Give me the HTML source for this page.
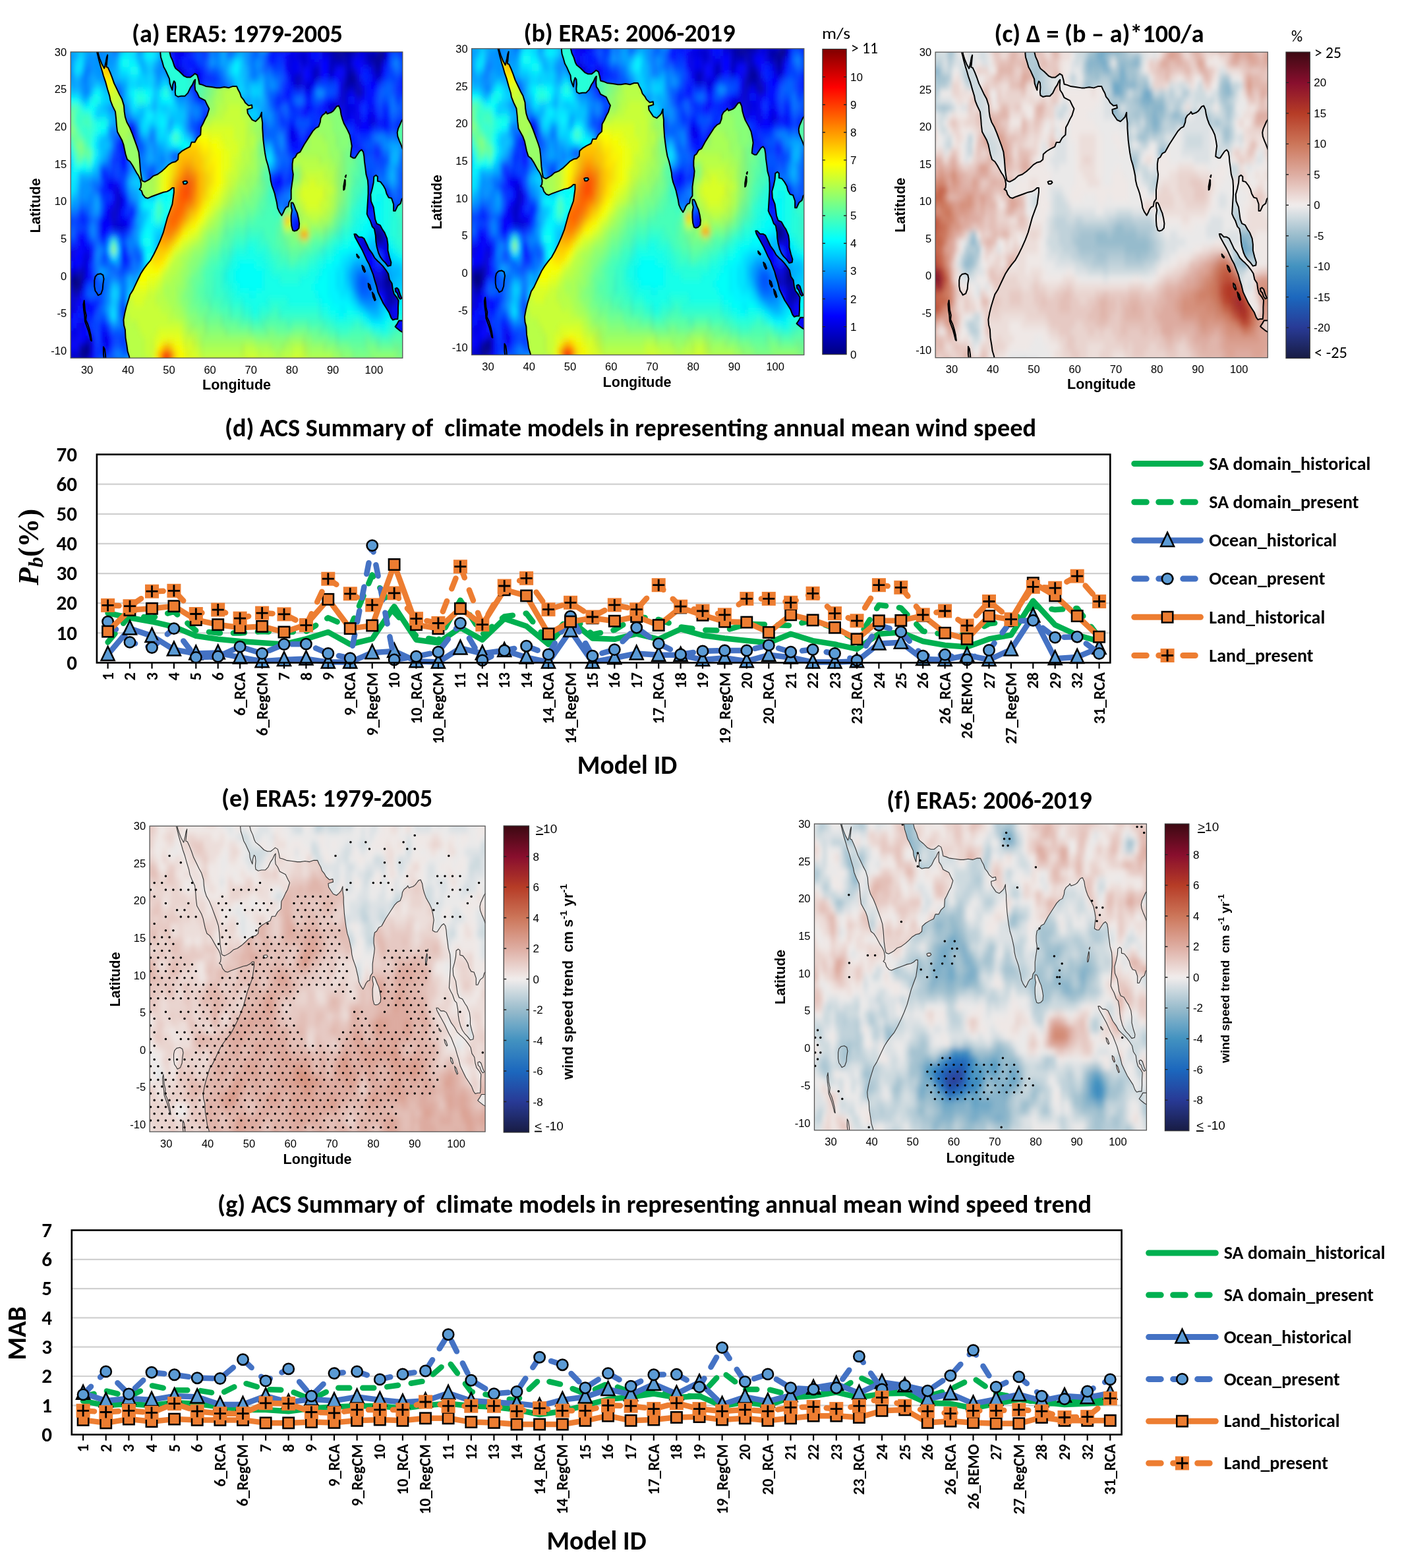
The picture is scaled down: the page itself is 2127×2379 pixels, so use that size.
<!DOCTYPE html><html><head><meta charset="utf-8"><title>Figure</title><style>html,body{margin:0;padding:0;background:#fff;}svg{display:block;}</style></head><body><svg width="2127" height="2379" viewBox="0 0 2127 2379">
<rect width="2127" height="2379" fill="#fff"/>
<defs>
<path id="oceanp" d="M406 -140 405 -115 403 -108 399 -101 397 -93 394 -83 393 -72 390 -66 389 -59 392 -50 396 -41 401 -32 405 -25 412 -19 418 -12 424 -5 431 3 438 9 446 15 455 21 463 29 471 38 479 48 486 58 491 68 496 78 502 87 508 96 510 104 512 112 512 118 508 118 502 115 495 113 486 112 476 110 466 108 456 106 448 104 442 105 436 109 433 114 428 116 431 118 432 123 430 129 426 134 421 138 416 143 411 148 405 153 398 156 394 163 389 176 385 182 379 188 374 193 372 202 371 210 369 220 362 228 357 235 355 241 350 250 345 260 340 268 337 274 333 281 329 289 326 296 324 300 324 310 328 310 327 298 331 291 336 284 342 278 344 282 346 287 348 293 350 296 350 295 349 290 348 284 347 280 351 279 356 273 361 266 366 258 373 250 379 243 385 237 390 228 391 220 393 213 397 206 404 199 410 191 416 182 422 173 426 166 428 157 429 150 430 142 432 134 434 128 436 127 441 126 448 128 454 130 462 134 472 136 482 140 490 144 499 149 508 152 516 153 522 156 523 163 531 167 540 170 551 173 555 179 563 179 569 185 577 189 578 199 583 204 588 210 593 215 598 224 594 228 588 235 581 237 574 239 569 245 564 249 563 255 564 263 561 261 557 256 552 252 546 245 539 241 530 241 522 240 516 242 515 246 516 253 515 259 512 261 509 256 508 249 505 253 502 258 501 264 496 270 492 275 487 280 484 286 480 293 479 298 480 310 500 310 501 301 504 294 509 288 513 281 516 278 525 274 536 268 544 266 552 266 559 269 563 271 569 269 572 263 574 257 581 256 590 254 604 253 616 252 624 252 635 253 646 252 656 254 665 254 669 249 673 245 676 240 682 236 686 232 694 228 702 229 703 225 697 224 691 223 692 218 698 213 703 209 711 207 717 210 722 213 726 219 726 213 728 205 728 198 729 190 730 182 732 173 734 165 737 156 741 149 744 142 747 134 748 128 751 121 755 115 758 110 760 105 763 98 765 91 769 86 775 81 779 85 782 89 786 92 791 93 793 99 798 103 798 108 798 115 800 123 802 130 803 136 801 143 801 150 803 157 808 159 813 164 820 166 824 170 830 176 837 182 844 188 851 194 858 198 865 200 869 206 870 211 874 215 881 218 883 220 886 217 891 218 896 219 901 221 905 224 909 227 914 228 918 223 920 216 923 210 927 204 931 200 936 195 941 189 944 181 946 174 944 166 943 160 949 158 954 158 960 163 965 167 970 169 974 166 976 160 977 153 979 145 981 136 985 128 986 120 986 110 985 101 984 92 983 83 986 79 991 74 996 66 1001 63 1004 54 1005 46 1007 39 1011 31 1015 26 1020 22 1027 18 1034 13 1041 14 1042 18 1038 25 1034 34 1034 42 1032 50 1026 58 1021 62 1015 68 1007 70 1003 76 1001 84 999 92 993 100 992 109 996 117 999 125 1000 133 1005 135 1009 133 1009 127 1016 126 1023 121 1028 116 1031 110 1036 105 1043 104 1048 96 1048 87 1052 87 1058 94 1065 97 1068 103 1072 105 1100 105 1100 165 1075 166 1070 170 1066 176 1062 181 1058 187 1057 192 1059 197 1063 202 1067 207 1072 211 1100 212 1100 -140zM798 98 802 98 805 95 809 89 813 84 816 77 818 70 817 64 812 61 806 60 802 61 799 67 798 74 798 81 800 88 798 93zM952 56 956 56 963 52 970 52 976 50 983 42 988 36 996 30 1002 24 1009 20 1015 17 1022 13 1029 8 1035 3 1038 -5 1044 -10 1046 -18 1049 -24 1056 -29 1060 -33 1059 -42 1059 -50 1058 -58 1052 -58 1046 -59 1042 -56 1037 -49 1030 -43 1023 -37 1016 -29 1010 -22 1006 -13 1002 -6 998 2 993 9 988 16 982 22 977 28 972 34 968 38 963 43 958 48 954 52zM1052 -68 1057 -64 1061 -60 1067 -60 1073 -60 1085 -65 1085 -80 1075 -77 1065 -74 1056 -70zM1052 -17 1056 -16 1060 -18 1064 -25 1068 -30 1064 -31 1060 -28 1057 -23 1053 -21zM534 126 538 127 543 127 545 125 541 123 536 123zM929 129 930 128 930 122 928 116 926 115 926 120 928 126zM930 133 932 135 931 132zM958 29 964 25 963 24 959 26zM971 14 975 12 979 6 977 5 973 9zM986 -10 990 -12 993 -18 991 -19 987 -15zM996 -22 1000 -25 1004 -32 1002 -33 998 -28z"/>
<path id="coast" vector-effect="non-scaling-stroke" stroke-linejoin="round" d="M406 -140 405 -115 403 -108 399 -101 397 -93 394 -83 393 -72 390 -66 389 -59 392 -50 396 -41 401 -32 405 -25 412 -19 418 -12 424 -5 431 3 438 9 446 15 455 21 463 29 471 38 479 48 486 58 491 68 496 78 502 87 508 96 510 104 512 112 512 118 508 118 502 115 495 113 486 112 476 110 466 108 456 106 448 104 442 105 436 109 433 114 428 116 431 118 432 123 430 129 426 134 421 138 416 143 411 148 405 153 398 156 394 163 389 176 385 182 379 188 374 193 372 202 371 210 369 220 362 228 357 235 355 241 350 250 345 260 340 268 337 274 333 281 329 289 326 296 324 300 324 310 328 310 327 298 331 291 336 284 342 278 344 282 346 287 348 293 350 296 350 295 349 290 348 284 347 280 351 279 356 273 361 266 366 258 373 250 379 243 385 237 390 228 391 220 393 213 397 206 404 199 410 191 416 182 422 173 426 166 428 157 429 150 430 142 432 134 434 128 436 127 441 126 448 128 454 130 462 134 472 136 482 140 490 144 499 149 508 152 516 153 522 156 523 163 531 167 540 170 551 173 555 179 563 179 569 185 577 189 578 199 583 204 588 210 593 215 598 224 594 228 588 235 581 237 574 239 569 245 564 249 563 255 564 263 561 261 557 256 552 252 546 245 539 241 530 241 522 240 516 242 515 246 516 253 515 259 512 261 509 256 508 249 505 253 502 258 501 264 496 270 492 275 487 280 484 286 480 293 479 298 480 310 500 310 501 301 504 294 509 288 513 281 516 278 525 274 536 268 544 266 552 266 559 269 563 271 569 269 572 263 574 257 581 256 590 254 604 253 616 252 624 252 635 253 646 252 656 254 665 254 669 249 673 245 676 240 682 236 686 232 694 228 702 229 703 225 697 224 691 223 692 218 698 213 703 209 711 207 717 210 722 213 726 219 726 213 728 205 728 198 729 190 730 182 732 173 734 165 737 156 741 149 744 142 747 134 748 128 751 121 755 115 758 110 760 105 763 98 765 91 769 86 775 81 779 85 782 89 786 92 791 93 793 99 798 103 798 108 798 115 800 123 802 130 803 136 801 143 801 150 803 157 808 159 813 164 820 166 824 170 830 176 837 182 844 188 851 194 858 198 865 200 869 206 870 211 874 215 881 218 883 220 886 217 891 218 896 219 901 221 905 224 909 227 914 228 918 223 920 216 923 210 927 204 931 200 936 195 941 189 944 181 946 174 944 166 943 160 949 158 954 158 960 163 965 167 970 169 974 166 976 160 977 153 979 145 981 136 985 128 986 120 986 110 985 101 984 92 983 83 986 79 991 74 996 66 1001 63 1004 54 1005 46 1007 39 1011 31 1015 26 1020 22 1027 18 1034 13 1041 14 1042 18 1038 25 1034 34 1034 42 1032 50 1026 58 1021 62 1015 68 1007 70 1003 76 1001 84 999 92 993 100 992 109 996 117 999 125 1000 133 1005 135 1009 133 1009 127 1016 126 1023 121 1028 116 1031 110 1036 105 1043 104 1048 96 1048 87 1052 87 1058 94 1065 97 1068 103 1072 105 1100 105 1100 165 1075 166 1070 170 1066 176 1062 181 1058 187 1057 192 1059 197 1063 202 1067 207 1072 211 1100 212 1100 -140zM798 98 802 98 805 95 809 89 813 84 816 77 818 70 817 64 812 61 806 60 802 61 799 67 798 74 798 81 800 88 798 93zM952 56 956 56 963 52 970 52 976 50 983 42 988 36 996 30 1002 24 1009 20 1015 17 1022 13 1029 8 1035 3 1038 -5 1044 -10 1046 -18 1049 -24 1056 -29 1060 -33 1059 -42 1059 -50 1058 -58 1052 -58 1046 -59 1042 -56 1037 -49 1030 -43 1023 -37 1016 -29 1010 -22 1006 -13 1002 -6 998 2 993 9 988 16 982 22 977 28 972 34 968 38 963 43 958 48 954 52zM1052 -68 1057 -64 1061 -60 1067 -60 1073 -60 1085 -65 1085 -80 1075 -77 1065 -74 1056 -70zM1052 -17 1056 -16 1060 -18 1064 -25 1068 -30 1064 -31 1060 -28 1057 -23 1053 -21zM534 126 538 127 543 127 545 125 541 123 536 123zM929 129 930 128 930 122 928 116 926 115 926 120 928 126zM930 133 932 135 931 132zM958 29 964 25 963 24 959 26zM971 14 975 12 979 6 977 5 973 9zM986 -10 990 -12 993 -18 991 -19 987 -15zM996 -22 1000 -25 1004 -32 1002 -33 998 -28zM320 -1 325 2 333 3 339 1 341 -4 339 -11 338 -18 334 -24 327 -26 324 -23 320 -20 318 -14 318 -6zM293 -33 294 -39 295 -46 298 -53 297 -59 302 -65 306 -72 309 -79 311 -87 309 -86 306 -79 303 -73 299 -67 295 -61 294 -53 292 -46 291 -38zM340 -95 343 -98 345 -106 346 -115 347 -125 344 -124 342 -114 340 -105z"/>
<filter id="blA" x="-2%" y="-2%" width="104%" height="104%"><feGaussianBlur stdDeviation="3.2 5.5"/></filter>
<filter id="blB" x="-2%" y="-2%" width="104%" height="104%"><feGaussianBlur stdDeviation="3 5"/></filter>
</defs>
<clipPath id="bxa"><rect x="107.2" y="78.8" width="503.6" height="464.4"/></clipPath>
<clipPath id="oca"><use href="#oceanp" transform="matrix(0.62173,0,0,-1.13268,-54.449,418.605)" clip-rule="evenodd"/></clipPath>
<g clip-path="url(#bxa)">
<g filter="url(#blA)"><g transform="matrix(6.2173,0,0,11.3268,94.77,56.15)" fill="none" stroke-width="1.04"><path stroke="#000080" d="M26 0.5h1m42 0h1m1 0h1M70 1.5h1M77 2.5h1M75 26.5h3M39 27.5h1m34 0h2M39 28.5h2M39 29.5h2m25 0h1M38 30.5h4m24 0h1M38 31.5h5m22 0h2m13 0h1M2 32.5h2m35 0h5m22 0h1m12 0h2M3 33.5h1m36 0h5M44 34.5h1m19 0h2m1 0h1M41 35.5h3m2 0h1m2 0h1M38 36.5h7m1 0h1m2 0h2m5 0h3M38 37.5h9m2 0h3m4 0h5m5 0h1M32 38.5h1m2 0h1m2 0h15m3 0h6m4 0h1M34 39.5h3m2 0h14m3 0h1m1 0h1m7 0h2M31 40.5h1m2 0h4m1 0h2m1 0h1m1 0h8m1 0h4m2 0h2M31 41.5h3m3 0h4m4 0h4m2 0h7m2 0h1M5 42.5h1m25 0h4m1 0h4m2 0h2m7 0h1m3 0h3m5 0h1M31 43.5h10m1 0h3m5 0h4m2 0h5m1 0h2m3 0h2M28 44.5h2m2 0h9m2 0h4m3 0h5m3 0h6m1 0h5M28 45.5h2m3 0h8m2 0h5m6 0h2m3 0h5m2 0h2m1 0h1"/><path stroke="#000090" d="M27 0.5h1m35 0h2m3 0h1m1 0h1M68 1.5h2m1 0h1M67 2.5h1m10 0h1M70 5.5h1M69 27.5h1M65 28.5h2M38 29.5h1m26 0h1M65 30.5h1M79 31.5h1M4 32.5h1m60 0h1m1 0h1m5 0h2M2 33.5h1m64 0h1m3 0h1M40 34.5h2m1 0h1m22 0h1m1 0h1m1 0h2M35 35.5h2m2 0h2m3 0h1m2 0h1m19 0h3M34 36.5h1m16 0h1m7 0h1M47 37.5h1m4 0h1m2 0h1M33 38.5h2m1 0h1m16 0h1m1 0h1m9 0h1M31 39.5h2m4 0h2m14 0h3m1 0h1m1 0h1m1 0h1M30 40.5h1m1 0h2m4 0h1m2 0h1m1 0h1m8 0h1m4 0h1m3 0h1m4 0h2m1 0h2M5 41.5h2m23 0h1m3 0h3m12 0h1m11 0h1m13 0h1M4 42.5h1m30 0h1m4 0h1m6 0h2m3 0h2m8 0h1m1 0h1m2 0h1M29 43.5h1m15 0h1m1 0h1m13 0h1m4 0h1M47 44.5h1M41 45.5h1m7 0h3m4 0h1m11 0h1"/><path stroke="#0000a0" d="M30 0.5h2m40 0h1M66 2.5h1m1 0h1m6 0h2M76 3.5h2M71 5.5h1M69 6.5h1M72 7.5h1M64 24.5h2M76 25.5h1M69 26.5h1m4 0h1M68 27.5h1m7 0h2M67 28.5h1M67 31.5h1M71 32.5h2m2 0h1m5 0h1M4 33.5h1m34 0h1m24 0h3m5 0h2m1 0h2m2 0h1M35 34.5h1m6 0h1m2 0h2m22 0h1M34 35.5h1m3 0h1m9 0h1m16 0h2m13 0h1M33 36.5h1m11 0h1m1 0h1m7 0h1m10 0h2M33 37.5h2m2 0h1m10 0h1m16 0h1m1 0h1m10 0h1M37 38.5h1m16 0h1m7 0h2m3 0h1M33 39.5h1m28 0h1m5 0h1m2 0h1m2 0h1M58 40.5h1m3 0h1m5 0h1m5 0h2m7 0h1M42 41.5h3m5 0h1m8 0h1m2 0h2M0 42.5h1m5 0h1m23 0h1m13 0h2m4 0h1m3 0h1m11 0h1m1 0h1m6 0h1m3 0h1M30 43.5h1m10 0h1m12 0h1m9 0h2m3 0h1m8 0h2M41 44.5h2M30 45.5h1m1 0h1m9 0h1m15 0h1m6 0h1"/><path stroke="#0000b0" d="M65 0.5h1M26 1.5h1m37 0h4m9 0h1M69 2.5h1m4 0h1M69 3.5h1m5 0h1M65 4.5h1m4 0h1m5 0h2M57 5.5h1m11 0h1M70 6.5h2M66 9.5h1M69 17.5h1M68 18.5h1M65 23.5h1M65 25.5h1m11 0h1M68 26.5h1m1 0h1m7 0h1M78 27.5h1M64 28.5h1m3 0h1M41 29.5h1m25 0h1m15 0h1M4 31.5h1m38 0h1m27 0h1M64 32.5h1m11 0h1m1 0h1M45 33.5h1m22 0h1m1 0h1m3 0h1m3 0h1m1 0h1M3 34.5h1m32 0h1m2 0h1m35 0h1m3 0h3M45 35.5h1m18 0h1m5 0h1m8 0h1M48 36.5h1m19 0h2M77 37.5h1m1 0h1M64 38.5h1m13 0h1M60 39.5h1m2 0h1m5 0h1m5 0h1M71 40.5h1M0 41.5h1m3 0h1m61 0h1m2 0h1m4 0h1m4 0h1m3 0h1M29 42.5h1m11 0h1m7 0h1m8 0h1m2 0h1m12 0h1M2 43.5h1m2 0h1m40 0h1m1 0h2m5 0h1M5 44.5h1m24 0h2m17 0h1m7 0h1m6 0h1M48 45.5h1m4 0h1m3 0h1"/><path stroke="#0000c0" d="M25 0.5h1m3 0h1m2 0h1M63 1.5h1m14 0h1M65 2.5h1m4 0h1M65 3.5h4M61 4.5h2m6 0h1M29 5.5h1m31 0h1M57 6.5h1m10 0h1m3 0h1M68 7.5h1m2 0h1M68 8.5h1M65 9.5h1M66 10.5h1M15 13.5h1M60 15.5h1M69 18.5h1M13 21.5h1M13 22.5h1M12 23.5h1M12 24.5h1M64 25.5h1m5 0h2M71 26.5h1M63 27.5h5m2 0h2M64 29.5h1M79 30.5h2M2 31.5h2m1 0h1m58 0h1m5 0h1m2 0h2m3 0h1m2 0h1M1 32.5h1m36 0h1M77 33.5h1m3 0h1M2 34.5h1m69 0h1m9 0h1M37 35.5h1m43 0h1M2 36.5h1m32 0h3m14 0h1M0 37.5h1m34 0h2m16 0h2m6 0h1M68 38.5h2m9 0h1M64 39.5h2m4 0h1m7 0h1m4 0h1M6 40.5h1m70 0h2M29 41.5h1m11 0h1m23 0h1m2 0h1m1 0h1m5 0h1m1 0h1M1 42.5h1m44 0h1m13 0h1m4 0h1m10 0h1m1 0h1m5 0h1M0 43.5h1m2 0h2m23 0h1M55 44.5h1m24 0h1M5 45.5h1m46 0h1m11 0h1"/><path stroke="#0000d0" d="M28 0.5h1m33 0h1m10 0h1M27 1.5h4m28 0h1m12 0h3M57 2.5h3m11 0h1M58 3.5h2m10 0h1m3 0h1M27 4.5h2m42 0h1M28 5.5h1m3 0h1m23 0h1m1 0h1m3 0h1m2 0h1m10 0h2M59 6.5h2M69 7.5h1m3 0h1M67 9.5h1m1 0h1M69 10.5h1M67 11.5h1m7 0h1M16 13.5h1M15 14.5h1M61 15.5h1M61 16.5h1m6 0h2M68 17.5h1M68 19.5h1M13 20.5h1M13 23.5h1m50 0h1m1 0h1m1 0h2M69 24.5h2M12 25.5h3m54 0h1m5 0h1m2 0h1M63 26.5h3m1 0h1M73 27.5h1M63 28.5h1m5 0h1m4 0h2M2 29.5h1m2 0h1m73 0h1M5 30.5h1m58 0h1m2 0h1m3 0h1M37 31.5h1m34 0h1M5 32.5h1m38 0h1m18 0h1m4 0h1m1 0h1m6 0h1M36 33.5h1m1 0h1m24 0h1M38 34.5h1m24 0h1m10 0h1M2 35.5h1m47 0h1m20 0h1M54 36.5h1m10 0h1m4 0h1m6 0h3m4 0h1M62 37.5h3m4 0h1m5 0h1M0 38.5h1m3 0h1m26 0h1m39 0h1m2 0h2m1 0h1m2 0h1M30 39.5h1m41 0h1m6 0h1M65 40.5h1m7 0h1m2 0h1m5 0h1M58 41.5h1m8 0h1m9 0h1m2 0h1m1 0h1m1 0h1M2 42.5h2m55 0h1m9 0h1m10 0h1m2 0h1m1 0h1M1 43.5h1m68 0h2m3 0h1m4 0h1m3 0h1M2 44.5h1m1 0h1m43 0h1m7 0h1m13 0h1m8 0h1m1 0h1M80 45.5h1"/><path stroke="#0000e1" d="M61 0.5h1m5 0h1m9 0h1M58 1.5h1m16 0h2M55 2.5h2m6 0h2m7 0h2M55 3.5h1m4 0h1m1 0h1m10 0h1m4 0h1M29 4.5h1m25 0h1m2 0h1m7 0h1m8 0h1M68 5.5h1m3 0h1M32 6.5h1m23 0h1m1 0h1M67 8.5h1m1 0h1m2 0h1M68 9.5h1m1 0h2M67 10.5h1m3 0h1m3 0h1M68 11.5h1m3 0h1m3 0h1M67 12.5h1M56 13.5h1M60 14.5h1M59 15.5h1M47 19.5h2m16 0h3m3 0h1M12 20.5h1M14 21.5h1m61 0h1M12 22.5h1m1 0h1m50 0h1m10 0h1M11 23.5h1m29 0h1M13 24.5h1m54 0h1M15 25.5h1m41 0h1m10 0h1M66 26.5h1m14 0h2M72 27.5h1M2 28.5h1m68 0h3m4 0h2m3 0h1M6 29.5h1m56 0h1m18 0h1M42 30.5h1m27 0h1m12 0h1M61 31.5h1m6 0h1m6 0h1m1 0h1M37 32.5h1m23 0h1m20 0h1M1 33.5h1m67 0h1m12 0h1M4 34.5h1m32 0h1m22 0h1m15 0h1m1 0h1m4 0h1M3 35.5h1m55 0h1m24 0h1M0 36.5h2m51 0h1m6 0h1m14 0h1m4 0h1M68 37.5h1m1 0h1m5 0h1m3 0h1m4 0h1M72 38.5h1m12 0h1M2 39.5h2m69 0h1m8 0h1M2 40.5h1m7 0h1m61 0h1m11 0h1M1 41.5h1m8 0h1m53 0h1m6 0h1m1 0h1m7 0h1m3 0h1M72 42.5h2M6 43.5h1m65 0h1m10 0h1M0 44.5h2m1 0h1m74 0h1M4 45.5h1m2 0h1m23 0h1m38 0h1m4 0h1m5 0h1"/><path stroke="#0000f1" d="M59 0.5h2m5 0h1m18 0h1M31 1.5h1m25 0h1M28 2.5h1m31 0h1m18 0h1M28 3.5h1m25 0h1m1 0h2m3 0h1M32 4.5h1m23 0h2m2 0h1m7 0h1M27 5.5h1m2 0h2m1 0h1m21 0h1m4 0h1m6 0h1m7 0h1M33 6.5h1m39 0h1M59 7.5h2m6 0h1m2 0h1M66 8.5h1m4 0h1M59 9.5h1m4 0h1m10 0h1M65 10.5h1m2 0h1m1 0h1m1 0h1M69 11.5h1m1 0h1m2 0h1m3 0h1M16 12.5h2m37 0h2M17 13.5h1m37 0h1m4 0h1M16 14.5h1m44 0h1M15 15.5h1M60 16.5h1m4 0h1M70 18.5h1M11 19.5h2m57 0h1M66 20.5h2m3 0h1M78 21.5h2M41 22.5h1m26 0h2m3 0h3M67 23.5h1M10 24.5h2m2 0h2m41 0h1m8 0h1m9 0h1M9 25.5h1m53 0h1m2 0h1m12 0h1m1 0h2M57 26.5h1m14 0h2m6 0h1m2 0h1M4 27.5h1m51 0h2m21 0h6M3 28.5h1m1 0h2m50 0h1m12 0h1m5 0h1m5 0h1M68 29.5h1m2 0h1m8 0h1M4 30.5h1m67 0h1m5 0h1m2 0h1M1 31.5h1m67 0h1m6 0h1M37 33.5h1m22 0h1m22 0h1M1 34.5h1m45 0h1m13 0h1m11 0h1M1 35.5h1m3 0h1m54 0h1m2 0h1m8 0h1m2 0h1m2 0h1m3 0h1M3 36.5h1m60 0h1m6 0h1m4 0h1m6 0h1m1 0h1M71 37.5h2m1 0h1m6 0h1m2 0h1M5 38.5h1m64 0h1m10 0h1M1 39.5h1m2 0h1m5 0h1m66 0h1m6 0h1M1 40.5h1m1 0h1m1 0h1m1 0h1m55 0h1m15 0h1M3 41.5h1m3 0h1m64 0h1M7 42.5h1m63 0h1m5 0h1M74 43.5h1m2 0h1m4 0h1m2 0h1M6 44.5h2m63 0h1m3 0h1m6 0h1m1 0h2M6 45.5h1m72 0h1m5 0h1"/><path stroke="#0002ff" d="M33 0.5h1m17 0h2m23 0h1M52 1.5h1m3 0h1m3 0h3m16 0h1M27 2.5h1m1 0h1m24 0h1M27 3.5h1m35 0h2m6 0h2M33 4.5h1m20 0h1m4 0h1m3 0h2m2 0h1m4 0h1m5 0h1M59 5.5h1m3 0h1m2 0h1M29 6.5h1m1 0h1m29 0h1m5 0h1m7 0h2M33 7.5h1m41 0h1M65 8.5h1m7 0h1m1 0h1M60 9.5h1m2 0h1m8 0h1M59 10.5h1m14 0h1m1 0h1M66 11.5h1m6 0h1m3 0h1M68 12.5h1m3 0h3M57 13.5h1m1 0h1m7 0h2M14 14.5h1m41 0h1m2 0h1M58 15.5h1m6 0h2m1 0h1m3 0h1M15 16.5h1m50 0h1M65 17.5h1M47 18.5h2m16 0h3m3 0h2M13 19.5h1m38 0h2m4 0h1m10 0h1m2 0h1M11 20.5h1m53 0h1m4 0h1m1 0h2m2 0h1M12 21.5h1m56 0h1m3 0h1m1 0h1m1 0h1M11 22.5h1m65 0h3M10 23.5h1m3 0h1m27 0h1M9 24.5h1m6 0h1m41 0h1m12 0h1m5 0h1m2 0h2M10 25.5h2m46 0h1m8 0h1m12 0h1m2 0h1M4 26.5h1m4 0h2m45 0h1m22 0h1m4 0h1M0 27.5h1m4 0h1m79 0h1M1 28.5h1m2 0h1m36 0h1m14 0h1m1 0h1m3 0h1m14 0h1m2 0h1m3 0h1M1 29.5h1m1 0h2m10 0h1m46 0h1m9 0h4m2 0h1m2 0h1m2 0h1M2 30.5h2m2 0h1m56 0h1m5 0h1m3 0h3m8 0h1M6 31.5h1m56 0h1m18 0h1M6 32.5h1m55 0h1m20 0h1m1 0h1M62 33.5h1M62 34.5h1m14 0h1m6 0h1M4 35.5h1m1 0h1m51 0h1m2 0h1m12 0h1m8 0h1M6 36.5h2m53 0h1m1 0h1m8 0h1m1 0h1m6 0h2M1 37.5h2m29 0h1m49 0h2M3 38.5h1m69 0h1m2 0h1m5 0h1m1 0h1M0 39.5h1m4 0h1m70 0h1m3 0h1m4 0h1M0 40.5h1m3 0h1m6 0h1m52 0h1m15 0h2m3 0h1M2 41.5h1m8 0h1M70 42.5h1m10 0h2M7 43.5h1m65 0h1m2 0h1m4 0h1M72 44.5h1M8 45.5h1m63 0h3m1 0h1"/><path stroke="#0012ff" d="M74 0.5h1m3 0h1m5 0h1M25 1.5h1m25 0h1m1 0h1m1 0h1m24 0h1M26 2.5h1m3 0h1m19 0h2m1 0h1m7 0h2M30 3.5h3m18 0h1M30 4.5h1m42 0h2M35 5.5h1m28 0h1m13 0h1M28 6.5h1m1 0h1m24 0h1m18 0h1m8 0h1M54 7.5h2m18 0h1M54 8.5h1m5 0h1m3 0h1m5 0h1m3 0h1m10 0h1M62 9.5h1m11 0h1M58 10.5h1M34 11.5h2m34 0h1m8 0h1M60 12.5h2m9 0h1m3 0h1M14 13.5h1m46 0h1M46 14.5h1m8 0h1m1 0h2m12 0h1M56 15.5h2m4 0h1m6 0h1m3 0h1m2 0h1M14 16.5h1m44 0h1m2 0h1m4 0h1m2 0h1M15 17.5h1m45 0h1m4 0h2m2 0h1M10 18.5h1m47 0h1M10 19.5h1m35 0h1m4 0h1m7 0h1m4 0h1M10 20.5h1m3 0h1m49 0h1m3 0h2M15 21.5h1m58 0h1M15 22.5h1m26 0h1m23 0h2M70 23.5h1m3 0h1m1 0h1m2 0h3M41 24.5h1m21 0h1m15 0h1M16 25.5h1m32 0h1m6 0h1m2 0h1m14 0h1M0 26.5h1m4 0h1m49 0h1m2 0h2M3 27.5h1m36 0h1m14 0h1m2 0h2M7 28.5h1m73 0h1m3 0h1M69 29.5h2M15 30.5h1m52 0h1m7 0h1m5 0h1M62 31.5h1m20 0h1M0 32.5h1m6 0h1m50 0h3m8 0h1M5 33.5h1m55 0h1m22 0h2M57 34.5h1M0 35.5h1m61 0h1m10 0h1M4 36.5h2m56 0h1M3 37.5h3M1 38.5h2m80 0h1M6 39.5h1m2 0h1m71 0h1M9 40.5h1M19 41.5h1M74 44.5h1m2 0h1m5 0h1M78 45.5h1m3 0h1"/><path stroke="#0022ff" d="M53 0.5h1m2 0h1m18 0h1m4 0h1M32 1.5h1m21 0h1m28 0h1M31 2.5h1m20 0h1m29 0h1M26 3.5h1m2 0h1m20 0h1m28 0h1M26 4.5h1m4 0h1m2 0h1M34 5.5h1m1 0h1m36 0h2m7 0h2M54 6.5h1m27 0h1M32 7.5h1m1 0h1m22 0h1m18 0h1m5 0h2M33 8.5h2m17 0h2m1 0h1m3 0h1M56 9.5h1m1 0h1m2 0h1m14 0h1m1 0h1m6 0h1M62 10.5h3m8 0h1m4 0h2M16 11.5h1m38 0h2m4 0h1M15 12.5h1m17 0h1m23 0h1m20 0h2M46 13.5h2m14 0h2m5 0h3M13 14.5h1m48 0h1m2 0h2m1 0h3m1 0h1M14 15.5h1m56 0h1m5 0h1M12 16.5h1m34 0h1M14 17.5h1M52 18.5h2m2 0h1m16 0h1M49 19.5h1M9 20.5h1m37 0h2m2 0h2m21 0h2M63 21.5h3m2 0h1M10 22.5h1m29 0h1M16 23.5h2m22 0h1m34 0h1m1 0h1M4 24.5h2m36 0h1m6 0h2m5 0h1m10 0h1m6 0h2m2 0h1m3 0h1M40 25.5h1m4 0h1m2 0h1m1 0h1m21 0h1M3 26.5h1m10 0h1m24 0h2m44 0h1M6 27.5h1M0 28.5h1m54 0h1m3 0h1M7 29.5h1m49 0h1m18 0h1M1 30.5h1m60 0h1m14 0h1M84 31.5h2M36 32.5h1m47 0h1M0 33.5h1m34 0h1m18 0h1m2 0h1m1 0h1M0 34.5h1m55 0h1M7 35.5h2m68 0h1M73 36.5h1M6 37.5h2m65 0h1M6 38.5h1m2 0h2M11 39.5h1M9 41.5h1m8 0h1M10 42.5h1M8 44.5h1m64 0h1m2 0h1M2 45.5h2m14 0h1m58 0h1m6 0h1"/><path stroke="#0033ff" d="M24 0.5h1m29 0h2m1 0h2m22 0h1m1 0h1M33 1.5h2m46 0h2m1 0h2M34 2.5h1m48 0h1M52 3.5h2M79 4.5h1m3 0h1M37 5.5h1m16 0h1M27 6.5h1m6 0h1m42 0h1m3 0h1m2 0h1M53 7.5h1m2 0h1m1 0h1m22 0h1M40 8.5h1m22 0h1m12 0h1M52 9.5h1m2 0h1m1 0h1m15 0h1m5 0h1M34 10.5h2m17 0h1m2 0h2m2 0h2m15 0h1m7 0h1M33 11.5h1m19 0h2m7 0h1m2 0h1m15 0h3M34 12.5h2m11 0h2m10 0h1m2 0h3m5 0h1m5 0h2m3 0h2M58 13.5h1m5 0h1m1 0h1m5 0h3m10 0h1M17 14.5h1m27 0h1m1 0h1m28 0h1m8 0h1M13 15.5h1m2 0h1m29 0h2m7 0h1m11 0h1m2 0h1M13 16.5h1m43 0h2m4 0h2m11 0h1M12 17.5h1m34 0h1m8 0h3m1 0h1m11 0h1M11 18.5h2m8 0h1m27 0h1m1 0h1m3 0h1m1 0h1m1 0h1m1 0h1m2 0h1M14 19.5h1m6 0h1m28 0h1m3 0h4m15 0h1M53 20.5h1m4 0h1m4 0h1m13 0h3M10 21.5h2m29 0h1m25 0h1m2 0h1m1 0h1M50 22.5h2m12 0h1m7 0h1M4 23.5h1m10 0h1m34 0h2m6 0h1m14 0h1m4 0h1M3 24.5h1m36 0h1m7 0h1m10 0h1m25 0h1M5 25.5h1m35 0h1m13 0h1m28 0h2M11 26.5h1m1 0h1m1 0h1m31 0h2m5 0h1m5 0h1M1 27.5h2m7 0h1M14 28.5h2m28 0h1M10 29.5h1m3 0h1m41 0h1m28 0h1M43 30.5h1m5 0h1m11 0h1m23 0h1M0 31.5h1m6 0h1M57 32.5h1M58 33.5h1M5 34.5h1m43 0h1m35 0h1M76 35.5h1m8 0h1M8 36.5h1m5 0h1M15 37.5h1M7 39.5h1M12 40.5h1m1 0h1m4 0h1M8 41.5h1M8 42.5h2m1 0h1M8 43.5h1M0 45.5h2m9 0h1m59 0h1"/><path stroke="#0043ff" d="M19 0.5h1m59 0h1m2 0h1M35 1.5h1m14 0h1M25 2.5h1m6 0h1m2 0h1M33 3.5h2M35 4.5h1m15 0h3m26 0h1M79 5.5h3m2 0h1M35 6.5h3m15 0h1m8 0h5M13 7.5h1m26 0h1m11 0h1m13 0h1M32 8.5h1m18 0h1m26 0h1m2 0h2M34 9.5h1m1 0h1m40 0h1M36 10.5h1m18 0h1m26 0h3M17 11.5h1m42 0h1m2 0h2m15 0h1m3 0h2M32 12.5h1m21 0h1m3 0h1m7 0h1m2 0h1m10 0h1M18 13.5h1m14 0h1m11 0h1m8 0h1m10 0h1M18 14.5h1m44 0h2m2 0h1m5 0h1M12 15.5h1m25 0h1m35 0h2M56 16.5h1m15 0h2m3 0h2M10 17.5h1m2 0h1m41 0h1m3 0h1m4 0h1m8 0h1m3 0h1M9 18.5h1m3 0h3m16 0h1m12 0h2m3 0h1m3 0h1m19 0h2m7 0h1M44 19.5h2m14 0h1m13 0h3m6 0h1M44 20.5h1m5 0h1m31 0h1M9 21.5h1m32 0h1m8 0h1m14 0h1m4 0h1m10 0h1M16 22.5h1m28 0h3m22 0h1m9 0h3M5 23.5h1m41 0h2m8 0h1m14 0h1m9 0h1m2 0h1M1 24.5h2m3 0h1m38 0h1m9 0h1m16 0h1M3 25.5h2m34 0h1m4 0h1m1 0h1m4 0h1m8 0h1M1 26.5h1m10 0h1m28 0h1m2 0h3M7 27.5h1m1 0h1m4 0h1m26 0h1m12 0h1m5 0h1m1 0h1M42 28.5h2m16 0h1M0 29.5h1m15 0h1m1 0h1m23 0h1m1 0h1m32 0h1M0 30.5h1m6 0h1m6 0h1m1 0h1m27 0h1M14 31.5h1M8 32.5h1m45 0h1M55 33.5h1M50 34.5h1m4 0h1m2 0h2M9 35.5h1m4 0h1m42 0h1M16 37.5h1M7 38.5h2m6 0h2M8 39.5h1M8 40.5h1m4 0h1m1 0h1m2 0h1M12 41.5h1m1 0h2m4 0h1M19 42.5h1M12 43.5h1m13 0h1M12 44.5h1m6 0h1M10 45.5h1m6 0h1m65 0h1"/><path stroke="#0053ff" d="M18 0.5h1m15 0h1M13 1.5h1m33 0h1M33 2.5h1m15 0h1m30 0h2M25 3.5h1m23 0h1m32 0h2M36 4.5h2m11 0h1m32 0h1m1 0h1M26 5.5h1m11 0h1m14 0h1M38 6.5h2m38 0h1m1 0h1M31 7.5h1m5 0h1m23 0h1m2 0h2m11 0h1m2 0h1m3 0h2M13 8.5h1m42 0h1m4 0h2m14 0h1m1 0h1m3 0h1M13 9.5h1m21 0h1m1 0h1m13 0h1m1 0h1m28 0h2M37 10.5h1m14 0h1m1 0h1m26 0h1M31 11.5h2m3 0h1m15 0h1m4 0h3M14 12.5h1m16 0h1m17 0h1m3 0h1m29 0h3M13 13.5h1m18 0h1m2 0h1m12 0h1m26 0h1m8 0h1M19 14.5h1m34 0h1m19 0h2m1 0h1m6 0h1M17 15.5h1m9 0h1m9 0h1m7 0h1m6 0h1m1 0h1m8 0h2m18 0h2M27 16.5h1m18 0h1m8 0h1m15 0h1m2 0h2m3 0h1m3 0h1M9 17.5h1m1 0h1m36 0h1m4 0h2m7 0h1m8 0h1m2 0h3m1 0h1m6 0h1M22 18.5h1m10 0h1m26 0h1m15 0h1m5 0h1m1 0h1M9 19.5h1m22 0h2m27 0h1m1 0h1m18 0h1m1 0h1M8 20.5h1m6 0h1m18 0h1m10 0h2m2 0h1m4 0h1m4 0h1M43 21.5h2m5 0h1m1 0h1m27 0h1M17 22.5h1m25 0h2m9 0h1m8 0h1M9 23.5h1m33 0h1m5 0h1m5 0h1m15 0h1M0 24.5h1m7 0h1m8 0h1m25 0h1m7 0h1m21 0h1m9 0h1M0 25.5h3m5 0h1m33 0h1m4 0h1m25 0h1M6 26.5h1m1 0h1m7 0h1m32 0h1m3 0h1M44 27.5h1m2 0h2m4 0h1M10 28.5h1m50 0h1M43 29.5h1m11 0h1m2 0h1M10 30.5h1m37 0h1m7 0h2M13 31.5h1m1 0h1m28 0h1m6 0h1m5 0h1M51 32.5h1M6 33.5h4m39 0h3m4 0h1M8 34.5h2m24 0h1m19 0h1M56 35.5h1M15 36.5h1M8 37.5h3m3 0h1M11 38.5h1m6 0h1M12 39.5h4M13 41.5h1M15 42.5h1m2 0h1m1 0h2M13 43.5h1m5 0h1m2 0h2m1 0h1m1 0h1M13 44.5h1m4 0h1m4 0h1m2 0h2M9 45.5h1m9 0h1m3 0h2m2 0h1"/><path stroke="#0063ff" d="M13 0.5h1m6 0h1m14 0h1m6 0h1m7 0h1M12 1.5h1m24 0h1M40 2.5h1m5 0h2m36 0h2M35 3.5h1m44 0h1m4 0h1M50 4.5h1m30 0h1m3 0h1M52 5.5h1M13 6.5h1m65 0h1M30 7.5h1m7 0h2m1 0h1m8 0h2m26 0h2M31 8.5h1m3 0h1m5 0h1m8 0h1m7 0h1m25 0h1M14 9.5h1m24 0h1m14 0h1m26 0h1m2 0h1M31 10.5h1m6 0h2m40 0h1M48 11.5h2M18 12.5h1m31 0h3M12 13.5h1m21 0h1m14 0h3m27 0h1m1 0h2M12 14.5h1m24 0h2m9 0h1m3 0h1M18 15.5h2m28 0h1m4 0h1m24 0h1m6 0h1M11 16.5h1m26 0h1m9 0h1m4 0h2m27 0h1m1 0h2M16 17.5h1m4 0h2m29 0h1m29 0h2M20 18.5h1m23 0h1m17 0h1m14 0h2m6 0h1M15 19.5h1m6 0h1M33 20.5h1m6 0h2m13 0h1m25 0h1m1 0h2M40 21.5h1m4 0h3m5 0h1m8 0h1m18 0h1m1 0h1M4 22.5h1m4 0h1m38 0h1m3 0h1m2 0h1m6 0h1m22 0h1M0 23.5h2m1 0h1m2 0h1m38 0h2m7 0h1m1 0h1m2 0h1m3 0h1M7 24.5h1m36 0h1m1 0h2m12 0h1M6 25.5h1m10 0h1m25 0h1m10 0h1m7 0h1M2 26.5h1m40 0h1m8 0h1M8 27.5h1m6 0h1m26 0h2M17 28.5h2m35 0h1M9 29.5h1m7 0h1m29 0h3m3 0h2m6 0h1M9 30.5h1m1 0h2m5 0h1m35 0h2M12 31.5h1m3 0h1m28 0h1m3 0h2m1 0h1m1 0h1m3 0h1m1 0h1M14 32.5h1m30 0h1m4 0h1m1 0h2M10 33.5h1m41 0h2M6 34.5h2m6 0h1M21 35.5h2M9 36.5h1m12 0h1M17 38.5h1m5 0h1M18 39.5h2M29 40.5h1M16 41.5h2m5 0h2M12 42.5h1m3 0h1m5 0h6M9 43.5h3m9 0h1M9 44.5h1m1 0h1m2 0h1m7 0h1m2 0h1"/><path stroke="#0073ff" d="M4 0.5h2m17 0h1m21 0h1M24 1.5h1m11 0h1m3 0h3m3 0h1M37 2.5h1m3 0h1m6 0h1M46 3.5h1M1 4.5h1m4 0h1m18 0h1m12 0h1m7 0h1m1 0h1M5 5.5h1m33 0h1m6 0h1m4 0h1M40 6.5h1m11 0h1m32 0h1M14 7.5h1m13 0h2m5 0h2M36 8.5h1m2 0h1m17 0h1m22 0h1M12 9.5h1m20 0h1m4 0h1m1 0h1m9 0h1m29 0h1M15 10.5h1m17 0h1m17 0h1M15 11.5h1m35 0h1M12 12.5h1m23 0h1m9 0h1m18 0h1M21 13.5h1m14 0h1m15 0h1m23 0h1m3 0h1m2 0h1M32 14.5h2m17 0h1M79 15.5h1M16 16.5h1m2 0h1m4 0h1m1 0h1m1 0h1m8 0h1m6 0h2m6 0h1M19 17.5h2m9 0h3m11 0h2m17 0h1m20 0h1M31 18.5h1m31 0h1M7 19.5h2m11 0h1m20 0h1m20 0h1m14 0h2M7 20.5h1m13 0h1m13 0h1m7 0h1m13 0h1m2 0h1m19 0h1m4 0h1M16 21.5h1m31 0h1m5 0h1m4 0h1M5 22.5h2m32 0h1m9 0h1m3 0h1m5 0h1m1 0h1m9 0h1M2 23.5h1m41 0h1m15 0h1M39 24.5h1m44 0h1M42 26.5h1M45 27.5h1m3 0h1m11 0h1M8 28.5h1m7 0h1m28 0h1m1 0h1m5 0h1M19 29.5h1m25 0h1M8 30.5h1m8 0h1m27 0h1m4 0h1M8 31.5h1m2 0h1m5 0h1m35 0h1m1 0h2m2 0h1M9 32.5h3m1 0h1m32 0h1m8 0h1M14 33.5h1m33 0h1M10 34.5h1m37 0h1m4 0h1M10 35.5h1m44 0h1M18 37.5h1M14 38.5h1m4 0h1m4 0h1M23 39.5h3M16 40.5h1m3 0h1m2 0h1M21 41.5h2M14 42.5h1M14 43.5h1m9 0h1M10 44.5h1m10 0h1m2 0h1M12 45.5h1m3 0h1m4 0h2m3 0h1"/><path stroke="#0084ff" d="M3 0.5h1m5 0h1m2 0h1m9 0h1m23 0h2M9 1.5h2m27 0h1m6 0h1M8 2.5h2m2 0h1m11 0h1m11 0h1m8 0h1M0 3.5h2m4 0h1m3 0h1m13 0h1m12 0h1m7 0h1m2 0h1m32 0h1m2 0h1M0 4.5h1m4 0h1m17 0h1m15 0h1m7 0h1M1 5.5h1m8 0h1m12 0h1m23 0h1m1 0h2m34 0h1M5 6.5h1m6 0h1m36 0h2M5 7.5h2m20 0h1m21 0h1m13 0h1M14 8.5h1m15 0h1m6 0h1M15 9.5h1m15 0h2M13 10.5h2m1 0h1m15 0h1M30 11.5h1m6 0h1m1 0h1m10 0h1M11 12.5h1m1 0h1m16 0h1m8 0h1m5 0h1M22 13.5h1m30 0h1m23 0h2M20 14.5h1m1 0h1m13 0h1m16 0h1m24 0h1m4 0h1M11 15.5h1m8 0h1m1 0h1m3 0h1m1 0h1m15 0h1m37 0h1M0 16.5h1m17 0h1m10 0h1m9 0h1M17 17.5h2m4 0h1m5 0h1m16 0h1m32 0h1m1 0h1M16 18.5h1m13 0h1m11 0h2m37 0h1M6 19.5h1m27 0h1m5 0h1m2 0h1m35 0h1m1 0h1m3 0h1M4 20.5h1m37 0h1m19 0h1M4 21.5h1m1 0h2m26 0h1m14 0h1m5 0h1m2 0h1m25 0h2M7 22.5h1m50 0h1m1 0h1m22 0h1M7 23.5h1m10 0h1m20 0h1m12 0h1m8 0h1m21 0h1M54 24.5h1m7 0h1M7 25.5h1m44 0h1M7 26.5h1m9 0h1m32 0h2m10 0h1M16 27.5h2m20 0h1m7 0h1m5 0h1M9 28.5h1M8 29.5h1m2 0h1m34 0h1m3 0h1m8 0h2M13 30.5h1m33 0h1m5 0h1M18 31.5h1M12 32.5h1m2 0h1m33 0h1M11 33.5h1m3 0h1m30 0h1M15 34.5h1m5 0h1m30 0h1M15 35.5h1M10 36.5h1m12 0h1M17 37.5h1m4 0h2M13 38.5h1m11 0h1M16 39.5h1m9 0h1M17 40.5h1m6 0h1M25 41.5h4M13 42.5h1m14 0h1M18 43.5h1m1 0h1M20 44.5h1M14 45.5h1m10 0h1"/><path stroke="#0094ff" d="M8 0.5h1m8 0h1m3 0h1m14 0h1m4 0h1m1 0h1m4 0h1M0 1.5h1m7 0h1m2 0h1m6 0h2m19 0h1m3 0h2m3 0h2M0 2.5h3m3 0h2m2 0h2m1 0h1m24 0h1m5 0h1M7 3.5h3m1 0h2m10 0h1m12 0h1m1 0h1m8 0h1M7 4.5h4m11 0h1m1 0h1m20 0h1M2 5.5h1m1 0h1m1 0h1m1 0h2m1 0h1m28 0h1m4 0h1M2 6.5h1m1 0h1m1 0h1m4 0h1m2 0h1m11 0h1m14 0h1m9 0h1M12 7.5h1m49 0h1M12 8.5h1m15 0h2m12 0h1m2 0h1m3 0h1M11 9.5h1m18 0h1m13 0h1m4 0h1M30 10.5h1m17 0h3M13 11.5h1m4 0h1m7 0h1m11 0h1m8 0h1M21 12.5h2M11 13.5h1m7 0h1m17 0h1m1 0h1M21 14.5h1m13 0h1m8 0h1m4 0h1m29 0h1m2 0h1M0 15.5h1m22 0h2m26 0h1M1 16.5h1m8 0h1m6 0h1m2 0h1m1 0h2m1 0h1m10 0h1M24 17.5h1m8 0h1m3 0h2m12 0h1M19 18.5h1m5 0h1m3 0h1m49 0h1M4 19.5h2m29 0h1m6 0h1M5 20.5h2m9 0h1m3 0h1m1 0h1m9 0h1m3 0h1m19 0h1m4 0h1M5 21.5h1m2 0h1m8 0h1m15 0h1m1 0h2m23 0h1M2 22.5h2m14 0h1m37 0h2m26 0h1M8 23.5h1m44 0h1m8 0h1m21 0h1M52 24.5h1M18 25.5h1M61 26.5h1M18 27.5h1M38 28.5h1m7 0h1m1 0h3m1 0h1M52 29.5h1M19 30.5h1m26 0h1m4 0h1M10 31.5h1m35 0h1m1 0h1M17 32.5h1m38 0h1M47 33.5h1M11 34.5h1m6 0h1m32 0h1M11 35.5h1m6 0h1m4 0h1M13 36.5h1m4 0h2m1 0h1M13 37.5h1m5 0h1M12 38.5h1m9 0h1M17 39.5h1m2 0h1M22 40.5h1m2 0h1M17 42.5h1M15 45.5h1m4 0h1"/><path stroke="#00a4ff" d="M0 0.5h1m1 0h1m3 0h1m3 0h1m3 0h1m1 0h1m21 0h3m3 0h1M1 1.5h1m3 0h2m7 0h1m8 0h1M3 2.5h1m14 0h1m20 0h1m2 0h1M2 3.5h1m2 0h1m13 0h1m19 0h2m3 0h1M2 4.5h1m8 0h2M7 5.5h1m4 0h1m12 0h1m22 0h1M3 6.5h1m3 0h1m2 0h1m4 0h1m7 0h1M4 7.5h1M5 8.5h1m32 0h1m4 0h2m2 0h1M22 9.5h1m20 0h1m1 0h1m2 0h1M12 11.5h1m1 0h1M20 13.5h1m10 0h1m6 0h1m5 0h1M23 14.5h1m10 0h1m15 0h1m29 0h2M21 15.5h1m3 0h1m7 0h1m2 0h1m2 0h1m40 0h1M21 16.5h1m8 0h1M0 17.5h2m26 0h1m7 0h1m6 0h1m5 0h1m30 0h1M4 18.5h1m2 0h2m14 0h2m9 0h1m6 0h1M23 19.5h1m7 0h1m4 0h2m42 0h1M17 20.5h1M3 21.5h1m14 0h1m38 0h1m3 0h1M8 22.5h1M18 24.5h1m42 0h1M53 25.5h1m7 0h1M18 26.5h1M11 27.5h1m1 0h1m36 0h1M19 28.5h1M51 29.5h1M52 30.5h1m5 0h1m1 0h1M9 31.5h1m9 0h1m27 0h1M47 32.5h2M17 33.5h2M17 34.5h1m2 0h1m1 0h1M13 35.5h1m5 0h2m30 0h1m2 0h1M16 36.5h1M11 37.5h1m12 0h1M26 38.5h1M22 39.5h1m4 0h1M21 40.5h1m4 0h2M15 43.5h1M15 44.5h1m1 0h1M13 45.5h1"/><path stroke="#00b4ff" d="M1 0.5h1m9 0h1m3 0h1m21 0h1m11 0h1M2 1.5h3m2 0h1M5 2.5h1m37 0h1M13 3.5h1m8 0h1M13 4.5h1m5 0h2m19 0h1m3 0h1M0 5.5h1m2 0h1m9 0h1m8 0h1m1 0h1m16 0h1m2 0h1M9 6.5h1m12 0h1m21 0h2M2 7.5h1m12 0h1m26 0h1m2 0h1M15 8.5h1m6 0h1m4 0h1m18 0h1m1 0h1M10 9.5h1m5 0h1m11 0h2m17 0h1M11 10.5h2m4 0h3M29 11.5h1m16 0h1M26 12.5h1m10 0h2m5 0h1M10 13.5h1M9 14.5h1m1 0h1m12 0h1m14 0h1M10 15.5h1m21 0h1m16 0h1m31 0h1M9 16.5h1m21 0h1m19 0h1m28 0h2M8 17.5h1m16 0h1m8 0h1m4 0h1m2 0h1m7 0h1M5 18.5h2m10 0h2m16 0h2m1 0h1m41 0h1M16 19.5h1m2 0h1m5 0h1m12 0h2M18 20.5h1m18 0h1M2 21.5h1m36 0h1m16 0h1M0 22.5h2M19 24.5h1m9 0h1m23 0h1M23 27.5h1M51 28.5h1M13 29.5h1M59 30.5h1M16 32.5h1m1 0h1M13 33.5h1m2 0h1M19 34.5h1M17 35.5h1m34 0h2M11 36.5h1m5 0h1m2 0h1M25 37.5h1M28 39.5h1M28 40.5h1M16 43.5h1M16 44.5h1"/><path stroke="#00c4ff" d="M7 0.5h1M15 1.5h1m4 0h1m1 0h1M19 2.5h1m3 0h1M18 3.5h1m1 0h1m20 0h1M21 4.5h1m21 0h1M14 5.5h2m4 0h1m22 0h1M1 6.5h1m6 0h1m9 0h1m23 0h1m3 0h3M3 7.5h1m6 0h2m10 0h1m21 0h1m3 0h1M16 8.5h1M9 9.5h1m9 0h1m1 0h1m2 0h2m20 0h1M8 10.5h1m17 0h4m10 0h1M11 11.5h1m15 0h2m16 0h1M25 12.5h1m3 0h1m10 0h1M9 13.5h1m20 0h1m9 0h1M0 14.5h1m9 0h1m14 0h1M1 15.5h1m7 0h1m19 0h1M43 16.5h1M27 17.5h1m7 0h1M1 18.5h1m24 0h1m1 0h1m8 0h1M17 19.5h1m6 0h1m5 0h1M0 20.5h1m2 0h1m19 0h1m15 0h1M0 21.5h1m20 0h1m10 0h1m4 0h1M36 22.5h1M19 23.5h2M19 25.5h1M23 26.5h2m11 0h1m1 0h1M24 27.5h1m12 0h1m13 0h1M23 28.5h1M20 31.5h1M12 33.5h1m14 0h1M13 34.5h1m9 0h1m7 0h3M12 35.5h1M26 37.5h1M20 38.5h1m6 0h1M21 39.5h1M17 43.5h1"/><path stroke="#00d4ff" d="M16 1.5h1m4 0h1M4 2.5h1m12 0h1M3 3.5h1m17 0h1m21 0h1M4 4.5h1M16 5.5h1m1 0h2m1 0h1m20 0h1M16 6.5h2m1 0h3m2 0h1m18 0h1M1 7.5h1m5 0h1m15 0h1m2 0h1m16 0h1m2 0h2M4 8.5h1m1 0h1m3 0h2m11 0h1M8 9.5h1m9 0h1m1 0h1m2 0h1m2 0h2m13 0h2M9 10.5h2m11 0h1m2 0h1m19 0h3M19 11.5h1m1 0h2m2 0h1m14 0h1M19 12.5h2m2 0h1m18 0h2M23 13.5h3M8 14.5h1m22 0h1M31 15.5h1m18 0h1M8 16.5h1m23 0h3m6 0h2m6 0h1M7 17.5h1m18 0h1m14 0h1M27 18.5h1m11 0h2M1 19.5h1m1 0h1m14 0h1m7 0h4M19 20.5h1M1 21.5h1m17 0h2m1 0h1M37 22.5h1M29 23.5h1M20 24.5h1M24 25.5h2m9 0h2M22 26.5h1m2 0h2m10 0h1M22 27.5h1M11 28.5h1m1 0h1m8 0h1M22 29.5h1M22 30.5h1M21 31.5h1M19 33.5h3m4 0h1m1 0h1m1 0h2M12 34.5h1m3 0h1m9 0h2m2 0h1M32 35.5h2M12 36.5h1m14 0h1M30 38.5h1M29 39.5h1"/><path stroke="#00e5ff" d="M17 1.5h1M14 2.5h1m1 0h1m5 0h1M4 3.5h1M3 4.5h1m10 0h2m25 0h1M17 5.5h1M25 6.5h1M9 7.5h1m6 0h1M0 8.5h1m8 0h1m11 0h1M17 9.5h1M20 10.5h1m2 0h2m18 0h2M20 11.5h1m2 0h1M24 12.5h1M8 13.5h1m20 0h1m11 0h1M26 14.5h1M8 15.5h1m25 0h2m7 0h1M35 16.5h1m4 0h1m9 0h1M0 18.5h1m2 0h1M2 19.5h1M1 20.5h2m24 0h1m10 0h1M19 22.5h1m15 0h1M21 23.5h1M28 24.5h1m1 0h1M22 25.5h2m2 0h1m10 0h1M19 26.5h1M12 29.5h1m10 0h1M20 30.5h1M19 32.5h1m11 0h1M32 33.5h2M25 34.5h1m2 0h1M16 35.5h1m10 0h1m2 0h2M24 36.5h3M12 37.5h1m7 0h2M21 38.5h1"/><path stroke="#00f5ff" d="M15 2.5h1m4 0h2M16 3.5h2m24 0h1M16 4.5h1m1 0h1m23 0h1M0 7.5h1m20 0h1M1 8.5h1m15 0h1m6 0h3M5 9.5h1M7 10.5h1m13 0h1M24 11.5h1m17 0h3M10 12.5h1m17 0h1m12 0h1M43 13.5h1M1 14.5h1m25 0h1M30 15.5h1M2 16.5h1M2 17.5h1m37 0h1M2 18.5h1M0 19.5h1M26 20.5h1m4 0h1M24 21.5h1M21 22.5h1m10 0h2m4 0h1M37 23.5h1M21 24.5h1m3 0h1M20 25.5h2m6 0h2M21 26.5h1m5 0h1m7 0h1M19 27.5h1M20 28.5h2m2 0h1m12 0h1M20 29.5h1M21 30.5h1m1 0h1m3 0h1m7 0h1M34 31.5h2M20 32.5h2m5 0h2M25 33.5h1M24 34.5h1m4 0h1M24 35.5h1m1 0h1m1 0h2M28 36.5h1M27 37.5h1M28 38.5h2"/><path stroke="#06fff9" d="M14 3.5h1M0 6.5h1M8 7.5h1m8 0h1m2 0h1M2 8.5h2M0 9.5h1m5 0h2M41 11.5h1M9 12.5h1m17 0h1M26 13.5h1m15 0h1M7 14.5h1m20 0h3m9 0h1m2 0h1M7 16.5h1M4 17.5h2M24 20.5h1M23 21.5h1m1 0h3m10 0h1M20 22.5h1m1 0h1m2 0h1M25 23.5h1m2 0h1m1 0h1m5 0h1m1 0h1M24 24.5h1M27 25.5h1M20 26.5h1M21 27.5h1m3 0h1m2 0h1m7 0h1M37 29.5h1M32 30.5h1m4 0h1M22 31.5h1m4 0h1m3 0h2M26 32.5h1m3 0h1m1 0h1M29 33.5h1M25 35.5h1M32 36.5h1"/><path stroke="#16ffe9" d="M15 3.5h1M17 4.5h1M18 7.5h2m4 0h1M7 8.5h2m11 0h1M8 11.5h3M8 12.5h1M7 13.5h1M41 14.5h1M41 15.5h2M3 17.5h1m2 0h1M25 20.5h1m2 0h1M31 21.5h1M24 22.5h1m9 0h1M22 23.5h1m9 0h2M22 24.5h1m3 0h1m10 0h1M30 25.5h1m3 0h1m3 0h1M20 27.5h1m6 0h1m1 0h1M36 28.5h1M21 29.5h1m11 0h1m2 0h1M26 30.5h1m4 0h1m1 0h1m2 0h1M26 31.5h1m1 0h1m4 0h1M24 32.5h2m8 0h2M24 33.5h1m9 0h1M31 36.5h1M30 37.5h1"/><path stroke="#26ffd9" d="M25 7.5h1M18 8.5h2M4 9.5h1M41 10.5h2M7 11.5h1M5 12.5h1m1 0h1M28 13.5h1M42 14.5h1M2 15.5h1m4 0h1m32 0h1M5 16.5h1M29 20.5h2M26 22.5h1m2 0h1m1 0h1M24 23.5h1m1 0h2m3 0h1m3 0h1M27 24.5h1m6 0h3m1 0h1M28 26.5h1M26 27.5h1m3 0h1M24 29.5h1m2 0h1m4 0h1m2 0h1M34 30.5h1M23 31.5h1M33 32.5h1M22 33.5h2M29 36.5h2M28 37.5h2m1 0h1"/><path stroke="#37ffc8" d="M1 9.5h1M0 10.5h1m2 0h4M0 11.5h1m2 0h2M4 12.5h1m1 0h1M0 13.5h1m4 0h2M6 14.5h1M28 21.5h2M27 22.5h2M34 23.5h1M23 24.5h1m7 0h1m1 0h1M30 26.5h1M12 27.5h1m18 0h1M28 28.5h1M24 30.5h1m3 0h1M24 31.5h2m10 0h1M23 32.5h1m5 0h1"/><path stroke="#47ffb8" d="M3 9.5h1M5 11.5h2M0 12.5h1M1 13.5h1m25 0h1M2 14.5h1M3 16.5h1M30 21.5h1M23 22.5h1m6 0h1M23 23.5h1M31 25.5h1M29 26.5h1m1 0h1m2 0h1M35 27.5h1M27 28.5h1m1 0h1m3 0h1m1 0h1M30 29.5h2m2 0h1M25 30.5h1m4 0h1M30 31.5h1M22 32.5h1"/><path stroke="#57ffa8" d="M2 9.5h1M3 12.5h1M4 13.5h1M5 14.5h1M3 15.5h1M4 16.5h1m1 0h1M32 24.5h1M33 25.5h1M32 26.5h2M32 27.5h1M25 28.5h1m4 0h1m1 0h1M26 29.5h1m1 0h2"/><path stroke="#67ff98" d="M2 10.5h1M2 11.5h1M2 13.5h2M5 15.5h2M31 28.5h1m2 0h1M25 29.5h1M29 30.5h1M29 31.5h1"/><path stroke="#77ff88" d="M1 10.5h1M1 11.5h1M1 12.5h1M3 14.5h1M4 15.5h1M32 25.5h1M33 27.5h1M26 28.5h1"/><path stroke="#88ff77" d="M2 12.5h1M4 14.5h1"/><path stroke="#98ff67" d="M34 27.5h1M12 28.5h1"/></g></g>
<g clip-path="url(#oca)"><g filter="url(#blA)"><g transform="matrix(6.2173,0,0,11.3268,94.77,56.15)" fill="none" stroke-width="1.04"><path stroke="#0033ff" d="M0 27.5h1"/><path stroke="#0053ff" d="M73 32.5h1M73 33.5h1"/><path stroke="#0063ff" d="M72 32.5h1m1 0h1M72 33.5h1m1 0h1M73 34.5h2"/><path stroke="#0073ff" d="M72 31.5h2M75 33.5h1M72 34.5h1m2 0h1"/><path stroke="#0084ff" d="M74 31.5h1M71 32.5h1m3 0h1M71 33.5h1M73 35.5h3"/><path stroke="#0094ff" d="M71 31.5h1m3 0h1M76 32.5h1M76 33.5h1M76 34.5h1M76 35.5h1"/><path stroke="#00a4ff" d="M75 29.5h3M71 30.5h8M70 31.5h1m5 0h4M70 32.5h1m6 0h3M77 33.5h1M71 34.5h1m5 0h1M72 35.5h1M74 36.5h3"/><path stroke="#00b4ff" d="M75 28.5h3M78 29.5h1M79 30.5h1M80 31.5h2M80 32.5h1M70 33.5h1m7 0h2M78 34.5h1M77 35.5h1"/><path stroke="#00c4ff" d="M75 27.5h2M0 28.5h1m73 0h1m3 0h1M72 29.5h3m4 0h1M70 30.5h1m9 0h2M69 31.5h1m12 0h1M69 32.5h1m11 0h2M80 33.5h2M79 34.5h1M78 35.5h1M73 36.5h1m3 0h1M75 37.5h2"/><path stroke="#00d4ff" d="M74 27.5h1m2 0h1M70 29.5h2M69 30.5h1m12 0h1M83 31.5h2M83 32.5h2M69 33.5h1m12 0h2M70 34.5h1m9 0h2M71 35.5h1m7 0h1M78 36.5h1M77 37.5h1"/><path stroke="#00e5ff" d="M75 26.5h1M73 28.5h1m5 0h1M69 29.5h1m10 0h1M68 30.5h1m14 0h1M67 31.5h2m16 0h1M67 32.5h2m16 0h1M67 33.5h2m15 0h2M68 34.5h2m12 0h3M70 35.5h1m9 0h2M72 36.5h1m6 0h1M74 37.5h1m3 0h1"/><path stroke="#00f5ff" d="M75 25.5h1M74 26.5h1m1 0h2M73 27.5h1m4 0h1M70 28.5h3M68 29.5h1m12 0h1M66 30.5h2m16 0h2M65 31.5h2M65 32.5h2M65 33.5h2M65 34.5h3m17 0h1M66 35.5h4m12 0h4M68 36.5h1m2 0h1m8 0h2M79 37.5h1M76 38.5h2"/><path stroke="#06fff9" d="M77 21.5h1M76 22.5h2M75 23.5h3M74 24.5h4M73 25.5h2m1 0h2M72 26.5h2m4 0h1M70 27.5h3m6 0h1M67 28.5h3m10 0h1M66 29.5h2m14 0h2M43 30.5h4m17 0h2M42 31.5h7m14 0h2M42 32.5h7m13 0h3M43 33.5h6m12 0h4M46 34.5h1m15 0h3M63 35.5h3M65 36.5h3m1 0h2m11 0h4M67 37.5h2m4 0h1m6 0h1M75 38.5h1m2 0h1"/><path stroke="#16ffe9" d="M77 18.5h1M76 19.5h3M75 20.5h4M75 21.5h2m1 0h2M74 22.5h2m2 0h2M73 23.5h2m3 0h2M72 24.5h2m4 0h2M71 25.5h2m5 0h2M70 26.5h2m7 0h1M68 27.5h2m10 0h1M45 28.5h2m19 0h1m14 0h1M42 29.5h7m15 0h2m18 0h1M41 30.5h2m4 0h3m12 0h2M40 31.5h2m7 0h2m9 0h3M40 32.5h2m7 0h4m5 0h4M41 33.5h2m6 0h12M42 34.5h4m1 0h15M44 35.5h6m5 0h8M46 36.5h2m15 0h2M65 37.5h2m2 0h4m8 0h5M74 38.5h1m4 0h1M78 39.5h1"/><path stroke="#26ffd9" d="M20 0.5h12M20 1.5h12M20 2.5h12M20 3.5h11M21 4.5h10M21 5.5h10M21 6.5h10M22 7.5h9M22 8.5h8M23 9.5h7M25 10.5h3M77 17.5h2M76 18.5h1m1 0h1M75 19.5h1m3 0h1M74 20.5h1m4 0h1M73 21.5h2m5 0h1M72 22.5h2m6 0h1M71 23.5h2m7 0h1M71 24.5h1m8 0h2M70 25.5h1m9 0h2M68 26.5h2m10 0h2M45 27.5h3m18 0h2m13 0h2M42 28.5h3m2 0h3m14 0h2m16 0h2M41 29.5h1m7 0h2m11 0h2m21 0h1M40 30.5h1m9 0h2m8 0h2M39 31.5h1m11 0h9M39 32.5h1m13 0h5M39 33.5h2M40 34.5h2M41 35.5h3m6 0h5M44 36.5h2m2 0h3m2 0h10M46 37.5h2m15 0h2M66 38.5h5m2 0h1m6 0h2M76 39.5h2m1 0h1"/><path stroke="#37ffc8" d="M19 0.5h1m12 0h1M19 1.5h1m12 0h1M19 2.5h1m12 0h1M31 3.5h2M20 4.5h1m10 0h2M20 5.5h1m10 0h1M20 6.5h1m10 0h1M21 7.5h1m9 0h1M30 8.5h2M22 9.5h1m7 0h1M23 10.5h2m3 0h2M76 16.5h3M75 17.5h2m2 0h1M74 18.5h2m3 0h1M74 19.5h1m5 0h1M51 20.5h1m21 0h1m6 0h1M51 21.5h1m20 0h1m8 0h1M71 22.5h1m9 0h1M52 23.5h1m17 0h1m10 0h2M70 24.5h1m11 0h1M68 25.5h2m12 0h2M45 26.5h4m18 0h1m14 0h2M42 27.5h3m3 0h2m15 0h1m17 0h2M41 28.5h1m8 0h1m12 0h1m20 0h2M39 29.5h2m10 0h2m7 0h2M38 30.5h2m12 0h3m2 0h3M37 31.5h2M37 32.5h2M37 33.5h2M37 34.5h3M39 35.5h2M41 36.5h3m7 0h2M44 37.5h2m2 0h2m3 0h10M64 38.5h2m5 0h2m9 0h4M67 39.5h3m5 0h1m4 0h1"/><path stroke="#47ffb8" d="M33 0.5h2M33 1.5h1M33 2.5h1M19 3.5h1m13 0h1M19 4.5h1m13 0h1M32 5.5h2M32 6.5h1M32 7.5h1M21 8.5h1m10 0h1M31 9.5h1M30 10.5h1M75 14.5h3M75 15.5h4M74 16.5h2m3 0h1M73 17.5h2m5 0h1M73 18.5h1m6 0h2M72 19.5h2m7 0h1M50 20.5h1m1 0h1m18 0h2m8 0h2M50 21.5h1m1 0h1m18 0h1m10 0h2M50 22.5h3m17 0h1m11 0h3M49 23.5h3m31 0h3M47 24.5h6m16 0h1m13 0h3M45 25.5h7m32 0h2M42 26.5h3m4 0h3m14 0h1m17 0h2M41 27.5h1m8 0h2m12 0h1m20 0h1M39 28.5h2m10 0h2m8 0h2M38 29.5h1m14 0h2m3 0h2M36 30.5h2m17 0h2M35 31.5h2M35 32.5h2M35 33.5h2M35 34.5h2M36 35.5h3M38 36.5h3M41 37.5h3m6 0h3M46 38.5h3m6 0h1m4 0h4M65 39.5h2m3 0h5m6 0h5M77 40.5h3"/><path stroke="#57ffa8" d="M35 0.5h1M34 1.5h2M34 2.5h1M34 3.5h1m41 0h2M34 4.5h1m41 0h4M19 5.5h1m56 0h6M33 6.5h1m42 0h8M20 7.5h1m12 0h1m41 0h10M33 8.5h1m41 0h11M21 9.5h1m10 0h1m42 0h11M22 10.5h1m8 0h1m43 0h11M26 11.5h3m46 0h11M74 12.5h12M74 13.5h12M73 14.5h2m3 0h8M72 15.5h3m4 0h7M72 16.5h2m6 0h6M50 17.5h1m21 0h1m8 0h5M49 18.5h2m20 0h2m9 0h4M50 19.5h4m17 0h1m10 0h4M53 20.5h1m16 0h1m12 0h3M49 21.5h1m3 0h1m16 0h1m13 0h2M48 22.5h2m3 0h1m31 0h1M47 23.5h2m4 0h1m15 0h1M45 24.5h2m21 0h1M42 25.5h3m7 0h1m14 0h1M40 26.5h2m10 0h1m12 0h1M39 27.5h2m11 0h2m7 0h3M38 28.5h1m14 0h2m4 0h2M36 29.5h2m17 0h3M35 30.5h1M34 31.5h1M34 32.5h1M33 33.5h2M33 34.5h2M34 35.5h2M36 36.5h2M39 37.5h2M43 38.5h3m3 0h6m1 0h4M63 39.5h2M67 40.5h7m1 0h2m3 0h6"/><path stroke="#67ff98" d="M36 0.5h1m38 0h11M36 1.5h1m38 0h11M35 2.5h1m39 0h11M35 3.5h1m39 0h1m2 0h8M35 4.5h1m39 0h1m4 0h6M34 5.5h1m40 0h1m6 0h4M34 6.5h1m40 0h1m8 0h2M34 7.5h1m39 0h1m10 0h1M20 8.5h1m53 0h1M33 9.5h1m40 0h1M32 10.5h1m41 0h1M24 11.5h2m3 0h2m42 0h2M72 12.5h2M72 13.5h2M71 14.5h2M71 15.5h1M71 16.5h1M49 17.5h1m1 0h1m18 0h2M51 18.5h3m16 0h1M49 19.5h1m4 0h1m15 0h1M49 20.5h1m4 0h1M48 21.5h1m5 0h1m14 0h1M47 22.5h1m6 0h1m14 0h1M45 23.5h2m21 0h1M42 24.5h3m8 0h1m13 0h1M40 25.5h2m11 0h1m12 0h1M39 26.5h1m13 0h1m10 0h1M38 27.5h1m15 0h1m5 0h1M36 28.5h2m17 0h4M35 29.5h1M34 30.5h1M33 31.5h1M32 32.5h2M32 33.5h1M32 34.5h1M32 35.5h2M33 36.5h3M35 37.5h4M39 38.5h4M46 39.5h4m2 0h4m4 0h3M65 40.5h2m7 0h1M70 41.5h4m3 0h4m1 0h4"/><path stroke="#77ff88" d="M18 0.5h1m18 0h1m34 0h3M37 1.5h1m35 0h2M36 2.5h2m35 0h2M36 3.5h1m36 0h2M36 4.5h1m36 0h2M35 5.5h1m37 0h2M19 6.5h1m15 0h1m37 0h2M35 7.5h1m36 0h2M34 8.5h1m37 0h2M34 9.5h1m37 0h2M33 10.5h1m37 0h3M23 11.5h1m7 0h1m39 0h2M70 12.5h2M70 13.5h2M48 14.5h1m21 0h1M48 15.5h1m20 0h2M69 16.5h2M52 17.5h2m15 0h1M48 18.5h1m5 0h1m1 0h1m12 0h1M48 19.5h1m20 0h1M47 20.5h2m20 0h1M46 21.5h2m7 0h1M44 22.5h3m8 0h1m12 0h1M42 23.5h3m22 0h1M40 24.5h2m24 0h1M39 25.5h1m25 0h1M38 26.5h1m15 0h2m5 0h3M36 27.5h2m17 0h3M35 28.5h1M34 29.5h1M33 30.5h1M32 31.5h1M31 32.5h1M31 33.5h1M30 34.5h2M31 35.5h1M31 36.5h2M33 37.5h2M35 38.5h4M40 39.5h6m4 0h2m4 0h4M61 40.5h4M67 41.5h3m4 0h3m4 0h1M71 42.5h4m7 0h4"/><path stroke="#88ff77" d="M38 0.5h1m22 0h11M18 1.5h1m19 0h1m22 0h12M18 2.5h1m19 0h1m22 0h12M37 3.5h1m23 0h12M37 4.5h1m24 0h11M36 5.5h2m24 0h11M36 6.5h1m26 0h10M19 7.5h1m16 0h1m26 0h9M35 8.5h1m27 0h9M20 9.5h1m43 0h8M21 10.5h1m43 0h6M22 11.5h1m43 0h5M66 12.5h4M67 13.5h3M49 14.5h1m17 0h3M49 15.5h1m18 0h1M48 16.5h6m14 0h1M48 17.5h1m5 0h1m13 0h1M57 18.5h1m10 0h1M47 19.5h1m7 0h1m12 0h1M46 20.5h1m8 0h1m12 0h1M44 21.5h2m22 0h1M42 22.5h2m23 0h1M40 23.5h2m12 0h1M39 24.5h1M38 25.5h1m17 0h1m7 0h1M36 26.5h2m18 0h1M35 27.5h1m22 0h2M34 28.5h1M32 29.5h2M31 30.5h2M31 31.5h1M30 32.5h1M30 33.5h1M29 34.5h1M29 35.5h2M30 36.5h1M31 37.5h2M32 38.5h3M35 39.5h5M47 40.5h8m4 0h2M64 41.5h3M68 42.5h3m4 0h7M70 43.5h6m5 0h5M84 44.5h2"/><path stroke="#98ff67" d="M39 0.5h2m14 0h6M39 1.5h1m15 0h6M39 2.5h1m15 0h6M18 3.5h1m19 0h2m15 0h6M18 4.5h1m19 0h1m16 0h7M38 5.5h1m16 0h7M37 6.5h1m17 0h8M37 7.5h1m17 0h8M19 8.5h1m16 0h1m18 0h8M19 9.5h1m15 0h2m18 0h9M19 10.5h2m13 0h1m21 0h9M19 11.5h3m10 0h1m14 0h2m11 0h6M17 12.5h4m26 0h1m14 0h4M16 13.5h4m28 0h1m10 0h1m4 0h3M14 14.5h6m27 0h1m2 0h1m1 0h1m5 0h2m5 0h2M13 15.5h7m27 0h1m2 0h4m11 0h3M11 16.5h8m28 0h1m6 0h1m11 0h2M9 17.5h10m28 0h1m8 0h2m9 0h1M8 18.5h7m3 0h1m27 0h2m7 0h1m11 0h1M6 19.5h7m5 0h1m26 0h2m9 0h2m9 0h1M5 20.5h6m7 0h2m23 0h3m21 0h1M3 21.5h7m7 0h3m22 0h2m23 0h1M2 22.5h6m9 0h3m21 0h1m14 0h1M0 23.5h7m10 0h3m19 0h1m15 0h2m9 0h1M0 24.5h5m11 0h4m18 0h1m17 0h2m7 0h1M0 25.5h4m12 0h3m18 0h1m19 0h1m2 0h4M0 26.5h2m33 0h1m24 0h1M34 27.5h1M32 28.5h2M31 29.5h1M30 30.5h1M29 31.5h2M29 32.5h1M28 33.5h2M28 34.5h1M28 35.5h1M29 36.5h1M30 37.5h1M31 38.5h1M33 39.5h2M34 40.5h13m8 0h4M51 41.5h3m6 0h4M66 42.5h2M68 43.5h2m6 0h5M69 44.5h8m3 0h4M71 45.5h4m7 0h4"/><path stroke="#a8ff57" d="M41 0.5h2m11 0h1M40 1.5h2m11 0h2M40 2.5h2m11 0h2M40 3.5h2m11 0h2M39 4.5h2m11 0h3M18 5.5h1m20 0h2m11 0h3M18 6.5h1m19 0h2m11 0h4M18 7.5h1m19 0h1m12 0h4M17 8.5h2m18 0h2m12 0h4M15 9.5h4m18 0h1m12 0h5M14 10.5h5m16 0h2m10 0h9M12 11.5h7m14 0h1m12 0h1m2 0h11M10 12.5h7m4 0h2m23 0h1m1 0h14M8 13.5h8m4 0h2m25 0h1m1 0h10m1 0h4M7 14.5h7m6 0h2m29 0h1m1 0h2m2 0h1m2 0h5M5 15.5h8m7 0h2m24 0h1m7 0h1m3 0h7M3 16.5h8m8 0h3m24 0h1m16 0h3M1 17.5h8m10 0h3m23 0h2m8 0h1m9 0h2M0 18.5h8m7 0h3m1 0h3m22 0h2m20 0h1M0 19.5h6m7 0h5m1 0h3m21 0h2m21 0h1M0 20.5h5m6 0h7m2 0h2m20 0h1m13 0h1M0 21.5h3m7 0h7m3 0h2m19 0h1m14 0h1m9 0h1M0 22.5h2m6 0h9m3 0h2m18 0h1m25 0h1M7 23.5h10m3 0h2m16 0h1m18 0h1m7 0h1M5 24.5h11m4 0h1m16 0h1m20 0h2m3 0h2M4 25.5h12m3 0h1m16 0h1M2 26.5h16m16 0h1m22 0h1M1 27.5h15m17 0h1M31 28.5h1M29 29.5h2M29 30.5h1M28 31.5h1M27 32.5h2M25 33.5h3M25 34.5h3M26 35.5h2M27 36.5h2M28 37.5h2M30 38.5h1M31 39.5h2M33 40.5h1M34 41.5h10m3 0h4m3 0h2m3 0h1M52 42.5h1m7 0h6M66 43.5h2M9 44.5h7m51 0h2m8 0h3M3 45.5h14m51 0h3m4 0h7"/><path stroke="#b8ff47" d="M43 0.5h11M42 1.5h11M42 2.5h11M42 3.5h11M41 4.5h11M41 5.5h11M17 6.5h1m22 0h11M16 7.5h2m21 0h12M14 8.5h3m22 0h12M12 9.5h3m23 0h2m4 0h6M10 10.5h4m23 0h2m5 0h3M8 11.5h4m22 0h2m9 0h1M6 12.5h4m13 0h1m21 0h1M5 13.5h3m14 0h1m22 0h2M3 14.5h4m15 0h1m22 0h2m8 0h2M1 15.5h4m17 0h1m21 0h2m9 0h3M0 16.5h3m19 0h1m21 0h2m9 0h8M0 17.5h1m21 0h1m20 0h2m13 0h7M22 18.5h1m20 0h1m14 0h1m5 0h2M22 19.5h1m19 0h1m22 0h1M22 20.5h1m18 0h1m24 0h1M22 21.5h1m17 0h1m24 0h1M22 22.5h1m16 0h1m17 0h1m7 0h1M37 23.5h1m20 0h1m5 0h1M36 24.5h1m23 0h3M35 25.5h1M18 26.5h1M16 27.5h1m15 0h1M1 28.5h13m16 0h1M0 29.5h13m15 0h1M0 30.5h12m15 0h2M0 31.5h13m13 0h2M0 32.5h13m12 0h2M0 33.5h13m11 0h1M0 34.5h13m10 0h2M0 35.5h14m9 0h3M0 36.5h15m9 0h3M0 37.5h16m10 0h2M0 38.5h18m11 0h1M0 39.5h19m11 0h1M0 40.5h20m12 0h1M0 41.5h20m13 0h1m10 0h3m9 0h3M0 42.5h20m14 0h10m4 0h4m1 0h3m3 0h1M0 43.5h21m30 0h3m6 0h6M0 44.5h9m7 0h5m40 0h6M0 45.5h3m14 0h4m45 0h2"/><path stroke="#c8ff37" d="M17 4.5h1M16 5.5h2M15 6.5h2M13 7.5h3M11 8.5h3M9 9.5h3m28 0h4M7 10.5h3m29 0h5M6 11.5h2m28 0h9M4 12.5h2m18 0h9m9 0h3M2 13.5h3m18 0h1m18 0h3M0 14.5h3m40 0h2M0 15.5h1m42 0h1M42 16.5h2M42 17.5h1M23 18.5h1m17 0h2m16 0h5M23 19.5h1m17 0h1m16 0h2m2 0h3M23 20.5h1m16 0h1m16 0h1m6 0h2M39 21.5h1m17 0h1m6 0h1M38 22.5h1m19 0h1m4 0h2M22 23.5h1m36 0h5M21 24.5h1m13 0h1M20 25.5h1m13 0h1m19 0h2m2 0h2M33 26.5h1M31 27.5h1M14 28.5h1m14 0h1M13 29.5h1m13 0h1M12 30.5h1m13 0h1M13 31.5h1m11 0h1M13 32.5h1m10 0h1M13 33.5h1m9 0h1M13 34.5h2m6 0h2M14 35.5h3m3 0h3M15 36.5h9M16 37.5h10M18 38.5h11M19 39.5h4m6 0h1M20 40.5h2m8 0h2M20 41.5h2m10 0h1M20 42.5h2m11 0h1m10 0h4m8 0h3M21 43.5h1m12 0h11m2 0h4m3 0h2m2 0h2M21 44.5h1m13 0h8m6 0h6m4 0h2M21 45.5h1m38 0h6"/><path stroke="#d9ff26" d="M17 0.5h1M17 1.5h1M17 2.5h1M17 3.5h1M16 4.5h1M14 5.5h2M13 6.5h2M11 7.5h2M9 8.5h2M7 9.5h2M5 10.5h2M4 11.5h2M2 12.5h2m29 0h9M0 13.5h2m37 0h3M23 14.5h1m16 0h3M23 15.5h1m17 0h2M23 16.5h1m17 0h1M23 17.5h1m17 0h1M40 18.5h1M40 19.5h1m19 0h2M39 20.5h1m18 0h6M23 21.5h1m14 0h1m19 0h6M37 22.5h1m21 0h4M36 23.5h1M33 25.5h1M19 26.5h1m12 0h1M17 27.5h1m11 0h2M15 28.5h1m12 0h1M13 30.5h1M14 31.5h1m9 0h1M14 32.5h1m8 0h1M14 33.5h2m5 0h2M15 34.5h6M17 35.5h3M23 39.5h6M22 40.5h2m5 0h1M22 41.5h1m7 0h2M31 42.5h2M32 43.5h2m11 0h2m9 0h2M22 44.5h1m10 0h2m8 0h6m6 0h4M22 45.5h1m11 0h26"/><path stroke="#e9ff16" d="M16 2.5h1M14 3.5h3M13 4.5h3M13 5.5h1M12 6.5h1M8 7.5h3M6 8.5h3M5 9.5h2M3 10.5h2M1 11.5h3M0 12.5h2M24 13.5h1m11 0h3M24 14.5h1m13 0h2M24 15.5h1m14 0h2M24 16.5h1m14 0h2M24 17.5h1m14 0h2M24 18.5h1m14 0h1M24 19.5h1m14 0h1M24 20.5h1m13 0h1M37 21.5h1M23 22.5h1m12 0h1M35 23.5h1M34 24.5h1M31 26.5h1M16 28.5h1m10 0h1M14 29.5h2m10 0h1M14 30.5h2m9 0h1M15 31.5h2M15 32.5h3m3 0h2M16 33.5h5M24 40.5h2m1 0h2M29 41.5h1M22 42.5h1m7 0h1M22 43.5h1m7 0h2M31 44.5h2M23 45.5h1m8 0h2"/><path stroke="#f9ff06" d="M16 0.5h1M15 1.5h2M13 2.5h3M13 3.5h1M12 4.5h1M12 5.5h1M7 6.5h5M5 7.5h3M4 8.5h2M2 9.5h3M1 10.5h2M0 11.5h1M25 13.5h1m7 0h3M36 14.5h2M37 15.5h2M38 16.5h1M25 17.5h1m12 0h1M25 18.5h1m12 0h1M38 19.5h1M37 20.5h1M24 21.5h1m11 0h1M35 22.5h1M34 23.5h1M22 24.5h1m10 0h1M21 25.5h1m10 0h1M30 26.5h1M18 27.5h1m9 0h1M17 28.5h1M16 29.5h3M16 30.5h4M17 31.5h7M18 32.5h3M26 40.5h1M23 41.5h1m4 0h1M29 42.5h1M29 43.5h1M23 44.5h1m5 0h2M24 45.5h1m3 0h4"/><path stroke="#fff500" d="M12 0.5h4M12 1.5h3M12 2.5h1M8 3.5h1m3 0h1M6 4.5h4M5 5.5h5M3 6.5h4M2 7.5h3M0 8.5h4M0 9.5h2M0 10.5h1M26 13.5h1m4 0h2M25 14.5h1m8 0h2M25 15.5h1m10 0h1M25 16.5h1m10 0h2M37 17.5h1M37 18.5h1M25 19.5h1m11 0h1M25 20.5h1m10 0h1M23 23.5h1M31 25.5h1M20 26.5h1m8 0h1M19 27.5h1M18 28.5h2M19 29.5h2m4 0h1M20 30.5h2m2 0h1M27 41.5h1M28 42.5h1M28 43.5h1M27 44.5h2M25 45.5h3"/><path stroke="#ffe500" d="M0 0.5h12M0 1.5h12M0 2.5h12M0 3.5h8m1 0h1M0 4.5h6M0 5.5h5m5 0h2M0 6.5h3M0 7.5h2M27 13.5h4M26 14.5h1m6 0h1M26 15.5h1m7 0h2M26 16.5h1m8 0h1M26 17.5h1m8 0h2M26 18.5h1m9 0h1M36 19.5h1M35 20.5h1M35 21.5h1M24 22.5h1m9 0h1M33 23.5h1M32 24.5h1m22 0h1M30 25.5h1M20 27.5h1M20 28.5h1m5 0h1M21 29.5h1M22 30.5h2"/><path stroke="#ffd500" d="M11 3.5h1M27 14.5h2m2 0h2M27 15.5h1m5 0h1M27 16.5h1m6 0h1M27 17.5h1m6 0h1M35 18.5h1M26 19.5h1m8 0h1M25 21.5h1m8 0h1M31 24.5h1M21 26.5h1M21 27.5h1m5 0h1M21 28.5h1M22 29.5h3M24 41.5h1m1 0h1M27 42.5h1M23 43.5h1m3 0h1M24 44.5h1m1 0h1"/><path stroke="#ffc400" d="M10 3.5h1M10 4.5h2M29 14.5h2M28 15.5h5M28 16.5h1m3 0h2M33 17.5h1M27 18.5h1m6 0h1M34 19.5h1M26 20.5h1m7 0h1M33 22.5h1M32 23.5h1M23 24.5h1m30 0h1M22 25.5h1m6 0h1M28 26.5h1M22 27.5h1M22 28.5h4M23 42.5h1M25 44.5h1"/><path stroke="#ffb400" d="M29 16.5h3M28 17.5h1m3 0h1M33 18.5h1M33 19.5h1M33 20.5h1M33 21.5h1M25 22.5h1M24 23.5h1m6 0h1M30 24.5h1M22 26.5h1M23 27.5h1m2 0h1M25 41.5h1"/><path stroke="#ffa400" d="M29 17.5h1m1 0h1M28 18.5h1M27 19.5h1M26 21.5h1M32 22.5h1M23 25.5h1M23 26.5h1m3 0h1m30 0h2M24 27.5h2"/><path stroke="#ff9400" d="M30 17.5h1M32 18.5h1M27 20.5h1M32 21.5h1M30 23.5h1M24 24.5h1m4 0h1M28 25.5h1M24 26.5h1"/><path stroke="#ff8400" d="M29 18.5h1m1 0h1M28 19.5h1m3 0h1M32 20.5h1M26 22.5h1m4 0h1M25 23.5h1M24 25.5h1M25 26.5h2M26 43.5h1"/><path stroke="#ff7300" d="M30 18.5h1M27 21.5h1M27 22.5h1m2 0h1M26 23.5h1m2 0h1M25 24.5h1m2 0h1M25 25.5h3M26 42.5h1"/><path stroke="#ff6300" d="M29 19.5h1m1 0h1M28 20.5h1m2 0h1M28 21.5h1m2 0h1M28 22.5h2M27 23.5h2M26 24.5h2M24 42.5h1M24 43.5h1"/><path stroke="#ff5300" d="M30 19.5h1M29 20.5h1M29 21.5h2"/><path stroke="#ff4300" d="M30 20.5h1M25 43.5h1"/><path stroke="#ff3300" d="M25 42.5h1"/></g></g></g>
<use href="#coast" transform="matrix(0.62173,0,0,-1.13268,-54.449,418.605)" fill="none" stroke="#000" stroke-width="2.0"/>
</g>
<rect x="107.2" y="78.8" width="503.6" height="464.4" fill="none" stroke="#555" stroke-width="1.3"/>
<text x="132.1" y="566.7" font-family="'Liberation Sans', Arial, sans-serif" font-size="16.5" font-weight="normal" text-anchor="middle" >30</text>
<text x="194.2" y="566.7" font-family="'Liberation Sans', Arial, sans-serif" font-size="16.5" font-weight="normal" text-anchor="middle" >40</text>
<text x="256.4" y="566.7" font-family="'Liberation Sans', Arial, sans-serif" font-size="16.5" font-weight="normal" text-anchor="middle" >50</text>
<text x="318.6" y="566.7" font-family="'Liberation Sans', Arial, sans-serif" font-size="16.5" font-weight="normal" text-anchor="middle" >60</text>
<text x="380.8" y="566.7" font-family="'Liberation Sans', Arial, sans-serif" font-size="16.5" font-weight="normal" text-anchor="middle" >70</text>
<text x="442.9" y="566.7" font-family="'Liberation Sans', Arial, sans-serif" font-size="16.5" font-weight="normal" text-anchor="middle" >80</text>
<text x="505.1" y="566.7" font-family="'Liberation Sans', Arial, sans-serif" font-size="16.5" font-weight="normal" text-anchor="middle" >90</text>
<text x="567.3" y="566.7" font-family="'Liberation Sans', Arial, sans-serif" font-size="16.5" font-weight="normal" text-anchor="middle" >100</text>
<text x="101.2" y="537.9" font-family="'Liberation Sans', Arial, sans-serif" font-size="16.5" font-weight="normal" text-anchor="end" >-10</text>
<text x="101.2" y="481.2" font-family="'Liberation Sans', Arial, sans-serif" font-size="16.5" font-weight="normal" text-anchor="end" >-5</text>
<text x="101.2" y="424.6" font-family="'Liberation Sans', Arial, sans-serif" font-size="16.5" font-weight="normal" text-anchor="end" >0</text>
<text x="101.2" y="368.0" font-family="'Liberation Sans', Arial, sans-serif" font-size="16.5" font-weight="normal" text-anchor="end" >5</text>
<text x="101.2" y="311.3" font-family="'Liberation Sans', Arial, sans-serif" font-size="16.5" font-weight="normal" text-anchor="end" >10</text>
<text x="101.2" y="254.7" font-family="'Liberation Sans', Arial, sans-serif" font-size="16.5" font-weight="normal" text-anchor="end" >15</text>
<text x="101.2" y="198.1" font-family="'Liberation Sans', Arial, sans-serif" font-size="16.5" font-weight="normal" text-anchor="end" >20</text>
<text x="101.2" y="141.4" font-family="'Liberation Sans', Arial, sans-serif" font-size="16.5" font-weight="normal" text-anchor="end" >25</text>
<text x="101.2" y="84.8" font-family="'Liberation Sans', Arial, sans-serif" font-size="16.5" font-weight="normal" text-anchor="end" >30</text>
<clipPath id="bxb"><rect x="715.6" y="73.8" width="504.2" height="464.7"/></clipPath>
<clipPath id="ocb"><use href="#oceanp" transform="matrix(0.62247,0,0,-1.13341,553.758,413.824)" clip-rule="evenodd"/></clipPath>
<g clip-path="url(#bxb)">
<g filter="url(#blA)"><g transform="matrix(6.2247,0,0,11.3341,703.15,51.13)" fill="none" stroke-width="1.04"><path stroke="#000080" d="M26 0.5h1m42 0h1m1 0h1M70 1.5h1M77 2.5h1M75 26.5h3M39 27.5h1m34 0h2M39 28.5h2M39 29.5h2m25 0h1M38 30.5h4m24 0h1M38 31.5h5m22 0h2m13 0h1M2 32.5h2m35 0h5m22 0h1m12 0h2M3 33.5h1m36 0h5M44 34.5h1m19 0h2m1 0h1M41 35.5h3m2 0h1m2 0h1M38 36.5h7m1 0h1m2 0h2m5 0h3M38 37.5h9m2 0h3m4 0h5m5 0h1M32 38.5h1m2 0h1m2 0h15m3 0h6m4 0h1M34 39.5h3m2 0h14m3 0h1m1 0h1m7 0h2M31 40.5h1m2 0h4m1 0h2m1 0h1m1 0h8m1 0h4m2 0h2M31 41.5h3m3 0h4m4 0h4m2 0h7m2 0h1M5 42.5h1m25 0h4m1 0h4m2 0h2m7 0h1m3 0h3m5 0h1M31 43.5h10m1 0h3m5 0h4m2 0h5m1 0h2m3 0h2M28 44.5h2m2 0h9m2 0h4m3 0h5m3 0h6m1 0h5M28 45.5h2m3 0h8m2 0h5m6 0h2m3 0h5m2 0h2m1 0h1"/><path stroke="#000090" d="M27 0.5h1m35 0h2m3 0h1m1 0h1M68 1.5h2m1 0h1M67 2.5h1m10 0h1M70 5.5h1M69 27.5h1M65 28.5h2M38 29.5h1m26 0h1M65 30.5h1M79 31.5h1M4 32.5h1m60 0h1m1 0h1m5 0h2M2 33.5h1m64 0h1m3 0h1M40 34.5h2m1 0h1m22 0h1m1 0h1m1 0h2M35 35.5h2m2 0h2m3 0h1m2 0h1m19 0h3M34 36.5h1m16 0h1m7 0h1M47 37.5h1m4 0h1m2 0h1M33 38.5h2m1 0h1m16 0h1m1 0h1m9 0h1M31 39.5h2m4 0h2m14 0h3m1 0h1m1 0h1m1 0h1M30 40.5h1m1 0h2m4 0h1m2 0h1m1 0h1m8 0h1m4 0h1m3 0h1m4 0h2m1 0h2M5 41.5h2m23 0h1m3 0h3m12 0h1m11 0h1m13 0h1M4 42.5h1m30 0h1m4 0h1m6 0h2m3 0h2m8 0h1m1 0h1m2 0h1M29 43.5h1m15 0h1m1 0h1m13 0h1m4 0h1M47 44.5h1M41 45.5h1m7 0h3m4 0h1m11 0h1"/><path stroke="#0000a0" d="M30 0.5h2m40 0h1M66 2.5h1m1 0h1m6 0h2M76 3.5h2M71 5.5h1M69 6.5h1M72 7.5h1M64 24.5h2M76 25.5h1M69 26.5h1m4 0h1M68 27.5h1m7 0h2M67 28.5h1M67 31.5h1M71 32.5h2m2 0h1m5 0h1M4 33.5h1m34 0h1m24 0h3m5 0h2m1 0h2m2 0h1M35 34.5h1m6 0h1m2 0h2m22 0h1M34 35.5h1m3 0h1m9 0h1m16 0h2m13 0h1M33 36.5h1m11 0h1m1 0h1m7 0h1m10 0h2M33 37.5h2m2 0h1m10 0h1m16 0h1m1 0h1m10 0h1M37 38.5h1m16 0h1m7 0h2m3 0h1M33 39.5h1m28 0h1m5 0h1m2 0h1m2 0h1M58 40.5h1m3 0h1m5 0h1m5 0h2m7 0h1M42 41.5h3m5 0h1m8 0h1m2 0h2M0 42.5h1m5 0h1m23 0h1m13 0h2m4 0h1m3 0h1m11 0h1m1 0h1m6 0h1m3 0h1M30 43.5h1m10 0h1m12 0h1m9 0h2m3 0h1m8 0h2M41 44.5h2M30 45.5h1m1 0h1m9 0h1m15 0h1m6 0h1"/><path stroke="#0000b0" d="M65 0.5h1M26 1.5h1m37 0h4m9 0h1M69 2.5h1m4 0h1M69 3.5h1m5 0h1M65 4.5h1m4 0h1m5 0h2M57 5.5h1m11 0h1M70 6.5h2M66 9.5h1M69 17.5h1M68 18.5h1M65 23.5h1M65 25.5h1m11 0h1M68 26.5h1m1 0h1m7 0h1M78 27.5h1M64 28.5h1m3 0h1M41 29.5h1m25 0h1m15 0h1M4 31.5h1m38 0h1m27 0h1M64 32.5h1m11 0h1m1 0h1M45 33.5h1m22 0h1m1 0h1m3 0h1m3 0h1m1 0h1M3 34.5h1m32 0h1m2 0h1m35 0h1m3 0h3M45 35.5h1m18 0h1m5 0h1m8 0h1M48 36.5h1m19 0h2M77 37.5h1m1 0h1M64 38.5h1m13 0h1M60 39.5h1m2 0h1m5 0h1m5 0h1M71 40.5h1M0 41.5h1m3 0h1m61 0h1m2 0h1m4 0h1m4 0h1m3 0h1M29 42.5h1m11 0h1m7 0h1m8 0h1m2 0h1m12 0h1M2 43.5h1m2 0h1m40 0h1m1 0h2m5 0h1M5 44.5h1m24 0h2m17 0h1m7 0h1m6 0h1M48 45.5h1m4 0h1m3 0h1"/><path stroke="#0000c0" d="M25 0.5h1m3 0h1m2 0h1M63 1.5h1m14 0h1M65 2.5h1m4 0h1M65 3.5h4M61 4.5h2m6 0h1M29 5.5h1m31 0h1M57 6.5h1m10 0h1m3 0h1M68 7.5h1m2 0h1M68 8.5h1M65 9.5h1M66 10.5h1M15 13.5h1M60 15.5h1M69 18.5h1M13 21.5h1M13 22.5h1M12 23.5h1M12 24.5h1M64 25.5h1m5 0h2M71 26.5h1M63 27.5h5m2 0h2M64 29.5h1M79 30.5h2M2 31.5h2m1 0h1m58 0h1m5 0h1m2 0h2m3 0h1m2 0h1M1 32.5h1m36 0h1M77 33.5h1m3 0h1M2 34.5h1m69 0h1m9 0h1M37 35.5h1m43 0h1M2 36.5h1m32 0h3m14 0h1M0 37.5h1m34 0h2m16 0h2m6 0h1M68 38.5h2m9 0h1M64 39.5h2m4 0h1m7 0h1m4 0h1M6 40.5h1m70 0h2M29 41.5h1m11 0h1m23 0h1m2 0h1m1 0h1m5 0h1m1 0h1M1 42.5h1m44 0h1m13 0h1m4 0h1m10 0h1m1 0h1m5 0h1M0 43.5h1m2 0h2m23 0h1M55 44.5h1m24 0h1M5 45.5h1m46 0h1m11 0h1"/><path stroke="#0000d0" d="M28 0.5h1m33 0h1m10 0h1M27 1.5h4m28 0h1m12 0h3M57 2.5h3m11 0h1M58 3.5h2m10 0h1m3 0h1M27 4.5h2m42 0h1M28 5.5h1m3 0h1m23 0h1m1 0h1m3 0h1m2 0h1m10 0h2M59 6.5h2M69 7.5h1m3 0h1M67 9.5h1m1 0h1M69 10.5h1M67 11.5h1m7 0h1M16 13.5h1M15 14.5h1M61 15.5h1M61 16.5h1m6 0h2M68 17.5h1M68 19.5h1M13 20.5h1M13 23.5h1m50 0h1m1 0h1m1 0h2M69 24.5h2M12 25.5h3m54 0h1m5 0h1m2 0h1M63 26.5h3m1 0h1M73 27.5h1M63 28.5h1m5 0h1m4 0h2M2 29.5h1m2 0h1m73 0h1M5 30.5h1m58 0h1m2 0h1m3 0h1M37 31.5h1m34 0h1M5 32.5h1m38 0h1m18 0h1m4 0h1m1 0h1m6 0h1M36 33.5h1m1 0h1m24 0h1M38 34.5h1m24 0h1m10 0h1M2 35.5h1m47 0h1m20 0h1M54 36.5h1m10 0h1m4 0h1m6 0h3m4 0h1M62 37.5h3m4 0h1m5 0h1M0 38.5h1m3 0h1m26 0h1m39 0h1m2 0h2m1 0h1m2 0h1M30 39.5h1m41 0h1m6 0h1M65 40.5h1m7 0h1m2 0h1m5 0h1M58 41.5h1m8 0h1m9 0h1m2 0h1m1 0h1m1 0h1M2 42.5h2m55 0h1m9 0h1m10 0h1m2 0h1m1 0h1M1 43.5h1m68 0h2m3 0h1m4 0h1m3 0h1M2 44.5h1m1 0h1m43 0h1m7 0h1m13 0h1m8 0h1m1 0h1M80 45.5h1"/><path stroke="#0000e1" d="M61 0.5h1m5 0h1m9 0h1M58 1.5h1m16 0h2M55 2.5h2m6 0h2m7 0h2M55 3.5h1m4 0h1m1 0h1m10 0h1m4 0h1M29 4.5h1m25 0h1m2 0h1m7 0h1m8 0h1M68 5.5h1m3 0h1M32 6.5h1m23 0h1m1 0h1M67 8.5h1m1 0h1m2 0h1M68 9.5h1m1 0h2M67 10.5h1m3 0h1m3 0h1M68 11.5h1m3 0h1m3 0h1M67 12.5h1M56 13.5h1M60 14.5h1M59 15.5h1M47 19.5h2m16 0h3m3 0h1M12 20.5h1M14 21.5h1m61 0h1M12 22.5h1m1 0h1m50 0h1m10 0h1M11 23.5h1m29 0h1M13 24.5h1m54 0h1M15 25.5h1m41 0h1m10 0h1M66 26.5h1m14 0h2M72 27.5h1M2 28.5h1m68 0h3m4 0h2m3 0h1M6 29.5h1m56 0h1m18 0h1M42 30.5h1m27 0h1m12 0h1M61 31.5h1m6 0h1m6 0h1m1 0h1M37 32.5h1m23 0h1m20 0h1M1 33.5h1m67 0h1m12 0h1M4 34.5h1m32 0h1m22 0h1m15 0h1m1 0h1m4 0h1M3 35.5h1m55 0h1m24 0h1M0 36.5h2m51 0h1m6 0h1m14 0h1m4 0h1M68 37.5h1m1 0h1m5 0h1m3 0h1m4 0h1M72 38.5h1m12 0h1M2 39.5h2m69 0h1m8 0h1M2 40.5h1m7 0h1m61 0h1m11 0h1M1 41.5h1m8 0h1m53 0h1m6 0h1m1 0h1m7 0h1m3 0h1M72 42.5h2M6 43.5h1m65 0h1m10 0h1M0 44.5h2m1 0h1m74 0h1M4 45.5h1m2 0h1m23 0h1m38 0h1m4 0h1m5 0h1"/><path stroke="#0000f1" d="M59 0.5h2m5 0h1m18 0h1M31 1.5h1m25 0h1M28 2.5h1m31 0h1m18 0h1M28 3.5h1m25 0h1m1 0h2m3 0h1M32 4.5h1m23 0h2m2 0h1m7 0h1M27 5.5h1m2 0h2m1 0h1m21 0h1m4 0h1m6 0h1m7 0h1M33 6.5h1m39 0h1M59 7.5h2m6 0h1m2 0h1M66 8.5h1m4 0h1M59 9.5h1m4 0h1m10 0h1M65 10.5h1m2 0h1m1 0h1m1 0h1M69 11.5h1m1 0h1m2 0h1m3 0h1M16 12.5h2m37 0h2M17 13.5h1m37 0h1m4 0h1M16 14.5h1m44 0h1M15 15.5h1M60 16.5h1m4 0h1M70 18.5h1M11 19.5h2m57 0h1M66 20.5h2m3 0h1M78 21.5h2M41 22.5h1m26 0h2m3 0h3M67 23.5h1M10 24.5h2m2 0h2m41 0h1m8 0h1m9 0h1M9 25.5h1m53 0h1m2 0h1m12 0h1m1 0h2M57 26.5h1m14 0h2m6 0h1m2 0h1M4 27.5h1m51 0h2m21 0h6M3 28.5h1m1 0h2m50 0h1m12 0h1m5 0h1m5 0h1M68 29.5h1m2 0h1m8 0h1M4 30.5h1m67 0h1m5 0h1m2 0h1M1 31.5h1m67 0h1m6 0h1M37 33.5h1m22 0h1m22 0h1M1 34.5h1m45 0h1m13 0h1m11 0h1M1 35.5h1m3 0h1m54 0h1m2 0h1m8 0h1m2 0h1m2 0h1m3 0h1M3 36.5h1m60 0h1m6 0h1m4 0h1m6 0h1m1 0h1M71 37.5h2m1 0h1m6 0h1m2 0h1M5 38.5h1m64 0h1m10 0h1M1 39.5h1m2 0h1m5 0h1m66 0h1m6 0h1M1 40.5h1m1 0h1m1 0h1m1 0h1m55 0h1m15 0h1M3 41.5h1m3 0h1m64 0h1M7 42.5h1m63 0h1m5 0h1M74 43.5h1m2 0h1m4 0h1m2 0h1M6 44.5h2m63 0h1m3 0h1m6 0h1m1 0h2M6 45.5h1m72 0h1m5 0h1"/><path stroke="#0002ff" d="M33 0.5h1m17 0h2m23 0h1M52 1.5h1m3 0h1m3 0h3m16 0h1M27 2.5h1m1 0h1m24 0h1M27 3.5h1m35 0h2m6 0h2M33 4.5h1m20 0h1m4 0h1m3 0h2m2 0h1m4 0h1m5 0h1M59 5.5h1m3 0h1m2 0h1M29 6.5h1m1 0h1m29 0h1m5 0h1m7 0h2M33 7.5h1m41 0h1M65 8.5h1m7 0h1m1 0h1M60 9.5h1m2 0h1m8 0h1M59 10.5h1m14 0h1m1 0h1M66 11.5h1m6 0h1m3 0h1M68 12.5h1m3 0h3M57 13.5h1m1 0h1m7 0h2M14 14.5h1m41 0h1m2 0h1M58 15.5h1m6 0h2m1 0h1m3 0h1M15 16.5h1m50 0h1M65 17.5h1M47 18.5h2m16 0h3m3 0h2M13 19.5h1m38 0h2m4 0h1m10 0h1m2 0h1M11 20.5h1m53 0h1m4 0h1m1 0h2m2 0h1M12 21.5h1m56 0h1m3 0h1m1 0h1m1 0h1M11 22.5h1m65 0h3M10 23.5h1m3 0h1m27 0h1M9 24.5h1m6 0h1m41 0h1m12 0h1m5 0h1m2 0h2M10 25.5h2m46 0h1m8 0h1m12 0h1m2 0h1M4 26.5h1m4 0h2m45 0h1m22 0h1m4 0h1M0 27.5h1m4 0h1m79 0h1M1 28.5h1m2 0h1m36 0h1m14 0h1m1 0h1m3 0h1m14 0h1m2 0h1m3 0h1M1 29.5h1m1 0h2m10 0h1m46 0h1m9 0h4m2 0h1m2 0h1m2 0h1M2 30.5h2m2 0h1m56 0h1m5 0h1m3 0h3m8 0h1M6 31.5h1m56 0h1m18 0h1M6 32.5h1m55 0h1m20 0h1m1 0h1M62 33.5h1M62 34.5h1m14 0h1m6 0h1M4 35.5h1m1 0h1m51 0h1m2 0h1m12 0h1m8 0h1M6 36.5h2m53 0h1m1 0h1m8 0h1m1 0h1m6 0h2M1 37.5h2m29 0h1m49 0h2M3 38.5h1m69 0h1m2 0h1m5 0h1m1 0h1M0 39.5h1m4 0h1m70 0h1m3 0h1m4 0h1M0 40.5h1m3 0h1m6 0h1m52 0h1m15 0h2m3 0h1M2 41.5h1m8 0h1M70 42.5h1m10 0h2M7 43.5h1m65 0h1m2 0h1m4 0h1M72 44.5h1M8 45.5h1m63 0h3m1 0h1"/><path stroke="#0012ff" d="M74 0.5h1m3 0h1m5 0h1M25 1.5h1m25 0h1m1 0h1m1 0h1m24 0h1M26 2.5h1m3 0h1m19 0h2m1 0h1m7 0h2M30 3.5h3m18 0h1M30 4.5h1m42 0h2M35 5.5h1m28 0h1m13 0h1M28 6.5h1m1 0h1m24 0h1m18 0h1m8 0h1M54 7.5h2m18 0h1M54 8.5h1m5 0h1m3 0h1m5 0h1m3 0h1m10 0h1M62 9.5h1m11 0h1M58 10.5h1M34 11.5h2m34 0h1m8 0h1M60 12.5h2m9 0h1m3 0h1M14 13.5h1m46 0h1M46 14.5h1m8 0h1m1 0h2m12 0h1M56 15.5h2m4 0h1m6 0h1m3 0h1m2 0h1M14 16.5h1m44 0h1m2 0h1m4 0h1m2 0h1M15 17.5h1m45 0h1m4 0h2m2 0h1M10 18.5h1m47 0h1M10 19.5h1m35 0h1m4 0h1m7 0h1m4 0h1M10 20.5h1m3 0h1m49 0h1m3 0h2M15 21.5h1m58 0h1M15 22.5h1m26 0h1m23 0h2M70 23.5h1m3 0h1m1 0h1m2 0h3M41 24.5h1m21 0h1m15 0h1M16 25.5h1m32 0h1m6 0h1m2 0h1m14 0h1M0 26.5h1m4 0h1m49 0h1m2 0h2M3 27.5h1m36 0h1m14 0h1m2 0h2M7 28.5h1m73 0h1m3 0h1M69 29.5h2M15 30.5h1m52 0h1m7 0h1m5 0h1M62 31.5h1m20 0h1M0 32.5h1m6 0h1m50 0h3m8 0h1M5 33.5h1m55 0h1m22 0h2M57 34.5h1M0 35.5h1m61 0h1m10 0h1M4 36.5h2m56 0h1M3 37.5h3M1 38.5h2m80 0h1M6 39.5h1m2 0h1m71 0h1M9 40.5h1M19 41.5h1M74 44.5h1m2 0h1m5 0h1M78 45.5h1m3 0h1"/><path stroke="#0022ff" d="M53 0.5h1m2 0h1m18 0h1m4 0h1M32 1.5h1m21 0h1m28 0h1M31 2.5h1m20 0h1m29 0h1M26 3.5h1m2 0h1m20 0h1m28 0h1M26 4.5h1m4 0h1m2 0h1M34 5.5h1m1 0h1m36 0h2m7 0h2M54 6.5h1m27 0h1M32 7.5h1m1 0h1m22 0h1m18 0h1m5 0h2M33 8.5h2m17 0h2m1 0h1m3 0h1M56 9.5h1m1 0h1m2 0h1m14 0h1m1 0h1m6 0h1M62 10.5h3m8 0h1m4 0h2M16 11.5h1m38 0h2m4 0h1M15 12.5h1m17 0h1m23 0h1m20 0h2M46 13.5h2m14 0h2m5 0h3M13 14.5h1m48 0h1m2 0h2m1 0h3m1 0h1M14 15.5h1m56 0h1m5 0h1M12 16.5h1m34 0h1M14 17.5h1M52 18.5h2m2 0h1m16 0h1M49 19.5h1M9 20.5h1m37 0h2m2 0h2m21 0h2M63 21.5h3m2 0h1M10 22.5h1m29 0h1M16 23.5h2m22 0h1m34 0h1m1 0h1M4 24.5h2m36 0h1m6 0h2m5 0h1m10 0h1m6 0h2m2 0h1m3 0h1M40 25.5h1m4 0h1m2 0h1m1 0h1m21 0h1M3 26.5h1m10 0h1m24 0h2m44 0h1M6 27.5h1M0 28.5h1m54 0h1m3 0h1M7 29.5h1m49 0h1m18 0h1M1 30.5h1m60 0h1m14 0h1M84 31.5h2M36 32.5h1m47 0h1M0 33.5h1m34 0h1m18 0h1m2 0h1m1 0h1M0 34.5h1m55 0h1M7 35.5h2m68 0h1M73 36.5h1M6 37.5h2m65 0h1M6 38.5h1m2 0h2M11 39.5h1M9 41.5h1m8 0h1M10 42.5h1M8 44.5h1m64 0h1m2 0h1M2 45.5h2m14 0h1m58 0h1m6 0h1"/><path stroke="#0033ff" d="M24 0.5h1m29 0h2m1 0h2m22 0h1m1 0h1M33 1.5h2m46 0h2m1 0h2M34 2.5h1m48 0h1M52 3.5h2M79 4.5h1m3 0h1M37 5.5h1m16 0h1M27 6.5h1m6 0h1m42 0h1m3 0h1m2 0h1M53 7.5h1m2 0h1m1 0h1m22 0h1M40 8.5h1m22 0h1m12 0h1M52 9.5h1m2 0h1m1 0h1m15 0h1m5 0h1M34 10.5h2m17 0h1m2 0h2m2 0h2m15 0h1m7 0h1M33 11.5h1m19 0h2m7 0h1m2 0h1m15 0h3M34 12.5h2m11 0h2m10 0h1m2 0h3m5 0h1m5 0h2m3 0h2M58 13.5h1m5 0h1m1 0h1m5 0h3m10 0h1M17 14.5h1m27 0h1m1 0h1m28 0h1m8 0h1M13 15.5h1m2 0h1m29 0h2m7 0h1m11 0h1m2 0h1M13 16.5h1m43 0h2m4 0h2m11 0h1M12 17.5h1m34 0h1m8 0h3m1 0h1m11 0h1M11 18.5h2m8 0h1m27 0h1m1 0h1m3 0h1m1 0h1m1 0h1m1 0h1m2 0h1M14 19.5h1m6 0h1m28 0h1m3 0h4m15 0h1M53 20.5h1m4 0h1m4 0h1m13 0h3M10 21.5h2m29 0h1m25 0h1m2 0h1m1 0h1M50 22.5h2m12 0h1m7 0h1M4 23.5h1m10 0h1m34 0h2m6 0h1m14 0h1m4 0h1M3 24.5h1m36 0h1m7 0h1m10 0h1m25 0h1M5 25.5h1m35 0h1m13 0h1m28 0h2M11 26.5h1m1 0h1m1 0h1m31 0h2m5 0h1m5 0h1M1 27.5h2m7 0h1M14 28.5h2m28 0h1M10 29.5h1m3 0h1m41 0h1m28 0h1M43 30.5h1m5 0h1m11 0h1m23 0h1M0 31.5h1m6 0h1M57 32.5h1M58 33.5h1M5 34.5h1m43 0h1m35 0h1M76 35.5h1m8 0h1M8 36.5h1m5 0h1M15 37.5h1M7 39.5h1M12 40.5h1m1 0h1m4 0h1M8 41.5h1M8 42.5h2m1 0h1M8 43.5h1M0 45.5h2m9 0h1m59 0h1"/><path stroke="#0043ff" d="M19 0.5h1m59 0h1m2 0h1M35 1.5h1m14 0h1M25 2.5h1m6 0h1m2 0h1M33 3.5h2M35 4.5h1m15 0h3m26 0h1M79 5.5h3m2 0h1M35 6.5h3m15 0h1m8 0h5M13 7.5h1m26 0h1m11 0h1m13 0h1M32 8.5h1m18 0h1m26 0h1m2 0h2M34 9.5h1m1 0h1m40 0h1M36 10.5h1m18 0h1m26 0h3M17 11.5h1m42 0h1m2 0h2m15 0h1m3 0h2M32 12.5h1m21 0h1m3 0h1m7 0h1m2 0h1m10 0h1M18 13.5h1m14 0h1m11 0h1m8 0h1m10 0h1M18 14.5h1m44 0h2m2 0h1m5 0h1M12 15.5h1m25 0h1m35 0h2M56 16.5h1m15 0h2m3 0h2M10 17.5h1m2 0h1m41 0h1m3 0h1m4 0h1m8 0h1m3 0h1M9 18.5h1m3 0h3m16 0h1m12 0h2m3 0h1m3 0h1m19 0h2m7 0h1M44 19.5h2m14 0h1m13 0h3m6 0h1M44 20.5h1m5 0h1m31 0h1M9 21.5h1m32 0h1m8 0h1m14 0h1m4 0h1m10 0h1M16 22.5h1m28 0h3m22 0h1m9 0h3M5 23.5h1m41 0h2m8 0h1m14 0h1m9 0h1m2 0h1M1 24.5h2m3 0h1m38 0h1m9 0h1m16 0h1M3 25.5h2m34 0h1m4 0h1m1 0h1m4 0h1m8 0h1M1 26.5h1m10 0h1m28 0h1m2 0h3M7 27.5h1m1 0h1m4 0h1m26 0h1m12 0h1m5 0h1m1 0h1M42 28.5h2m16 0h1M0 29.5h1m15 0h1m1 0h1m23 0h1m1 0h1m32 0h1M0 30.5h1m6 0h1m6 0h1m1 0h1m27 0h1M14 31.5h1M8 32.5h1m45 0h1M55 33.5h1M50 34.5h1m4 0h1m2 0h2M9 35.5h1m4 0h1m42 0h1M16 37.5h1M7 38.5h2m6 0h2M8 39.5h1M8 40.5h1m4 0h1m1 0h1m2 0h1M12 41.5h1m1 0h2m4 0h1M19 42.5h1M12 43.5h1m13 0h1M12 44.5h1m6 0h1M10 45.5h1m6 0h1m65 0h1"/><path stroke="#0053ff" d="M18 0.5h1m15 0h1M13 1.5h1m33 0h1M33 2.5h1m15 0h1m30 0h2M25 3.5h1m23 0h1m32 0h2M36 4.5h2m11 0h1m32 0h1m1 0h1M26 5.5h1m11 0h1m14 0h1M38 6.5h2m38 0h1m1 0h1M31 7.5h1m5 0h1m23 0h1m2 0h2m11 0h1m2 0h1m3 0h2M13 8.5h1m42 0h1m4 0h2m14 0h1m1 0h1m3 0h1M13 9.5h1m21 0h1m1 0h1m13 0h1m1 0h1m28 0h2M37 10.5h1m14 0h1m1 0h1m26 0h1M31 11.5h2m3 0h1m15 0h1m4 0h3M14 12.5h1m16 0h1m17 0h1m3 0h1m29 0h3M13 13.5h1m18 0h1m2 0h1m12 0h1m26 0h1m8 0h1M19 14.5h1m34 0h1m19 0h2m1 0h1m6 0h1M17 15.5h1m9 0h1m9 0h1m7 0h1m6 0h1m1 0h1m8 0h2m18 0h2M27 16.5h1m18 0h1m8 0h1m15 0h1m2 0h2m3 0h1m3 0h1M9 17.5h1m1 0h1m36 0h1m4 0h2m7 0h1m8 0h1m2 0h3m1 0h1m6 0h1M22 18.5h1m10 0h1m26 0h1m15 0h1m5 0h1m1 0h1M9 19.5h1m22 0h2m27 0h1m1 0h1m18 0h1m1 0h1M8 20.5h1m6 0h1m18 0h1m10 0h2m2 0h1m4 0h1m4 0h1M43 21.5h2m5 0h1m1 0h1m27 0h1M17 22.5h1m25 0h2m9 0h1m8 0h1M9 23.5h1m33 0h1m5 0h1m5 0h1m15 0h1M0 24.5h1m7 0h1m8 0h1m25 0h1m7 0h1m21 0h1m9 0h1M0 25.5h3m5 0h1m33 0h1m4 0h1m25 0h1M6 26.5h1m1 0h1m7 0h1m32 0h1m3 0h1M44 27.5h1m2 0h2m4 0h1M10 28.5h1m50 0h1M43 29.5h1m11 0h1m2 0h1M10 30.5h1m37 0h1m7 0h2M13 31.5h1m1 0h1m28 0h1m6 0h1m5 0h1M51 32.5h1M6 33.5h4m39 0h3m4 0h1M8 34.5h2m24 0h1m19 0h1M56 35.5h1M15 36.5h1M8 37.5h3m3 0h1M11 38.5h1m6 0h1M12 39.5h4M13 41.5h1M15 42.5h1m2 0h1m1 0h2M13 43.5h1m5 0h1m2 0h2m1 0h1m1 0h1M13 44.5h1m4 0h1m4 0h1m2 0h2M9 45.5h1m9 0h1m3 0h2m2 0h1"/><path stroke="#0063ff" d="M13 0.5h1m6 0h1m14 0h1m6 0h1m7 0h1M12 1.5h1m24 0h1M40 2.5h1m5 0h2m36 0h2M35 3.5h1m44 0h1m4 0h1M50 4.5h1m30 0h1m3 0h1M52 5.5h1M13 6.5h1m65 0h1M30 7.5h1m7 0h2m1 0h1m8 0h2m26 0h2M31 8.5h1m3 0h1m5 0h1m8 0h1m7 0h1m25 0h1M14 9.5h1m24 0h1m14 0h1m26 0h1m2 0h1M31 10.5h1m6 0h2m40 0h1M48 11.5h2M18 12.5h1m31 0h3M12 13.5h1m21 0h1m14 0h3m27 0h1m1 0h2M12 14.5h1m24 0h2m9 0h1m3 0h1M18 15.5h2m28 0h1m4 0h1m24 0h1m6 0h1M11 16.5h1m26 0h1m9 0h1m4 0h2m27 0h1m1 0h2M16 17.5h1m4 0h2m29 0h1m29 0h2M20 18.5h1m23 0h1m17 0h1m14 0h2m6 0h1M15 19.5h1m6 0h1M33 20.5h1m6 0h2m13 0h1m25 0h1m1 0h2M40 21.5h1m4 0h3m5 0h1m8 0h1m18 0h1m1 0h1M4 22.5h1m4 0h1m38 0h1m3 0h1m2 0h1m6 0h1m22 0h1M0 23.5h2m1 0h1m2 0h1m38 0h2m7 0h1m1 0h1m2 0h1m3 0h1M7 24.5h1m36 0h1m1 0h2m12 0h1M6 25.5h1m10 0h1m25 0h1m10 0h1m7 0h1M2 26.5h1m40 0h1m8 0h1M8 27.5h1m6 0h1m26 0h2M17 28.5h2m35 0h1M9 29.5h1m7 0h1m29 0h3m3 0h2m6 0h1M9 30.5h1m1 0h2m5 0h1m35 0h2M12 31.5h1m3 0h1m28 0h1m3 0h2m1 0h1m1 0h1m3 0h1m1 0h1M14 32.5h1m30 0h1m4 0h1m1 0h2M10 33.5h1m41 0h2M6 34.5h2m6 0h1M21 35.5h2M9 36.5h1m12 0h1M17 38.5h1m5 0h1M18 39.5h2M29 40.5h1M16 41.5h2m5 0h2M12 42.5h1m3 0h1m5 0h6M9 43.5h3m9 0h1M9 44.5h1m1 0h1m2 0h1m7 0h1m2 0h1"/><path stroke="#0073ff" d="M4 0.5h2m17 0h1m21 0h1M24 1.5h1m11 0h1m3 0h3m3 0h1M37 2.5h1m3 0h1m6 0h1M46 3.5h1M1 4.5h1m4 0h1m18 0h1m12 0h1m7 0h1m1 0h1M5 5.5h1m33 0h1m6 0h1m4 0h1M40 6.5h1m11 0h1m32 0h1M14 7.5h1m13 0h2m5 0h2M36 8.5h1m2 0h1m17 0h1m22 0h1M12 9.5h1m20 0h1m4 0h1m1 0h1m9 0h1m29 0h1M15 10.5h1m17 0h1m17 0h1M15 11.5h1m35 0h1M12 12.5h1m23 0h1m9 0h1m18 0h1M21 13.5h1m14 0h1m15 0h1m23 0h1m3 0h1m2 0h1M32 14.5h2m17 0h1M79 15.5h1M16 16.5h1m2 0h1m4 0h1m1 0h1m1 0h1m8 0h1m6 0h2m6 0h1M19 17.5h2m9 0h3m11 0h2m17 0h1m20 0h1M31 18.5h1m31 0h1M7 19.5h2m11 0h1m20 0h1m20 0h1m14 0h2M7 20.5h1m13 0h1m13 0h1m7 0h1m13 0h1m2 0h1m19 0h1m4 0h1M16 21.5h1m31 0h1m5 0h1m4 0h1M5 22.5h2m32 0h1m9 0h1m3 0h1m5 0h1m1 0h1m9 0h1M2 23.5h1m41 0h1m15 0h1M39 24.5h1m44 0h1M42 26.5h1M45 27.5h1m3 0h1m11 0h1M8 28.5h1m7 0h1m28 0h1m1 0h1m5 0h1M19 29.5h1m25 0h1M8 30.5h1m8 0h1m27 0h1m4 0h1M8 31.5h1m2 0h1m5 0h1m35 0h1m1 0h2m2 0h1M9 32.5h3m1 0h1m32 0h1m8 0h1M14 33.5h1m33 0h1M10 34.5h1m37 0h1m4 0h1M10 35.5h1m44 0h1M18 37.5h1M14 38.5h1m4 0h1m4 0h1M23 39.5h3M16 40.5h1m3 0h1m2 0h1M21 41.5h2M14 42.5h1M14 43.5h1m9 0h1M10 44.5h1m10 0h1m2 0h1M12 45.5h1m3 0h1m4 0h2m3 0h1"/><path stroke="#0084ff" d="M3 0.5h1m5 0h1m2 0h1m9 0h1m23 0h2M9 1.5h2m27 0h1m6 0h1M8 2.5h2m2 0h1m11 0h1m11 0h1m8 0h1M0 3.5h2m4 0h1m3 0h1m13 0h1m12 0h1m7 0h1m2 0h1m32 0h1m2 0h1M0 4.5h1m4 0h1m17 0h1m15 0h1m7 0h1M1 5.5h1m8 0h1m12 0h1m23 0h1m1 0h2m34 0h1M5 6.5h1m6 0h1m36 0h2M5 7.5h2m20 0h1m21 0h1m13 0h1M14 8.5h1m15 0h1m6 0h1M15 9.5h1m15 0h2M13 10.5h2m1 0h1m15 0h1M30 11.5h1m6 0h1m1 0h1m10 0h1M11 12.5h1m1 0h1m16 0h1m8 0h1m5 0h1M22 13.5h1m30 0h1m23 0h2M20 14.5h1m1 0h1m13 0h1m16 0h1m24 0h1m4 0h1M11 15.5h1m8 0h1m1 0h1m3 0h1m1 0h1m15 0h1m37 0h1M0 16.5h1m17 0h1m10 0h1m9 0h1M17 17.5h2m4 0h1m5 0h1m16 0h1m32 0h1m1 0h1M16 18.5h1m13 0h1m11 0h2m37 0h1M6 19.5h1m27 0h1m5 0h1m2 0h1m35 0h1m1 0h1m3 0h1M4 20.5h1m37 0h1m19 0h1M4 21.5h1m1 0h2m26 0h1m14 0h1m5 0h1m2 0h1m25 0h2M7 22.5h1m50 0h1m1 0h1m22 0h1M7 23.5h1m10 0h1m20 0h1m12 0h1m8 0h1m21 0h1M54 24.5h1m7 0h1M7 25.5h1m44 0h1M7 26.5h1m9 0h1m32 0h2m10 0h1M16 27.5h2m20 0h1m7 0h1m5 0h1M9 28.5h1M8 29.5h1m2 0h1m34 0h1m3 0h1m8 0h2M13 30.5h1m33 0h1m5 0h1M18 31.5h1M12 32.5h1m2 0h1m33 0h1M11 33.5h1m3 0h1m30 0h1M15 34.5h1m5 0h1m30 0h1M15 35.5h1M10 36.5h1m12 0h1M17 37.5h1m4 0h2M13 38.5h1m11 0h1M16 39.5h1m9 0h1M17 40.5h1m6 0h1M25 41.5h4M13 42.5h1m14 0h1M18 43.5h1m1 0h1M20 44.5h1M14 45.5h1m10 0h1"/><path stroke="#0094ff" d="M8 0.5h1m8 0h1m3 0h1m14 0h1m4 0h1m1 0h1m4 0h1M0 1.5h1m7 0h1m2 0h1m6 0h2m19 0h1m3 0h2m3 0h2M0 2.5h3m3 0h2m2 0h2m1 0h1m24 0h1m5 0h1M7 3.5h3m1 0h2m10 0h1m12 0h1m1 0h1m8 0h1M7 4.5h4m11 0h1m1 0h1m20 0h1M2 5.5h1m1 0h1m1 0h1m1 0h2m1 0h1m28 0h1m4 0h1M2 6.5h1m1 0h1m1 0h1m4 0h1m2 0h1m11 0h1m14 0h1m9 0h1M12 7.5h1m49 0h1M12 8.5h1m15 0h2m12 0h1m2 0h1m3 0h1M11 9.5h1m18 0h1m13 0h1m4 0h1M30 10.5h1m17 0h3M13 11.5h1m4 0h1m7 0h1m11 0h1m8 0h1M21 12.5h2M11 13.5h1m7 0h1m17 0h1m1 0h1M21 14.5h1m13 0h1m8 0h1m4 0h1m29 0h1m2 0h1M0 15.5h1m22 0h2m26 0h1M1 16.5h1m8 0h1m6 0h1m2 0h1m1 0h2m1 0h1m10 0h1M24 17.5h1m8 0h1m3 0h2m12 0h1M19 18.5h1m5 0h1m3 0h1m49 0h1M4 19.5h2m29 0h1m6 0h1M5 20.5h2m9 0h1m3 0h1m1 0h1m9 0h1m3 0h1m19 0h1m4 0h1M5 21.5h1m2 0h1m8 0h1m15 0h1m1 0h2m23 0h1M2 22.5h2m14 0h1m37 0h2m26 0h1M8 23.5h1m44 0h1m8 0h1m21 0h1M52 24.5h1M18 25.5h1M61 26.5h1M18 27.5h1M38 28.5h1m7 0h1m1 0h3m1 0h1M52 29.5h1M19 30.5h1m26 0h1m4 0h1M10 31.5h1m35 0h1m1 0h1M17 32.5h1m38 0h1M47 33.5h1M11 34.5h1m6 0h1m32 0h1M11 35.5h1m6 0h1m4 0h1M13 36.5h1m4 0h2m1 0h1M13 37.5h1m5 0h1M12 38.5h1m9 0h1M17 39.5h1m2 0h1M22 40.5h1m2 0h1M17 42.5h1M15 45.5h1m4 0h1"/><path stroke="#00a4ff" d="M0 0.5h1m1 0h1m3 0h1m3 0h1m3 0h1m1 0h1m21 0h3m3 0h1M1 1.5h1m3 0h2m7 0h1m8 0h1M3 2.5h1m14 0h1m20 0h1m2 0h1M2 3.5h1m2 0h1m13 0h1m19 0h2m3 0h1M2 4.5h1m8 0h2M7 5.5h1m4 0h1m12 0h1m22 0h1M3 6.5h1m3 0h1m2 0h1m4 0h1m7 0h1M4 7.5h1M5 8.5h1m32 0h1m4 0h2m2 0h1M22 9.5h1m20 0h1m1 0h1m2 0h1M12 11.5h1m1 0h1M20 13.5h1m10 0h1m6 0h1m5 0h1M23 14.5h1m10 0h1m15 0h1m29 0h2M21 15.5h1m3 0h1m7 0h1m2 0h1m2 0h1m40 0h1M21 16.5h1m8 0h1M0 17.5h2m26 0h1m7 0h1m6 0h1m5 0h1m30 0h1M4 18.5h1m2 0h2m14 0h2m9 0h1m6 0h1M23 19.5h1m7 0h1m4 0h2m42 0h1M17 20.5h1M3 21.5h1m14 0h1m38 0h1m3 0h1M8 22.5h1M18 24.5h1m42 0h1M53 25.5h1m7 0h1M18 26.5h1M11 27.5h1m1 0h1m36 0h1M19 28.5h1M51 29.5h1M52 30.5h1m5 0h1m1 0h1M9 31.5h1m9 0h1m27 0h1M47 32.5h2M17 33.5h2M17 34.5h1m2 0h1m1 0h1M13 35.5h1m5 0h2m30 0h1m2 0h1M16 36.5h1M11 37.5h1m12 0h1M26 38.5h1M22 39.5h1m4 0h1M21 40.5h1m4 0h2M15 43.5h1M15 44.5h1m1 0h1M13 45.5h1"/><path stroke="#00b4ff" d="M1 0.5h1m9 0h1m3 0h1m21 0h1m11 0h1M2 1.5h3m2 0h1M5 2.5h1m37 0h1M13 3.5h1m8 0h1M13 4.5h1m5 0h2m19 0h1m3 0h1M0 5.5h1m2 0h1m9 0h1m8 0h1m1 0h1m16 0h1m2 0h1M9 6.5h1m12 0h1m21 0h2M2 7.5h1m12 0h1m26 0h1m2 0h1M15 8.5h1m6 0h1m4 0h1m18 0h1m1 0h1M10 9.5h1m5 0h1m11 0h2m17 0h1M11 10.5h2m4 0h3M29 11.5h1m16 0h1M26 12.5h1m10 0h2m5 0h1M10 13.5h1M9 14.5h1m1 0h1m12 0h1m14 0h1M10 15.5h1m21 0h1m16 0h1m31 0h1M9 16.5h1m21 0h1m19 0h1m28 0h2M8 17.5h1m16 0h1m8 0h1m4 0h1m2 0h1m7 0h1M5 18.5h2m10 0h2m16 0h2m1 0h1m41 0h1M16 19.5h1m2 0h1m5 0h1m12 0h2M18 20.5h1m18 0h1M2 21.5h1m36 0h1m16 0h1M0 22.5h2M19 24.5h1m9 0h1m23 0h1M23 27.5h1M51 28.5h1M13 29.5h1M59 30.5h1M16 32.5h1m1 0h1M13 33.5h1m2 0h1M19 34.5h1M17 35.5h1m34 0h2M11 36.5h1m5 0h1m2 0h1M25 37.5h1M28 39.5h1M28 40.5h1M16 43.5h1M16 44.5h1"/><path stroke="#00c4ff" d="M7 0.5h1M15 1.5h1m4 0h1m1 0h1M19 2.5h1m3 0h1M18 3.5h1m1 0h1m20 0h1M21 4.5h1m21 0h1M14 5.5h2m4 0h1m22 0h1M1 6.5h1m6 0h1m9 0h1m23 0h1m3 0h3M3 7.5h1m6 0h2m10 0h1m21 0h1m3 0h1M16 8.5h1M9 9.5h1m9 0h1m1 0h1m2 0h2m20 0h1M8 10.5h1m17 0h4m10 0h1M11 11.5h1m15 0h2m16 0h1M25 12.5h1m3 0h1m10 0h1M9 13.5h1m20 0h1m9 0h1M0 14.5h1m9 0h1m14 0h1M1 15.5h1m7 0h1m19 0h1M43 16.5h1M27 17.5h1m7 0h1M1 18.5h1m24 0h1m1 0h1m8 0h1M17 19.5h1m6 0h1m5 0h1M0 20.5h1m2 0h1m19 0h1m15 0h1M0 21.5h1m20 0h1m10 0h1m4 0h1M36 22.5h1M19 23.5h2M19 25.5h1M23 26.5h2m11 0h1m1 0h1M24 27.5h1m12 0h1m13 0h1M23 28.5h1M20 31.5h1M12 33.5h1m14 0h1M13 34.5h1m9 0h1m7 0h3M12 35.5h1M26 37.5h1M20 38.5h1m6 0h1M21 39.5h1M17 43.5h1"/><path stroke="#00d4ff" d="M16 1.5h1m4 0h1M4 2.5h1m12 0h1M3 3.5h1m17 0h1m21 0h1M4 4.5h1M16 5.5h1m1 0h2m1 0h1m20 0h1M16 6.5h2m1 0h3m2 0h1m18 0h1M1 7.5h1m5 0h1m15 0h1m2 0h1m16 0h1m2 0h2M4 8.5h1m1 0h1m3 0h2m11 0h1M8 9.5h1m9 0h1m1 0h1m2 0h1m2 0h2m13 0h2M9 10.5h2m11 0h1m2 0h1m19 0h3M19 11.5h1m1 0h2m2 0h1m14 0h1M19 12.5h2m2 0h1m18 0h2M23 13.5h3M8 14.5h1m22 0h1M31 15.5h1m18 0h1M8 16.5h1m23 0h3m6 0h2m6 0h1M7 17.5h1m18 0h1m14 0h1M27 18.5h1m11 0h2M1 19.5h1m1 0h1m14 0h1m7 0h4M19 20.5h1M1 21.5h1m17 0h2m1 0h1M37 22.5h1M29 23.5h1M20 24.5h1M24 25.5h2m9 0h2M22 26.5h1m2 0h2m10 0h1M22 27.5h1M11 28.5h1m1 0h1m8 0h1M22 29.5h1M22 30.5h1M21 31.5h1M19 33.5h3m4 0h1m1 0h1m1 0h2M12 34.5h1m3 0h1m9 0h2m2 0h1M32 35.5h2M12 36.5h1m14 0h1M30 38.5h1M29 39.5h1"/><path stroke="#00e5ff" d="M17 1.5h1M14 2.5h1m1 0h1m5 0h1M4 3.5h1M3 4.5h1m10 0h2m25 0h1M17 5.5h1M25 6.5h1M9 7.5h1m6 0h1M0 8.5h1m8 0h1m11 0h1M17 9.5h1M20 10.5h1m2 0h2m18 0h2M20 11.5h1m2 0h1M24 12.5h1M8 13.5h1m20 0h1m11 0h1M26 14.5h1M8 15.5h1m25 0h2m7 0h1M35 16.5h1m4 0h1m9 0h1M0 18.5h1m2 0h1M2 19.5h1M1 20.5h2m24 0h1m10 0h1M19 22.5h1m15 0h1M21 23.5h1M28 24.5h1m1 0h1M22 25.5h2m2 0h1m10 0h1M19 26.5h1M12 29.5h1m10 0h1M20 30.5h1M19 32.5h1m11 0h1M32 33.5h2M25 34.5h1m2 0h1M16 35.5h1m10 0h1m2 0h2M24 36.5h3M12 37.5h1m7 0h2M21 38.5h1"/><path stroke="#00f5ff" d="M15 2.5h1m4 0h2M16 3.5h2m24 0h1M16 4.5h1m1 0h1m23 0h1M0 7.5h1m20 0h1M1 8.5h1m15 0h1m6 0h3M5 9.5h1M7 10.5h1m13 0h1M24 11.5h1m17 0h3M10 12.5h1m17 0h1m12 0h1M43 13.5h1M1 14.5h1m25 0h1M30 15.5h1M2 16.5h1M2 17.5h1m37 0h1M2 18.5h1M0 19.5h1M26 20.5h1m4 0h1M24 21.5h1M21 22.5h1m10 0h2m4 0h1M37 23.5h1M21 24.5h1m3 0h1M20 25.5h2m6 0h2M21 26.5h1m5 0h1m7 0h1M19 27.5h1M20 28.5h2m2 0h1m12 0h1M20 29.5h1M21 30.5h1m1 0h1m3 0h1m7 0h1M34 31.5h2M20 32.5h2m5 0h2M25 33.5h1M24 34.5h1m4 0h1M24 35.5h1m1 0h1m1 0h2M28 36.5h1M27 37.5h1M28 38.5h2"/><path stroke="#06fff9" d="M14 3.5h1M0 6.5h1M8 7.5h1m8 0h1m2 0h1M2 8.5h2M0 9.5h1m5 0h2M41 11.5h1M9 12.5h1m17 0h1M26 13.5h1m15 0h1M7 14.5h1m20 0h3m9 0h1m2 0h1M7 16.5h1M4 17.5h2M24 20.5h1M23 21.5h1m1 0h3m10 0h1M20 22.5h1m1 0h1m2 0h1M25 23.5h1m2 0h1m1 0h1m5 0h1m1 0h1M24 24.5h1M27 25.5h1M20 26.5h1M21 27.5h1m3 0h1m2 0h1m7 0h1M37 29.5h1M32 30.5h1m4 0h1M22 31.5h1m4 0h1m3 0h2M26 32.5h1m3 0h1m1 0h1M29 33.5h1M25 35.5h1M32 36.5h1"/><path stroke="#16ffe9" d="M15 3.5h1M17 4.5h1M18 7.5h2m4 0h1M7 8.5h2m11 0h1M8 11.5h3M8 12.5h1M7 13.5h1M41 14.5h1M41 15.5h2M3 17.5h1m2 0h1M25 20.5h1m2 0h1M31 21.5h1M24 22.5h1m9 0h1M22 23.5h1m9 0h2M22 24.5h1m3 0h1m10 0h1M30 25.5h1m3 0h1m3 0h1M20 27.5h1m6 0h1m1 0h1M36 28.5h1M21 29.5h1m11 0h1m2 0h1M26 30.5h1m4 0h1m1 0h1m2 0h1M26 31.5h1m1 0h1m4 0h1M24 32.5h2m8 0h2M24 33.5h1m9 0h1M31 36.5h1M30 37.5h1"/><path stroke="#26ffd9" d="M25 7.5h1M18 8.5h2M4 9.5h1M41 10.5h2M7 11.5h1M5 12.5h1m1 0h1M28 13.5h1M42 14.5h1M2 15.5h1m4 0h1m32 0h1M5 16.5h1M29 20.5h2M26 22.5h1m2 0h1m1 0h1M24 23.5h1m1 0h2m3 0h1m3 0h1M27 24.5h1m6 0h3m1 0h1M28 26.5h1M26 27.5h1m3 0h1M24 29.5h1m2 0h1m4 0h1m2 0h1M34 30.5h1M23 31.5h1M33 32.5h1M22 33.5h2M29 36.5h2M28 37.5h2m1 0h1"/><path stroke="#37ffc8" d="M1 9.5h1M0 10.5h1m2 0h4M0 11.5h1m2 0h2M4 12.5h1m1 0h1M0 13.5h1m4 0h2M6 14.5h1M28 21.5h2M27 22.5h2M34 23.5h1M23 24.5h1m7 0h1m1 0h1M30 26.5h1M12 27.5h1m18 0h1M28 28.5h1M24 30.5h1m3 0h1M24 31.5h2m10 0h1M23 32.5h1m5 0h1"/><path stroke="#47ffb8" d="M3 9.5h1M5 11.5h2M0 12.5h1M1 13.5h1m25 0h1M2 14.5h1M3 16.5h1M30 21.5h1M23 22.5h1m6 0h1M23 23.5h1M31 25.5h1M29 26.5h1m1 0h1m2 0h1M35 27.5h1M27 28.5h1m1 0h1m3 0h1m1 0h1M30 29.5h2m2 0h1M25 30.5h1m4 0h1M30 31.5h1M22 32.5h1"/><path stroke="#57ffa8" d="M2 9.5h1M3 12.5h1M4 13.5h1M5 14.5h1M3 15.5h1M4 16.5h1m1 0h1M32 24.5h1M33 25.5h1M32 26.5h2M32 27.5h1M25 28.5h1m4 0h1m1 0h1M26 29.5h1m1 0h2"/><path stroke="#67ff98" d="M2 10.5h1M2 11.5h1M2 13.5h2M5 15.5h2M31 28.5h1m2 0h1M25 29.5h1M29 30.5h1M29 31.5h1"/><path stroke="#77ff88" d="M1 10.5h1M1 11.5h1M1 12.5h1M3 14.5h1M4 15.5h1M32 25.5h1M33 27.5h1M26 28.5h1"/><path stroke="#88ff77" d="M2 12.5h1M4 14.5h1"/><path stroke="#98ff67" d="M34 27.5h1M12 28.5h1"/></g></g>
<g clip-path="url(#ocb)"><g filter="url(#blA)"><g transform="matrix(6.2247,0,0,11.3341,703.15,51.13)" fill="none" stroke-width="1.04"><path stroke="#0033ff" d="M0 27.5h1"/><path stroke="#0053ff" d="M73 32.5h1M73 33.5h1"/><path stroke="#0063ff" d="M72 32.5h1m1 0h1M72 33.5h1m1 0h1M73 34.5h2"/><path stroke="#0073ff" d="M72 31.5h2M75 33.5h1M72 34.5h1m2 0h1"/><path stroke="#0084ff" d="M74 31.5h1M71 32.5h1m3 0h1M71 33.5h1M73 35.5h3"/><path stroke="#0094ff" d="M71 31.5h1m3 0h1M76 32.5h1M76 33.5h1M76 34.5h1M76 35.5h1"/><path stroke="#00a4ff" d="M75 29.5h3M71 30.5h8M70 31.5h1m5 0h4M70 32.5h1m6 0h3M77 33.5h1M71 34.5h1m5 0h1M72 35.5h1M74 36.5h3"/><path stroke="#00b4ff" d="M75 28.5h3M78 29.5h1M79 30.5h1M80 31.5h2M80 32.5h1M70 33.5h1m7 0h2M78 34.5h1M77 35.5h1"/><path stroke="#00c4ff" d="M75 27.5h2M0 28.5h1m73 0h1m3 0h1M72 29.5h3m4 0h1M70 30.5h1m9 0h2M69 31.5h1m12 0h1M69 32.5h1m11 0h2M80 33.5h2M79 34.5h1M78 35.5h1M73 36.5h1m3 0h1M75 37.5h2"/><path stroke="#00d4ff" d="M74 27.5h1m2 0h1M70 29.5h2M69 30.5h1m12 0h1M83 31.5h2M83 32.5h2M69 33.5h1m12 0h2M70 34.5h1m9 0h2M71 35.5h1m7 0h1M78 36.5h1M77 37.5h1"/><path stroke="#00e5ff" d="M75 26.5h1M73 28.5h1m5 0h1M69 29.5h1m10 0h1M68 30.5h1m14 0h1M67 31.5h2m16 0h1M67 32.5h2m16 0h1M67 33.5h2m15 0h2M68 34.5h2m12 0h3M70 35.5h1m9 0h2M72 36.5h1m6 0h1M74 37.5h1m3 0h1"/><path stroke="#00f5ff" d="M75 25.5h1M74 26.5h1m1 0h2M73 27.5h1m4 0h1M70 28.5h3M68 29.5h1m12 0h1M66 30.5h2m16 0h2M65 31.5h2M65 32.5h2M65 33.5h2M65 34.5h3m17 0h1M66 35.5h4m12 0h4M68 36.5h1m2 0h1m8 0h2M79 37.5h1M76 38.5h2"/><path stroke="#06fff9" d="M77 21.5h1M76 22.5h2M75 23.5h3M74 24.5h4M73 25.5h2m1 0h2M72 26.5h2m4 0h1M70 27.5h3m6 0h1M67 28.5h3m10 0h1M66 29.5h2m14 0h2M43 30.5h4m17 0h2M42 31.5h7m14 0h2M42 32.5h7m13 0h3M43 33.5h6m12 0h4M46 34.5h1m15 0h3M63 35.5h3M65 36.5h3m1 0h2m11 0h4M67 37.5h2m4 0h1m6 0h1M75 38.5h1m2 0h1"/><path stroke="#16ffe9" d="M77 18.5h1M76 19.5h3M75 20.5h4M75 21.5h2m1 0h2M74 22.5h2m2 0h2M73 23.5h2m3 0h2M72 24.5h2m4 0h2M71 25.5h2m5 0h2M70 26.5h2m7 0h1M68 27.5h2m10 0h1M45 28.5h2m19 0h1m14 0h1M42 29.5h7m15 0h2m18 0h1M41 30.5h2m4 0h3m12 0h2M40 31.5h2m7 0h2m9 0h3M40 32.5h2m7 0h4m5 0h4M41 33.5h2m6 0h12M42 34.5h4m1 0h15M44 35.5h6m5 0h8M46 36.5h2m15 0h2M65 37.5h2m2 0h4m8 0h5M74 38.5h1m4 0h1M78 39.5h1"/><path stroke="#26ffd9" d="M20 0.5h12M20 1.5h12M20 2.5h12M20 3.5h11M21 4.5h10M21 5.5h10M21 6.5h10M22 7.5h9M22 8.5h8M23 9.5h7M25 10.5h3M77 17.5h2M76 18.5h1m1 0h1M75 19.5h1m3 0h1M74 20.5h1m4 0h1M73 21.5h2m5 0h1M72 22.5h2m6 0h1M71 23.5h2m7 0h1M71 24.5h1m8 0h2M70 25.5h1m9 0h2M68 26.5h2m10 0h2M45 27.5h3m18 0h2m13 0h2M42 28.5h3m2 0h3m14 0h2m16 0h2M41 29.5h1m7 0h2m11 0h2m21 0h1M40 30.5h1m9 0h2m8 0h2M39 31.5h1m11 0h9M39 32.5h1m13 0h5M39 33.5h2M40 34.5h2M41 35.5h3m6 0h5M44 36.5h2m2 0h3m2 0h10M46 37.5h2m15 0h2M66 38.5h5m2 0h1m6 0h2M76 39.5h2m1 0h1"/><path stroke="#37ffc8" d="M19 0.5h1m12 0h1M19 1.5h1m12 0h1M19 2.5h1m12 0h1M31 3.5h2M20 4.5h1m10 0h2M20 5.5h1m10 0h1M20 6.5h1m10 0h1M21 7.5h1m9 0h1M30 8.5h2M22 9.5h1m7 0h1M23 10.5h2m3 0h2M76 16.5h3M75 17.5h2m2 0h1M74 18.5h2m3 0h1M74 19.5h1m5 0h1M51 20.5h1m21 0h1m6 0h1M51 21.5h1m20 0h1m8 0h1M71 22.5h1m9 0h1M52 23.5h1m17 0h1m10 0h2M70 24.5h1m11 0h1M68 25.5h2m12 0h2M45 26.5h4m18 0h1m14 0h2M42 27.5h3m3 0h2m15 0h1m17 0h2M41 28.5h1m8 0h1m12 0h1m20 0h2M39 29.5h2m10 0h2m7 0h2M38 30.5h2m12 0h3m2 0h3M37 31.5h2M37 32.5h2M37 33.5h2M37 34.5h3M39 35.5h2M41 36.5h3m7 0h2M44 37.5h2m2 0h2m3 0h10M64 38.5h2m5 0h2m9 0h4M67 39.5h3m5 0h1m4 0h1"/><path stroke="#47ffb8" d="M33 0.5h2M33 1.5h1M33 2.5h1M19 3.5h1m13 0h1M19 4.5h1m13 0h1M32 5.5h2M32 6.5h1M32 7.5h1M21 8.5h1m10 0h1M31 9.5h1M30 10.5h1M75 14.5h3M75 15.5h4M74 16.5h2m3 0h1M73 17.5h2m5 0h1M73 18.5h1m6 0h2M72 19.5h2m7 0h1M50 20.5h1m1 0h1m18 0h2m8 0h2M50 21.5h1m1 0h1m18 0h1m10 0h2M50 22.5h3m17 0h1m11 0h3M49 23.5h3m31 0h3M47 24.5h6m16 0h1m13 0h3M45 25.5h7m32 0h2M42 26.5h3m4 0h3m14 0h1m17 0h2M41 27.5h1m8 0h2m12 0h1m20 0h1M39 28.5h2m10 0h2m8 0h2M38 29.5h1m14 0h2m3 0h2M36 30.5h2m17 0h2M35 31.5h2M35 32.5h2M35 33.5h2M35 34.5h2M36 35.5h3M38 36.5h3M41 37.5h3m6 0h3M46 38.5h3m6 0h1m4 0h4M65 39.5h2m3 0h5m6 0h5M77 40.5h3"/><path stroke="#57ffa8" d="M35 0.5h1M34 1.5h2M34 2.5h1M34 3.5h1m41 0h2M34 4.5h1m41 0h4M19 5.5h1m56 0h6M33 6.5h1m42 0h8M20 7.5h1m12 0h1m41 0h10M33 8.5h1m41 0h11M21 9.5h1m10 0h1m42 0h11M22 10.5h1m8 0h1m43 0h11M26 11.5h3m46 0h11M74 12.5h12M74 13.5h12M73 14.5h2m3 0h8M72 15.5h3m4 0h7M72 16.5h2m6 0h6M50 17.5h1m21 0h1m8 0h5M49 18.5h2m20 0h2m9 0h4M50 19.5h4m17 0h1m10 0h4M53 20.5h1m16 0h1m12 0h3M49 21.5h1m3 0h1m16 0h1m13 0h2M48 22.5h2m3 0h1m31 0h1M47 23.5h2m4 0h1m15 0h1M45 24.5h2m21 0h1M42 25.5h3m7 0h1m14 0h1M40 26.5h2m10 0h1m12 0h1M39 27.5h2m11 0h2m7 0h3M38 28.5h1m14 0h2m4 0h2M36 29.5h2m17 0h3M35 30.5h1M34 31.5h1M34 32.5h1M33 33.5h2M33 34.5h2M34 35.5h2M36 36.5h2M39 37.5h2M43 38.5h3m3 0h6m1 0h4M63 39.5h2M67 40.5h7m1 0h2m3 0h6"/><path stroke="#67ff98" d="M36 0.5h1m38 0h11M36 1.5h1m38 0h11M35 2.5h1m39 0h11M35 3.5h1m39 0h1m2 0h8M35 4.5h1m39 0h1m4 0h6M34 5.5h1m40 0h1m6 0h4M34 6.5h1m40 0h1m8 0h2M34 7.5h1m39 0h1m10 0h1M20 8.5h1m53 0h1M33 9.5h1m40 0h1M32 10.5h1m41 0h1M24 11.5h2m3 0h2m42 0h2M72 12.5h2M72 13.5h2M71 14.5h2M71 15.5h1M71 16.5h1M49 17.5h1m1 0h1m18 0h2M51 18.5h3m16 0h1M49 19.5h1m4 0h1m15 0h1M49 20.5h1m4 0h1M48 21.5h1m5 0h1m14 0h1M47 22.5h1m6 0h1m14 0h1M45 23.5h2m21 0h1M42 24.5h3m8 0h1m13 0h1M40 25.5h2m11 0h1m12 0h1M39 26.5h1m13 0h1m10 0h1M38 27.5h1m15 0h1m5 0h1M36 28.5h2m17 0h4M35 29.5h1M34 30.5h1M33 31.5h1M32 32.5h2M32 33.5h1M32 34.5h1M32 35.5h2M33 36.5h3M35 37.5h4M39 38.5h4M46 39.5h4m2 0h4m4 0h3M65 40.5h2m7 0h1M70 41.5h4m3 0h4m1 0h4"/><path stroke="#77ff88" d="M18 0.5h1m18 0h1m34 0h3M37 1.5h1m35 0h2M36 2.5h2m35 0h2M36 3.5h1m36 0h2M36 4.5h1m36 0h2M35 5.5h1m37 0h2M19 6.5h1m15 0h1m37 0h2M35 7.5h1m36 0h2M34 8.5h1m37 0h2M34 9.5h1m37 0h2M33 10.5h1m37 0h3M23 11.5h1m7 0h1m39 0h2M70 12.5h2M70 13.5h2M48 14.5h1m21 0h1M48 15.5h1m20 0h2M69 16.5h2M52 17.5h2m15 0h1M48 18.5h1m5 0h1m1 0h1m12 0h1M48 19.5h1m20 0h1M47 20.5h2m20 0h1M46 21.5h2m7 0h1M44 22.5h3m8 0h1m12 0h1M42 23.5h3m22 0h1M40 24.5h2m24 0h1M39 25.5h1m25 0h1M38 26.5h1m15 0h2m5 0h3M36 27.5h2m17 0h3M35 28.5h1M34 29.5h1M33 30.5h1M32 31.5h1M31 32.5h1M31 33.5h1M30 34.5h2M31 35.5h1M31 36.5h2M33 37.5h2M35 38.5h4M40 39.5h6m4 0h2m4 0h4M61 40.5h4M67 41.5h3m4 0h3m4 0h1M71 42.5h4m7 0h4"/><path stroke="#88ff77" d="M38 0.5h1m22 0h11M18 1.5h1m19 0h1m22 0h12M18 2.5h1m19 0h1m22 0h12M37 3.5h1m23 0h12M37 4.5h1m24 0h11M36 5.5h2m24 0h11M36 6.5h1m26 0h10M19 7.5h1m16 0h1m26 0h9M35 8.5h1m27 0h9M20 9.5h1m43 0h8M21 10.5h1m43 0h6M22 11.5h1m43 0h5M66 12.5h4M67 13.5h3M49 14.5h1m17 0h3M49 15.5h1m18 0h1M48 16.5h6m14 0h1M48 17.5h1m5 0h1m13 0h1M57 18.5h1m10 0h1M47 19.5h1m7 0h1m12 0h1M46 20.5h1m8 0h1m12 0h1M44 21.5h2m22 0h1M42 22.5h2m23 0h1M40 23.5h2m12 0h1M39 24.5h1M38 25.5h1m17 0h1m7 0h1M36 26.5h2m18 0h1M35 27.5h1m22 0h2M34 28.5h1M32 29.5h2M31 30.5h2M31 31.5h1M30 32.5h1M30 33.5h1M29 34.5h1M29 35.5h2M30 36.5h1M31 37.5h2M32 38.5h3M35 39.5h5M47 40.5h8m4 0h2M64 41.5h3M68 42.5h3m4 0h7M70 43.5h6m5 0h5M84 44.5h2"/><path stroke="#98ff67" d="M39 0.5h2m14 0h6M39 1.5h1m15 0h6M39 2.5h1m15 0h6M18 3.5h1m19 0h2m15 0h6M18 4.5h1m19 0h1m16 0h7M38 5.5h1m16 0h7M37 6.5h1m17 0h8M37 7.5h1m17 0h8M19 8.5h1m16 0h1m18 0h8M19 9.5h1m15 0h2m18 0h9M19 10.5h2m13 0h1m21 0h9M19 11.5h3m10 0h1m14 0h2m11 0h6M17 12.5h4m26 0h1m14 0h4M16 13.5h4m28 0h1m10 0h1m4 0h3M14 14.5h6m27 0h1m2 0h1m1 0h1m5 0h2m5 0h2M13 15.5h7m27 0h1m2 0h4m11 0h3M11 16.5h8m28 0h1m6 0h1m11 0h2M9 17.5h10m28 0h1m8 0h2m9 0h1M8 18.5h7m3 0h1m27 0h2m7 0h1m11 0h1M6 19.5h7m5 0h1m26 0h2m9 0h2m9 0h1M5 20.5h6m7 0h2m23 0h3m21 0h1M3 21.5h7m7 0h3m22 0h2m23 0h1M2 22.5h6m9 0h3m21 0h1m14 0h1M0 23.5h7m10 0h3m19 0h1m15 0h2m9 0h1M0 24.5h5m11 0h4m18 0h1m17 0h2m7 0h1M0 25.5h4m12 0h3m18 0h1m19 0h1m2 0h4M0 26.5h2m33 0h1m24 0h1M34 27.5h1M32 28.5h2M31 29.5h1M30 30.5h1M29 31.5h2M29 32.5h1M28 33.5h2M28 34.5h1M28 35.5h1M29 36.5h1M30 37.5h1M31 38.5h1M33 39.5h2M34 40.5h13m8 0h4M51 41.5h3m6 0h4M66 42.5h2M68 43.5h2m6 0h5M69 44.5h8m3 0h4M71 45.5h4m7 0h4"/><path stroke="#a8ff57" d="M41 0.5h2m11 0h1M40 1.5h2m11 0h2M40 2.5h2m11 0h2M40 3.5h2m11 0h2M39 4.5h2m11 0h3M18 5.5h1m20 0h2m11 0h3M18 6.5h1m19 0h2m11 0h4M18 7.5h1m19 0h1m12 0h4M17 8.5h2m18 0h2m12 0h4M15 9.5h4m18 0h1m12 0h5M14 10.5h5m16 0h2m10 0h9M12 11.5h7m14 0h1m12 0h1m2 0h11M10 12.5h7m4 0h2m23 0h1m1 0h14M8 13.5h8m4 0h2m25 0h1m1 0h10m1 0h4M7 14.5h7m6 0h2m29 0h1m1 0h2m2 0h1m2 0h5M5 15.5h8m7 0h2m24 0h1m7 0h1m3 0h7M3 16.5h8m8 0h3m24 0h1m16 0h3M1 17.5h8m10 0h3m23 0h2m8 0h1m9 0h2M0 18.5h8m7 0h3m1 0h3m22 0h2m20 0h1M0 19.5h6m7 0h5m1 0h3m21 0h2m21 0h1M0 20.5h5m6 0h7m2 0h2m20 0h1m13 0h1M0 21.5h3m7 0h7m3 0h2m19 0h1m14 0h1m9 0h1M0 22.5h2m6 0h9m3 0h2m18 0h1m25 0h1M7 23.5h10m3 0h2m16 0h1m18 0h1m7 0h1M5 24.5h11m4 0h1m16 0h1m20 0h2m3 0h2M4 25.5h12m3 0h1m16 0h1M2 26.5h16m16 0h1m22 0h1M1 27.5h15m17 0h1M31 28.5h1M29 29.5h2M29 30.5h1M28 31.5h1M27 32.5h2M25 33.5h3M25 34.5h3M26 35.5h2M27 36.5h2M28 37.5h2M30 38.5h1M31 39.5h2M33 40.5h1M34 41.5h10m3 0h4m3 0h2m3 0h1M52 42.5h1m7 0h6M66 43.5h2M9 44.5h7m51 0h2m8 0h3M3 45.5h14m51 0h3m4 0h7"/><path stroke="#b8ff47" d="M43 0.5h11M42 1.5h11M42 2.5h11M42 3.5h11M41 4.5h11M41 5.5h11M17 6.5h1m22 0h11M16 7.5h2m21 0h12M14 8.5h3m22 0h12M12 9.5h3m23 0h2m4 0h6M10 10.5h4m23 0h2m5 0h3M8 11.5h4m22 0h2m9 0h1M6 12.5h4m13 0h1m21 0h1M5 13.5h3m14 0h1m22 0h2M3 14.5h4m15 0h1m22 0h2m8 0h2M1 15.5h4m17 0h1m21 0h2m9 0h3M0 16.5h3m19 0h1m21 0h2m9 0h8M0 17.5h1m21 0h1m20 0h2m13 0h7M22 18.5h1m20 0h1m14 0h1m5 0h2M22 19.5h1m19 0h1m22 0h1M22 20.5h1m18 0h1m24 0h1M22 21.5h1m17 0h1m24 0h1M22 22.5h1m16 0h1m17 0h1m7 0h1M37 23.5h1m20 0h1m5 0h1M36 24.5h1m23 0h3M35 25.5h1M18 26.5h1M16 27.5h1m15 0h1M1 28.5h13m16 0h1M0 29.5h13m15 0h1M0 30.5h12m15 0h2M0 31.5h13m13 0h2M0 32.5h13m12 0h2M0 33.5h13m11 0h1M0 34.5h13m10 0h2M0 35.5h14m9 0h3M0 36.5h15m9 0h3M0 37.5h16m10 0h2M0 38.5h18m11 0h1M0 39.5h19m11 0h1M0 40.5h20m12 0h1M0 41.5h20m13 0h1m10 0h3m9 0h3M0 42.5h20m14 0h10m4 0h4m1 0h3m3 0h1M0 43.5h21m30 0h3m6 0h6M0 44.5h9m7 0h5m40 0h6M0 45.5h3m14 0h4m45 0h2"/><path stroke="#c8ff37" d="M17 4.5h1M16 5.5h2M15 6.5h2M13 7.5h3M11 8.5h3M9 9.5h3m28 0h4M7 10.5h3m29 0h5M6 11.5h2m28 0h9M4 12.5h2m18 0h9m9 0h3M2 13.5h3m18 0h1m18 0h3M0 14.5h3m40 0h2M0 15.5h1m42 0h1M42 16.5h2M42 17.5h1M23 18.5h1m17 0h2m16 0h5M23 19.5h1m17 0h1m16 0h2m2 0h3M23 20.5h1m16 0h1m16 0h1m6 0h2M39 21.5h1m17 0h1m6 0h1M38 22.5h1m19 0h1m4 0h2M22 23.5h1m36 0h5M21 24.5h1m13 0h1M20 25.5h1m13 0h1m19 0h2m2 0h2M33 26.5h1M31 27.5h1M14 28.5h1m14 0h1M13 29.5h1m13 0h1M12 30.5h1m13 0h1M13 31.5h1m11 0h1M13 32.5h1m10 0h1M13 33.5h1m9 0h1M13 34.5h2m6 0h2M14 35.5h3m3 0h3M15 36.5h9M16 37.5h10M18 38.5h11M19 39.5h4m6 0h1M20 40.5h2m8 0h2M20 41.5h2m10 0h1M20 42.5h2m11 0h1m10 0h4m8 0h3M21 43.5h1m12 0h11m2 0h4m3 0h2m2 0h2M21 44.5h1m13 0h8m6 0h6m4 0h2M21 45.5h1m38 0h6"/><path stroke="#d9ff26" d="M17 0.5h1M17 1.5h1M17 2.5h1M17 3.5h1M16 4.5h1M14 5.5h2M13 6.5h2M11 7.5h2M9 8.5h2M7 9.5h2M5 10.5h2M4 11.5h2M2 12.5h2m29 0h9M0 13.5h2m37 0h3M23 14.5h1m16 0h3M23 15.5h1m17 0h2M23 16.5h1m17 0h1M23 17.5h1m17 0h1M40 18.5h1M40 19.5h1m19 0h2M39 20.5h1m18 0h6M23 21.5h1m14 0h1m19 0h6M37 22.5h1m21 0h4M36 23.5h1M33 25.5h1M19 26.5h1m12 0h1M17 27.5h1m11 0h2M15 28.5h1m12 0h1M13 30.5h1M14 31.5h1m9 0h1M14 32.5h1m8 0h1M14 33.5h2m5 0h2M15 34.5h6M17 35.5h3M23 39.5h6M22 40.5h2m5 0h1M22 41.5h1m7 0h2M31 42.5h2M32 43.5h2m11 0h2m9 0h2M22 44.5h1m10 0h2m8 0h6m6 0h4M22 45.5h1m11 0h26"/><path stroke="#e9ff16" d="M16 2.5h1M14 3.5h3M13 4.5h3M13 5.5h1M12 6.5h1M8 7.5h3M6 8.5h3M5 9.5h2M3 10.5h2M1 11.5h3M0 12.5h2M24 13.5h1m11 0h3M24 14.5h1m13 0h2M24 15.5h1m14 0h2M24 16.5h1m14 0h2M24 17.5h1m14 0h2M24 18.5h1m14 0h1M24 19.5h1m14 0h1M24 20.5h1m13 0h1M37 21.5h1M23 22.5h1m12 0h1M35 23.5h1M34 24.5h1M31 26.5h1M16 28.5h1m10 0h1M14 29.5h2m10 0h1M14 30.5h2m9 0h1M15 31.5h2M15 32.5h3m3 0h2M16 33.5h5M24 40.5h2m1 0h2M29 41.5h1M22 42.5h1m7 0h1M22 43.5h1m7 0h2M31 44.5h2M23 45.5h1m8 0h2"/><path stroke="#f9ff06" d="M16 0.5h1M15 1.5h2M13 2.5h3M13 3.5h1M12 4.5h1M12 5.5h1M7 6.5h5M5 7.5h3M4 8.5h2M2 9.5h3M1 10.5h2M0 11.5h1M25 13.5h1m7 0h3M36 14.5h2M37 15.5h2M38 16.5h1M25 17.5h1m12 0h1M25 18.5h1m12 0h1M38 19.5h1M37 20.5h1M24 21.5h1m11 0h1M35 22.5h1M34 23.5h1M22 24.5h1m10 0h1M21 25.5h1m10 0h1M30 26.5h1M18 27.5h1m9 0h1M17 28.5h1M16 29.5h3M16 30.5h4M17 31.5h7M18 32.5h3M26 40.5h1M23 41.5h1m4 0h1M29 42.5h1M29 43.5h1M23 44.5h1m5 0h2M24 45.5h1m3 0h4"/><path stroke="#fff500" d="M12 0.5h4M12 1.5h3M12 2.5h1M8 3.5h1m3 0h1M6 4.5h4M5 5.5h5M3 6.5h4M2 7.5h3M0 8.5h4M0 9.5h2M0 10.5h1M26 13.5h1m4 0h2M25 14.5h1m8 0h2M25 15.5h1m10 0h1M25 16.5h1m10 0h2M37 17.5h1M37 18.5h1M25 19.5h1m11 0h1M25 20.5h1m10 0h1M23 23.5h1M31 25.5h1M20 26.5h1m8 0h1M19 27.5h1M18 28.5h2M19 29.5h2m4 0h1M20 30.5h2m2 0h1M27 41.5h1M28 42.5h1M28 43.5h1M27 44.5h2M25 45.5h3"/><path stroke="#ffe500" d="M0 0.5h12M0 1.5h12M0 2.5h12M0 3.5h8m1 0h1M0 4.5h6M0 5.5h5m5 0h2M0 6.5h3M0 7.5h2M27 13.5h4M26 14.5h1m6 0h1M26 15.5h1m7 0h2M26 16.5h1m8 0h1M26 17.5h1m8 0h2M26 18.5h1m9 0h1M36 19.5h1M35 20.5h1M35 21.5h1M24 22.5h1m9 0h1M33 23.5h1M32 24.5h1m22 0h1M30 25.5h1M20 27.5h1M20 28.5h1m5 0h1M21 29.5h1M22 30.5h2"/><path stroke="#ffd500" d="M11 3.5h1M27 14.5h2m2 0h2M27 15.5h1m5 0h1M27 16.5h1m6 0h1M27 17.5h1m6 0h1M35 18.5h1M26 19.5h1m8 0h1M25 21.5h1m8 0h1M31 24.5h1M21 26.5h1M21 27.5h1m5 0h1M21 28.5h1M22 29.5h3M24 41.5h1m1 0h1M27 42.5h1M23 43.5h1m3 0h1M24 44.5h1m1 0h1"/><path stroke="#ffc400" d="M10 3.5h1M10 4.5h2M29 14.5h2M28 15.5h5M28 16.5h1m3 0h2M33 17.5h1M27 18.5h1m6 0h1M34 19.5h1M26 20.5h1m7 0h1M33 22.5h1M32 23.5h1M23 24.5h1m30 0h1M22 25.5h1m6 0h1M28 26.5h1M22 27.5h1M22 28.5h4M23 42.5h1M25 44.5h1"/><path stroke="#ffb400" d="M29 16.5h3M28 17.5h1m3 0h1M33 18.5h1M33 19.5h1M33 20.5h1M33 21.5h1M25 22.5h1M24 23.5h1m6 0h1M30 24.5h1M22 26.5h1M23 27.5h1m2 0h1M25 41.5h1"/><path stroke="#ffa400" d="M29 17.5h1m1 0h1M28 18.5h1M27 19.5h1M26 21.5h1M32 22.5h1M23 25.5h1M23 26.5h1m3 0h1m30 0h2M24 27.5h2"/><path stroke="#ff9400" d="M30 17.5h1M32 18.5h1M27 20.5h1M32 21.5h1M30 23.5h1M24 24.5h1m4 0h1M28 25.5h1M24 26.5h1"/><path stroke="#ff8400" d="M29 18.5h1m1 0h1M28 19.5h1m3 0h1M32 20.5h1M26 22.5h1m4 0h1M25 23.5h1M24 25.5h1M25 26.5h2M26 43.5h1"/><path stroke="#ff7300" d="M30 18.5h1M27 21.5h1M27 22.5h1m2 0h1M26 23.5h1m2 0h1M25 24.5h1m2 0h1M25 25.5h3M26 42.5h1"/><path stroke="#ff6300" d="M29 19.5h1m1 0h1M28 20.5h1m2 0h1M28 21.5h1m2 0h1M28 22.5h2M27 23.5h2M26 24.5h2M24 42.5h1M24 43.5h1"/><path stroke="#ff5300" d="M30 19.5h1M29 20.5h1M29 21.5h2"/><path stroke="#ff4300" d="M30 20.5h1M25 43.5h1"/><path stroke="#ff3300" d="M25 42.5h1"/></g></g></g>
<use href="#coast" transform="matrix(0.62247,0,0,-1.13341,553.758,413.824)" fill="none" stroke="#000" stroke-width="2.0"/>
</g>
<rect x="715.6" y="73.8" width="504.2" height="464.7" fill="none" stroke="#555" stroke-width="1.3"/>
<text x="740.5" y="562.0" font-family="'Liberation Sans', Arial, sans-serif" font-size="16.5" font-weight="normal" text-anchor="middle" >30</text>
<text x="802.7" y="562.0" font-family="'Liberation Sans', Arial, sans-serif" font-size="16.5" font-weight="normal" text-anchor="middle" >40</text>
<text x="865.0" y="562.0" font-family="'Liberation Sans', Arial, sans-serif" font-size="16.5" font-weight="normal" text-anchor="middle" >50</text>
<text x="927.2" y="562.0" font-family="'Liberation Sans', Arial, sans-serif" font-size="16.5" font-weight="normal" text-anchor="middle" >60</text>
<text x="989.5" y="562.0" font-family="'Liberation Sans', Arial, sans-serif" font-size="16.5" font-weight="normal" text-anchor="middle" >70</text>
<text x="1051.7" y="562.0" font-family="'Liberation Sans', Arial, sans-serif" font-size="16.5" font-weight="normal" text-anchor="middle" >80</text>
<text x="1114.0" y="562.0" font-family="'Liberation Sans', Arial, sans-serif" font-size="16.5" font-weight="normal" text-anchor="middle" >90</text>
<text x="1176.2" y="562.0" font-family="'Liberation Sans', Arial, sans-serif" font-size="16.5" font-weight="normal" text-anchor="middle" >100</text>
<text x="709.6" y="533.2" font-family="'Liberation Sans', Arial, sans-serif" font-size="16.5" font-weight="normal" text-anchor="end" >-10</text>
<text x="709.6" y="476.5" font-family="'Liberation Sans', Arial, sans-serif" font-size="16.5" font-weight="normal" text-anchor="end" >-5</text>
<text x="709.6" y="419.8" font-family="'Liberation Sans', Arial, sans-serif" font-size="16.5" font-weight="normal" text-anchor="end" >0</text>
<text x="709.6" y="363.2" font-family="'Liberation Sans', Arial, sans-serif" font-size="16.5" font-weight="normal" text-anchor="end" >5</text>
<text x="709.6" y="306.5" font-family="'Liberation Sans', Arial, sans-serif" font-size="16.5" font-weight="normal" text-anchor="end" >10</text>
<text x="709.6" y="249.8" font-family="'Liberation Sans', Arial, sans-serif" font-size="16.5" font-weight="normal" text-anchor="end" >15</text>
<text x="709.6" y="193.1" font-family="'Liberation Sans', Arial, sans-serif" font-size="16.5" font-weight="normal" text-anchor="end" >20</text>
<text x="709.6" y="136.5" font-family="'Liberation Sans', Arial, sans-serif" font-size="16.5" font-weight="normal" text-anchor="end" >25</text>
<text x="709.6" y="79.8" font-family="'Liberation Sans', Arial, sans-serif" font-size="16.5" font-weight="normal" text-anchor="end" >30</text>
<clipPath id="bxc"><rect x="1419.1" y="79.1" width="504.2" height="463.6"/></clipPath>
<clipPath id="occ"><use href="#oceanp" transform="matrix(0.62247,0,0,-1.13073,1257.258,418.320)" clip-rule="evenodd"/></clipPath>
<g clip-path="url(#bxc)">
<g filter="url(#blB)"><g transform="matrix(6.2247,0,0,11.3073,1406.65,56.49)" fill="none" stroke-width="1.04"><path stroke="#4393c0" d="M44 0.5h2"/><path stroke="#5199c2" d="M43 0.5h1m2 0h1M44 1.5h1"/><path stroke="#5fa0c4" d="M45 1.5h1M53 7.5h1M77 28.5h1"/><path stroke="#6da7c6" d="M43 1.5h1M42 2.5h1M43 3.5h1M47 4.5h1M47 5.5h1M45 6.5h2M46 7.5h1M57 15.5h1M77 27.5h1M70 30.5h1"/><path stroke="#7badc8" d="M42 1.5h1M41 2.5h1M39 3.5h1m2 0h1M2 4.5h1m40 0h1M47 6.5h1M45 7.5h1m1 0h1m6 0h1M52 8.5h3M45 9.5h1M55 10.5h1M41 11.5h1m13 0h1M67 13.5h1M64 15.5h1M76 27.5h1M78 28.5h3M77 29.5h1M77 30.5h1M62 37.5h1"/><path stroke="#88b4ca" d="M46 1.5h1M43 2.5h1M40 3.5h2m5 0h1m2 0h2M39 4.5h1m4 0h1M0 5.5h1m47 0h1M48 6.5h3m2 0h1m19 0h1M52 7.5h1m20 0h1M53 9.5h1m1 0h3M60 10.5h1M40 11.5h1m15 0h1m5 0h2m3 0h1M55 12.5h1M66 13.5h1M64 14.5h1M39 20.5h2M72 25.5h1M76 26.5h1m1 0h1M11 27.5h1M76 28.5h1M70 29.5h1M9 30.5h1"/><path stroke="#96bbcc" d="M42 0.5h1m4 0h1M41 1.5h1m5 0h1M39 2.5h2m5 0h1m4 0h1M48 3.5h2M0 4.5h1m39 0h3m5 0h1M2 5.5h1m38 0h1m3 0h2m3 0h1M0 6.5h1m71 0h1M72 7.5h1M47 8.5h1m3 0h1m3 0h3M44 9.5h1m7 0h1m1 0h1M45 10.5h2m6 0h2m1 0h2m3 0h1m3 0h1M47 11.5h2m5 0h1m13 0h1m1 0h1M41 12.5h2m10 0h1m2 0h1m10 0h1M42 13.5h1m9 0h1M65 14.5h1M65 15.5h1M50 16.5h1m6 0h1m4 0h1M40 19.5h1M71 25.5h1m1 0h1M11 26.5h1m63 0h1m1 0h1m1 0h1M75 27.5h1m2 0h3M12 28.5h1m68 0h1M10 29.5h1M10 30.5h1m64 0h1m4 0h1M70 36.5h1M35 40.5h1"/><path stroke="#a4c2d0" d="M39 0.5h3M5 1.5h1m34 0h1M5 2.5h1m38 0h1m2 0h2m1 0h1M38 3.5h1m7 0h1M1 4.5h1m36 0h1m7 0h1m2 0h2M3 5.5h2m34 0h2m3 0h1m4 0h1m22 0h1M2 6.5h1m35 0h2m11 0h2m18 0h1M48 7.5h1m22 0h1m2 0h1M50 8.5h1m21 0h1M3 9.5h2m41 0h1m4 0h1m21 0h1M44 10.5h1m5 0h2m7 0h1m4 0h1m2 0h1m5 0h1M42 11.5h1m3 0h1m6 0h1m12 0h1M40 12.5h1m2 0h1m3 0h1m6 0h1m10 0h2m5 0h2M43 13.5h1m7 0h1m1 0h1m11 0h1m2 0h1m3 0h2M40 14.5h2m6 0h1M41 15.5h1m14 0h1m5 0h2M40 16.5h3M49 17.5h2M42 18.5h1m3 0h4m9 0h1M46 19.5h1m9 0h1m9 0h1M66 20.5h1M39 21.5h2M72 24.5h1m3 0h1M78 25.5h1M74 26.5h1M10 27.5h1M75 28.5h1M9 29.5h1m1 0h1m63 0h2m1 0h3M11 30.5h1m57 0h1m1 0h1m2 0h1m1 0h1M70 31.5h1M64 32.5h1M24 33.5h1M42 34.5h1M63 37.5h1M67 39.5h1M29 40.5h1"/><path stroke="#b2cad5" d="M5 0.5h1m42 0h1M0 1.5h2m4 0h1m41 0h1M45 2.5h1m3 0h1M2 3.5h1m2 0h1m38 0h1M3 4.5h1m5 0h1m35 0h1m5 0h1M5 5.5h1m3 0h2m24 0h1m2 0h1m3 0h2m7 0h3m19 0h1M3 6.5h2m35 0h1m3 0h1M2 7.5h1m35 0h2m10 0h2m5 0h1m1 0h1m2 0h2M0 8.5h1m39 0h1m2 0h4m1 0h2m11 0h1m9 0h1m1 0h1M2 9.5h1m2 0h1m34 0h1m8 0h2m7 0h1m1 0h2m10 0h1m1 0h1M47 10.5h3m2 0h1m5 0h1m3 0h1m3 0h1m1 0h1M43 11.5h2m4 0h1m1 0h1m5 0h1m1 0h3m9 0h1m1 0h1M46 12.5h1m1 0h1m3 0h1m4 0h1m10 0h1M10 13.5h1m29 0h2m6 0h1m6 0h1M42 14.5h1m14 0h1m5 0h1m2 0h2M40 15.5h1m1 0h1m2 0h1m1 0h2m9 0h1m2 0h1m4 0h1M49 16.5h1m8 0h1m5 0h1m1 0h1m3 0h1M59 17.5h1m6 0h2M57 18.5h1M39 19.5h1m2 0h1m2 0h1m1 0h1m7 0h1m1 0h1m4 0h1m2 0h1M45 20.5h3m19 0h1M41 21.5h1m2 0h1M40 22.5h2M66 23.5h1m8 0h1M47 24.5h1m20 0h1m2 0h1m3 0h1M73 26.5h1m6 0h1M42 27.5h2m1 0h1m28 0h1M9 28.5h3m28 0h1m4 0h1m22 0h1m13 0h1M12 29.5h1m56 0h1m12 0h2M8 30.5h1M9 31.5h2M63 32.5h1m1 0h2M45 33.5h1m21 0h1m7 0h1M45 34.5h1m29 0h2M67 35.5h2m5 0h1M62 36.5h1m4 0h1m1 0h1m1 0h4M67 37.5h1m2 0h1M10 38.5h1m23 0h1m19 0h1m7 0h2m2 0h2M11 39.5h1m22 0h2m26 0h2m2 0h1M66 40.5h1M35 41.5h1"/><path stroke="#c0d2da" d="M0 0.5h1m3 0h1m33 0h1m10 0h1M39 1.5h1M6 2.5h1m31 0h1M3 3.5h1M5 4.5h1M1 5.5h1m69 0h1M10 6.5h1m30 0h3m22 0h1m7 0h2M0 7.5h2m38 0h1m1 0h3m11 0h1M1 8.5h1m40 0h1m15 0h3m1 0h1m6 0h1m4 0h1M1 9.5h1m31 0h1m14 0h1M32 10.5h1m7 0h2m21 0h1m5 0h1m2 0h1m1 0h1M45 11.5h1m4 0h1m7 0h1m6 0h1m3 0h1m2 0h1M44 12.5h1m6 0h1m6 0h3m10 0h1m2 0h1M44 13.5h2m1 0h1m1 0h1m4 0h1m1 0h2m16 0h1M5 14.5h1m4 0h1m32 0h1m3 0h1m4 0h2m2 0h1m1 0h1m1 0h3m5 0h1m3 0h2M10 15.5h1m32 0h2m4 0h3m18 0h2M43 16.5h1m7 0h1m11 0h1m1 0h1M42 17.5h1m5 0h1m8 0h1m12 0h1m3 0h1M43 18.5h1m6 0h1m2 0h1m6 0h1m5 0h1M35 19.5h1m5 0h1m1 0h1m19 0h1M41 20.5h1m1 0h2m9 0h1m2 0h1m7 0h1M43 21.5h1m29 0h1M26 22.5h1m2 0h2m6 0h1m4 0h1m1 0h1m21 0h1M32 23.5h1m11 0h1m11 0h2m16 0h1m1 0h1M44 24.5h1m24 0h1m3 0h2M49 25.5h1m18 0h3m3 0h4m1 0h1M10 26.5h1m31 0h1m7 0h1m6 0h1m13 0h1M12 27.5h1m31 0h1m36 0h1m2 0h1M41 28.5h1m2 0h1m29 0h1m8 0h2M8 29.5h1m59 0h1m2 0h1m9 0h1m2 0h1M85 30.5h1M64 31.5h1m1 0h1m2 0h1m1 0h1m3 0h2M24 32.5h1m20 0h1m11 0h1m9 0h1m1 0h3M25 33.5h1m16 0h1m23 0h1m9 0h1M41 34.5h1m1 0h1m22 0h2M46 35.5h1m22 0h2m4 0h1M50 36.5h1m12 0h1M12 37.5h1m37 0h1m10 0h1m4 0h1M11 38.5h1m23 0h1M10 39.5h1m1 0h1m51 0h1M67 40.5h1M28 41.5h2m6 0h1m7 0h1m12 0h1M38 42.5h1m18 0h1M30 43.5h1m38 0h1M52 44.5h1M52 45.5h2m23 0h1"/><path stroke="#cedadf" d="M3 0.5h1m2 0h1m2 0h1M2 1.5h1m34 0h2m10 0h1M0 2.5h5m5 0h1m2 0h1m22 0h2m14 0h1M0 3.5h2m4 0h1m1 0h1m27 0h1m15 0h1M4 4.5h1m3 0h1m1 0h1M1 6.5h1m3 0h1m3 0h1m25 0h1m18 0h1m4 0h1m1 0h2m13 0h1M37 7.5h1m11 0h1m5 0h1m2 0h1m1 0h1m4 0h3m2 0h1m4 0h1M2 8.5h1m36 0h1m25 0h4M6 9.5h1m34 0h1m1 0h1m15 0h1m5 0h1m1 0h2m2 0h1M3 10.5h2m38 0h1m26 0h2M3 11.5h1m48 0h1m11 0h1m9 0h1M3 12.5h2m40 0h1m3 0h1m13 0h2m4 0h2M5 13.5h1m40 0h1m3 0h1m9 0h1m3 0h1m6 0h1m4 0h1M4 14.5h1m39 0h2m3 0h1m9 0h1m11 0h1M46 15.5h1m21 0h1m4 0h1M56 16.5h1m2 0h1m7 0h1m1 0h1m1 0h1M40 17.5h1m6 0h1m3 0h3m4 0h1m5 0h1m6 0h1m3 0h1M35 18.5h1m5 0h1m10 0h1m1 0h3m1 0h1m4 0h1m10 0h2M44 19.5h1m3 0h1m4 0h2m4 0h1m1 0h1m5 0h1M28 20.5h1m9 0h1m3 0h1m12 0h2m14 0h1M26 21.5h2m4 0h1m3 0h1m1 0h1m3 0h1m2 0h1m20 0h2m6 0h1M31 22.5h1m4 0h1m6 0h1m6 0h1m22 0h3M28 23.5h2m11 0h3m3 0h1m7 0h1m13 0h1m1 0h2M28 24.5h1m3 0h1m8 0h2m3 0h1m19 0h2m9 0h2m6 0h1M38 25.5h1m3 0h1m3 0h2m3 0h1M43 26.5h1m1 0h2m4 0h3m2 0h1m13 0h1m1 0h1m10 0h1M35 27.5h1m10 0h1m3 0h1m5 0h1m11 0h1m4 0h1m8 0h2M46 28.5h1m22 0h1m2 0h1M44 29.5h1m4 0h2m21 0h1m1 0h1m10 0h1M12 30.5h1m29 0h1m29 0h1m5 0h2m1 0h1m2 0h1M8 31.5h1m2 0h1m53 0h1m6 0h1m1 0h1m2 0h1m2 0h1M41 32.5h2m3 0h2m3 0h1m2 0h1m7 0h1m5 0h1m4 0h2m1 0h1M41 33.5h1m4 0h2m16 0h2m8 0h1m3 0h1M46 34.5h1M20 35.5h1m21 0h1m23 0h1m4 0h1m1 0h1m2 0h1M35 36.5h1m25 0h1m4 0h1m1 0h1m6 0h1M11 37.5h1m23 0h1m33 0h1m1 0h2M9 38.5h1m2 0h1m36 0h1m3 0h1m7 0h1m7 0h1M29 39.5h1m44 0h2M11 40.5h2m15 0h1m1 0h1m5 0h1m3 0h1m10 0h2m3 0h1m4 0h1m3 0h1M37 41.5h2m4 0h1m6 0h1m9 0h2m5 0h1M26 42.5h2m7 0h1m1 0h1m20 0h1m8 0h3M26 43.5h1m2 0h1m5 0h1m27 0h1m6 0h1M26 44.5h1m8 0h1m15 0h1m25 0h1M22 45.5h1m23 0h2m28 0h1"/><path stroke="#dce1e4" d="M28 0.5h1M4 1.5h1m5 0h1m2 0h1m21 0h2M7 2.5h1m4 0h1m1 0h1m38 0h1m1 0h1M4 3.5h1m2 0h1m2 0h2m1 0h2m20 0h1m1 0h1M35 4.5h1m1 0h1m14 0h1m18 0h2M8 5.5h1m2 0h1m22 0h1m1 0h1M11 6.5h1m16 0h1m7 0h2m22 0h1m2 0h1M61 7.5h1m2 0h1m4 0h1M3 8.5h3m27 0h1m3 0h2m2 0h1m21 0h2m5 0h1m4 0h1M0 9.5h1m7 0h2m21 0h2m1 0h1m4 0h1m2 0h1m4 0h1m14 0h1m1 0h1m4 0h1M2 10.5h1m28 0h1m1 0h1m41 0h1M2 11.5h1m31 0h2M31 12.5h1m18 0h1m11 0h1M4 13.5h1m27 0h2m24 0h2m1 0h1m7 0h2m4 0h1M9 14.5h1m18 0h1m17 0h1m4 0h1m17 0h2m3 0h1m1 0h1M4 15.5h1m4 0h1m18 0h1m7 0h2m14 0h1m14 0h1m1 0h1m11 0h1M9 16.5h1m26 0h1m9 0h1m1 0h1m12 0h1m6 0h1m4 0h1m6 0h2M27 17.5h2m12 0h1m1 0h1m2 0h1m8 0h2m3 0h1m2 0h1m1 0h1m2 0h2m2 0h2m4 0h1M39 18.5h2m4 0h1m18 0h2m1 0h1m2 0h2M29 19.5h1m4 0h1m1 0h1m12 0h1m2 0h1m5 0h1m11 0h2M24 20.5h1m4 0h1m5 0h1m14 0h1m19 0h1m1 0h1m2 0h1m7 0h2M25 21.5h1m2 0h2m5 0h1m1 0h1m8 0h2m2 0h1m6 0h1m7 0h1m4 0h3m2 0h1m8 0h1M25 22.5h1m1 0h1m4 0h1m6 0h1m11 0h1m19 0h2m3 0h1M31 23.5h1m8 0h1m4 0h2m1 0h1m1 0h1m16 0h2m1 0h1m2 0h1m3 0h2M31 24.5h1m8 0h1m4 0h1m2 0h4m18 0h1m8 0h1m1 0h1M28 25.5h1m10 0h1m1 0h1m8 0h1m1 0h2m3 0h1m22 0h2M41 26.5h1m16 0h2m8 0h2m12 0h1M9 27.5h1m14 0h2m10 0h1m4 0h1m15 0h1m1 0h2m8 0h1m2 0h1m12 0h1M17 28.5h1m21 0h1m3 0h1m10 0h1m2 0h1m9 0h1m2 0h2M39 29.5h2m4 0h1m1 0h2m15 0h1m2 0h1M7 30.5h1m35 0h2m13 0h2m4 0h1m3 0h1m4 0h1m8 0h1M12 31.5h2m30 0h1m9 0h1m2 0h3m8 0h1m4 0h1m5 0h1M8 32.5h4m13 0h1m9 0h1m4 0h1m3 0h1m7 0h1m6 0h1m12 0h1m2 0h1m2 0h1M12 33.5h1m1 0h1m18 0h2m9 0h1m6 0h1m11 0h1m4 0h4M12 34.5h1m11 0h1m19 0h1m3 0h1m3 0h1m15 0h2m4 0h1M19 35.5h1m16 0h1m6 0h1m1 0h1m1 0h1m2 0h3m1 0h1m4 0h3m10 0h1M19 36.5h1m14 0h1m16 0h1m2 0h1m9 0h1M34 37.5h1m1 0h1m12 0h1m1 0h1m2 0h1m3 0h1m9 0h1M36 38.5h1m27 0h1m5 0h1M33 39.5h1m6 0h2m7 0h1m2 0h1m3 0h1m4 0h1m3 0h1m10 0h1m8 0h1M34 40.5h1m2 0h3m1 0h1m2 0h1m4 0h2m4 0h1m6 0h1m12 0h1M11 41.5h1m18 0h1m2 0h2m4 0h2m4 0h1m10 0h1m1 0h1m6 0h2M20 42.5h1m7 0h3m2 0h2m1 0h1m8 0h1m14 0h2m4 0h1m3 0h1M27 43.5h1m17 0h1m14 0h1m6 0h2M22 44.5h1m4 0h3m6 0h1m5 0h2m2 0h3m4 0h1m6 0h1m8 0h1m8 0h1M1 45.5h1m19 0h1m14 0h1m13 0h1m3 0h1"/><path stroke="#eae9e9" d="M1 0.5h2m4 0h1m5 0h1m18 0h1m2 0h1M3 1.5h1m3 0h1m1 0h1m1 0h2m1 0h1m35 0h2m3 0h1M8 2.5h1m2 0h1m23 0h1m18 0h1M9 3.5h1m5 0h1m29 0h1M6 4.5h2m7 0h1m20 0h1M13 5.5h1m14 0h1m8 0h1m16 0h1m11 0h1m7 0h2M12 6.5h1m14 0h1m37 0h1m4 0h1M3 7.5h1m1 0h1m10 0h1m11 0h1m4 0h1m1 0h2m4 0h1m26 0h1m7 0h1M6 8.5h1m9 0h1m59 0h2M7 9.5h1m30 0h1m27 0h1m8 0h3M0 10.5h1m4 0h1m28 0h1m7 0h1m33 0h1M4 11.5h1m24 0h1m1 0h1m7 0h1M2 12.5h1m26 0h1m2 0h1m28 0h1m13 0h2M3 13.5h1m5 0h1m1 0h1m19 0h1m30 0h2m21 0h1M2 14.5h2m4 0h1m28 0h1m12 0h1m3 0h2m19 0h1M29 15.5h1m23 0h1m1 0h1m3 0h2m11 0h1m7 0h1M10 16.5h1m16 0h2m6 0h1m3 0h1m4 0h2m1 0h1m4 0h1m2 0h1m16 0h1M35 17.5h2m17 0h1m7 0h1m14 0h1m1 0h2m3 0h2M28 18.5h1m5 0h1m1 0h1m14 0h1m9 0h2m5 0h2m2 0h1m5 0h1m5 0h2M28 19.5h1m9 0h1m11 0h2m8 0h1m3 0h1m7 0h1m2 0h1m3 0h1m4 0h1M25 20.5h2m3 0h1m1 0h1m1 0h1m1 0h1m14 0h1m1 0h1m4 0h1m3 0h2M24 21.5h1m5 0h2m19 0h1m1 0h2m13 0h2m6 0h1M24 22.5h1m3 0h1m9 0h1m6 0h1m1 0h1m8 0h2m7 0h1m1 0h1m2 0h1m11 0h1M24 23.5h2m7 0h1m15 0h1m1 0h1m6 0h1m6 0h1m13 0h1m1 0h2m2 0h1M25 24.5h1m17 0h1m21 0h1m14 0h1M33 25.5h1m3 0h1m5 0h3m2 0h1m5 0h1m1 0h1m2 0h1m5 0h3M25 26.5h2m11 0h1m5 0h1m4 0h1m10 0h1m2 0h1m17 0h1m2 0h1M8 27.5h1m8 0h1m5 0h1m2 0h1m10 0h2m1 0h1m10 0h1m6 0h1M8 28.5h1m4 0h1m11 0h1m3 0h2m6 0h2m3 0h1m4 0h4m4 0h2m1 0h2m25 0h1M7 29.5h1m17 0h2m5 0h1m5 0h1m2 0h1m9 0h1m2 0h1m4 0h1m3 0h1m9 0h1M13 30.5h1m16 0h1m3 0h2m5 0h1m8 0h2m15 0h1m15 0h1M31 31.5h1m3 0h1m5 0h2m6 0h1m1 0h1m11 0h1m3 0h1m10 0h1m2 0h1m3 0h1M13 32.5h1m9 0h1m15 0h1m8 0h1m4 0h1m23 0h1m1 0h1M11 33.5h1m10 0h2m11 0h1m3 0h2m2 0h1m8 0h1m4 0h1m14 0h2m5 0h1M11 34.5h1m13 0h1m2 0h1m4 0h3m11 0h1m1 0h1m1 0h1m12 0h2m4 0h2m5 0h2M21 35.5h1m2 0h1m2 0h2m3 0h4m5 0h1m11 0h1m1 0h1m21 0h1M20 36.5h2m14 0h1m10 0h1m1 0h1m7 0h2m17 0h1m1 0h2M9 37.5h2m28 0h1m1 0h4m12 0h1m2 0h1m3 0h1m8 0h1M13 38.5h1m3 0h1m3 0h1m11 0h1m7 0h2m1 0h1m1 0h1m3 0h1m1 0h1m2 0h1m9 0h1m2 0h1M3 39.5h1m5 0h1m7 0h1m18 0h1m16 0h3m12 0h4M10 40.5h1m2 0h1m31 0h1m8 0h1m13 0h1m5 0h1m1 0h1M12 41.5h1m14 0h1m23 0h1m2 0h2M25 42.5h1m13 0h1m7 0h1m2 0h1m5 0h1m27 0h1M19 43.5h2m23 0h1m1 0h2m9 0h1m3 0h2m3 0h1m11 0h1M19 44.5h1m1 0h1m8 0h1m10 0h1m2 0h2m3 0h2m8 0h1m10 0h1m8 0h1M9 45.5h1m23 0h1m15 0h1m1 0h1m10 0h1m8 0h1"/><path stroke="#efe8e6" d="M8 0.5h1m1 0h3m1 0h1m9 0h1m2 0h1m5 0h1m2 0h2m12 0h1M29 1.5h1m3 0h1m18 0h3m1 0h1M9 2.5h1m5 0h1m40 0h1m13 0h1M12 3.5h1m20 0h2m18 0h1m14 0h4M11 4.5h1m4 0h1m16 0h2m18 0h1M6 5.5h1m5 0h1m20 0h1m27 0h1m3 0h1m4 0h1m5 0h1M8 6.5h1m24 0h2m34 0h1M4 7.5h1m5 0h1m4 0h1m10 0h2m1 0h1m4 0h1M9 8.5h1m22 0h1m1 0h1M16 9.5h1m6 0h3m9 0h1m1 0h1m32 0h1m8 0h1M1 10.5h1m5 0h3m14 0h2m13 0h1M0 11.5h1m19 0h3m9 0h2m41 0h1m1 0h2M5 12.5h1m2 0h3m17 0h1m5 0h1M2 13.5h1m3 0h1m21 0h1m5 0h1m47 0h1M6 14.5h1m4 0h1m15 0h1m4 0h2m2 0h1m40 0h1m3 0h1m3 0h1M8 15.5h1m18 0h1m4 0h1m21 0h1M8 16.5h1m17 0h1m33 0h1m13 0h1m7 0h1M29 17.5h1m3 0h2m2 0h1m1 0h1m5 0h1m35 0h3M27 18.5h1m1 0h1m3 0h1m3 0h1m6 0h1m28 0h1m5 0h1m1 0h1M30 19.5h1m37 0h2m8 0h1m1 0h1m1 0h2m1 0h1M27 20.5h1m9 0h1m10 0h1m3 0h1m6 0h1m1 0h1m2 0h1m3 0h2m3 0h2m1 0h1m2 0h1m2 0h1m2 0h1M48 21.5h1m3 0h1m3 0h1m1 0h1m24 0h1m1 0h1M18 22.5h1m27 0h1m1 0h1m3 0h1m2 0h1m2 0h1m10 0h1m7 0h3m4 0h1M26 23.5h2m2 0h1m5 0h1m2 0h1m12 0h1m31 0h1M26 24.5h2m1 0h1m3 0h1m2 0h2m1 0h1m12 0h1m3 0h2m1 0h2m23 0h1M25 25.5h3m12 0h1m17 0h1m3 0h1m20 0h1M12 26.5h1m9 0h1m4 0h2m8 0h1m9 0h1m6 0h1m12 0h1M18 27.5h1m1 0h1m1 0h1m4 0h1m19 0h1m1 0h1m2 0h1m1 0h2m7 0h1m3 0h1m3 0h1M18 28.5h1m16 0h2m14 0h2m7 0h2m3 0h2m6 0h1M13 29.5h1m1 0h1m11 0h1m2 0h2m1 0h1m12 0h1m5 0h2m4 0h1m1 0h1m4 0h2M14 30.5h1m3 0h1m5 0h1m6 0h3m4 0h3m6 0h1m1 0h1m2 0h1m1 0h1m10 0h2M23 31.5h2m5 0h1m1 0h1m1 0h1m1 0h1m3 0h1m2 0h1m6 0h1m1 0h2m6 0h1m1 0h1m21 0h1M7 32.5h1m4 0h1m1 0h1m15 0h5m8 0h1m6 0h1m5 0h1m1 0h1m1 0h1M8 33.5h3m2 0h1m1 0h1m16 0h1m15 0h1m5 0h1m22 0h1M15 34.5h1m4 0h1m1 0h1m4 0h1m1 0h2m5 0h1m13 0h1m2 0h1m5 0h2m2 0h1m8 0h1m6 0h1M12 35.5h1m3 0h1m8 0h2m2 0h1m14 0h1m3 0h2m6 0h3m3 0h3m13 0h2m4 0h2M12 36.5h1m2 0h2m9 0h2m11 0h1m6 0h1m1 0h1m3 0h2m1 0h2m2 0h2m16 0h1m2 0h1M13 37.5h1m12 0h1m2 0h1m15 0h1m1 0h2m3 0h2m1 0h2m2 0h1M8 38.5h1m11 0h1m11 0h1m4 0h4m2 0h1m1 0h1m1 0h1m8 0h1m2 0h2m10 0h3m11 0h1M8 39.5h1m4 0h1m10 0h1m3 0h1m1 0h1m1 0h1m4 0h2m3 0h1m1 0h2m11 0h1m15 0h1M8 40.5h1m18 0h1m14 0h2m9 0h1m3 0h1m2 0h1m2 0h2m5 0h2M20 41.5h1m20 0h2m6 0h1m2 0h2m8 0h1m5 0h1m1 0h1m2 0h1M11 42.5h2m2 0h1m1 0h1m6 0h1m6 0h2m11 0h1m1 0h1m2 0h1m33 0h1M15 43.5h1m7 0h3m2 0h1m5 0h1m1 0h2m1 0h2m7 0h1m2 0h2m5 0h1m18 0h1m1 0h1m4 0h1M23 44.5h1m10 0h1m5 0h1m22 0h1m3 0h1m8 0h1M2 45.5h1m3 0h1m3 0h1m3 0h1m4 0h1m3 0h1m3 0h2m3 0h1m1 0h1m10 0h1m2 0h1m6 0h1m3 0h3m5 0h1m1 0h1m2 0h1m11 0h1"/><path stroke="#ecdeda" d="M20 0.5h2m1 0h1m5 0h1m4 0h1m16 0h1m3 0h1m2 0h1m26 0h1M19 1.5h1m3 0h1m4 0h1m3 0h1m1 0h1m22 0h1m4 0h1M18 2.5h1m10 0h1m3 0h2m28 0h1m4 0h2M32 3.5h1m39 0h1M32 4.5h1m37 0h1m2 0h3M7 5.5h1m6 0h1m14 0h1m30 0h1m1 0h1M13 6.5h1m4 0h2m5 0h2m31 0h1m5 0h1m2 0h1M8 7.5h2m8 0h1m5 0h2m6 0h1M7 8.5h2m6 0h1m7 0h2m1 0h1m2 0h1m5 0h2M11 9.5h2m23 0h1m26 0h1m14 0h1M6 10.5h1m13 0h3m14 0h1m39 0h2M1 11.5h1m6 0h1m19 0h1m1 0h1m5 0h1M11 12.5h1m8 0h1m12 0h1m1 0h1m41 0h1M0 13.5h1m7 0h1m16 0h1m1 0h1m1 0h1m7 0h1m39 0h2m1 0h2m1 0h2M1 14.5h1m5 0h1m16 0h2m3 0h1m9 0h1m42 0h1m1 0h1M1 15.5h1m3 0h1m5 0h1m9 0h1m11 0h1m1 0h1m3 0h1m34 0h1m1 0h2m4 0h1M4 16.5h1m26 0h1m1 0h2m2 0h1m15 0h2m20 0h1m3 0h1M26 17.5h1m3 0h1m13 0h1m16 0h1m14 0h1M21 18.5h1m55 0h1m2 0h1m1 0h2M22 19.5h1m1 0h4m5 0h1m3 0h1m39 0h1m3 0h1M23 20.5h1m9 0h1m15 0h1m10 0h1m16 0h2M17 21.5h1m15 0h1m15 0h1m5 0h1m7 0h2m12 0h1M17 22.5h1m31 0h1m4 0h1m9 0h1m20 0h1M37 23.5h1m21 0h4m17 0h1m2 0h1M20 24.5h2m8 0h1m7 0h1m14 0h3m2 0h1m2 0h2M31 25.5h2m22 0h1m4 0h2m1 0h1m18 0h1m1 0h2M21 26.5h1m1 0h2m8 0h2m1 0h1m2 0h2m7 0h1m6 0h1m6 0h1m1 0h1m20 0h1M30 27.5h2m2 0h1m13 0h1m4 0h1m7 0h2m1 0h2m4 0h1M16 28.5h1m2 0h2m3 0h1m1 0h1m1 0h1m2 0h1m21 0h1m8 0h1M16 29.5h1m1 0h1m5 0h1m4 0h1m4 0h2m1 0h1m4 0h2m11 0h1m5 0h2M15 30.5h1m7 0h1m2 0h1m10 0h1m15 0h1m1 0h1m4 0h1m2 0h1M7 31.5h1m6 0h1m23 0h2m5 0h1m1 0h2m6 0h2m25 0h1M22 32.5h1m3 0h1m11 0h1m10 0h1m5 0h1M28 33.5h3m5 0h1m1 0h1m11 0h1m8 0h1m2 0h1M10 34.5h1m3 0h1m1 0h2m3 0h1m1 0h1m7 0h2m7 0h1m13 0h2m2 0h1m2 0h2m10 0h1m9 0h2M8 35.5h1m2 0h1m3 0h1m6 0h2m7 0h1m5 0h3m25 0h1m14 0h1m2 0h1M8 36.5h1m13 0h1m1 0h1m12 0h2m3 0h4m37 0h3M8 37.5h1m15 0h2m1 0h2m2 0h1m6 0h1m1 0h1m33 0h1M18 38.5h2m4 0h1m3 0h2m1 0h1m16 0h1m2 0h1m5 0h2m15 0h3m7 0h1M16 39.5h1m3 0h1m4 0h1m1 0h1m3 0h1m7 0h1m3 0h1m2 0h2m2 0h2m6 0h2m12 0h1m10 0h2M7 40.5h1m1 0h1m4 0h1m2 0h1m8 0h1m4 0h1m1 0h1m35 0h1m2 0h2m10 0h2M5 41.5h1m4 0h1m4 0h1m1 0h1m1 0h1m5 0h2m4 0h2m13 0h1m12 0h1m9 0h1m1 0h2m10 0h2M16 42.5h1m1 0h2m1 0h1m26 0h1m10 0h1m2 0h2m9 0h1M2 43.5h1m13 0h1m14 0h1m6 0h1m2 0h1m1 0h1m5 0h2m2 0h1m2 0h1m2 0h1m4 0h1m6 0h1m13 0h1M14 44.5h1m5 0h1m10 0h3m3 0h1m1 0h1m18 0h1m2 0h2m3 0h1m1 0h1m2 0h1m12 0h1M5 45.5h1m2 0h1m2 0h1m8 0h1m14 0h1m1 0h1m4 0h1m20 0h1m4 0h1m4 0h1m1 0h1m2 0h1m4 0h1"/><path stroke="#e9d4cf" d="M25 0.5h2m25 0h1m27 0h1M8 1.5h1m6 0h1m2 0h1m44 0h1m3 0h2m11 0h1M19 2.5h1m12 0h1m38 0h2M16 3.5h1m9 0h1m28 0h1m8 0h1M13 4.5h2m7 0h1m31 0h1m10 0h1m10 0h1m6 0h1M15 5.5h1m11 0h1m27 0h1m3 0h1m4 0h1m4 0h1M6 6.5h2m7 0h1m1 0h1m6 0h1m4 0h1m2 0h1m22 0h3m27 0h1M6 7.5h2m3 0h1m7 0h4m7 0h1m46 0h1m7 0h1M10 8.5h1m7 0h5m2 0h1m1 0h1m52 0h1m2 0h1M15 9.5h1m1 0h1m2 0h1m8 0h2m49 0h1m3 0h2M10 10.5h2m1 0h1m9 0h1m5 0h2m4 0h1m2 0h1m40 0h1m5 0h1M5 11.5h1m1 0h1m1 0h3m1 0h1m11 0h1m12 0h1m37 0h1M6 12.5h2m4 0h1m8 0h2m2 0h1m1 0h1m2 0h1m5 0h1m2 0h1m38 0h4M7 13.5h1m16 0h1m1 0h1m8 0h2m2 0h1m39 0h1M21 14.5h1m1 0h1m2 0h1m7 0h1m3 0h1m39 0h1m1 0h1M0 15.5h1m1 0h2m3 0h1m5 0h2m11 0h1m3 0h2m2 0h1m3 0h1m45 0h2M11 16.5h1m9 0h1m3 0h1m3 0h2m1 0h1m5 0h1m38 0h2m4 0h1m1 0h1M0 17.5h1m8 0h1m6 0h1m14 0h1m6 0h1M19 18.5h1m2 0h1m2 0h2m11 0h1m37 0h1M21 19.5h1m1 0h1m8 0h1m40 0h2m1 0h1M21 20.5h2m8 0h1m48 0h2M34 21.5h1m25 0h1m21 0h1M53 22.5h1m5 0h2m7 0h1m12 0h1m1 0h1M17 23.5h2m19 0h1m14 0h2m9 0h1M17 24.5h3m4 0h1m58 0h1M20 25.5h2m2 0h1m9 0h1m29 0h1M9 26.5h1m4 0h1m5 0h1m44 0h1M7 27.5h1m11 0h1m1 0h1m6 0h2m9 0h1M7 28.5h1m14 0h2m3 0h1m4 0h1m1 0h1m28 0h2M14 29.5h1m2 0h1m4 0h2m33 0h1M6 30.5h1m9 0h2m7 0h1m1 0h1m8 0h1m8 0h1m2 0h1m8 0h1M17 31.5h1m7 0h2m6 0h1m27 0h1m21 0h1M29 32.5h1m6 0h1m24 0h1m18 0h1M7 33.5h1m13 0h1m9 0h1m5 0h1m11 0h1m3 0h1m2 0h1m1 0h1m1 0h1M8 34.5h2m8 0h2m6 0h1m10 0h3m16 0h2m27 0h1M7 35.5h1m2 0h1m6 0h2m11 0h1m9 0h1M7 36.5h1m2 0h2m1 0h1m4 0h1m9 0h1m4 0h1m6 0h2m23 0h1M18 37.5h4m8 0h1m6 0h1m8 0h1m18 0h1m11 0h2m1 0h1m3 0h1M16 38.5h1m60 0h1m4 0h2M2 39.5h1m1 0h1m2 0h1m10 0h1m2 0h1m1 0h1m2 0h1m21 0h1m11 0h1m16 0h1m1 0h1M15 40.5h2m7 0h2m6 0h1m13 0h3m9 0h2M4 41.5h1m8 0h2m1 0h1m1 0h1m5 0h1M5 42.5h2m16 0h1m16 0h1m2 0h1m7 0h1m1 0h2m10 0h1m5 0h1m8 0h2m3 0h1M3 43.5h1m2 0h2m13 0h2m10 0h1m8 0h1m22 0h1m8 0h3m3 0h1M7 44.5h2m6 0h1m8 0h2m28 0h1m9 0h1m9 0h1m5 0h2m3 0h1M0 45.5h1m2 0h1m3 0h1m18 0h1m14 0h1m1 0h2m11 0h1m1 0h1m7 0h1m7 0h1"/><path stroke="#e6c9c3" d="M15 0.5h1m2 0h2m2 0h1m8 0h1m21 0h2m1 0h1m5 0h1m4 0h2m13 0h1M17 1.5h1m2 0h1m1 0h1m4 0h1m30 0h1m14 0h1m7 0h1M16 2.5h2m4 0h2m2 0h1m1 0h1m1 0h1m26 0h1m4 0h1m1 0h1m2 0h1m5 0h1m11 0h1M27 3.5h1m1 0h3m22 0h1m30 0h1M12 4.5h1m8 0h1m5 0h4m24 0h1m4 0h2m2 0h1m4 0h1m7 0h1m1 0h2M18 5.5h2m1 0h2m3 0h1m3 0h1m1 0h1m23 0h2m5 0h1m18 0h1M14 6.5h1m1 0h1m51 0h1M12 7.5h1m4 0h1m13 0h1m48 0h1m3 0h1M12 8.5h2m3 0h1m10 0h1m1 0h2m46 0h1m3 0h1m1 0h2M10 9.5h1m2 0h1m7 0h2m59 0h1M28 10.5h1m7 0h1m47 0h1M18 11.5h2m4 0h1m2 0h1m9 0h1m41 0h1m4 0h1M0 12.5h2m11 0h1m5 0h1m4 0h1m1 0h1m55 0h4M1 13.5h1m10 0h1m9 0h2m6 0h1m7 0h1M22 14.5h1m12 0h1m47 0h1M25 15.5h1m49 0h1m3 0h1M7 16.5h1m4 0h2m62 0h1m7 0h1M8 17.5h1m1 0h2m5 0h1m3 0h1m3 0h1m6 0h1M17 18.5h1m2 0h1m3 0h1m5 0h1m1 0h1M13 19.5h2m16 0h1M16 21.5h1m1 0h1m4 0h1m35 0h1m1 0h2m16 0h3M33 22.5h1m1 0h1m25 0h1m1 0h1m16 0h1M22 23.5h2m10 0h1M14 24.5h1m19 0h2m28 0h1m17 0h1M11 25.5h1m2 0h1m2 0h3m2 0h2m5 0h1m6 0h1M13 26.5h1m1 0h1m19 0h1m25 0h1m4 0h1M13 27.5h1m52 0h1M14 28.5h2m5 0h1m11 0h1M19 29.5h1m8 0h1m7 0h1M19 30.5h1m2 0h1m6 0h1m16 0h1M6 31.5h1m9 0h1m1 0h1m3 0h1m4 0h1m9 0h1M6 32.5h1m8 0h1m1 0h1m10 0h1m54 0h1M16 33.5h3m7 0h2m27 0h1m27 0h1M7 34.5h1m5 0h1m66 0h1M9 35.5h1M9 36.5h1m4 0h1m2 0h1m5 0h1m1 0h1m3 0h1m2 0h1m49 0h1M14 37.5h1m1 0h2m4 0h2m8 0h2m41 0h2m2 0h1m3 0h1m1 0h1M3 38.5h1m10 0h1m8 0h1m1 0h1m1 0h1m2 0h1M14 39.5h1m4 0h1m2 0h1m57 0h1m1 0h1M4 40.5h1m1 0h1m11 0h1m63 0h2M6 41.5h1m1 0h2m11 0h1m25 0h1m15 0h2m9 0h3m3 0h3M2 42.5h3m2 0h2m1 0h1m3 0h1m27 0h1m9 0h1m2 0h1m8 0h1m7 0h1m1 0h3m1 0h1M8 43.5h1m1 0h3m1 0h1m2 0h2m13 0h1m21 0h2m17 0h1m7 0h1M1 44.5h3m5 0h2m2 0h1m2 0h1m21 0h1m16 0h1m1 0h1m7 0h1m6 0h2m1 0h1M4 45.5h1m10 0h2m1 0h1m10 0h1m1 0h1m25 0h1m6 0h1m5 0h1m10 0h2"/><path stroke="#e3bfb7" d="M17 0.5h1m39 0h1m5 0h1m1 0h2m2 0h1m6 0h1m2 0h1M16 1.5h1m4 0h1m2 0h1m41 0h1m15 0h1m2 0h1M24 2.5h1m2 0h1m53 0h1M17 3.5h3m1 0h2m1 0h1m31 0h1m2 0h1m3 0h1m1 0h1m7 0h1m2 0h2M26 4.5h1m4 0h1m24 0h2m1 0h1m2 0h1m5 0h1m9 0h1m2 0h2M16 5.5h1m3 0h1m46 0h1m9 0h1m3 0h1m1 0h1M20 6.5h2m8 0h1m46 0h1M13 7.5h1m9 0h1m55 0h1m3 0h1M11 8.5h1m67 0h1M19 9.5h1m6 0h1m1 0h1m52 0h1m1 0h1M12 10.5h1m1 0h1m1 0h1m9 0h1M6 11.5h1m5 0h1m1 0h1m11 0h1m56 0h1M37 12.5h2M19 13.5h3M0 14.5h1m11 0h2m6 0h1m10 0h1M6 15.5h1m5 0h1m7 0h1m1 0h3m53 0h1m4 0h1M0 16.5h1m4 0h1m8 0h1m1 0h1m5 0h1M1 17.5h1m13 0h1m4 0h1m1 0h1M10 18.5h1m4 0h2m1 0h1m12 0h1M19 19.5h1M13 20.5h1m2 0h2m1 0h1M19 21.5h1m58 0h1M19 22.5h1m3 0h1m38 0h1M14 23.5h3m4 0h1m13 0h1m27 0h1M15 24.5h2m5 0h2m39 0h1M12 25.5h2m1 0h2M17 26.5h1m13 0h2M16 27.5h1m15 0h2M6 29.5h1m13 0h2m34 0h1M21 30.5h1m34 0h1m4 0h2M15 31.5h1m3 0h1m9 0h1M16 32.5h1m1 0h1m2 0h1m5 0h1m53 0h2m2 0h1M19 33.5h2m40 0h1m22 0h1M13 35.5h1M30 36.5h2m49 0h1M7 37.5h1m7 0h1m66 0h1M7 38.5h1m7 0h1m6 0h1m3 0h1m51 0h2m1 0h1M6 39.5h1m8 0h1m62 0h1M2 40.5h2m1 0h1m13 0h2m2 0h1m53 0h1m1 0h2M0 41.5h1m1 0h1m4 0h1m14 0h2m24 0h1M13 42.5h1m8 0h1m18 0h1m35 0h1m1 0h1m2 0h1M1 43.5h1m2 0h2m7 0h1m58 0h1m10 0h1M4 44.5h2m5 0h2m5 0h1m37 0h1M12 45.5h2m3 0h1m12 0h1m8 0h2m44 0h1"/><path stroke="#e0b5ab" d="M16 0.5h1m13 0h1m28 0h1m4 0h1m7 0h1m8 0h1m1 0h1M30 1.5h1m30 0h1m2 0h1m4 0h1m9 0h1m4 0h1M20 2.5h2m9 0h1m33 0h2M20 3.5h1m2 0h1m1 0h1m2 0h1m31 0h1m1 0h1m4 0h1m13 0h1m2 0h1M17 4.5h4m2 0h3m32 0h1m4 0h1m2 0h1m17 0h1M17 5.5h1m7 0h1m32 0h1m9 0h1m10 0h2m3 0h1M22 6.5h1m8 0h1m47 0h6M14 7.5h1M81 8.5h1M18 9.5h1M15 10.5h1m1 0h3m7 0h1M17 11.5h1m5 0h1m57 0h2m2 0h1M17 12.5h2m4 0h1M13 13.5h1M79 14.5h1M15 15.5h1M1 16.5h1m1 0h1m11 0h1m4 0h1m2 0h2M4 17.5h2m1 0h1m11 0h1M9 18.5h1m1 0h1m11 0h1M9 19.5h2m4 0h1m1 0h2M14 20.5h2m2 0h1M5 21.5h2m8 0h1m5 0h2M12 22.5h1m1 0h3m5 0h1M12 23.5h1m6 0h1M13 24.5h1M10 25.5h1m24 0h1M8 26.5h1m7 0h1m1 0h2m9 0h1M14 27.5h2M28 30.5h1M21 31.5h1m24 0h1M19 32.5h1m17 0h1M80 33.5h1m4 0h1M14 35.5h1m67 0h1M6 36.5h1M81 37.5h1M2 38.5h1m77 0h1M21 40.5h2m55 0h1m2 0h1M1 41.5h1m1 0h1m75 0h1m5 0h1M9 42.5h1M0 43.5h1m8 0h1M0 44.5h1m5 0h1m10 0h1m64 0h2M25 45.5h1m12 0h1m26 0h1m13 0h2"/><path stroke="#ddaba0" d="M60 0.5h2m8 0h2m1 0h1m3 0h2m5 0h1M25 1.5h2m4 0h1m27 0h2m4 0h1m4 0h1m1 0h1m1 0h1m1 0h1m1 0h1m4 0h1M25 2.5h1m32 0h1m2 0h1m12 0h1m1 0h2m2 0h1m3 0h1M58 3.5h1m2 0h1m12 0h2m2 0h1m1 0h1m1 0h2M67 4.5h1M24 5.5h1m6 0h1m53 0h1M23 6.5h1M81 7.5h2M14 9.5h1m12 0h1M80 10.5h4M15 11.5h2m63 0h1M14 12.5h1M14 14.5h2m3 0h1m10 0h1M16 15.5h1m2 0h1M2 16.5h1m3 0h1m10 0h1m1 0h1M2 17.5h1m9 0h1m5 0h1m4 0h2M0 18.5h2m6 0h1m3 0h3M5 19.5h1m2 0h1m3 0h1m3 0h1m3 0h1M8 20.5h3m1 0h1m7 0h1M7 21.5h1m4 0h1m1 0h1M34 22.5h1M11 23.5h1m1 0h1m6 0h1M8 24.5h1m1 0h3M9 25.5h1M7 26.5h1M6 27.5h1M6 28.5h1M28 31.5h1M20 32.5h1m63 0h1M82 33.5h1M82 34.5h1M81 35.5h1M6 37.5h1M6 38.5h1M81 39.5h1M77 41.5h2M0 42.5h1M24 45.5h1"/><path stroke="#dba394" d="M71 1.5h1m5 0h1M60 2.5h1m18 0h1m2 0h1M57 3.5h1m21 0h1M23 5.5h1m54 0h1M78 7.5h1M14 8.5h1M15 12.5h2M18 13.5h1M17 14.5h2M3 17.5h1m2 0h1m7 0h1M2 18.5h1m1 0h2m1 0h1M5 20.5h3m3 0h1M8 21.5h1m2 0h1m8 0h1M11 22.5h1m1 0h1m6 0h2M10 23.5h1M9 24.5h1M8 25.5h1m21 0h1M6 26.5h1M5 27.5h1M5 28.5h1M5 30.5h1m14 0h1M6 33.5h1m74 0h1M6 34.5h1m74 0h1M6 35.5h1M5 37.5h1M4 38.5h1M1 39.5h1m3 0h1M0 40.5h2M1 42.5h1M82 43.5h1"/><path stroke="#d89a89" d="M75 0.5h1M75 1.5h1M59 2.5h1m15 0h1m2 0h1m4 0h1M66 3.5h1M85 4.5h1M14 13.5h1m2 0h1M16 14.5h1M17 15.5h2M18 16.5h1M13 17.5h1M7 19.5h1m3 0h1M9 21.5h1m3 0h1M6 22.5h2M7 23.5h3M7 24.5h1M6 25.5h1M30 26.5h1M4 28.5h1M5 29.5h1M20 31.5h1M5 36.5h1M3 37.5h2M1 38.5h1m3 0h1"/><path stroke="#d5917d" d="M74 0.5h1M78 6.5h1M3 18.5h1M1 19.5h1m2 0h1m1 0h1M10 21.5h1M9 22.5h2M2 23.5h1m3 0h1M7 25.5h1M5 26.5h1M5 31.5h1"/><path stroke="#d28872" d="M15 13.5h2M6 18.5h1M2 19.5h1M4 21.5h1M5 22.5h1m2 0h1M6 24.5h1M5 25.5h1M4 29.5h1M4 36.5h1M0 39.5h1"/><path stroke="#cf8067" d="M3 19.5h1M1 20.5h1M2 22.5h1M3 23.5h1M4 24.5h2M4 27.5h1M4 30.5h1M5 32.5h1M5 33.5h1M5 34.5h1M1 37.5h2"/><path stroke="#cc775b" d="M0 19.5h1M4 22.5h1M4 23.5h2M3 24.5h1M4 26.5h1M4 34.5h1M5 35.5h1M0 38.5h1"/><path stroke="#c96e53" d="M0 20.5h1m1 0h1m1 0h1M3 22.5h1M1 23.5h1M4 25.5h1M3 26.5h1M3 28.5h1M0 35.5h1M3 36.5h1"/><path stroke="#c5654a" d="M1 21.5h3M3 25.5h1M0 26.5h1m1 0h1M0 27.5h4M2 28.5h1M3 29.5h1M4 31.5h1M4 33.5h1M3 34.5h1M3 35.5h2M0 37.5h1"/><path stroke="#c25b42" d="M3 20.5h1M0 21.5h1M1 22.5h1M2 24.5h1M2 25.5h1M0 28.5h2M2 29.5h1M3 30.5h1M0 34.5h3M1 35.5h2M0 36.5h1"/><path stroke="#be523a" d="M0 22.5h1M0 23.5h1M1 24.5h1M0 25.5h1M1 26.5h1M2 30.5h1M1 36.5h1"/><path stroke="#bb4932" d="M0 24.5h1M1 25.5h1M4 32.5h1M0 33.5h1M2 36.5h1"/><path stroke="#b74029" d="M1 29.5h1M1 33.5h1"/><path stroke="#aa3028" d="M3 31.5h1"/><path stroke="#a32929" d="M1 30.5h1M0 32.5h1M3 33.5h1"/><path stroke="#9c222b" d="M0 29.5h1M3 32.5h1"/><path stroke="#941a2c" d="M2 31.5h1M2 33.5h1"/><path stroke="#8d132d" d="M1 31.5h1M1 32.5h1"/><path stroke="#840e2d" d="M0 31.5h1"/><path stroke="#780d28" d="M2 32.5h1"/><path stroke="#6c0c24" d="M0 30.5h1"/></g></g>
<g clip-path="url(#occ)"><g filter="url(#blB)"><g transform="matrix(6.2247,0,0,11.3073,1406.65,56.49)" fill="none" stroke-width="1.04"><path stroke="#96bbcc" d="M19 4.5h2M19 5.5h3M20 6.5h2m3 0h2M25 7.5h1M46 25.5h2M41 26.5h3m1 0h6M41 27.5h13M48 28.5h6M51 29.5h1"/><path stroke="#a4c2d0" d="M22 0.5h7M26 1.5h3M27 2.5h2M19 3.5h3m5 0h1M21 4.5h1m4 0h1M22 5.5h1m2 0h2M22 6.5h3M20 7.5h5m1 0h1M21 8.5h6M45 25.5h1m2 0h3M37 26.5h4m3 0h1m6 0h3M36 27.5h5m13 0h1M37 28.5h11m6 0h1M41 29.5h3m4 0h3m1 0h2"/><path stroke="#b2cad5" d="M18 0.5h4m7 0h2m38 0h1M18 1.5h8m3 0h1M19 2.5h8m2 0h1M18 3.5h1m3 0h5m1 0h1M18 4.5h1m3 0h4m1 0h1M18 5.5h1m4 0h2m2 0h1M19 6.5h1m7 0h1M27 7.5h1M27 8.5h1M21 9.5h6M22 10.5h5M24 11.5h2M46 24.5h4M36 25.5h9m6 0h4M35 26.5h2m17 0h1M35 27.5h1m19 0h1M36 28.5h1m18 0h1M37 29.5h4m3 0h4m6 0h2M40 30.5h4m4 0h5"/><path stroke="#c0d2da" d="M5 0.5h3m4 0h3m16 0h3m29 0h3m2 0h1m1 0h2M5 1.5h3m4 0h3m15 0h3m35 0h4M5 2.5h2m6 0h2m3 0h1m11 0h1m36 0h4M14 3.5h2m13 0h1m37 0h3M15 4.5h3m10 0h1m34 0h1m4 0h2M15 5.5h3m10 0h1m27 0h1m5 0h3m3 0h2M18 6.5h1m9 0h1m27 0h1m5 0h7m3 0h2M28 7.5h2m26 0h1m4 0h3m2 0h3m3 0h2M20 8.5h1m7 0h2m30 0h2m4 0h3M0 9.5h2m25 0h2m31 0h1M0 10.5h3m18 0h1m5 0h1M0 11.5h4m19 0h1m2 0h1M0 12.5h4M0 13.5h4M2 18.5h1M31 24.5h3m2 0h2m6 0h2m4 0h5M31 25.5h5m19 0h1M32 26.5h3m20 0h1M32 27.5h3m21 0h1M33 28.5h3m20 0h1M35 29.5h2m19 0h1M38 30.5h2m4 0h4m5 0h2M43 31.5h1M23 45.5h2"/><path stroke="#cedadf" d="M4 0.5h1m3 0h4m3 0h1m1 0h1m16 0h1m12 0h2m12 0h2m3 0h2m4 0h2M3 1.5h2m3 0h4m3 0h1m1 0h1m15 0h1m24 0h10m4 0h2M0 2.5h5m2 0h6m2 0h3m13 0h3m22 0h4m2 0h5m4 0h3M0 3.5h14m2 0h2m12 0h3m23 0h3m3 0h5m3 0h4M1 4.5h14m14 0h2m24 0h3m4 0h1m1 0h4m2 0h2m1 0h1M1 5.5h3m2 0h9m14 0h1m25 0h1m1 0h1m3 0h1m3 0h3m2 0h4M0 6.5h4m3 0h11m11 0h1m25 0h1m1 0h2m1 0h2m7 0h3M0 7.5h4m4 0h6m5 0h1m10 0h1m24 0h1m1 0h4m3 0h2m3 0h3M0 8.5h4m3 0h7m16 0h1m25 0h4m2 0h4m3 0h5M2 9.5h2m2 0h8m6 0h1m8 0h2m26 0h3m1 0h2m3 0h4m1 0h3M3 10.5h6m3 0h2m6 0h1m7 0h1m30 0h3m10 0h1M4 11.5h5m11 0h3m4 0h1M4 12.5h4m12 0h2m3 0h1M4 13.5h4m5 0h3m4 0h2m41 0h4M0 14.5h4m10 0h3m3 0h2m41 0h4M0 15.5h3m11 0h3m3 0h1M0 16.5h3m7 0h1M0 17.5h4m4 0h2M0 18.5h2m1 0h1m3 0h3M1 19.5h3m3 0h3M2 20.5h2m3 0h2m2 0h4M11 21.5h3m17 0h2M31 22.5h3M1 23.5h2m28 0h4m11 0h4M2 24.5h1m27 0h1m3 0h2m2 0h6M2 25.5h1m27 0h1M30 26.5h2m24 0h1M29 27.5h3m25 0h1M30 28.5h3m24 0h1M32 29.5h3M36 30.5h2m17 0h1M39 31.5h4m1 0h10M23 43.5h1M20 44.5h6M19 45.5h4m2 0h3"/><path stroke="#dce1e4" d="M0 0.5h4m12 0h1m18 0h2m7 0h3m2 0h1m7 0h4m13 0h1M0 1.5h3m13 0h1m17 0h3m7 0h6m6 0h2m16 0h1M34 2.5h3m6 0h3m9 0h1m4 0h2m12 0h1M33 3.5h4m6 0h3m8 0h2m3 0h3M0 4.5h1m30 0h6m6 0h5m10 0h4m10 0h1M0 5.5h1m3 0h2m24 0h4m13 0h5m6 0h3M4 6.5h3m23 0h1m16 0h5m7 0h1M4 7.5h4m6 0h5m12 0h1m15 0h4M4 8.5h3m7 0h6m11 0h1m11 0h8m4 0h1M4 9.5h2m8 0h1m3 0h2m11 0h1m11 0h8m4 0h2m6 0h3m4 0h1M9 10.5h3m2 0h1m4 0h1m9 0h2m12 0h7m6 0h3m3 0h1m2 0h7m1 0h1M9 11.5h1m1 0h5m3 0h1m8 0h1m18 0h3m4 0h19M8 12.5h2m1 0h6m2 0h1m2 0h3m1 0h2m4 0h2m19 0h5m4 0h7M8 13.5h1m1 0h3m3 0h2m1 0h1m2 0h1m9 0h2m19 0h4m5 0h1m4 0h2M4 14.5h4m2 0h4m3 0h3m2 0h1m8 0h3m28 0h1m4 0h2M3 15.5h1m1 0h9m3 0h3m1 0h2m8 0h3m28 0h7M3 16.5h1m3 0h3m1 0h12m7 0h4m31 0h4M4 17.5h1m2 0h1m2 0h7m14 0h1M4 18.5h3m3 0h6M0 19.5h1m3 0h3m3 0h6M0 20.5h2m2 0h3m2 0h2m4 0h4m11 0h3M0 21.5h11m3 0h5m11 0h1m2 0h1m37 0h2M1 22.5h17m12 0h1m3 0h1m36 0h2M3 23.5h9m18 0h1m4 0h6m2 0h3m4 0h5M1 24.5h1m1 0h4m1 0h3m18 0h1m25 0h1m13 0h3M1 25.5h1m1 0h4m22 0h1m26 0h1m11 0h4M3 26.5h4m22 0h1m27 0h1m1 0h2m7 0h4m1 0h3M58 27.5h5m10 0h3M29 28.5h1m28 0h3M29 29.5h3m25 0h2M31 30.5h5m20 0h1M36 31.5h3m15 0h2M43 32.5h1M0 35.5h1M0 36.5h1M0 43.5h1m19 0h3m1 0h3M0 44.5h1m18 0h1m6 0h4M0 45.5h1m16 0h2m9 0h3"/><path stroke="#eae9e9" d="M37 0.5h1m4 0h2m6 0h4m2 0h1M37 1.5h1m4 0h2m6 0h6M37 2.5h1m4 0h1m3 0h9M37 3.5h1m4 0h1m3 0h8m20 0h1M37 4.5h1m4 0h1m5 0h7m19 0h1M34 5.5h4m4 0h5m5 0h3m19 0h1M31 6.5h7m4 0h5m5 0h3m19 0h1M32 7.5h1m10 0h4m4 0h4m19 0h1M32 8.5h1m9 0h1m8 0h4m19 0h1m10 0h1M15 9.5h3m14 0h1m8 0h2m8 0h4m30 0h1M15 10.5h4m12 0h3m5 0h4m7 0h6m7 0h2M10 11.5h1m5 0h3m10 0h6m6 0h6m3 0h4m19 0h1M10 12.5h1m6 0h2m9 0h1m1 0h2m2 0h1m7 0h11m5 0h4m7 0h6M9 13.5h1m8 0h1m4 0h3m3 0h3m2 0h1m8 0h2m2 0h6m4 0h5m7 0h6M8 14.5h2m13 0h1m5 0h2m3 0h2m7 0h3m2 0h10m1 0h3m7 0h2m2 0h3M4 15.5h1m18 0h1m5 0h2m3 0h2m7 0h4m1 0h3m8 0h3m7 0h2m2 0h4M4 16.5h3m16 0h1m5 0h1m4 0h2m7 0h8m8 0h6m4 0h8M5 17.5h2m10 0h7m5 0h2m1 0h4m7 0h3m1 0h4m2 0h1m14 0h3m2 0h4M16 18.5h8m6 0h6m7 0h2m3 0h7m18 0h2M16 19.5h6m8 0h6m7 0h2m4 0h4m19 0h4M19 20.5h2m8 0h1m3 0h2m14 0h4m18 0h6M19 21.5h2m8 0h1m4 0h1m3 0h3m3 0h1m4 0h3m18 0h1m2 0h5M0 22.5h1m17 0h3m4 0h2m8 0h7m1 0h10m17 0h1m2 0h4M0 23.5h1m11 0h10m3 0h2m2 0h1m11 0h2m12 0h1m13 0h8M0 24.5h1m6 0h1m3 0h3m2 0h3m1 0h2m34 0h1m11 0h1m3 0h4M0 25.5h1m6 0h7m3 0h1m10 0h1m28 0h5m3 0h3m4 0h4M0 26.5h3m4 0h2m19 0h1m29 0h1m2 0h7m4 0h1m3 0h1M2 27.5h3m23 0h1m34 0h7m2 0h1m3 0h1M2 28.5h1m25 0h1m32 0h4m9 0h4M0 29.5h3m25 0h1m30 0h2m15 0h5M0 30.5h3m25 0h3m26 0h2m18 0h2M29 31.5h5m1 0h1M37 32.5h6m1 0h6m2 0h3M0 33.5h2M0 34.5h2M1 35.5h1M1 36.5h1M0 37.5h2M26 40.5h2M25 41.5h4M0 42.5h3m17 0h10M1 43.5h2m16 0h1m7 0h3M1 44.5h2m14 0h2m11 0h2m14 0h2M1 45.5h2m11 0h3m14 0h2m13 0h2"/><path stroke="#efe8e6" d="M38 0.5h1m2 0h1m12 0h2m19 0h5M38 1.5h1m2 0h1m33 0h5M38 2.5h4m34 0h5M38 3.5h4m35 0h5M38 4.5h4m36 0h5M38 5.5h4m39 0h3M38 6.5h2m1 0h1m33 0h1m6 0h2M33 7.5h7m1 0h2m32 0h1m1 0h2m3 0h1m2 0h1M33 8.5h9m36 0h2m1 0h2m1 0h1M33 9.5h8m33 0h1m4 0h4m1 0h1M34 10.5h5m35 0h1m4 0h3m3 0h1M35 11.5h6m33 0h1M29 12.5h1m5 0h7m33 0h2M26 13.5h3m6 0h2m4 0h2m2 0h2m28 0h3m6 0h2M24 14.5h2m1 0h2m7 0h1m4 0h2m3 0h2m10 0h1m12 0h2m3 0h2m2 0h6M24 15.5h1m3 0h1m7 0h1m4 0h2m4 0h1m3 0h8m12 0h2m4 0h1m1 0h6M24 16.5h1m3 0h1m7 0h1m4 0h2m8 0h8m18 0h8M24 17.5h5m7 0h1m4 0h2m3 0h1m4 0h2m1 0h7m4 0h3m3 0h2m4 0h8M24 18.5h6m6 0h2m3 0h2m2 0h3m7 0h4m10 0h4m2 0h10M22 19.5h3m2 0h3m6 0h3m3 0h1m2 0h4m4 0h4m13 0h2m4 0h10M21 20.5h4m1 0h3m6 0h14m4 0h1m16 0h1m6 0h2m2 0h5M21 21.5h2m1 0h5m6 0h3m3 0h3m1 0h4m3 0h2m15 0h1m8 0h1m2 0h5M21 22.5h2m1 0h1m2 0h3m12 0h1m10 0h2m14 0h1m7 0h2m2 0h5M22 23.5h3m2 0h2m27 0h1m11 0h1m8 0h1m4 0h3M14 24.5h2m3 0h1m2 0h7m28 0h5m2 0h4m8 0h2m5 0h2M14 25.5h3m1 0h5m39 0h3m11 0h2M9 26.5h4m5 0h4m55 0h1m2 0h4M0 27.5h2m3 0h2m11 0h3m6 0h1m42 0h2m5 0h9M0 28.5h2m16 0h3m6 0h1m37 0h2m6 0h1m4 0h6M18 29.5h4m2 0h4m33 0h3m11 0h1m5 0h3M18 30.5h4m2 0h4m31 0h2m15 0h1m2 0h4M0 31.5h3m21 0h1m3 0h1m5 0h1m21 0h2M0 32.5h3m25 0h5m3 0h1m13 0h2m3 0h1M2 33.5h1M2 34.5h1M2 35.5h1M2 36.5h1m6 0h1M2 37.5h1M0 38.5h2m18 0h3M20 39.5h9M21 40.5h5m2 0h2M0 41.5h3m17 0h5m4 0h3M19 42.5h1m10 0h1M17 43.5h2m11 0h2m14 0h2M3 44.5h1m9 0h4m15 0h2m11 0h1m2 0h1M3 45.5h1m9 0h1m19 0h1m11 0h1m2 0h1"/><path stroke="#ecdeda" d="M39 0.5h2m39 0h1m4 0h1M39 1.5h2m39 0h2M75 2.5h1m5 0h1M75 3.5h2m5 0h2M75 4.5h3m5 0h2M75 5.5h6m3 0h1M40 6.5h1m35 0h6m2 0h2M40 7.5h1m35 0h1m2 0h3m1 0h2M75 8.5h3m2 0h1m2 0h1M75 9.5h4m4 0h1M75 10.5h4m3 0h3M75 11.5h8m1 0h2M77 12.5h9M37 13.5h4m37 0h6M26 14.5h1m10 0h4m37 0h2M25 15.5h3m9 0h4m37 0h1m6 0h1M25 16.5h3m9 0h1m2 0h1m44 0h1M37 17.5h4m20 0h4m20 0h1M38 18.5h3m18 0h2m5 0h3m16 0h1M25 19.5h2m12 0h3m15 0h4m8 0h1M25 20.5h1m28 0h3m2 0h2m8 0h1m9 0h2M23 21.5h1m30 0h2m4 0h2m17 0h2M23 22.5h1m31 0h1m4 0h3m5 0h1m10 0h2M57 23.5h11m10 0h4m3 0h1M62 24.5h2m14 0h5m2 0h1M23 25.5h5m50 0h8M13 26.5h2m1 0h2m4 0h3m2 0h1m50 0h2m4 0h2M7 27.5h1m9 0h1m3 0h6M3 28.5h3m11 0h1m3 0h6m40 0h2m15 0h2M17 29.5h1m4 0h2m40 0h1m19 0h2M17 30.5h1m4 0h2m37 0h2m20 0h2M18 31.5h6m1 0h3m30 0h2m17 0h3M8 32.5h1m13 0h4m1 0h1m5 0h3m20 0h1M8 33.5h2m13 0h2m4 0h3m4 0h13m4 0h2M7 34.5h4M5 35.5h8M3 36.5h6m1 0h4M4 37.5h11m3 0h6M2 38.5h1m4 0h13m3 0h6M0 39.5h3m9 0h8m9 0h1M0 40.5h3m9 0h5m1 0h3m9 0h2M3 41.5h3m4 0h5m4 0h1m12 0h1m6 0h4M3 42.5h4m2 0h6m2 0h2m12 0h2m6 0h3m3 0h3M3 43.5h4m2 0h8m15 0h2m5 0h3m3 0h1m2 0h1M4 44.5h9m21 0h1m3 0h4m2 0h1m4 0h1m5 0h2M4 45.5h9m21 0h1m3 0h4m2 0h1m4 0h8m6 0h2"/><path stroke="#e9d4cf" d="M81 0.5h4M82 1.5h4M82 2.5h4M84 3.5h2M85 4.5h1M85 5.5h1M83 11.5h1M38 16.5h2M61 18.5h5M61 19.5h3m3 0h2M57 20.5h2m2 0h4m3 0h1M56 21.5h4m2 0h3m3 0h1M56 22.5h4m3 0h5M15 26.5h1m9 0h2M8 27.5h6m2 0h1M6 28.5h1m2 0h4m2 0h2m52 0h4M3 29.5h3m3 0h8m48 0h1m8 0h1M3 30.5h3m2 0h7m1 0h1m46 0h1m21 0h1M3 31.5h2m2 0h8m2 0h1m42 0h2m18 0h1M7 32.5h1m1 0h6m2 0h5m4 0h1m30 0h1M6 33.5h2m2 0h13m2 0h1m1 0h2m3 0h2m1 0h1m13 0h4m2 0h1M3 34.5h4m4 0h4m2 0h3m3 0h3m3 0h2m5 0h5M3 35.5h2m8 0h2m3 0h2m3 0h3m11 0h2M14 36.5h2m1 0h10M3 37.5h1m11 0h3m6 0h5M3 38.5h4m22 0h1m6 0h2M3 39.5h9m18 0h2m3 0h4m2 0h1m1 0h2M3 40.5h9m5 0h1m14 0h2m2 0h10M6 41.5h4m5 0h4m14 0h1m2 0h3m4 0h5m1 0h1m4 0h2m5 0h2M7 42.5h2m6 0h2m16 0h2m2 0h2m3 0h3m3 0h2m3 0h5m3 0h3M7 43.5h2m25 0h2m1 0h2m3 0h3m4 0h10m1 0h4M35 44.5h3m4 0h2m6 0h5m2 0h3m1 0h5M35 45.5h3m4 0h2m13 0h3m1 0h2m2 0h1"/><path stroke="#e6c9c3" d="M64 19.5h3M65 20.5h3M65 21.5h3M14 27.5h2M7 28.5h2m4 0h2M6 29.5h3m57 0h2M6 30.5h2m7 0h1m59 0h1M5 31.5h2m8 0h2m45 0h1m18 0h2M3 32.5h4m8 0h2m41 0h3M3 33.5h3m20 0h1m7 0h1m21 0h1M15 34.5h2m3 0h3m3 0h3m2 0h2m2 0h1m5 0h2m1 0h5m3 0h4M15 35.5h3m2 0h3m3 0h2m1 0h3m3 0h2m2 0h2m5 0h1M16 36.5h1m10 0h5m3 0h5m6 0h1M29 37.5h10m6 0h2M30 38.5h6m2 0h3m3 0h3M32 39.5h3m4 0h2m1 0h1m2 0h2m2 0h3m2 0h1M34 40.5h2m10 0h11m5 0h1M34 41.5h2m12 0h1m1 0h4m2 0h2m2 0h1m2 0h1M35 42.5h2m13 0h3m5 0h3m3 0h1M36 43.5h1m22 0h1m4 0h2M60 44.5h1m5 0h1M60 45.5h1m5 0h1m14 0h2"/><path stroke="#e3bfb7" d="M68 29.5h1M64 30.5h2M63 31.5h1m12 0h1m6 0h1M61 32.5h1M57 33.5h1M33 34.5h2m8 0h1m5 0h3m4 0h1M28 35.5h1m3 0h3m6 0h1m2 0h2m1 0h2m3 0h4M32 36.5h3m5 0h2m2 0h2m1 0h1m5 0h2M39 37.5h3m2 0h1m2 0h1m5 0h2M41 38.5h3m3 0h9M47 39.5h2m3 0h2m1 0h2M57 40.5h1m2 0h2m1 0h1M58 41.5h2m4 0h1M65 42.5h1M66 43.5h2m1 0h2M67 44.5h4m11 0h1M67 45.5h4m9 0h1m2 0h2"/><path stroke="#e0b5ab" d="M69 29.5h1M66 30.5h1M64 31.5h1m19 0h2M62 32.5h1M58 33.5h3M57 34.5h1M42 35.5h2m5 0h3m4 0h2M42 36.5h2m4 0h2m1 0h2m2 0h2M42 37.5h2m4 0h5m2 0h1M56 38.5h1M60 39.5h5M58 40.5h2m4 0h1m4 0h2M65 41.5h2m1 0h3M66 42.5h6M68 43.5h1m2 0h1M71 44.5h2m2 0h2m2 0h3m1 0h2M71 45.5h1m2 0h4m1 0h1m5 0h1"/><path stroke="#ddaba0" d="M70 29.5h1m2 0h1M67 30.5h1M65 31.5h1M63 32.5h2m13 0h2M61 33.5h2M58 34.5h3M58 35.5h2M50 36.5h1m6 0h3M56 37.5h5M57 38.5h8M57 39.5h3m5 0h1m4 0h1m12 0h1M65 40.5h4m2 0h1m11 0h3M67 41.5h1m3 0h1m11 0h3M72 42.5h1m2 0h4m3 0h4M72 43.5h14M73 44.5h2m2 0h2m6 0h1M72 45.5h2m4 0h1"/><path stroke="#dba394" d="M68 30.5h1M66 31.5h2M65 32.5h1m11 0h1m2 0h1M63 33.5h2M61 34.5h1M60 35.5h1M60 36.5h1M61 37.5h1m20 0h1M65 38.5h1m15 0h3M66 39.5h1m1 0h2m1 0h1m9 0h2m1 0h2M72 40.5h1m8 0h2M72 41.5h11M73 42.5h2m4 0h3"/><path stroke="#d89a89" d="M71 29.5h2M69 30.5h1m4 0h1M68 31.5h1M66 32.5h1m14 0h3m1 0h1M65 33.5h1m13 0h2M62 34.5h2m16 0h1M61 35.5h1M61 36.5h1m19 0h2M62 37.5h4m15 0h1m1 0h2M66 38.5h1m1 0h4m12 0h2M67 39.5h1m4 0h1m7 0h1M73 40.5h8"/><path stroke="#d5917d" d="M75 31.5h1M67 32.5h1m16 0h1M66 33.5h1m11 0h1m2 0h2m2 0h1M64 34.5h1m14 0h1m1 0h1M62 35.5h3m15 0h3m2 0h1M62 36.5h6m15 0h3M66 37.5h4m15 0h1M67 38.5h1m4 0h1m7 0h1M73 39.5h3"/><path stroke="#d28872" d="M70 30.5h1M69 31.5h1M68 32.5h1M67 33.5h1m15 0h2M65 34.5h1m16 0h4M65 35.5h4m14 0h2M68 36.5h2m10 0h1M70 37.5h2m8 0h1M73 38.5h1M76 39.5h1m2 0h1"/><path stroke="#cf8067" d="M69 32.5h1m6 0h1M68 33.5h1m8 0h1M66 34.5h3m9 0h1M69 35.5h1m9 0h1M70 36.5h1M72 37.5h1M74 38.5h1M78 39.5h1"/><path stroke="#cc775b" d="M71 30.5h1m1 0h1M70 31.5h1M69 33.5h1M69 34.5h1M70 35.5h1M71 36.5h1M73 37.5h1M75 38.5h1m3 0h1M77 39.5h1"/><path stroke="#c96e53" d="M72 30.5h1M74 31.5h1M70 32.5h1M70 33.5h1M70 34.5h1M79 36.5h1M79 37.5h1"/><path stroke="#c5654a" d="M71 31.5h1M77 34.5h1M71 35.5h1m6 0h1M72 36.5h1"/><path stroke="#c25b42" d="M72 31.5h2M71 32.5h1m3 0h1M76 33.5h1M73 36.5h1M74 37.5h1M76 38.5h1m1 0h1"/><path stroke="#be523a" d="M72 32.5h1m1 0h1M71 33.5h1M71 34.5h1"/><path stroke="#bb4932" d="M73 32.5h1M72 35.5h1M78 36.5h1M75 37.5h1m2 0h1M77 38.5h1"/><path stroke="#b74029" d="M72 33.5h1m2 0h1M72 34.5h1m3 0h1M73 35.5h1m3 0h1M74 36.5h1"/><path stroke="#b23827" d="M73 33.5h2M73 34.5h2M76 37.5h1"/><path stroke="#aa3028" d="M75 34.5h1M74 35.5h1M75 36.5h1m1 0h1M77 37.5h1"/><path stroke="#a32929" d="M75 35.5h2M76 36.5h1"/></g></g></g>
<use href="#coast" transform="matrix(0.62247,0,0,-1.13073,1257.258,418.320)" fill="none" stroke="#000" stroke-width="2.0"/>
</g>
<rect x="1419.1" y="79.1" width="504.2" height="463.6" fill="none" stroke="#555" stroke-width="1.3"/>
<text x="1444.0" y="566.2" font-family="'Liberation Sans', Arial, sans-serif" font-size="16.5" font-weight="normal" text-anchor="middle" >30</text>
<text x="1506.2" y="566.2" font-family="'Liberation Sans', Arial, sans-serif" font-size="16.5" font-weight="normal" text-anchor="middle" >40</text>
<text x="1568.5" y="566.2" font-family="'Liberation Sans', Arial, sans-serif" font-size="16.5" font-weight="normal" text-anchor="middle" >50</text>
<text x="1630.7" y="566.2" font-family="'Liberation Sans', Arial, sans-serif" font-size="16.5" font-weight="normal" text-anchor="middle" >60</text>
<text x="1693.0" y="566.2" font-family="'Liberation Sans', Arial, sans-serif" font-size="16.5" font-weight="normal" text-anchor="middle" >70</text>
<text x="1755.2" y="566.2" font-family="'Liberation Sans', Arial, sans-serif" font-size="16.5" font-weight="normal" text-anchor="middle" >80</text>
<text x="1817.5" y="566.2" font-family="'Liberation Sans', Arial, sans-serif" font-size="16.5" font-weight="normal" text-anchor="middle" >90</text>
<text x="1879.7" y="566.2" font-family="'Liberation Sans', Arial, sans-serif" font-size="16.5" font-weight="normal" text-anchor="middle" >100</text>
<text x="1413.1" y="537.4" font-family="'Liberation Sans', Arial, sans-serif" font-size="16.5" font-weight="normal" text-anchor="end" >-10</text>
<text x="1413.1" y="480.9" font-family="'Liberation Sans', Arial, sans-serif" font-size="16.5" font-weight="normal" text-anchor="end" >-5</text>
<text x="1413.1" y="424.3" font-family="'Liberation Sans', Arial, sans-serif" font-size="16.5" font-weight="normal" text-anchor="end" >0</text>
<text x="1413.1" y="367.8" font-family="'Liberation Sans', Arial, sans-serif" font-size="16.5" font-weight="normal" text-anchor="end" >5</text>
<text x="1413.1" y="311.2" font-family="'Liberation Sans', Arial, sans-serif" font-size="16.5" font-weight="normal" text-anchor="end" >10</text>
<text x="1413.1" y="254.7" font-family="'Liberation Sans', Arial, sans-serif" font-size="16.5" font-weight="normal" text-anchor="end" >15</text>
<text x="1413.1" y="198.2" font-family="'Liberation Sans', Arial, sans-serif" font-size="16.5" font-weight="normal" text-anchor="end" >20</text>
<text x="1413.1" y="141.6" font-family="'Liberation Sans', Arial, sans-serif" font-size="16.5" font-weight="normal" text-anchor="end" >25</text>
<text x="1413.1" y="85.1" font-family="'Liberation Sans', Arial, sans-serif" font-size="16.5" font-weight="normal" text-anchor="end" >30</text>
<clipPath id="bxe"><rect x="227.1" y="1253.3" width="509.0" height="463.8"/></clipPath>
<clipPath id="oce"><use href="#oceanp" transform="matrix(0.62840,0,0,-1.13122,63.717,1592.666)" clip-rule="evenodd"/></clipPath>
<g clip-path="url(#bxe)">
<g filter="url(#blB)"><g transform="matrix(6.2840,0,0,11.3122,214.53,1230.68)" fill="none" stroke-width="1.04"><path stroke="#b2cad5" d="M61 12.5h1M43 14.5h1"/><path stroke="#c0d2da" d="M46 0.5h1M42 1.5h2m1 0h1m4 0h1M42 2.5h1M85 5.5h1M63 11.5h1M53 13.5h1m13 0h1M42 14.5h1m1 0h1m8 0h2m3 0h1M50 17.5h1m4 0h2M45 21.5h1M54 43.5h1"/><path stroke="#cedadf" d="M44 0.5h2m25 0h1M44 1.5h1m1 0h4M37 2.5h2m4 0h1m1 0h3m37 0h1M26 4.5h1m14 0h1m11 0h1m10 0h1m17 0h1m1 0h2M41 5.5h2m6 0h1m14 0h1m17 0h1M42 6.5h1m6 0h1m6 0h2m4 0h1m17 0h2m3 0h1M50 7.5h1m7 0h1m3 0h1m16 0h3M54 8.5h2m23 0h1M40 9.5h3m11 0h1M40 10.5h1m1 0h1m26 0h1m8 0h1m4 0h1M33 11.5h1m27 0h2m1 0h1m3 0h2m14 0h1M53 12.5h2m5 0h1m1 0h2m2 0h4M42 13.5h4m6 0h1m1 0h1m2 0h2m1 0h2m4 0h1m1 0h1m14 0h1M49 14.5h1m7 0h1m1 0h1m8 0h1M43 15.5h1m3 0h2m5 0h2m12 0h2m12 0h2m1 0h1M50 16.5h1m3 0h2m11 0h1m6 0h2m5 0h3m1 0h1M49 17.5h1m4 0h1m2 0h1m5 0h2M64 18.5h1m18 0h1M68 19.5h1M46 21.5h1m5 0h1m17 0h1M45 22.5h1m5 0h2M51 23.5h1M72 24.5h1M47 25.5h1M47 26.5h1M39 27.5h1M54 28.5h1M79 29.5h1M80 40.5h1M62 41.5h1M39 42.5h1m2 0h1M42 43.5h1m12 0h1m4 0h2m19 0h1M53 44.5h3M28 45.5h1m5 0h1m3 0h2"/><path stroke="#dce1e4" d="M12 0.5h1m18 0h2m9 0h2m3 0h4m4 0h2m2 0h5m5 0h2m8 0h3M19 1.5h2m14 0h2m14 0h1m4 0h1m4 0h2m3 0h1m2 0h1m1 0h2m2 0h3m2 0h1m4 0h1M21 2.5h1m6 0h3m5 0h1m4 0h1m2 0h1m3 0h3m2 0h1m1 0h2m9 0h4m4 0h5m5 0h1M23 3.5h2m2 0h2m2 0h1m21 0h1m1 0h1m8 0h1m18 0h3M25 4.5h1m1 0h1m14 0h1m6 0h2m1 0h1m1 0h1m28 0h1M26 5.5h1m10 0h1m10 0h1m1 0h1m2 0h1m24 0h4m1 0h2M25 6.5h2m4 0h1m11 0h1m3 0h2m9 0h1m4 0h2m14 0h1m2 0h3M26 7.5h1m15 0h6m1 0h1m1 0h1m2 0h4m5 0h1m5 0h2m11 0h2M40 8.5h1m3 0h1m1 0h2m1 0h2m1 0h2m4 0h1m3 0h1m6 0h2m9 0h3M19 9.5h1m23 0h1m2 0h2m1 0h2m2 0h1m4 0h1m2 0h1m7 0h1m1 0h3m4 0h3M41 10.5h1m1 0h1m1 0h2m2 0h2m2 0h2m3 0h1m2 0h1m1 0h2m3 0h1m1 0h1m1 0h2m3 0h1m1 0h2m3 0h2M32 11.5h1m13 0h1m5 0h3m2 0h2m6 0h1m4 0h1m1 0h1m4 0h1m5 0h1m1 0h1M45 12.5h1m2 0h1m1 0h3m2 0h5m4 0h2m4 0h3m10 0h2M23 13.5h1m17 0h1m4 0h1m3 0h2m3 0h2m2 0h1m5 0h1m3 0h1m1 0h1m3 0h2m4 0h1M24 14.5h1m16 0h1m3 0h4m1 0h3m2 0h2m8 0h3m3 0h1m3 0h3m3 0h3M24 15.5h1m17 0h1m2 0h2m2 0h1m3 0h1m2 0h1m1 0h3m5 0h2m3 0h1m2 0h2m5 0h1m2 0h1M24 16.5h1m6 0h1m8 0h1m5 0h4m3 0h1m2 0h1m1 0h2m4 0h3m1 0h1m3 0h2m10 0h1M31 17.5h1m14 0h3m2 0h1m6 0h1m3 0h1m2 0h1m1 0h1m5 0h2m7 0h2m1 0h1M45 18.5h2m3 0h1m3 0h2m9 0h1m2 0h3m2 0h1m8 0h1m2 0h1M45 19.5h1m13 0h1m7 0h1m1 0h1m4 0h1m7 0h2M44 20.5h2m6 0h1m8 0h1m6 0h3m3 0h1M40 21.5h1m3 0h1m2 0h1m3 0h1m17 0h1M39 22.5h3m4 0h1m23 0h2M42 23.5h1m9 0h1m31 0h2M50 24.5h3M40 25.5h1m5 0h1m6 0h1m18 0h1M39 26.5h2m4 0h1m2 0h1m3 0h2M40 27.5h5m2 0h2m25 0h1M39 28.5h2m1 0h3m20 0h1m13 0h2M40 29.5h4m36 0h1M39 30.5h2m17 0h1m20 0h1m5 0h1M39 31.5h2m26 0h1m8 0h1m8 0h1M67 32.5h1M72 33.5h1M38 34.5h1m7 0h2m25 0h1M4 35.5h1m62 0h1m15 0h1M37 36.5h1m31 0h2m13 0h1M37 37.5h1m4 0h1M44 38.5h2m20 0h2M35 39.5h1m9 0h1m21 0h1m13 0h1M41 40.5h1m3 0h1m33 0h1m1 0h1M39 41.5h2m5 0h1m1 0h1m12 0h1m1 0h1m15 0h2M29 42.5h1m10 0h1m2 0h1m4 0h1m5 0h2m4 0h4m9 0h2M30 43.5h1m7 0h4m1 0h1m9 0h1m14 0h1m5 0h1m7 0h2M31 44.5h1m6 0h2m3 0h1m12 0h1m3 0h2m11 0h1m7 0h1M43 45.5h1m6 0h1m1 0h3m1 0h1m3 0h2m16 0h3"/><path stroke="#eae9e9" d="M6 0.5h2m5 0h1m7 0h2m5 0h1m6 0h5m13 0h1m3 0h2m7 0h3m3 0h4m2 0h1m6 0h1M18 1.5h1m2 0h1m6 0h2m1 0h2m1 0h1m2 0h1m3 0h1m11 0h3m1 0h1m2 0h1m2 0h1m1 0h1m1 0h2m1 0h1m3 0h1m3 0h2m1 0h1m2 0h1M20 2.5h1m1 0h1m1 0h4m3 0h1m2 0h2m3 0h2m10 0h2m1 0h1m2 0h1m4 0h1m2 0h1m4 0h4m5 0h2M21 3.5h2m2 0h2m2 0h2m4 0h8m1 0h9m1 0h1m1 0h1m5 0h2m1 0h1m7 0h1m2 0h1m2 0h2m1 0h1M8 4.5h1m15 0h1m5 0h2m3 0h1m3 0h2m3 0h2m1 0h2m2 0h1m3 0h1m9 0h1m10 0h1m1 0h4M7 5.5h2m1 0h1m9 0h1m3 0h2m5 0h1m11 0h1m1 0h3m4 0h1m1 0h1m1 0h2m5 0h1m1 0h1m1 0h2m3 0h1m3 0h2M11 6.5h1m7 0h2m3 0h1m2 0h1m2 0h1m6 0h2m2 0h1m4 0h1m3 0h2m2 0h2m5 0h1m7 0h5m1 0h2m1 0h1M19 7.5h2m4 0h1m1 0h1m20 0h1m3 0h2m7 0h1m6 0h1m2 0h1m3 0h1m2 0h1m5 0h1M12 8.5h1m6 0h1m2 0h1m4 0h1m7 0h1m5 0h3m1 0h1m2 0h1m2 0h1m4 0h1m6 0h1m4 0h1m2 0h3m2 0h3m4 0h1M12 9.5h1m26 0h1m4 0h2m9 0h1m3 0h1m2 0h1m5 0h1m1 0h1m5 0h2m3 0h3M14 10.5h2m3 0h1m12 0h2m5 0h1m4 0h1m6 0h2m2 0h3m1 0h1m2 0h1m8 0h1m2 0h1m1 0h1m5 0h1M31 11.5h1m2 0h1m2 0h4m1 0h1m2 0h1m1 0h5m3 0h2m2 0h2m10 0h1m1 0h4m1 0h1m1 0h1m1 0h1M23 12.5h1m2 0h2m5 0h1m5 0h2m1 0h1m3 0h2m1 0h1m23 0h4m8 0h1M21 13.5h2m1 0h1m8 0h1m13 0h3m12 0h3m5 0h1m1 0h1m4 0h1m2 0h1m1 0h1m1 0h1M23 14.5h1m1 0h1m7 0h1m4 0h1m21 0h2m2 0h1m4 0h2m1 0h1m1 0h1m3 0h1m1 0h1m3 0h2M23 15.5h1m1 0h3m9 0h5m2 0h1m5 0h1m1 0h1m4 0h1m3 0h1m2 0h2m6 0h2m2 0h1M25 16.5h3m2 0h1m7 0h2m1 0h5m5 0h2m4 0h1m2 0h1m1 0h2m5 0h1m1 0h1m4 0h1m3 0h1M26 17.5h2m2 0h1m1 0h2m6 0h1m2 0h3m7 0h1m5 0h1m1 0h1m4 0h1m1 0h3m1 0h1m2 0h2m4 0h1m2 0h1M30 18.5h2m1 0h1m8 0h3m2 0h3m1 0h1m1 0h1m2 0h4m2 0h2m3 0h1m4 0h1m1 0h1m6 0h1m2 0h1M35 19.5h1m6 0h3m1 0h1m6 0h6m1 0h2m3 0h1m4 0h1m2 0h1m1 0h1m5 0h1m2 0h2M40 20.5h1m1 0h2m2 0h2m3 0h1m1 0h1m1 0h2m1 0h3m1 0h1m3 0h2m5 0h1m1 0h3M39 21.5h1m1 0h2m6 0h2m2 0h1m1 0h1m3 0h2m1 0h1m3 0h1m1 0h1m2 0h1m1 0h5m7 0h1M42 22.5h1m1 0h1m5 0h1m8 0h1m9 0h1m10 0h6M39 23.5h3m1 0h1m6 0h1m7 0h1m12 0h3m8 0h2M39 24.5h2m1 0h1m2 0h3m11 0h1m13 0h1m11 0h1M39 25.5h1m5 0h1m4 0h3m20 0h1m11 0h1M41 26.5h4m1 0h1m15 0h2m5 0h1m2 0h1m1 0h2m7 0h1M45 27.5h1m3 0h1m4 0h1m9 0h3m8 0h1m3 0h1m3 0h1M1 28.5h1m39 0h1m3 0h1m3 0h1m5 0h1m8 0h1m9 0h1m7 0h2M39 29.5h1m4 0h2m3 0h1m5 0h2m1 0h1m2 0h1m7 0h2m11 0h1M1 30.5h1m30 0h1m8 0h1m5 0h2m6 0h3m1 0h1m2 0h3m2 0h1m1 0h2m5 0h2m2 0h1M45 31.5h1m1 0h2m5 0h2m2 0h2m6 0h1m1 0h1m8 0h1m6 0h1M2 32.5h1m36 0h2m3 0h2m22 0h1M2 33.5h2m34 0h2m4 0h3m20 0h2m4 0h1m8 0h1M3 34.5h2m32 0h1m29 0h3m4 0h2m6 0h2M0 35.5h1m2 0h1m33 0h2m4 0h1m2 0h2m1 0h1m18 0h3m2 0h2m7 0h1m1 0h1M38 36.5h1m3 0h2m27 0h1m5 0h1m4 0h2M34 37.5h1m3 0h1m4 0h5m14 0h2m2 0h2m6 0h2M0 38.5h1m32 0h4m1 0h2m2 0h2m2 0h2m15 0h1m9 0h1m4 0h1m4 0h1M32 39.5h1m1 0h1m4 0h2m1 0h1m1 0h1m4 0h4m13 0h1m2 0h2m7 0h3m1 0h2M9 40.5h2m24 0h1m3 0h2m3 0h1m1 0h4m2 0h2m11 0h2m16 0h2M29 41.5h1m2 0h1m8 0h5m1 0h1m1 0h1m2 0h4m8 0h1m3 0h1m4 0h1m4 0h1M30 42.5h1m1 0h1m5 0h1m5 0h1m1 0h2m1 0h1m3 0h1m2 0h4m7 0h3m5 0h1m2 0h1m3 0h1M29 43.5h1m1 0h1m3 0h1m1 0h1m9 0h3m6 0h4m2 0h1m6 0h1m3 0h1m1 0h1m4 0h1M29 44.5h2m1 0h3m1 0h2m4 0h1m5 0h5m4 0h1m4 0h1m5 0h2m2 0h1m1 0h1m4 0h2m1 0h2M29 45.5h3m1 0h1m3 0h1m2 0h1m3 0h1m3 0h2m5 0h1m1 0h1m4 0h1m3 0h2m2 0h1m2 0h1m1 0h3m3 0h1"/><path stroke="#efe8e6" d="M5 0.5h1m2 0h1m2 0h1m6 0h3m2 0h3m3 0h2m9 0h2m9 0h1m2 0h1m9 0h2m10 0h2m4 0h1m1 0h1M4 1.5h1m1 0h2m2 0h5m7 0h1m1 0h4m2 0h1m2 0h1m4 0h3m11 0h1m5 0h2m4 0h1m8 0h1m8 0h2M4 2.5h2m4 0h10m3 0h1m8 0h2m24 0h2m3 0h1m17 0h3M4 3.5h1m3 0h3m6 0h2m1 0h1m12 0h2m8 0h1m13 0h5m4 0h4m2 0h1m1 0h2m1 0h2m2 0h1M3 4.5h3m3 0h1m10 0h1m2 0h1m4 0h2m6 0h3m4 0h1m2 0h1m9 0h3m1 0h2m1 0h1m2 0h3m4 0h1m1 0h1m1 0h1M0 5.5h1m2 0h2m1 0h1m2 0h1m1 0h1m7 0h1m7 0h1m1 0h2m1 0h5m1 0h3m3 0h1m6 0h1m3 0h1m2 0h1m2 0h2m3 0h1m2 0h1m1 0h1m1 0h1M4 6.5h1m2 0h1m2 0h1m7 0h1m4 0h1m5 0h1m2 0h1m2 0h2m2 0h1m4 0h2m6 0h2m11 0h4m5 0h1m2 0h1M4 7.5h2m4 0h4m2 0h3m2 0h4m6 0h1m1 0h9m17 0h1m4 0h1m2 0h1m4 0h3m1 0h2m7 0h1M9 8.5h1m3 0h1m2 0h3m1 0h2m1 0h1m1 0h2m6 0h2m1 0h1m2 0h1m17 0h1m1 0h1m1 0h1m4 0h2m7 0h1M10 9.5h2m5 0h2m1 0h1m1 0h3m2 0h2m6 0h2m11 0h1m2 0h2m3 0h2m2 0h1m2 0h2m2 0h1m6 0h1M10 10.5h3m5 0h1m1 0h1m10 0h1m6 0h1m8 0h2m11 0h1m14 0h1m5 0h1M14 11.5h5m1 0h1m5 0h2m7 0h2m4 0h1m1 0h1m22 0h2m11 0h1M5 12.5h1m16 0h1m1 0h2m2 0h2m4 0h1m1 0h3m2 0h1m1 0h2m32 0h6M19 13.5h2m5 0h1m1 0h3m1 0h1m6 0h2m32 0h2m3 0h2m5 0h1M19 14.5h2m5 0h1m3 0h3m1 0h1m2 0h1m1 0h2m21 0h2m9 0h1m5 0h1M30 15.5h3m2 0h2m14 0h1m10 0h2m6 0h1m6 0h1m1 0h2M23 16.5h1m5 0h1m2 0h1m4 0h1m23 0h1m8 0h1m6 0h1M11 17.5h1m1 0h1m10 0h2m3 0h1m8 0h2m1 0h2m9 0h1m7 0h1m10 0h1m5 0h4M26 18.5h2m1 0h1m2 0h1m1 0h1m3 0h1m1 0h1m11 0h1m7 0h1m5 0h1m4 0h1m3 0h1m1 0h4M30 19.5h1m3 0h1m1 0h2m2 0h2m5 0h6m9 0h1m1 0h1m1 0h1m5 0h1m7 0h1M14 20.5h1m7 0h1m12 0h3m1 0h1m9 0h2m3 0h1m10 0h1m6 0h1m7 0h3m2 0h1M14 21.5h1m28 0h1m4 0h1m7 0h1m1 0h1m2 0h1m1 0h1m3 0h1m4 0h1m7 0h5M14 22.5h1m23 0h1m4 0h1m3 0h3m3 0h1m2 0h1m1 0h1m4 0h1m8 0h1M45 23.5h1m10 0h2m1 0h1m2 0h1m11 0h1m5 0h2M41 24.5h1m1 0h2m3 0h2m3 0h1m4 0h1m12 0h1m2 0h1m3 0h1m5 0h1M41 25.5h4m3 0h2m13 0h1m2 0h1m4 0h1m2 0h5m5 0h1M49 26.5h3m2 0h1m1 0h2m6 0h3m1 0h1m1 0h2m1 0h1m3 0h1m1 0h1m2 0h1m1 0h1M1 27.5h1m44 0h1m3 0h2m1 0h1m5 0h3m1 0h1m14 0h1m1 0h1m1 0h1m1 0h1M2 28.5h1m28 0h1m4 0h1m10 0h2m1 0h2m1 0h1m2 0h1m2 0h3m4 0h1m3 0h1m2 0h1m1 0h1m2 0h1m2 0h1M7 29.5h1m40 0h1m1 0h1m3 0h1m2 0h1m1 0h2m1 0h1m1 0h2m5 0h1m1 0h2m1 0h1m4 0h1m1 0h1M0 30.5h1m7 0h1m35 0h3m2 0h1m10 0h2m3 0h2m1 0h1m2 0h1m3 0h1m2 0h1m3 0h3M1 31.5h2m38 0h1m4 0h1m2 0h2m5 0h1m7 0h2m3 0h2m2 0h3m3 0h2M0 32.5h2m1 0h2m3 0h1m29 0h1m4 0h1m2 0h2m5 0h5m2 0h2m3 0h2m2 0h1m2 0h3m2 0h1m3 0h1m2 0h2M0 33.5h2m2 0h1m2 0h2m31 0h1m2 0h1m3 0h1m12 0h1m4 0h2m2 0h1m4 0h1m6 0h1m1 0h2M2 34.5h1m4 0h1m31 0h1m3 0h3m2 0h1m8 0h2m3 0h2m1 0h2m3 0h1m1 0h1m3 0h3m2 0h1m2 0h1M1 35.5h2m2 0h1m1 0h1m31 0h1m2 0h1m2 0h1m2 0h1m1 0h1m8 0h1m2 0h1m8 0h2m2 0h4m2 0h1m3 0h1M2 36.5h1m32 0h2m2 0h1m1 0h1m2 0h1m3 0h2m9 0h1m1 0h2m2 0h1m1 0h2m3 0h5m1 0h1m6 0h1M4 37.5h1m28 0h1m1 0h2m2 0h1m1 0h1m6 0h3m2 0h2m1 0h1m4 0h1m2 0h2m2 0h4m1 0h1m3 0h2m3 0h4M1 38.5h1m3 0h1m26 0h1m4 0h1m2 0h2m7 0h4m6 0h1m2 0h1m1 0h1m3 0h3m1 0h1m1 0h2m1 0h1m1 0h1m1 0h2m1 0h1M0 39.5h1m7 0h3m20 0h1m1 0h1m2 0h3m2 0h1m1 0h1m2 0h3m4 0h1m3 0h1m1 0h1m3 0h1m1 0h1m2 0h1m3 0h6m6 0h1M8 40.5h1m9 0h1m6 0h2m5 0h1m1 0h1m1 0h3m3 0h2m6 0h2m2 0h1m2 0h3m2 0h3m2 0h2m1 0h1m5 0h3m3 0h1M18 41.5h1m12 0h1m6 0h1m11 0h1m5 0h3m6 0h3m1 0h1m2 0h1m1 0h3m4 0h1m1 0h1M28 42.5h1m2 0h1m3 0h1m5 0h1m3 0h1m18 0h1m1 0h1m9 0h2m1 0h3m1 0h1M9 43.5h1m14 0h1m7 0h1m1 0h1m1 0h1m7 0h1m1 0h1m3 0h1m12 0h1m3 0h1m2 0h3m11 0h1M28 44.5h1m6 0h1m4 0h1m6 0h1m10 0h1m4 0h1m6 0h2m3 0h3m6 0h1M27 45.5h1m4 0h1m2 0h2m4 0h1m9 0h1m6 0h1m4 0h3m2 0h2m1 0h2m1 0h1"/><path stroke="#ecdeda" d="M2 0.5h1m1 0h1m4 0h2m15 0h2m5 0h2m17 0h1m30 0h1M3 1.5h1m1 0h1m2 0h2m5 0h1m7 0h1M6 2.5h4m50 0h2m2 0h1M3 3.5h1m1 0h1m7 0h4m2 0h1m12 0h1m37 0h2M6 4.5h2m2 0h1m4 0h5m1 0h2m9 0h3m24 0h1m2 0h1m6 0h1m2 0h1m1 0h1M1 5.5h2m2 0h1m10 0h3m2 0h1m1 0h1m4 0h1m30 0h2m9 0h1m3 0h2M3 6.5h1m2 0h1m1 0h2m2 0h2m2 0h2m3 0h2m5 0h1m4 0h2m24 0h2M0 7.5h1m7 0h2m4 0h1m13 0h1m1 0h1m29 0h1m4 0h1M5 8.5h1m2 0h1m1 0h2m12 0h1m3 0h1m8 0h2m21 0h1m3 0h2m8 0h1m9 0h1M9 9.5h1m3 0h1m1 0h2m12 0h6m2 0h2m27 0h1m8 0h1m8 0h2M2 10.5h1m3 0h1m2 0h1m3 0h1m2 0h2m9 0h1m1 0h2m3 0h1m1 0h2m27 0h1m1 0h1M5 11.5h2m4 0h2m6 0h1m4 0h2m2 0h3m13 0h1m36 0h1M6 12.5h1m6 0h2m2 0h5m8 0h3m2 0h1M0 13.5h1m7 0h3m2 0h2m3 0h1m6 0h1m1 0h1m3 0h1m2 0h1m1 0h1m1 0h1M12 14.5h1m8 0h2m4 0h1m7 0h2M7 15.5h2m1 0h4m1 0h3m1 0h2m7 0h2m3 0h2m43 0h1M7 16.5h2m1 0h5m1 0h1m3 0h1m1 0h1m5 0h1m4 0h4m41 0h2M10 17.5h1m1 0h1m1 0h1m1 0h1m2 0h2m1 0h1m5 0h1m5 0h4M19 18.5h1m4 0h2m9 0h3m1 0h1m1 0h1m19 0h1m14 0h1M18 19.5h2m2 0h3m2 0h1m1 0h1m1 0h1m1 0h1m4 0h1m24 0h1m13 0h2M4 20.5h2m7 0h1m20 0h1m3 0h1m2 0h1m6 0h1m8 0h1m5 0h2m6 0h1m6 0h1m4 0h2M12 21.5h2m21 0h3m16 0h1m2 0h1m6 0h2m12 0h1M10 22.5h1m4 0h1m39 0h1m1 0h1m2 0h1m1 0h1m1 0h1m3 0h1m4 0h7M29 23.5h1m14 0h1m1 0h1m2 0h1m11 0h1m1 0h1m4 0h1m1 0h1m6 0h3M9 24.5h1m18 0h2m26 0h2m2 0h2m4 0h1m8 0h3m1 0h3M5 25.5h1m48 0h3m2 0h4m1 0h2m1 0h4m8 0h1m3 0h1M5 26.5h1m49 0h1m2 0h4m5 0h1m8 0h1m1 0h1m2 0h1m3 0h1M0 27.5h1m1 0h1m2 0h1m7 0h1m6 0h1m9 0h2m20 0h1m2 0h4m3 0h1m6 0h5m2 0h1m4 0h1M0 28.5h1m5 0h1m2 0h2m19 0h1m4 0h1m10 0h1m5 0h1m9 0h2m7 0h2m3 0h1m7 0h2M0 29.5h2m3 0h2m1 0h3m5 0h1m9 0h1m19 0h2m3 0h1m1 0h1m9 0h1m2 0h1m1 0h1m3 0h1m2 0h1m1 0h2m6 0h1M2 30.5h1m4 0h1m1 0h3m14 0h1m4 0h1m6 0h1m3 0h2m6 0h1m3 0h1m18 0h2m6 0h1M0 31.5h1m2 0h1m4 0h4m20 0h1m5 0h1m4 0h2m8 0h1m3 0h1m2 0h2m1 0h1m7 0h2m5 0h1m2 0h3M5 32.5h1m9 0h1m25 0h1m6 0h1m1 0h1m7 0h2m15 0h2m1 0h1m1 0h1m1 0h2M15 33.5h1m4 0h2m5 0h1m13 0h1m6 0h1m4 0h1m1 0h4m2 0h1m8 0h1m4 0h3m7 0h1M0 34.5h2m3 0h1m2 0h1m21 0h1m9 0h3m6 0h2m4 0h2m2 0h3m2 0h1m6 0h1m7 0h2m4 0h1M19 35.5h2m19 0h2m2 0h1m11 0h3m1 0h2m1 0h4m12 0h1M0 36.5h2m1 0h3m1 0h1m16 0h1m9 0h1m5 0h1m4 0h3m2 0h1m3 0h3m3 0h1m2 0h2m1 0h1m12 0h1m1 0h1M3 37.5h1m1 0h1m18 0h1m4 0h1m10 0h1m10 0h2m2 0h1m2 0h3m11 0h1m3 0h1m2 0h1m1 0h1M4 38.5h1m10 0h2m31 0h1m4 0h2m2 0h2m1 0h1m4 0h1m5 0h1m4 0h1m3 0h1m4 0h1M1 39.5h1m13 0h2m1 0h1m5 0h3m3 0h1m23 0h1m1 0h1m1 0h1m1 0h1m1 0h1m1 0h1m6 0h1M6 40.5h2m8 0h2m4 0h3m4 0h1m1 0h1m1 0h1m21 0h2m3 0h2m7 0h1m1 0h4M0 41.5h2m6 0h2m9 0h1m2 0h1m3 0h1m3 0h1m2 0h1m1 0h3m13 0h1m7 0h2m9 0h1m6 0h1m4 0h1m1 0h1M1 42.5h2m15 0h1m5 0h3m6 0h2m1 0h2m12 0h1m1 0h1m12 0h1m4 0h1m1 0h1m11 0h1M2 43.5h2m1 0h2m3 0h1m2 0h1m2 0h1m5 0h2m1 0h1m2 0h1m4 0h1m11 0h1m5 0h2m13 0h1m9 0h4m5 0h1M3 44.5h1m5 0h2m2 0h2m3 0h1m3 0h1m4 0h1m13 0h1m2 0h1m14 0h1m4 0h1m1 0h2m10 0h1m6 0h1M18 45.5h1m2 0h2m19 0h1m16 0h1m22 0h2"/><path stroke="#e9d4cf" d="M3 0.5h1m10 0h1M2 1.5h1m13 0h2M0 2.5h1m2 0h1M0 3.5h1m1 0h1m3 0h2m3 0h2M2 4.5h1m8 0h1m58 0h2M12 5.5h1m2 0h1m6 0h1M1 6.5h2m2 0h1m8 0h1m25 0h1M6 7.5h1m8 0h1m13 0h1m2 0h1m33 0h1M0 8.5h1m3 0h1m9 0h1m14 0h3M1 9.5h2m1 0h2m2 0h1m5 0h1m6 0h1m3 0h2m38 0h1M1 10.5h1m1 0h3m1 0h2m12 0h6m1 0h1m6 0h1M3 11.5h2m2 0h4m2 0h1m7 0h3M1 12.5h2m4 0h6m2 0h2M1 13.5h1m3 0h2m4 0h2m2 0h1m1 0h1m17 0h1m1 0h1M0 14.5h2m1 0h1m1 0h1m3 0h3m1 0h6m9 0h2M9 15.5h1m4 0h1m3 0h1m2 0h2M4 16.5h1m4 0h1m5 0h1m1 0h3m1 0h1M1 17.5h1m2 0h2m9 0h1m1 0h2m2 0h1m1 0h1M0 18.5h4m2 0h1m3 0h2m1 0h2m3 0h1m1 0h1m1 0h1m5 0h1M6 19.5h1m8 0h2m9 0h1m5 0h1m6 0h1m31 0h1m4 0h1m2 0h1M12 20.5h1m2 0h1m2 0h2m1 0h1m1 0h1m8 0h2m45 0h1M4 21.5h2m4 0h2m3 0h1m6 0h1m4 0h1m4 0h1m5 0h1m40 0h1M9 22.5h1m1 0h3m8 0h1m7 0h1m1 0h2m20 0h1m6 0h1m4 0h2M8 23.5h2m2 0h3m4 0h1m7 0h2m1 0h1m7 0h1m8 0h2m4 0h1m1 0h1m4 0h1m3 0h4m1 0h1m5 0h2M5 24.5h1m2 0h1m3 0h1m11 0h2m28 0h2m6 0h2m1 0h1m2 0h1m13 0h2M4 25.5h1m1 0h4m2 0h2m9 0h3m2 0h2m27 0h2m21 0h3M4 26.5h1m1 0h5m1 0h2m8 0h3m5 0h2m48 0h1M3 27.5h2m1 0h1m1 0h1m3 0h1m6 0h1m16 0h3m28 0h2m8 0h1M3 28.5h1m1 0h1m1 0h2m4 0h4m2 0h2m11 0h1m4 0h2m18 0h2m8 0h3m7 0h1M2 29.5h2m7 0h1m3 0h1m1 0h1m7 0h1m1 0h1m2 0h3m2 0h2m15 0h1m14 0h1m16 0h1M5 30.5h2m17 0h2m4 0h1m2 0h1m3 0h1m13 0h3m18 0h1M4 31.5h4m16 0h1m26 0h2m9 0h1M6 32.5h2m1 0h1m2 0h2m13 0h2m2 0h2m9 0h1m6 0h1m2 0h1m11 0h1m5 0h2m7 0h1M5 33.5h2m2 0h6m7 0h1m3 0h1m1 0h6m3 0h1m4 0h1m6 0h4m1 0h1m4 0h1m2 0h1m1 0h1m6 0h1m6 0h1m1 0h1M6 34.5h1m3 0h1m2 0h3m4 0h2m7 0h1m3 0h3m15 0h4M6 35.5h1m1 0h1m4 0h4m1 0h1m2 0h4m4 0h2m2 0h2m1 0h1m17 0h2m24 0h1M6 36.5h1m1 0h1m13 0h2m1 0h1m3 0h2m2 0h1m17 0h3m3 0h2M0 37.5h1m5 0h2m1 0h1m6 0h1m2 0h1m1 0h3m1 0h1m2 0h1m1 0h1m1 0h1m24 0h1m22 0h1M2 38.5h2m2 0h1m1 0h1m5 0h1m2 0h3m4 0h3m1 0h2m25 0h2m4 0h1M2 39.5h6m3 0h1m2 0h1m2 0h1m1 0h1m2 0h2m3 0h1m27 0h1m5 0h1m23 0h1M1 40.5h5m5 0h1m3 0h1m3 0h1m1 0h1m5 0h1m2 0h1m44 0h1m9 0h1M2 41.5h5m3 0h2m5 0h1m2 0h2m1 0h3m1 0h2m5 0h1m36 0h1m13 0h1M3 42.5h4m1 0h2m2 0h2m2 0h1m2 0h1m1 0h3m27 0h1m19 0h1m13 0h1M1 43.5h1m2 0h1m3 0h1m2 0h2m1 0h2m2 0h1m2 0h1m4 0h1m37 0h2M0 44.5h1m1 0h1m1 0h2m2 0h1m2 0h2m2 0h3m1 0h3m2 0h3m19 0h1m18 0h1M0 45.5h1m8 0h3m2 0h2m3 0h1m6 0h1m18 0h1m1 0h1m36 0h2"/><path stroke="#e6c9c3" d="M0 0.5h2m13 0h1m1 0h1M0 1.5h2M1 2.5h2M1 3.5h1M0 4.5h2m10 0h3M13 5.5h2M0 6.5h1m14 0h1M1 7.5h1m1 0h1m3 0h1M1 8.5h1m4 0h2m7 0h1m16 0h1m52 0h1M0 9.5h1m2 0h1m2 0h2M0 10.5h1m65 0h1M1 11.5h2M3 12.5h2M2 13.5h1m1 0h1m2 0h1m8 0h1M2 14.5h1m1 0h1m1 0h3M1 15.5h6M0 16.5h2m3 0h1M0 17.5h1m1 0h1m3 0h4M4 18.5h2m3 0h1m2 0h1m2 0h3m3 0h1m1 0h1M1 19.5h5m1 0h8m2 0h1m2 0h2m3 0h1m2 0h1M0 20.5h1m2 0h1m2 0h1m2 0h3m4 0h2m2 0h1m3 0h1m2 0h2m1 0h2M6 21.5h1m2 0h1m7 0h1m3 0h1m4 0h1m1 0h1m4 0h2M0 22.5h1m4 0h4m7 0h2m2 0h2m5 0h3m4 0h2m1 0h1m27 0h1M1 23.5h5m1 0h1m3 0h1m3 0h1m4 0h2m2 0h3m5 0h1M1 24.5h1m1 0h2m5 0h2m1 0h2m5 0h2m1 0h1m2 0h2m5 0h2m29 0h1m2 0h1m1 0h2M1 25.5h3m6 0h2m9 0h2m3 0h2m2 0h4M0 26.5h4m7 0h1m2 0h3m3 0h2m3 0h5m2 0h1m3 0h3M7 27.5h1m1 0h3m2 0h3m4 0h1m2 0h2m6 0h1m2 0h1m49 0h1M4 28.5h1m6 0h1m9 0h1m2 0h2M4 29.5h1m7 0h3m3 0h2m4 0h1m4 0h1m3 0h2m2 0h2M3 30.5h2m7 0h1m9 0h1m4 0h1m1 0h1m5 0h2M12 31.5h1m10 0h1m1 0h3m1 0h3m1 0h1m2 0h2m4 0h1M10 32.5h2m2 0h1m1 0h1m1 0h7m1 0h1m2 0h2m2 0h1m17 0h1m10 0h1M16 33.5h1m2 0h1m3 0h1m1 0h1m8 0h1m28 0h1m15 0h1M11 34.5h2m3 0h1m1 0h2m2 0h3m1 0h3m2 0h2M10 35.5h1m1 0h1m4 0h1m7 0h2m1 0h1m2 0h2m18 0h3M9 36.5h2m4 0h2m1 0h4m6 0h1m51 0h1M1 37.5h2m5 0h1m1 0h1m4 0h1m2 0h1m1 0h1m5 0h1M7 38.5h1m1 0h2m11 0h2m3 0h1m2 0h2M12 39.5h2m6 0h2m6 0h2M0 40.5h1m12 0h1m6 0h1m7 0h1M7 41.5h1m4 0h2m1 0h2M0 42.5h1m6 0h1m2 0h2m2 0h2m1 0h1m2 0h1m6 0h1M0 43.5h1m16 0h1m1 0h2m6 0h1M1 44.5h1m4 0h2m15 0h1m21 0h1M1 45.5h8m4 0h1m2 0h2m2 0h1m4 0h1"/><path stroke="#e3bfb7" d="M16 0.5h1M2 7.5h1M2 8.5h2M0 11.5h1M0 12.5h1M3 13.5h1M0 15.5h1M2 16.5h2m2 0h1M3 17.5h1M7 18.5h2M0 19.5h1M1 20.5h1m5 0h2m16 0h2m2 0h1M0 21.5h1m2 0h1m4 0h1m7 0h1m1 0h3m2 0h1m1 0h1m3 0h2M1 22.5h1m1 0h2m13 0h2m3 0h2m1 0h1m4 0h1m4 0h1M0 23.5h1m5 0h1m3 0h1m5 0h3m3 0h2m7 0h1m1 0h3m18 0h1M2 24.5h1m3 0h2m7 0h1m3 0h1m2 0h1m7 0h3m2 0h1m2 0h1M0 25.5h1m13 0h1m1 0h1m2 0h2m13 0h5M19 26.5h1m13 0h3M18 27.5h1m3 0h2m2 0h1m2 0h1m4 0h1M12 28.5h1m5 0h1m3 0h2m2 0h2m1 0h1m3 0h2M20 29.5h1M17 30.5h2m1 0h2m1 0h1m4 0h1m5 0h1M13 31.5h1m1 0h2m1 0h2m1 0h2m5 0h1m5 0h2M17 32.5h1m7 0h1m11 0h1m25 0h1M17 33.5h2m5 0h1M9 34.5h1m7 0h1m7 0h1m10 0h1M9 35.5h1m1 0h1m15 0h1m7 0h1M11 36.5h1m1 0h2m2 0h1m8 0h2m3 0h2M11 37.5h1m5 0h1m9 0h1m3 0h1M11 38.5h3m6 0h2M12 40.5h1m1 0h1M14 41.5h1M7 43.5h1M12 45.5h1m10 0h1m22 0h1"/><path stroke="#e0b5ab" d="M2 20.5h1M1 21.5h2m4 0h1m16 0h1m6 0h1M2 22.5h1m22 0h1M36 23.5h2M0 24.5h1m15 0h3m17 0h2M15 25.5h1m1 0h2M18 26.5h1M27 27.5h2m4 0h1M17 28.5h1m10 0h1M21 29.5h3m4 0h1M13 30.5h1m1 0h2m2 0h1M14 31.5h1m2 0h1m2 0h1M34 32.5h1M35 33.5h2M12 36.5h1M12 37.5h3M24 45.5h1"/><path stroke="#ddaba0" d="M17 26.5h1M17 27.5h1M14 30.5h1M36 32.5h1"/><path stroke="#dba394" d="M35 32.5h1"/></g></g>
<g clip-path="url(#oce)"><g filter="url(#blB)"><g transform="matrix(6.2840,0,0,11.3122,214.53,1230.68)" fill="none" stroke-width="1.04"><path stroke="#c0d2da" d="M21 5.5h2M21 6.5h2"/><path stroke="#cedadf" d="M0 0.5h1m17 0h1M21 2.5h1M21 3.5h1m2 0h2M20 4.5h2m3 0h1M20 5.5h1m2 0h1m1 0h5M20 6.5h1m2 0h1m2 0h3M22 7.5h1m4 0h1M22 8.5h1M22 9.5h1M22 10.5h2"/><path stroke="#dce1e4" d="M1 0.5h1m15 0h1m1 0h1m1 0h1m2 0h1m3 0h2M0 1.5h1M20 2.5h1m1 0h1m1 0h1M20 3.5h1m1 0h2M22 4.5h3m1 0h1m2 0h1M19 5.5h1m4 0h1m5 0h1M19 6.5h1m4 0h2m3 0h1M20 7.5h2m1 0h1m2 0h1m1 0h1M21 8.5h1m1 0h1m3 0h1m42 0h1M15 9.5h2m4 0h1m1 0h1M15 10.5h2m4 0h1M22 11.5h2M0 12.5h1m83 0h1M0 13.5h1"/><path stroke="#eae9e9" d="M2 0.5h1m13 0h1m3 0h1m1 0h2m3 0h1m6 0h1m43 0h1m3 0h2M1 1.5h1m16 0h7m2 0h8m40 0h1m1 0h2M18 2.5h2m3 0h1m1 0h4m1 0h4m43 0h4M7 3.5h1m11 0h1m6 0h4m2 0h2m43 0h2M8 4.5h1m10 0h1m7 0h2m1 0h2M31 5.5h1m48 0h1m1 0h2M79 6.5h4m1 0h1M19 7.5h1m4 0h2m3 0h1m27 0h1m11 0h2M10 8.5h1m4 0h2m3 0h1m5 0h1m1 0h3m38 0h1m1 0h1M11 9.5h1m5 0h2m1 0h1m3 0h1m1 0h3m46 0h2M10 10.5h1m6 0h4m3 0h1m2 0h2m56 0h1M21 11.5h1m61 0h3M1 12.5h1m81 0h1m1 0h1M1 13.5h1m17 0h3m62 0h2M10 14.5h1m9 0h1M0 15.5h1m9 0h2m73 0h1M0 16.5h1m9 0h2m63 0h2m8 0h1M19 17.5h1m56 0h1M1 18.5h1m9 0h1m73 0h1M0 19.5h1m10 0h1M73 20.5h2M73 21.5h2M85 23.5h1M10 24.5h1m65 0h1M76 25.5h2M0 27.5h1M0 28.5h1m77 0h1M0 29.5h1m77 0h1M74 31.5h1M85 32.5h1M84 33.5h2"/><path stroke="#efe8e6" d="M3 0.5h1m5 0h1m5 0h1m9 0h1m4 0h4m3 0h2m18 0h2m5 0h1m10 0h3M2 1.5h1m7 0h1m5 0h2m8 0h1m8 0h1m38 0h1m1 0h1m2 0h3m3 0h1M0 2.5h3m3 0h5m18 0h1m4 0h1m40 0h2m4 0h1m3 0h1M0 3.5h1m5 0h1m1 0h1m3 0h2m16 0h2m2 0h1m44 0h3m3 0h1M7 4.5h1m8 0h1m15 0h3m42 0h1m5 0h3M8 5.5h1m7 0h3m15 0h2m29 0h2m7 0h1m2 0h3m1 0h1m2 0h2M9 6.5h2m6 0h2m11 0h1m4 0h1m21 0h2m9 0h3m2 0h2m1 0h3m4 0h1m1 0h1M8 7.5h3m2 0h3m2 0h1m11 0h1m25 0h1m1 0h1m12 0h1m4 0h2m2 0h1m4 0h1M0 8.5h2m4 0h4m1 0h1m2 0h1m2 0h3m4 0h2m7 0h2m37 0h1m2 0h3m7 0h1M0 9.5h1m4 0h1m2 0h3m1 0h1m1 0h1m4 0h1m5 0h1m3 0h2m38 0h3m2 0h1m2 0h1m6 0h2M0 10.5h1m3 0h2m3 0h1m1 0h2m1 0h1m11 0h1m47 0h2m6 0h3M0 11.5h2m1 0h5m1 0h3m3 0h6m3 0h1m57 0h1M3 12.5h1m3 0h2m2 0h2m3 0h8m39 0h1m18 0h1M3 13.5h2m1 0h1m1 0h5m3 0h1m41 0h3m2 0h1m8 0h1m2 0h4m4 0h1M0 14.5h3m3 0h4m1 0h2m6 0h1m1 0h1m50 0h2m1 0h2m8 0h1M1 15.5h2m3 0h1m1 0h2m2 0h2m5 0h2m45 0h1m5 0h1m2 0h3M1 16.5h6m1 0h2m2 0h2m4 0h3m51 0h3m2 0h4m3 0h1M0 17.5h7m1 0h7m3 0h1m1 0h1m52 0h3m3 0h2m3 0h2M0 18.5h1m3 0h1m2 0h4m1 0h1m5 0h2m54 0h3m1 0h5m1 0h1M1 19.5h1m2 0h4m2 0h1m1 0h2m64 0h5M0 20.5h1m5 0h2m2 0h3m58 0h2m9 0h1M4 21.5h1m2 0h1m3 0h2m58 0h2m2 0h1M8 22.5h2m1 0h2m2 0h3m55 0h3m5 0h1M9 23.5h2m1 0h4m59 0h2m4 0h1M9 24.5h1m1 0h2m62 0h1m4 0h2m3 0h1M9 25.5h1m65 0h1m2 0h3M75 26.5h4M78 27.5h1m4 0h1M77 28.5h1m1 0h1m3 0h2M77 29.5h1m1 0h1m4 0h1M0 30.5h1m73 0h5m5 0h1M75 31.5h3m6 0h2M84 32.5h1M85 34.5h1"/><path stroke="#ecdeda" d="M4 0.5h2m2 0h1m1 0h1m15 0h1m8 0h2m2 0h1m15 0h2m3 0h2m1 0h1m1 0h3m6 0h1m4 0h3m2 0h2M3 1.5h1m1 0h5m4 0h2m9 0h1m10 0h5m16 0h4m3 0h1m1 0h1m6 0h1m8 0h3M3 2.5h3m5 0h7m17 0h1m2 0h4m15 0h4m3 0h1m8 0h2m7 0h3M1 3.5h3m5 0h3m2 0h3m1 0h1m16 0h1m1 0h1m2 0h2m15 0h3m3 0h2m9 0h1m1 0h1m5 0h3M0 4.5h1m5 0h1m2 0h1m2 0h1m1 0h2m1 0h2m16 0h1m20 0h4m2 0h2m1 0h2m2 0h2m3 0h1m3 0h5M0 5.5h2m3 0h1m1 0h1m1 0h3m3 0h1m16 0h2m5 0h1m16 0h4m2 0h1m4 0h5m1 0h1m2 0h1M0 6.5h5m3 0h1m2 0h1m3 0h2m14 0h2m1 0h1m1 0h1m2 0h1m16 0h1m2 0h4m2 0h3m3 0h2m2 0h1M0 7.5h8m3 0h2m3 0h2m13 0h6m2 0h1m15 0h1m3 0h2m7 0h1m3 0h4m2 0h2m1 0h1m2 0h1M2 8.5h4m6 0h2m17 0h1m3 0h1m3 0h1m16 0h2m1 0h3m6 0h1m4 0h2m6 0h1m2 0h1M1 9.5h2m1 0h1m1 0h2m5 0h1m17 0h1m1 0h2m26 0h1m6 0h1m3 0h2m7 0h3M1 10.5h3m2 0h3m4 0h1m11 0h1m3 0h1m1 0h3m23 0h2m10 0h3m1 0h1m2 0h2m3 0h1M2 11.5h1m5 0h1m3 0h3m11 0h3m28 0h2m4 0h2m3 0h1m2 0h1m1 0h3m5 0h1M2 12.5h1m1 0h3m2 0h2m2 0h1m1 0h1m40 0h5m1 0h1m1 0h1m3 0h1m2 0h2m1 0h6M2 13.5h1m2 0h1m1 0h1m5 0h1m1 0h1m1 0h2m3 0h1m34 0h1m3 0h2m1 0h5m2 0h1m1 0h2m4 0h1m2 0h1M3 14.5h3m7 0h4m1 0h1m38 0h1m3 0h3m2 0h4m1 0h1m2 0h1m2 0h3m2 0h3M3 15.5h3m1 0h1m10 0h1m2 0h1m45 0h2m2 0h1m1 0h2m3 0h7M7 16.5h1m9 0h1m3 0h1m44 0h1m4 0h1M7 17.5h1m9 0h1m3 0h1m33 0h1m10 0h1m5 0h1m4 0h2m2 0h3M2 18.5h2m1 0h2m6 0h2m2 0h1m2 0h1m34 0h1m17 0h1m3 0h1m5 0h1M2 19.5h2m4 0h2m4 0h1m3 0h1m54 0h5m5 0h3M1 20.5h1m1 0h3m7 0h1m34 0h4m23 0h1m3 0h3m1 0h3M0 21.5h1m2 0h1m1 0h2m1 0h3m2 0h1m1 0h4m28 0h2m1 0h3m17 0h1m5 0h1m2 0h7M2 22.5h3m2 0h1m2 0h1m2 0h2m3 0h1m27 0h2m2 0h3m19 0h1m3 0h1m3 0h1m1 0h1m1 0h2M2 23.5h4m5 0h1m4 0h1m29 0h1m3 0h1m21 0h3m5 0h1m1 0h1m1 0h1M2 24.5h2m9 0h1m1 0h1m26 0h2m6 0h2m20 0h1m1 0h1m2 0h3m4 0h1M2 25.5h2m4 0h1m1 0h1m32 0h1m27 0h2m8 0h2M0 26.5h2m2 0h1m69 0h1m4 0h4M1 27.5h1m47 0h1m21 0h7m1 0h1m2 0h1m1 0h1M72 28.5h1m7 0h1m1 0h1m2 0h1M76 29.5h1m3 0h1m2 0h1m1 0h1M40 30.5h1m32 0h1m5 0h1m3 0h1m1 0h1M73 31.5h1m4 0h1m2 0h1m1 0h1M73 32.5h6m2 0h1m1 0h1M76 33.5h3m1 0h2m1 0h1M81 34.5h1m2 0h1M79 35.5h1"/><path stroke="#e9d4cf" d="M6 0.5h2m6 0h1m25 0h3m11 0h1m4 0h1m2 0h1m5 0h1m4 0h1M4 1.5h1m6 0h3m27 0h2m18 0h1m1 0h1m1 0h1m1 0h3m2 0h1M36 2.5h2m4 0h1m18 0h1m1 0h1m1 0h2m1 0h5M4 3.5h2m11 0h1m18 0h1m1 0h2m16 0h1m3 0h3m2 0h2m1 0h3m2 0h1m1 0h1M1 4.5h2m2 0h1m4 0h2m1 0h1m22 0h5m19 0h2m2 0h1m2 0h2m2 0h1m1 0h1m1 0h2M2 5.5h1m1 0h1m1 0h1m5 0h1m1 0h1m21 0h3m16 0h1m4 0h2m1 0h2m7 0h1m2 0h1M5 6.5h3m4 0h3m18 0h1m3 0h2m16 0h1m7 0h2M37 7.5h2m1 0h3m18 0h2m1 0h2m1 0h1m14 0h1M32 8.5h1m3 0h3m1 0h1m14 0h1m2 0h1m3 0h1m1 0h2m12 0h1m1 0h1M3 9.5h1m28 0h1m2 0h1m20 0h5m1 0h1m1 0h4m10 0h1m1 0h1M30 10.5h1m28 0h7m1 0h2m3 0h1m5 0h3M25 11.5h1m3 0h1m1 0h2m20 0h4m2 0h4m2 0h3m1 0h2m1 0h1m3 0h5M14 12.5h1m9 0h1m3 0h1m26 0h1m5 0h1m3 0h3m1 0h2m2 0h1m6 0h2M14 13.5h1m8 0h1m23 0h2m6 0h2m12 0h2m9 0h2M17 14.5h1m4 0h1m9 0h1m13 0h2m10 0h3m3 0h2m4 0h1m9 0h2M14 15.5h1m1 0h2m4 0h1m9 0h1m25 0h2m1 0h3m1 0h1m3 0h2M14 16.5h1m7 0h1m9 0h1m26 0h1m5 0h1m1 0h4m10 0h3M15 17.5h2m48 0h1m1 0h1M15 18.5h2m4 0h1m34 0h1m8 0h2m5 0h1M16 19.5h2m1 0h2m26 0h2m1 0h2m4 0h1m15 0h1M2 20.5h1m5 0h2m4 0h6m24 0h1m2 0h1m4 0h1m3 0h2m1 0h1m10 0h1m5 0h3M1 21.5h2m11 0h1m4 0h1m23 0h2m4 0h1m27 0h2M0 22.5h2m3 0h2m12 0h1m23 0h2m3 0h2m20 0h2m5 0h3m3 0h1M1 23.5h1m6 0h1m8 0h4m20 0h5m1 0h1m1 0h1m1 0h1m19 0h1m5 0h1m1 0h1m3 0h1M0 24.5h2m2 0h2m2 0h1m5 0h1m23 0h2m4 0h1m4 0h1m21 0h1m1 0h1m8 0h2M0 25.5h2m2 0h2m5 0h1m25 0h3m2 0h1m1 0h1m4 0h3m18 0h1m2 0h2m8 0h1m1 0h1M2 26.5h2m1 0h1m2 0h2m24 0h2m12 0h2m20 0h4m9 0h2M45 27.5h1m2 0h1m21 0h1m9 0h2m3 0h1M1 28.5h1m69 0h1m1 0h1m1 0h2m4 0h1M40 29.5h2m30 0h4m5 0h2M41 30.5h1m30 0h1m7 0h2M0 31.5h1m39 0h2m4 0h1m25 0h1m6 0h2m1 0h1M72 32.5h1m6 0h2m1 0h1M72 33.5h1m2 0h1m3 0h1m2 0h1M77 34.5h4m2 0h1M80 35.5h2m2 0h2M79 36.5h1M7 37.5h2m44 0h1M7 38.5h1M50 41.5h1M1 45.5h2m4 0h1"/><path stroke="#e6c9c3" d="M11 0.5h1m1 0h1m55 0h2m1 0h1M43 1.5h1m11 0h2m5 0h1m7 0h2M43 2.5h3m9 0h2m5 0h1m4 0h1M42 3.5h1m1 0h3m7 0h2m11 0h1m3 0h2M3 4.5h2m36 0h1m13 0h1m16 0h1M3 5.5h1m9 0h1m26 0h1M40 6.5h3m11 0h1M54 7.5h1m8 0h1m2 0h1m16 0h1M42 8.5h2m4 0h1m5 0h1m8 0h1m2 0h2m11 0h1m2 0h2M36 9.5h4m12 0h4m7 0h1m15 0h1M34 10.5h1m14 0h1m2 0h5m9 0h1M30 11.5h1m2 0h1m18 0h1M25 12.5h3m1 0h4m4 0h1m2 0h3m4 0h6m1 0h1M24 13.5h1m2 0h2m1 0h3m4 0h1m4 0h1m3 0h1m2 0h3m2 0h1M23 14.5h2m2 0h1m2 0h2m1 0h1m3 0h2m4 0h3m2 0h1m2 0h2m1 0h3M15 15.5h1m7 0h1m7 0h1m1 0h1m9 0h2m2 0h1m3 0h1m2 0h2m1 0h1m2 0h1m3 0h1M15 16.5h2m6 0h1m6 0h2m1 0h1m16 0h1m7 0h1m1 0h5M22 17.5h1m4 0h2m3 0h1m12 0h3m6 0h1m1 0h1m2 0h4m1 0h1m3 0h4M22 18.5h2m12 0h2m7 0h4m2 0h1m2 0h1m4 0h6m2 0h3M15 19.5h1m5 0h1m9 0h1m3 0h2m7 0h3m2 0h1m5 0h1m1 0h1m1 0h1m3 0h2m3 0h4M20 20.5h3m12 0h2m6 0h1m1 0h2m6 0h1m1 0h1m2 0h1m1 0h1m8 0h1M25 21.5h1m15 0h2m2 0h2m6 0h1m1 0h6M20 22.5h1m8 0h1m8 0h5m2 0h1m7 0h1M0 23.5h1m5 0h2m13 0h2m6 0h1m8 0h3m7 0h1m3 0h3m14 0h2m7 0h1M6 24.5h1m9 0h1m3 0h1m16 0h1m2 0h2m3 0h4m3 0h1m1 0h2m13 0h2M6 25.5h2m7 0h1m18 0h3m3 0h2m6 0h1m3 0h1m1 0h1m14 0h1m14 0h1M6 26.5h2m2 0h1m25 0h9m24 0h1m15 0h1M6 27.5h2m26 0h4m2 0h2m2 0h1m1 0h2M15 28.5h2m18 0h2m3 0h2m1 0h3m2 0h2m20 0h1m3 0h1M42 29.5h3m25 0h2M43 30.5h4m23 0h2m10 0h1M15 31.5h2m27 0h2m1 0h1M71 33.5h1m1 0h1M12 34.5h2m57 0h2m3 0h1m5 0h1M12 35.5h1m65 0h1m3 0h2M7 36.5h2m44 0h1m24 0h1m1 0h1m2 0h3M1 37.5h1m2 0h3m76 0h3M4 38.5h3m1 0h1m75 0h2M7 39.5h1m6 0h1m11 0h1m45 0h1m8 0h1M50 40.5h1M19 41.5h1m29 0h1m1 0h1M30 42.5h1m19 0h2m4 0h1M0 43.5h3m2 0h1m28 0h1M0 44.5h3m4 0h1M8 45.5h1m32 0h1m4 0h1m4 0h1"/><path stroke="#e3bfb7" d="M12 0.5h1m58 0h1M44 1.5h2m8 0h1M46 2.5h1m2 0h1m4 0h1M43 3.5h1m3 0h3m3 0h1M42 4.5h1m4 0h6m1 0h1M41 5.5h1m7 0h3m2 0h1M43 6.5h1m7 0h1M43 7.5h1m4 0h2M41 8.5h1m2 0h1m1 0h2m1 0h1m2 0h2M40 9.5h1m2 0h2m1 0h4m1 0h1M35 10.5h3m1 0h1m4 0h5m1 0h2M36 11.5h16M33 12.5h1m2 0h1m1 0h2m3 0h1m2 0h1m6 0h1M25 13.5h2m2 0h1m3 0h1m2 0h1m1 0h4m1 0h3m6 0h2M25 14.5h2m1 0h1m7 0h1m2 0h2m1 0h1m6 0h2m2 0h1M24 15.5h1m2 0h1m2 0h1m6 0h2m6 0h2m1 0h1m1 0h1m1 0h2m2 0h1M24 16.5h1m2 0h1m16 0h4m1 0h1m1 0h1m3 0h3M23 17.5h2m6 0h1m1 0h1m10 0h1m3 0h4m6 0h1m4 0h1M24 18.5h1m2 0h2m2 0h5m8 0h1m4 0h2m6 0h1m12 0h2M22 19.5h2m5 0h2m1 0h3m2 0h1m5 0h1m8 0h3m3 0h1m1 0h3m2 0h3M23 20.5h1m1 0h1m2 0h4m1 0h2m6 0h2m11 0h1m6 0h1m6 0h1M20 21.5h5m1 0h5m5 0h2m2 0h1m13 0h1m14 0h1M21 22.5h2m1 0h3m1 0h1m1 0h1m5 0h2m16 0h2m3 0h2m8 0h1M23 23.5h1m4 0h1m1 0h1m6 0h1m17 0h1m3 0h2m6 0h2M7 24.5h1m9 0h3m1 0h2m13 0h1m16 0h1m13 0h2M12 25.5h1m1 0h1m11 0h1m6 0h1m11 0h1m1 0h1m5 0h1m1 0h1M33 26.5h1m11 0h3m2 0h1m2 0h4M4 27.5h2m2 0h3m4 0h2m2 0h1m13 0h1m4 0h2m2 0h2m6 0h1m2 0h3m13 0h1M4 28.5h1m1 0h7m4 0h1m1 0h1m13 0h2m2 0h3m2 0h1m3 0h2m5 0h2M5 29.5h1m3 0h1m1 0h2m2 0h3m18 0h2m1 0h1m5 0h1m1 0h3m4 0h1m11 0h1m2 0h1M11 30.5h1m3 0h3m18 0h4m2 0h1m4 0h2m5 0h1m14 0h1M6 31.5h3m2 0h1m5 0h3m16 0h2m1 0h1m2 0h2m20 0h2m5 0h1M5 32.5h3m3 0h2m2 0h2m2 0h1m4 0h2m15 0h2m1 0h4m15 0h2m6 0h1M5 33.5h2m3 0h3m2 0h2m25 0h1m2 0h1m24 0h1m3 0h1M7 34.5h1m3 0h1m2 0h3m25 0h1m2 0h1m24 0h1m2 0h1m1 0h1M7 35.5h2m2 0h1m1 0h1m1 0h2m4 0h1m23 0h1m7 0h1m16 0h2m5 0h1M1 36.5h1m2 0h3m2 0h4m7 0h1m33 0h1m16 0h1m5 0h1m3 0h2M0 37.5h1m1 0h2m5 0h2m4 0h2m35 0h1m1 0h1m24 0h2M0 38.5h2m1 0h1m5 0h1m2 0h4m9 0h1m27 0h1m17 0h2m7 0h4M0 39.5h2m1 0h4m1 0h1m4 0h1m11 0h1m1 0h1m22 0h2m13 0h1m14 0h1m1 0h1m2 0h1M0 40.5h2m5 0h1m6 0h1m4 0h1m6 0h1m21 0h2m1 0h3m7 0h4m1 0h1M0 41.5h2m18 0h1m9 0h1m13 0h3m1 0h1m14 0h2M0 42.5h2m9 0h1m3 0h1m3 0h2m8 0h1m10 0h1m4 0h2m8 0h1m1 0h1m5 0h2m1 0h1M3 43.5h1m2 0h1m13 0h2m8 0h1m9 0h2m9 0h1m4 0h2M3 44.5h1m1 0h2m1 0h1m2 0h1m2 0h1m6 0h1m3 0h2m7 0h1m6 0h1m9 0h1M0 45.5h1m5 0h1m6 0h2m5 0h2m5 0h1m17 0h1m1 0h1m2 0h1m1 0h2m3 0h1m6 0h2"/><path stroke="#e0b5ab" d="M43 0.5h1m9 0h1M46 1.5h1m1 0h3m2 0h1M48 2.5h1m1 0h4M50 3.5h3M45 4.5h2m6 0h1M42 5.5h2m3 0h2m3 0h2M44 6.5h2m2 0h3m1 0h1M44 7.5h4m2 0h4M45 8.5h1m4 0h2M41 9.5h2m2 0h1m4 0h1M38 10.5h1m1 0h4M34 11.5h2M34 12.5h2m8 0h2M34 13.5h2M29 14.5h1m4 0h1m6 0h1M25 15.5h2m1 0h2m4 0h1m4 0h4m6 0h1M25 16.5h2m1 0h2m4 0h1m2 0h3m3 0h1m4 0h1m3 0h1m1 0h1M25 17.5h2m2 0h2m3 0h5m4 0h1m8 0h1m4 0h1M25 18.5h2m2 0h2m7 0h1m4 0h1m8 0h2m4 0h1M24 19.5h2m2 0h1m13 0h1M24 20.5h1m1 0h2m4 0h1m4 0h1m24 0h6M31 21.5h2m1 0h2m2 0h2m21 0h1m4 0h2M23 22.5h1m3 0h1m3 0h1m24 0h3m7 0h3M24 23.5h4m3 0h2m3 0h1m24 0h1m2 0h3M23 24.5h7m3 0h3m23 0h2m3 0h3M13 25.5h1m2 0h1m1 0h2m5 0h1m1 0h2m3 0h1m13 0h1m9 0h1m1 0h3m4 0h4M11 26.5h1m3 0h2m2 0h1m5 0h4m3 0h1m18 0h2m4 0h3m5 0h2m1 0h1M3 27.5h1m7 0h1m6 0h1m1 0h1m3 0h2m6 0h1m19 0h1m3 0h1m8 0h2M2 28.5h2m1 0h1m7 0h2m3 0h1m1 0h1m11 0h1m17 0h3m13 0h2m1 0h1M1 29.5h4m1 0h1m1 0h1m1 0h1m2 0h1m4 0h3m6 0h2m4 0h1m1 0h1m2 0h1m7 0h1m3 0h1m2 0h1m1 0h1m11 0h1M1 30.5h2m2 0h3m2 0h1m1 0h1m5 0h2m5 0h5m2 0h1m2 0h1m13 0h2m4 0h1m9 0h4M1 31.5h1m3 0h1m6 0h1m7 0h2m2 0h3m8 0h1m2 0h1m9 0h1m1 0h1m11 0h2m2 0h1m1 0h3M0 32.5h2m6 0h1m1 0h1m2 0h2m2 0h2m1 0h2m4 0h1m3 0h2m4 0h5m2 0h1m7 0h1m13 0h1m2 0h3M1 33.5h2m1 0h1m2 0h1m5 0h2m2 0h3m1 0h4m4 0h3m9 0h1m2 0h1m1 0h1m4 0h1m17 0h1M1 34.5h6m1 0h1m1 0h1m6 0h1m3 0h3m5 0h2m10 0h1m2 0h1m12 0h2m10 0h1m4 0h1M1 35.5h6m2 0h2m3 0h1m2 0h2m1 0h1m8 0h1m14 0h1m12 0h3m9 0h1m2 0h1m3 0h1M0 36.5h1m1 0h2m9 0h1m1 0h5m1 0h1m4 0h1m2 0h3m20 0h1m5 0h1m4 0h2m2 0h1m2 0h1m1 0h1m3 0h1M11 37.5h4m2 0h3m5 0h2m2 0h2m35 0h1m4 0h2m3 0h1m1 0h1m2 0h2M2 38.5h1m7 0h2m4 0h3m5 0h1m1 0h2m1 0h1m4 0h2m14 0h3m1 0h1m9 0h3m2 0h2m8 0h1M2 39.5h1m6 0h4m2 0h1m1 0h2m4 0h2m3 0h2m4 0h2m12 0h2m2 0h2m4 0h5m1 0h1m1 0h1m4 0h1m1 0h1m5 0h1m3 0h2M2 40.5h5m1 0h1m4 0h1m1 0h1m1 0h2m1 0h4m1 0h1m1 0h1m3 0h4m10 0h1m1 0h1m6 0h7m4 0h1m1 0h1m3 0h3m1 0h2m3 0h2M2 41.5h1m1 0h1m3 0h1m1 0h2m2 0h5m2 0h2m6 0h1m1 0h5m7 0h1m3 0h1m4 0h6m4 0h1m2 0h2m3 0h2m3 0h2M2 42.5h1m1 0h2m3 0h2m1 0h3m1 0h3m2 0h1m6 0h1m2 0h1m1 0h3m3 0h1m1 0h4m2 0h3m2 0h3m7 0h1m2 0h1m5 0h7m3 0h1m1 0h2M4 43.5h1m2 0h6m1 0h2m3 0h1m5 0h2m2 0h1m3 0h1m1 0h1m9 0h3m2 0h1m1 0h1m1 0h2m2 0h1m3 0h5m5 0h3m6 0h3M4 44.5h1m4 0h2m1 0h2m6 0h1m6 0h4m2 0h1m1 0h1m4 0h1m4 0h1m1 0h4m1 0h2m2 0h3m3 0h2m1 0h2m14 0h2M3 45.5h1m1 0h1m3 0h1m1 0h2m2 0h1m6 0h5m1 0h1m5 0h1m5 0h1m1 0h1m5 0h2m6 0h1m1 0h2m2 0h2m14 0h1"/><path stroke="#ddaba0" d="M44 0.5h1m4 0h4M47 1.5h1m3 0h2M47 2.5h1M43 4.5h2M44 5.5h3M46 6.5h2m5 0h1M35 14.5h1M35 15.5h2M35 16.5h2m3 0h3m10 0h1M39 17.5h2m1 0h1m10 0h1M39 18.5h1m2 0h1M26 19.5h2m10 0h1m2 0h1M40 20.5h1M33 21.5h1m28 0h4m2 0h1M32 22.5h1m2 0h1m25 0h5M33 23.5h3m20 0h1m1 0h1m3 0h2M30 24.5h3m23 0h1m1 0h1m2 0h1m1 0h1M17 25.5h1m2 0h5m4 0h1m27 0h1m5 0h2M14 26.5h1m2 0h2m1 0h1m3 0h1m4 0h1m30 0h1m1 0h3m2 0h1M2 27.5h1m9 0h1m1 0h1m2 0h1m5 0h1m2 0h6m19 0h1m5 0h8m2 0h2M22 28.5h4m1 0h5m23 0h1m4 0h3m2 0h1m2 0h1M7 29.5h1m6 0h1m7 0h5m2 0h4m1 0h1m16 0h2m6 0h4m2 0h1m2 0h1M3 30.5h2m3 0h2m4 0h1m5 0h4m6 0h2m1 0h2m18 0h1m2 0h4m2 0h3M2 31.5h2m5 0h2m3 0h1m7 0h2m3 0h1m1 0h6m14 0h1m1 0h1m2 0h3m2 0h1m7 0h1M2 32.5h3m4 0h1m12 0h2m3 0h3m2 0h2m1 0h1m12 0h1m1 0h1m1 0h1m9 0h1m3 0h2M0 33.5h1m2 0h1m4 0h2m10 0h1m4 0h4m3 0h2m2 0h3m1 0h1m2 0h1m3 0h1m2 0h1m1 0h2m3 0h3m3 0h2m2 0h2M0 34.5h1m8 0h1m8 0h3m3 0h1m3 0h1m2 0h2m1 0h2m7 0h1m2 0h1m4 0h4m1 0h1m2 0h1m8 0h1M0 35.5h1m18 0h1m2 0h5m1 0h1m1 0h3m2 0h1m6 0h2m2 0h1m5 0h1m1 0h1m1 0h1m3 0h1m2 0h2m2 0h2m4 0h1m1 0h1M14 36.5h1m10 0h1m1 0h2m3 0h2m10 0h5m6 0h3m1 0h1m5 0h2m2 0h1m5 0h1M20 37.5h1m3 0h1m2 0h2m2 0h1m1 0h3m1 0h1m4 0h10m3 0h4m4 0h3m1 0h4m2 0h3m1 0h1M23 38.5h1m4 0h1m4 0h1m8 0h3m2 0h3m7 0h5m5 0h2m4 0h1m1 0h2m1 0h1M16 39.5h1m2 0h1m2 0h1m7 0h4m4 0h3m2 0h1m3 0h1m6 0h1m1 0h2m5 0h1m3 0h4m4 0h2m1 0h1M9 40.5h4m3 0h1m7 0h1m3 0h3m4 0h1m2 0h3m1 0h3m1 0h1m23 0h1m3 0h1m4 0h1m2 0h4M3 41.5h1m1 0h1m1 0h1m1 0h1m2 0h2m11 0h4m7 0h2m2 0h3m15 0h2m1 0h1m5 0h3m2 0h3m2 0h1m2 0h2m1 0h3M3 42.5h1m2 0h3m13 0h1m2 0h3m4 0h1m3 0h3m19 0h1m2 0h1m5 0h4m7 0h1m1 0h1m1 0h1M13 43.5h1m2 0h3m3 0h3m2 0h2m2 0h1m5 0h1m1 0h1m2 0h1m1 0h1m3 0h2m3 0h1m5 0h1m7 0h5m3 0h4m1 0h1M15 44.5h1m1 0h3m2 0h3m17 0h1m1 0h1m1 0h1m7 0h2m3 0h1m4 0h1m2 0h4m2 0h8m2 0h1M4 45.5h1m5 0h1m6 0h3m9 0h2m2 0h1m1 0h1m8 0h1m9 0h2m4 0h2m4 0h1m3 0h1m6 0h1m1 0h3"/><path stroke="#dba394" d="M45 0.5h2m1 0h1M41 17.5h1M40 18.5h2M40 19.5h1M38 20.5h1M33 22.5h2M57 23.5h1M57 24.5h1m4 0h1M30 25.5h2m29 0h2M12 26.5h1m8 0h3m6 0h2m29 0h1M13 27.5h1m7 0h2M21 28.5h1m4 0h1m29 0h1m1 0h2m3 0h2M21 29.5h1m34 0h1m1 0h1m4 0h2M13 30.5h1m10 0h1m26 0h2m7 0h2M4 31.5h1m8 0h1m14 0h1m23 0h2m3 0h2m1 0h2M34 32.5h1m14 0h1m3 0h7M34 33.5h2m3 0h1m14 0h3m3 0h1m1 0h1m2 0h2M25 34.5h3m5 0h1m2 0h1m2 0h2m6 0h1m2 0h1m4 0h1m4 0h5m2 0h1M27 35.5h1m5 0h2m1 0h1m4 0h1m5 0h2m1 0h2m3 0h1m5 0h2m3 0h1m7 0h1M22 36.5h3m9 0h3m6 0h1m5 0h3m8 0h3m5 0h1m4 0h2M21 37.5h1m1 0h1m8 0h1m3 0h1m1 0h1m2 0h1m17 0h4M19 38.5h2m9 0h3m3 0h6m3 0h2m8 0h1m6 0h2m10 0h1m2 0h1M20 39.5h2m14 0h2m3 0h2m1 0h2m9 0h1m18 0h1m2 0h1M36 40.5h2m3 0h1m26 0h2m7 0h2M6 41.5h1m16 0h2m13 0h2m20 0h1m17 0h2m2 0h1M23 42.5h2m34 0h2m18 0h1m5 0h1M32 43.5h1m3 0h1m1 0h1m4 0h1m16 0h2m17 0h1m4 0h1M16 44.5h1m14 0h2m3 0h4m3 0h1m16 0h2m9 0h2M16 45.5h1m14 0h2m3 0h1m6 0h1m23 0h3m1 0h4m7 0h1"/><path stroke="#d89a89" d="M47 0.5h1M39 19.5h1M39 20.5h1M13 26.5h1M57 28.5h1M57 29.5h1M60 32.5h2M48 33.5h2m11 0h1M37 34.5h2m9 0h2m15 0h2M37 35.5h1m2 0h1m8 0h1m15 0h1M37 36.5h2m1 0h3M22 37.5h1m16 0h2M21 38.5h2m33 0h1M46 39.5h1M37 45.5h3m35 0h2m6 0h1"/><path stroke="#d5917d" d="M38 35.5h2M39 36.5h1M85 43.5h1M84 44.5h1M85 45.5h1"/><path stroke="#d28872" d="M85 44.5h1M84 45.5h1"/></g></g></g>
<use href="#coast" transform="matrix(0.62840,0,0,-1.13122,63.717,1592.666)" fill="none" stroke="#333" stroke-width="1.1"/>
<path d="M629.2 1267.5h0M531.9 1277.8h0M554.8 1277.8h0M612.1 1277.8h0M560.5 1288.1h0M583.5 1288.1h0M617.8 1288.1h0M629.2 1288.1h0M257.1 1298.4h0M509.0 1298.4h0M680.8 1298.4h0M274.3 1308.7h0M583.5 1308.7h0M606.3 1308.7h0M251.4 1329.3h0M583.5 1329.3h0M617.8 1329.3h0M663.6 1329.3h0M675.0 1329.3h0M686.5 1329.3h0M698.0 1329.3h0M234.2 1339.6h0M245.7 1339.6h0M291.5 1339.6h0M394.5 1339.6h0M531.9 1339.6h0M566.3 1339.6h0M577.7 1339.6h0M589.2 1339.6h0M669.3 1339.6h0M726.6 1339.6h0M228.5 1349.9h0M251.4 1349.9h0M262.9 1349.9h0M274.3 1349.9h0M285.8 1349.9h0M297.2 1349.9h0M354.4 1349.9h0M365.9 1349.9h0M377.4 1349.9h0M388.8 1349.9h0M411.7 1349.9h0M526.2 1349.9h0M594.9 1349.9h0M686.5 1349.9h0M698.0 1349.9h0M709.4 1349.9h0M234.2 1360.2h0M337.3 1360.2h0M451.8 1360.2h0M463.2 1360.2h0M474.7 1360.2h0M486.1 1360.2h0M497.6 1360.2h0M680.8 1360.2h0M715.1 1360.2h0M251.4 1370.5h0M285.8 1370.5h0M331.6 1370.5h0M343.0 1370.5h0M365.9 1370.5h0M388.8 1370.5h0M400.2 1370.5h0M411.7 1370.5h0M446.0 1370.5h0M457.5 1370.5h0M468.9 1370.5h0M480.4 1370.5h0M491.8 1370.5h0M503.3 1370.5h0M663.6 1370.5h0M709.4 1370.5h0M268.6 1380.8h0M280.0 1380.8h0M337.3 1380.8h0M348.7 1380.8h0M371.6 1380.8h0M383.1 1380.8h0M394.5 1380.8h0M406.0 1380.8h0M451.8 1380.8h0M463.2 1380.8h0M474.7 1380.8h0M486.1 1380.8h0M497.6 1380.8h0M509.0 1380.8h0M657.9 1380.8h0M251.4 1391.1h0M274.3 1391.1h0M285.8 1391.1h0M297.2 1391.1h0M343.0 1391.1h0M446.0 1391.1h0M457.5 1391.1h0M468.9 1391.1h0M480.4 1391.1h0M491.8 1391.1h0M503.3 1391.1h0M675.0 1391.1h0M686.5 1391.1h0M698.0 1391.1h0M234.2 1401.4h0M337.3 1401.4h0M360.2 1401.4h0M394.5 1401.4h0M406.0 1401.4h0M451.8 1401.4h0M463.2 1401.4h0M474.7 1401.4h0M486.1 1401.4h0M497.6 1401.4h0M509.0 1401.4h0M251.4 1411.7h0M262.9 1411.7h0M343.0 1411.7h0M388.8 1411.7h0M446.0 1411.7h0M457.5 1411.7h0M468.9 1411.7h0M480.4 1411.7h0M491.8 1411.7h0M503.3 1411.7h0M514.8 1411.7h0M234.2 1422.0h0M245.7 1422.0h0M257.1 1422.0h0M337.3 1422.0h0M348.7 1422.0h0M371.6 1422.0h0M383.1 1422.0h0M406.0 1422.0h0M417.4 1422.0h0M428.9 1422.0h0M451.8 1422.0h0M463.2 1422.0h0M474.7 1422.0h0M486.1 1422.0h0M497.6 1422.0h0M509.0 1422.0h0M228.5 1432.3h0M239.9 1432.3h0M251.4 1432.3h0M262.9 1432.3h0M331.6 1432.3h0M343.0 1432.3h0M377.4 1432.3h0M388.8 1432.3h0M400.2 1432.3h0M411.7 1432.3h0M423.1 1432.3h0M434.6 1432.3h0M446.0 1432.3h0M457.5 1432.3h0M468.9 1432.3h0M480.4 1432.3h0M491.8 1432.3h0M503.3 1432.3h0M514.8 1432.3h0M234.2 1442.6h0M245.7 1442.6h0M257.1 1442.6h0M394.5 1442.6h0M406.0 1442.6h0M417.4 1442.6h0M428.9 1442.6h0M440.3 1442.6h0M451.8 1442.6h0M463.2 1442.6h0M474.7 1442.6h0M486.1 1442.6h0M497.6 1442.6h0M509.0 1442.6h0M589.2 1442.6h0M600.6 1442.6h0M612.1 1442.6h0M623.5 1442.6h0M635.0 1442.6h0M646.4 1442.6h0M228.5 1452.9h0M239.9 1452.9h0M251.4 1452.9h0M262.9 1452.9h0M274.3 1452.9h0M388.8 1452.9h0M400.2 1452.9h0M411.7 1452.9h0M423.1 1452.9h0M434.6 1452.9h0M446.0 1452.9h0M457.5 1452.9h0M468.9 1452.9h0M480.4 1452.9h0M491.8 1452.9h0M503.3 1452.9h0M514.8 1452.9h0M526.2 1452.9h0M583.5 1452.9h0M594.9 1452.9h0M606.3 1452.9h0M617.8 1452.9h0M629.2 1452.9h0M640.7 1452.9h0M652.1 1452.9h0M234.2 1463.2h0M245.7 1463.2h0M257.1 1463.2h0M268.6 1463.2h0M280.0 1463.2h0M291.5 1463.2h0M383.1 1463.2h0M394.5 1463.2h0M406.0 1463.2h0M417.4 1463.2h0M428.9 1463.2h0M440.3 1463.2h0M451.8 1463.2h0M463.2 1463.2h0M474.7 1463.2h0M486.1 1463.2h0M497.6 1463.2h0M509.0 1463.2h0M520.5 1463.2h0M589.2 1463.2h0M600.6 1463.2h0M612.1 1463.2h0M623.5 1463.2h0M635.0 1463.2h0M646.4 1463.2h0M228.5 1473.5h0M239.9 1473.5h0M251.4 1473.5h0M262.9 1473.5h0M274.3 1473.5h0M285.8 1473.5h0M297.2 1473.5h0M365.9 1473.5h0M377.4 1473.5h0M388.8 1473.5h0M400.2 1473.5h0M411.7 1473.5h0M423.1 1473.5h0M434.6 1473.5h0M446.0 1473.5h0M457.5 1473.5h0M468.9 1473.5h0M480.4 1473.5h0M491.8 1473.5h0M503.3 1473.5h0M514.8 1473.5h0M526.2 1473.5h0M583.5 1473.5h0M594.9 1473.5h0M606.3 1473.5h0M617.8 1473.5h0M629.2 1473.5h0M640.7 1473.5h0M652.1 1473.5h0M234.2 1483.8h0M245.7 1483.8h0M257.1 1483.8h0M268.6 1483.8h0M280.0 1483.8h0M291.5 1483.8h0M337.3 1483.8h0M348.7 1483.8h0M360.2 1483.8h0M371.6 1483.8h0M383.1 1483.8h0M394.5 1483.8h0M406.0 1483.8h0M417.4 1483.8h0M428.9 1483.8h0M440.3 1483.8h0M451.8 1483.8h0M463.2 1483.8h0M474.7 1483.8h0M486.1 1483.8h0M497.6 1483.8h0M509.0 1483.8h0M520.5 1483.8h0M589.2 1483.8h0M600.6 1483.8h0M612.1 1483.8h0M623.5 1483.8h0M635.0 1483.8h0M646.4 1483.8h0M228.5 1494.1h0M239.9 1494.1h0M251.4 1494.1h0M262.9 1494.1h0M274.3 1494.1h0M285.8 1494.1h0M297.2 1494.1h0M308.6 1494.1h0M320.1 1494.1h0M331.6 1494.1h0M343.0 1494.1h0M354.4 1494.1h0M365.9 1494.1h0M377.4 1494.1h0M388.8 1494.1h0M400.2 1494.1h0M411.7 1494.1h0M423.1 1494.1h0M434.6 1494.1h0M446.0 1494.1h0M457.5 1494.1h0M468.9 1494.1h0M480.4 1494.1h0M491.8 1494.1h0M503.3 1494.1h0M514.8 1494.1h0M526.2 1494.1h0M583.5 1494.1h0M594.9 1494.1h0M606.3 1494.1h0M617.8 1494.1h0M629.2 1494.1h0M640.7 1494.1h0M234.2 1504.4h0M245.7 1504.4h0M257.1 1504.4h0M268.6 1504.4h0M280.0 1504.4h0M291.5 1504.4h0M302.9 1504.4h0M314.4 1504.4h0M325.8 1504.4h0M337.3 1504.4h0M348.7 1504.4h0M360.2 1504.4h0M371.6 1504.4h0M383.1 1504.4h0M394.5 1504.4h0M406.0 1504.4h0M417.4 1504.4h0M428.9 1504.4h0M440.3 1504.4h0M451.8 1504.4h0M509.0 1504.4h0M520.5 1504.4h0M531.9 1504.4h0M577.7 1504.4h0M589.2 1504.4h0M600.6 1504.4h0M612.1 1504.4h0M623.5 1504.4h0M635.0 1504.4h0M228.5 1514.7h0M239.9 1514.7h0M251.4 1514.7h0M262.9 1514.7h0M274.3 1514.7h0M285.8 1514.7h0M297.2 1514.7h0M308.6 1514.7h0M320.1 1514.7h0M331.6 1514.7h0M343.0 1514.7h0M354.4 1514.7h0M365.9 1514.7h0M377.4 1514.7h0M388.8 1514.7h0M400.2 1514.7h0M411.7 1514.7h0M423.1 1514.7h0M434.6 1514.7h0M446.0 1514.7h0M537.6 1514.7h0M583.5 1514.7h0M594.9 1514.7h0M606.3 1514.7h0M617.8 1514.7h0M629.2 1514.7h0M640.7 1514.7h0M675.0 1514.7h0M234.2 1525.0h0M302.9 1525.0h0M314.4 1525.0h0M325.8 1525.0h0M337.3 1525.0h0M348.7 1525.0h0M360.2 1525.0h0M371.6 1525.0h0M383.1 1525.0h0M394.5 1525.0h0M406.0 1525.0h0M417.4 1525.0h0M428.9 1525.0h0M440.3 1525.0h0M589.2 1525.0h0M600.6 1525.0h0M612.1 1525.0h0M623.5 1525.0h0M635.0 1525.0h0M646.4 1525.0h0M228.5 1535.3h0M251.4 1535.3h0M274.3 1535.3h0M285.8 1535.3h0M297.2 1535.3h0M308.6 1535.3h0M320.1 1535.3h0M331.6 1535.3h0M343.0 1535.3h0M354.4 1535.3h0M365.9 1535.3h0M377.4 1535.3h0M388.8 1535.3h0M400.2 1535.3h0M411.7 1535.3h0M423.1 1535.3h0M434.6 1535.3h0M537.6 1535.3h0M549.1 1535.3h0M583.5 1535.3h0M617.8 1535.3h0M629.2 1535.3h0M640.7 1535.3h0M652.1 1535.3h0M698.0 1535.3h0M234.2 1545.6h0M257.1 1545.6h0M280.0 1545.6h0M302.9 1545.6h0M314.4 1545.6h0M325.8 1545.6h0M337.3 1545.6h0M348.7 1545.6h0M360.2 1545.6h0M371.6 1545.6h0M383.1 1545.6h0M394.5 1545.6h0M406.0 1545.6h0M417.4 1545.6h0M428.9 1545.6h0M440.3 1545.6h0M543.4 1545.6h0M554.8 1545.6h0M623.5 1545.6h0M635.0 1545.6h0M646.4 1545.6h0M657.9 1545.6h0M228.5 1555.9h0M297.2 1555.9h0M308.6 1555.9h0M320.1 1555.9h0M331.6 1555.9h0M343.0 1555.9h0M354.4 1555.9h0M365.9 1555.9h0M377.4 1555.9h0M388.8 1555.9h0M400.2 1555.9h0M411.7 1555.9h0M423.1 1555.9h0M434.6 1555.9h0M446.0 1555.9h0M537.6 1555.9h0M549.1 1555.9h0M560.5 1555.9h0M572.0 1555.9h0M583.5 1555.9h0M617.8 1555.9h0M629.2 1555.9h0M640.7 1555.9h0M652.1 1555.9h0M663.6 1555.9h0M709.4 1555.9h0M234.2 1566.2h0M268.6 1566.2h0M280.0 1566.2h0M291.5 1566.2h0M302.9 1566.2h0M314.4 1566.2h0M325.8 1566.2h0M337.3 1566.2h0M348.7 1566.2h0M360.2 1566.2h0M371.6 1566.2h0M383.1 1566.2h0M394.5 1566.2h0M406.0 1566.2h0M417.4 1566.2h0M428.9 1566.2h0M440.3 1566.2h0M451.8 1566.2h0M520.5 1566.2h0M531.9 1566.2h0M543.4 1566.2h0M554.8 1566.2h0M566.3 1566.2h0M577.7 1566.2h0M589.2 1566.2h0M600.6 1566.2h0M612.1 1566.2h0M623.5 1566.2h0M635.0 1566.2h0M646.4 1566.2h0M657.9 1566.2h0M228.5 1576.5h0M251.4 1576.5h0M274.3 1576.5h0M285.8 1576.5h0M297.2 1576.5h0M308.6 1576.5h0M320.1 1576.5h0M331.6 1576.5h0M343.0 1576.5h0M354.4 1576.5h0M365.9 1576.5h0M377.4 1576.5h0M388.8 1576.5h0M400.2 1576.5h0M411.7 1576.5h0M423.1 1576.5h0M434.6 1576.5h0M446.0 1576.5h0M457.5 1576.5h0M514.8 1576.5h0M526.2 1576.5h0M537.6 1576.5h0M549.1 1576.5h0M560.5 1576.5h0M572.0 1576.5h0M583.5 1576.5h0M594.9 1576.5h0M606.3 1576.5h0M617.8 1576.5h0M629.2 1576.5h0M640.7 1576.5h0M652.1 1576.5h0M663.6 1576.5h0M234.2 1586.8h0M302.9 1586.8h0M314.4 1586.8h0M325.8 1586.8h0M337.3 1586.8h0M348.7 1586.8h0M360.2 1586.8h0M371.6 1586.8h0M383.1 1586.8h0M394.5 1586.8h0M406.0 1586.8h0M417.4 1586.8h0M428.9 1586.8h0M440.3 1586.8h0M451.8 1586.8h0M463.2 1586.8h0M474.7 1586.8h0M486.1 1586.8h0M497.6 1586.8h0M509.0 1586.8h0M520.5 1586.8h0M531.9 1586.8h0M543.4 1586.8h0M554.8 1586.8h0M566.3 1586.8h0M577.7 1586.8h0M589.2 1586.8h0M600.6 1586.8h0M612.1 1586.8h0M623.5 1586.8h0M635.0 1586.8h0M646.4 1586.8h0M657.9 1586.8h0M228.5 1597.1h0M297.2 1597.1h0M308.6 1597.1h0M320.1 1597.1h0M331.6 1597.1h0M343.0 1597.1h0M354.4 1597.1h0M365.9 1597.1h0M377.4 1597.1h0M388.8 1597.1h0M400.2 1597.1h0M411.7 1597.1h0M423.1 1597.1h0M434.6 1597.1h0M446.0 1597.1h0M457.5 1597.1h0M468.9 1597.1h0M480.4 1597.1h0M491.8 1597.1h0M503.3 1597.1h0M514.8 1597.1h0M526.2 1597.1h0M537.6 1597.1h0M549.1 1597.1h0M560.5 1597.1h0M572.0 1597.1h0M583.5 1597.1h0M594.9 1597.1h0M606.3 1597.1h0M617.8 1597.1h0M629.2 1597.1h0M640.7 1597.1h0M652.1 1597.1h0M663.6 1597.1h0M732.3 1597.1h0M234.2 1607.4h0M257.1 1607.4h0M268.6 1607.4h0M280.0 1607.4h0M291.5 1607.4h0M302.9 1607.4h0M314.4 1607.4h0M325.8 1607.4h0M337.3 1607.4h0M348.7 1607.4h0M360.2 1607.4h0M371.6 1607.4h0M383.1 1607.4h0M394.5 1607.4h0M406.0 1607.4h0M417.4 1607.4h0M428.9 1607.4h0M440.3 1607.4h0M451.8 1607.4h0M463.2 1607.4h0M474.7 1607.4h0M486.1 1607.4h0M497.6 1607.4h0M509.0 1607.4h0M520.5 1607.4h0M531.9 1607.4h0M543.4 1607.4h0M554.8 1607.4h0M566.3 1607.4h0M577.7 1607.4h0M589.2 1607.4h0M600.6 1607.4h0M612.1 1607.4h0M623.5 1607.4h0M635.0 1607.4h0M646.4 1607.4h0M657.9 1607.4h0M228.5 1617.7h0M239.9 1617.7h0M285.8 1617.7h0M297.2 1617.7h0M308.6 1617.7h0M320.1 1617.7h0M331.6 1617.7h0M343.0 1617.7h0M354.4 1617.7h0M365.9 1617.7h0M377.4 1617.7h0M388.8 1617.7h0M400.2 1617.7h0M411.7 1617.7h0M423.1 1617.7h0M434.6 1617.7h0M446.0 1617.7h0M457.5 1617.7h0M468.9 1617.7h0M480.4 1617.7h0M491.8 1617.7h0M503.3 1617.7h0M514.8 1617.7h0M526.2 1617.7h0M537.6 1617.7h0M549.1 1617.7h0M560.5 1617.7h0M572.0 1617.7h0M583.5 1617.7h0M594.9 1617.7h0M606.3 1617.7h0M617.8 1617.7h0M629.2 1617.7h0M640.7 1617.7h0M652.1 1617.7h0M663.6 1617.7h0M675.0 1617.7h0M234.2 1628.0h0M245.7 1628.0h0M257.1 1628.0h0M268.6 1628.0h0M280.0 1628.0h0M291.5 1628.0h0M302.9 1628.0h0M314.4 1628.0h0M325.8 1628.0h0M337.3 1628.0h0M348.7 1628.0h0M360.2 1628.0h0M371.6 1628.0h0M383.1 1628.0h0M394.5 1628.0h0M406.0 1628.0h0M417.4 1628.0h0M428.9 1628.0h0M440.3 1628.0h0M451.8 1628.0h0M463.2 1628.0h0M474.7 1628.0h0M486.1 1628.0h0M497.6 1628.0h0M509.0 1628.0h0M520.5 1628.0h0M531.9 1628.0h0M543.4 1628.0h0M554.8 1628.0h0M566.3 1628.0h0M577.7 1628.0h0M589.2 1628.0h0M600.6 1628.0h0M612.1 1628.0h0M623.5 1628.0h0M635.0 1628.0h0M646.4 1628.0h0M657.9 1628.0h0M228.5 1638.3h0M239.9 1638.3h0M251.4 1638.3h0M262.9 1638.3h0M274.3 1638.3h0M285.8 1638.3h0M297.2 1638.3h0M308.6 1638.3h0M320.1 1638.3h0M331.6 1638.3h0M343.0 1638.3h0M354.4 1638.3h0M365.9 1638.3h0M377.4 1638.3h0M388.8 1638.3h0M400.2 1638.3h0M411.7 1638.3h0M423.1 1638.3h0M434.6 1638.3h0M446.0 1638.3h0M457.5 1638.3h0M468.9 1638.3h0M480.4 1638.3h0M491.8 1638.3h0M503.3 1638.3h0M514.8 1638.3h0M526.2 1638.3h0M537.6 1638.3h0M549.1 1638.3h0M560.5 1638.3h0M572.0 1638.3h0M583.5 1638.3h0M594.9 1638.3h0M606.3 1638.3h0M617.8 1638.3h0M629.2 1638.3h0M640.7 1638.3h0M652.1 1638.3h0M663.6 1638.3h0M234.2 1648.6h0M245.7 1648.6h0M257.1 1648.6h0M268.6 1648.6h0M280.0 1648.6h0M291.5 1648.6h0M302.9 1648.6h0M314.4 1648.6h0M325.8 1648.6h0M337.3 1648.6h0M348.7 1648.6h0M360.2 1648.6h0M371.6 1648.6h0M383.1 1648.6h0M394.5 1648.6h0M406.0 1648.6h0M417.4 1648.6h0M428.9 1648.6h0M440.3 1648.6h0M451.8 1648.6h0M463.2 1648.6h0M474.7 1648.6h0M486.1 1648.6h0M497.6 1648.6h0M509.0 1648.6h0M520.5 1648.6h0M531.9 1648.6h0M543.4 1648.6h0M554.8 1648.6h0M566.3 1648.6h0M577.7 1648.6h0M589.2 1648.6h0M600.6 1648.6h0M612.1 1648.6h0M623.5 1648.6h0M635.0 1648.6h0M646.4 1648.6h0M657.9 1648.6h0M228.5 1658.9h0M239.9 1658.9h0M251.4 1658.9h0M262.9 1658.9h0M274.3 1658.9h0M285.8 1658.9h0M297.2 1658.9h0M308.6 1658.9h0M320.1 1658.9h0M331.6 1658.9h0M343.0 1658.9h0M354.4 1658.9h0M365.9 1658.9h0M377.4 1658.9h0M388.8 1658.9h0M400.2 1658.9h0M411.7 1658.9h0M423.1 1658.9h0M434.6 1658.9h0M446.0 1658.9h0M457.5 1658.9h0M468.9 1658.9h0M480.4 1658.9h0M491.8 1658.9h0M503.3 1658.9h0M514.8 1658.9h0M526.2 1658.9h0M537.6 1658.9h0M549.1 1658.9h0M560.5 1658.9h0M572.0 1658.9h0M583.5 1658.9h0M594.9 1658.9h0M606.3 1658.9h0M617.8 1658.9h0M629.2 1658.9h0M640.7 1658.9h0M652.1 1658.9h0M234.2 1669.2h0M245.7 1669.2h0M257.1 1669.2h0M268.6 1669.2h0M280.0 1669.2h0M291.5 1669.2h0M302.9 1669.2h0M314.4 1669.2h0M325.8 1669.2h0M337.3 1669.2h0M348.7 1669.2h0M360.2 1669.2h0M371.6 1669.2h0M383.1 1669.2h0M394.5 1669.2h0M406.0 1669.2h0M417.4 1669.2h0M428.9 1669.2h0M440.3 1669.2h0M451.8 1669.2h0M463.2 1669.2h0M474.7 1669.2h0M486.1 1669.2h0M497.6 1669.2h0M509.0 1669.2h0M520.5 1669.2h0M531.9 1669.2h0M543.4 1669.2h0M554.8 1669.2h0M566.3 1669.2h0M577.7 1669.2h0M589.2 1669.2h0M600.6 1669.2h0M228.5 1679.5h0M239.9 1679.5h0M251.4 1679.5h0M262.9 1679.5h0M274.3 1679.5h0M285.8 1679.5h0M297.2 1679.5h0M308.6 1679.5h0M320.1 1679.5h0M331.6 1679.5h0M343.0 1679.5h0M354.4 1679.5h0M365.9 1679.5h0M377.4 1679.5h0M388.8 1679.5h0M400.2 1679.5h0M411.7 1679.5h0M423.1 1679.5h0M434.6 1679.5h0M446.0 1679.5h0M457.5 1679.5h0M468.9 1679.5h0M480.4 1679.5h0M491.8 1679.5h0M503.3 1679.5h0M514.8 1679.5h0M526.2 1679.5h0M537.6 1679.5h0M549.1 1679.5h0M560.5 1679.5h0M572.0 1679.5h0M583.5 1679.5h0M594.9 1679.5h0M234.2 1689.8h0M245.7 1689.8h0M257.1 1689.8h0M268.6 1689.8h0M280.0 1689.8h0M291.5 1689.8h0M302.9 1689.8h0M314.4 1689.8h0M325.8 1689.8h0M337.3 1689.8h0M348.7 1689.8h0M360.2 1689.8h0M371.6 1689.8h0M383.1 1689.8h0M394.5 1689.8h0M406.0 1689.8h0M417.4 1689.8h0M428.9 1689.8h0M440.3 1689.8h0M451.8 1689.8h0M463.2 1689.8h0M474.7 1689.8h0M486.1 1689.8h0M497.6 1689.8h0M509.0 1689.8h0M520.5 1689.8h0M531.9 1689.8h0M543.4 1689.8h0M554.8 1689.8h0M566.3 1689.8h0M577.7 1689.8h0M589.2 1689.8h0M600.6 1689.8h0M228.5 1700.1h0M239.9 1700.1h0M251.4 1700.1h0M262.9 1700.1h0M274.3 1700.1h0M285.8 1700.1h0M297.2 1700.1h0M308.6 1700.1h0M320.1 1700.1h0M331.6 1700.1h0M343.0 1700.1h0M354.4 1700.1h0M365.9 1700.1h0M377.4 1700.1h0M388.8 1700.1h0M400.2 1700.1h0M411.7 1700.1h0M423.1 1700.1h0M434.6 1700.1h0M446.0 1700.1h0M457.5 1700.1h0M468.9 1700.1h0M480.4 1700.1h0M491.8 1700.1h0M503.3 1700.1h0M514.8 1700.1h0M526.2 1700.1h0M537.6 1700.1h0M549.1 1700.1h0M560.5 1700.1h0M572.0 1700.1h0M583.5 1700.1h0M594.9 1700.1h0M234.2 1710.4h0M245.7 1710.4h0M257.1 1710.4h0M268.6 1710.4h0M280.0 1710.4h0M291.5 1710.4h0M302.9 1710.4h0M314.4 1710.4h0M325.8 1710.4h0M337.3 1710.4h0M348.7 1710.4h0M360.2 1710.4h0M371.6 1710.4h0M383.1 1710.4h0M394.5 1710.4h0M406.0 1710.4h0M417.4 1710.4h0M428.9 1710.4h0M440.3 1710.4h0M451.8 1710.4h0M463.2 1710.4h0M474.7 1710.4h0M486.1 1710.4h0M497.6 1710.4h0M509.0 1710.4h0M520.5 1710.4h0M531.9 1710.4h0M543.4 1710.4h0M554.8 1710.4h0M566.3 1710.4h0M577.7 1710.4h0M589.2 1710.4h0M600.6 1710.4h0" stroke="#000" stroke-width="3.5" stroke-linecap="round" fill="none"/>
</g>
<rect x="227.1" y="1253.3" width="509.0" height="463.8" fill="none" stroke="#555" stroke-width="1.3"/>
<text x="252.2" y="1740.6" font-family="'Liberation Sans', Arial, sans-serif" font-size="16.5" font-weight="normal" text-anchor="middle" >30</text>
<text x="315.1" y="1740.6" font-family="'Liberation Sans', Arial, sans-serif" font-size="16.5" font-weight="normal" text-anchor="middle" >40</text>
<text x="377.9" y="1740.6" font-family="'Liberation Sans', Arial, sans-serif" font-size="16.5" font-weight="normal" text-anchor="middle" >50</text>
<text x="440.8" y="1740.6" font-family="'Liberation Sans', Arial, sans-serif" font-size="16.5" font-weight="normal" text-anchor="middle" >60</text>
<text x="503.6" y="1740.6" font-family="'Liberation Sans', Arial, sans-serif" font-size="16.5" font-weight="normal" text-anchor="middle" >70</text>
<text x="566.4" y="1740.6" font-family="'Liberation Sans', Arial, sans-serif" font-size="16.5" font-weight="normal" text-anchor="middle" >80</text>
<text x="629.3" y="1740.6" font-family="'Liberation Sans', Arial, sans-serif" font-size="16.5" font-weight="normal" text-anchor="middle" >90</text>
<text x="692.1" y="1740.6" font-family="'Liberation Sans', Arial, sans-serif" font-size="16.5" font-weight="normal" text-anchor="middle" >100</text>
<text x="221.1" y="1711.8" font-family="'Liberation Sans', Arial, sans-serif" font-size="16.5" font-weight="normal" text-anchor="end" >-10</text>
<text x="221.1" y="1655.2" font-family="'Liberation Sans', Arial, sans-serif" font-size="16.5" font-weight="normal" text-anchor="end" >-5</text>
<text x="221.1" y="1598.7" font-family="'Liberation Sans', Arial, sans-serif" font-size="16.5" font-weight="normal" text-anchor="end" >0</text>
<text x="221.1" y="1542.1" font-family="'Liberation Sans', Arial, sans-serif" font-size="16.5" font-weight="normal" text-anchor="end" >5</text>
<text x="221.1" y="1485.5" font-family="'Liberation Sans', Arial, sans-serif" font-size="16.5" font-weight="normal" text-anchor="end" >10</text>
<text x="221.1" y="1429.0" font-family="'Liberation Sans', Arial, sans-serif" font-size="16.5" font-weight="normal" text-anchor="end" >15</text>
<text x="221.1" y="1372.4" font-family="'Liberation Sans', Arial, sans-serif" font-size="16.5" font-weight="normal" text-anchor="end" >20</text>
<text x="221.1" y="1315.9" font-family="'Liberation Sans', Arial, sans-serif" font-size="16.5" font-weight="normal" text-anchor="end" >25</text>
<text x="221.1" y="1259.3" font-family="'Liberation Sans', Arial, sans-serif" font-size="16.5" font-weight="normal" text-anchor="end" >30</text>
<clipPath id="bxf"><rect x="1235.5" y="1250.0" width="503.9" height="464.8"/></clipPath>
<clipPath id="ocf"><use href="#oceanp" transform="matrix(0.62210,0,0,-1.13366,1073.754,1590.098)" clip-rule="evenodd"/></clipPath>
<g clip-path="url(#bxf)">
<g filter="url(#blB)"><g transform="matrix(6.2210,0,0,11.3366,1223.06,1227.33)" fill="none" stroke-width="1.04"><path stroke="#6da7c6" d="M49 3.5h1"/><path stroke="#7badc8" d="M48 3.5h1M49 4.5h1M15 37.5h1"/><path stroke="#88b4ca" d="M48 4.5h1m1 0h1M12 9.5h1M20 30.5h1M16 37.5h1M15 38.5h1M14 45.5h1"/><path stroke="#96bbcc" d="M50 3.5h1M10 6.5h1M10 7.5h3M11 8.5h2M11 9.5h1M50 14.5h1M50 15.5h1M47 17.5h1M28 22.5h2M26 23.5h2M43 25.5h1M42 31.5h1M14 35.5h1m12 0h1M16 36.5h1m10 0h1M20 37.5h2M15 45.5h1"/><path stroke="#a4c2d0" d="M46 0.5h1M48 2.5h2M47 3.5h1M78 4.5h2M9 5.5h1M11 6.5h1m1 0h1M13 7.5h1m29 0h1M2 8.5h1m40 0h1M7 12.5h2M51 14.5h1M47 16.5h1M41 17.5h1M61 19.5h1M21 21.5h1M27 22.5h1m2 0h1M26 24.5h1m16 0h1M35 26.5h1M47 27.5h2m4 0h1M53 28.5h1M19 29.5h2M19 30.5h1m1 0h1M10 31.5h1m9 0h1m22 0h1M9 32.5h2m13 0h1m17 0h1M9 33.5h1m13 0h1M4 34.5h1m52 0h1M15 35.5h2m9 0h1M15 36.5h1m4 0h1m5 0h1m1 0h1M14 37.5h1m7 0h2M16 38.5h1m4 0h2M16 43.5h1M16 44.5h1m29 0h1M13 45.5h1m8 0h1m28 0h1"/><path stroke="#b2cad5" d="M47 0.5h1M13 1.5h1m32 0h1m2 0h2M3 2.5h1m9 0h1m32 0h2m2 0h1M51 4.5h1M10 5.5h1m33 0h1m33 0h1M9 6.5h1m2 0h1m31 0h1M13 8.5h1m28 0h1M2 9.5h1M4 10.5h1m6 0h2M10 11.5h1M52 14.5h1M49 15.5h1m1 0h1M42 17.5h1m14 0h1M40 18.5h2m5 0h2m8 0h1M62 19.5h1M61 20.5h1M22 21.5h1m29 0h1M24 22.5h1m9 0h1m17 0h1M25 23.5h1m2 0h2m4 0h1M27 24.5h1M48 26.5h1m9 0h1m1 0h2M15 27.5h1m19 0h1m16 0h1m5 0h1M9 28.5h1m2 0h1m2 0h2m18 0h1m16 0h1M12 29.5h1m8 0h2m4 0h1M12 30.5h1m14 0h2m13 0h1M8 31.5h2m1 0h2m8 0h1m9 0h2m25 0h2M8 32.5h1m3 0h1m10 0h1m7 0h1m11 0h1M4 33.5h1m3 0h1m1 0h1m13 0h1m5 0h2m6 0h1M3 34.5h1m1 0h1m8 0h2m10 0h1m5 0h2m4 0h1M4 35.5h2m32 0h1m18 0h1M14 36.5h1m2 0h1m1 0h1m31 0h1M17 37.5h1m1 0h1m4 0h6m22 0h1M14 38.5h1m8 0h3M18 40.5h1M71 41.5h2M25 42.5h2m5 0h1m25 0h1M29 43.5h1M14 44.5h2m6 0h1m6 0h1M0 45.5h1m20 0h1m10 0h2m12 0h1m3 0h1m23 0h1"/><path stroke="#c0d2da" d="M25 0.5h2m18 0h1m4 0h1M3 1.5h2m7 0h1m34 0h1M4 2.5h1m6 0h2m1 0h1M46 3.5h1m4 0h1M6 4.5h3m38 0h1M13 5.5h1m34 0h3m28 0h1M14 6.5h1m28 0h1M9 7.5h1M1 8.5h1m1 0h1m6 0h1m38 0h1M1 9.5h1m8 0h1m2 0h1M5 10.5h1m4 0h1M6 11.5h1m4 0h1m38 0h2M9 12.5h1m35 0h2M7 13.5h2m41 0h2M49 14.5h1m3 0h1M44 15.5h2m2 0h1M46 16.5h1m1 0h1m8 0h1M40 17.5h1m2 0h1m2 0h1m1 0h1m3 0h1m5 0h1M42 18.5h2m5 0h4M51 19.5h2m4 0h1m1 0h2m2 0h1M41 20.5h1m10 0h1m6 0h2M23 21.5h1m3 0h2m1 0h2m21 0h1m10 0h1M22 22.5h2m1 0h2m4 0h1m3 0h1m12 0h1m4 0h1M30 23.5h1m2 0h1m18 0h1M33 24.5h2m7 0h1m1 0h1m6 0h2m26 0h1M17 25.5h1m5 0h1m11 0h1m8 0h1m6 0h1m8 0h2m17 0h2M5 26.5h1m6 0h1m5 0h1m15 0h1m1 0h1m6 0h1m5 0h1m6 0h2m1 0h1M7 27.5h3m6 0h1m1 0h2m5 0h2m7 0h1m14 0h1m9 0h1M7 28.5h2m1 0h2m7 0h1m2 0h1m3 0h2m8 0h1m21 0h1M2 29.5h2m4 0h4m4 0h2m6 0h1m1 0h1m1 0h1m6 0h1m17 0h1M3 30.5h1m4 0h4m1 0h1m2 0h2m4 0h1m11 0h2m7 0h1m14 0h1M13 31.5h1m5 0h1m2 0h3m9 0h1M7 32.5h1m3 0h1m1 0h1m11 0h1m6 0h1m1 0h2m2 0h1m12 0h1m7 0h1M3 33.5h1m1 0h1m5 0h4m10 0h2m2 0h1m2 0h2m17 0h1m5 0h1M8 34.5h2m6 0h1m4 0h2m4 0h1m6 0h1m4 0h1m18 0h1m22 0h1M13 35.5h1m3 0h1m2 0h1m7 0h1m4 0h3m1 0h1m1 0h1m10 0h2m29 0h1M18 36.5h1m2 0h1m3 0h1m3 0h1m4 0h1m15 0h1M18 37.5h1m18 0h1m13 0h1M26 38.5h1m25 0h1m28 0h1M24 39.5h1m12 0h1m43 0h1M3 40.5h1m15 0h1M2 41.5h2m27 0h2m16 0h1m8 0h2M24 42.5h1m6 0h1m27 0h1m11 0h3M0 43.5h1m14 0h1m9 0h1m6 0h1M32 44.5h1m9 0h1M42 45.5h1m17 0h1m12 0h1"/><path stroke="#cedadf" d="M12 0.5h1m2 0h1m8 0h1m14 0h2m32 0h1M14 1.5h1m3 0h1m29 0h1m2 0h1M0 2.5h1m1 0h1m2 0h1M2 3.5h2M4 4.5h1m4 0h1m34 0h1m7 0h1M4 5.5h1m6 0h1m2 0h1m28 0h1m3 0h1m3 0h1M4 6.5h1m47 0h1M1 7.5h2m1 0h1m9 0h1m27 0h1m1 0h1m7 0h2M14 8.5h1M3 9.5h3m36 0h1m6 0h1M50 10.5h2m19 0h2M4 11.5h2m1 0h1m1 0h1m31 0h2m2 0h2M6 12.5h1m3 0h1m18 0h1m11 0h1M45 13.5h2m5 0h2M45 14.5h1M43 15.5h1m2 0h2m4 0h1M43 16.5h2m6 0h1m4 0h1m1 0h3M51 17.5h1m1 0h1m20 0h1m3 0h2M46 18.5h1m11 0h1m3 0h2M40 19.5h3m5 0h2m5 0h2m1 0h1m5 0h1M21 20.5h1m4 0h1m15 0h1m8 0h1m1 0h1m8 0h1m1 0h1M17 21.5h1m6 0h1m1 0h1m2 0h1m11 0h2m8 0h1m2 0h1M16 22.5h2m3 0h1m11 0h1m10 0h4m1 0h3m2 0h1M14 23.5h1m9 0h1m6 0h2m2 0h1m2 0h2m2 0h3m1 0h1m4 0h1m13 0h1M18 24.5h1m6 0h1m2 0h4m6 0h2m16 0h1m7 0h2m14 0h1M12 25.5h1m5 0h1m10 0h1m4 0h1m7 0h1m5 0h1m3 0h1m1 0h6m4 0h1m16 0h1M6 26.5h2m1 0h3m7 0h1m4 0h3m10 0h2m3 0h1m4 0h1m3 0h2m2 0h1m8 0h1M4 27.5h2m4 0h3m1 0h1m2 0h1m6 0h1m2 0h1m8 0h1m9 0h1m7 0h4m2 0h1m3 0h1M2 28.5h1m1 0h2m11 0h1m2 0h2m1 0h3m2 0h2m4 0h1m12 0h2m1 0h2m2 0h1m4 0h1m4 0h1M7 29.5h1m10 0h1m4 0h1m1 0h1m3 0h1m4 0h1m1 0h1m4 0h1m8 0h3m1 0h1m23 0h2M2 30.5h1m21 0h1m1 0h1m5 0h2m7 0h1m37 0h2M3 31.5h3m1 0h1m19 0h2m6 0h1m5 0h1m9 0h1m2 0h1m2 0h1m2 0h1M4 32.5h2m8 0h1m1 0h1m5 0h1m3 0h1m2 0h2m6 0h1m14 0h2m4 0h1m20 0h1M7 33.5h1m7 0h3m4 0h1m11 0h2m1 0h1m4 0h2m6 0h1m1 0h1m5 0h1M2 34.5h1m3 0h2m2 0h1m2 0h1m3 0h1m2 0h1m2 0h1m7 0h1m8 0h1m9 0h2m4 0h1m23 0h1M3 35.5h1m15 0h1m1 0h2m9 0h1m7 0h1m8 0h1m6 0h1m1 0h1m23 0h1M5 36.5h2m1 0h1m2 0h1m1 0h1m8 0h3m8 0h1m1 0h1m1 0h1m6 0h1m11 0h2m1 0h2M8 37.5h1m2 0h1m18 0h1m3 0h2m17 0h4m14 0h1M13 38.5h1m6 0h1m6 0h3m7 0h1m13 0h1m1 0h2m24 0h2m1 0h1M8 39.5h2m5 0h1m5 0h1m3 0h1m10 0h1M2 40.5h1m7 0h2m8 0h1m4 0h1m5 0h1m3 0h1m11 0h1M11 41.5h2m5 0h4m3 0h1m24 0h1m4 0h3m2 0h1m12 0h1M0 42.5h1m1 0h1m9 0h1m3 0h1m4 0h1m1 0h1m5 0h2m18 0h1m5 0h1m1 0h1M14 43.5h1m2 0h1m5 0h2m1 0h1m3 0h2m26 0h2m4 0h1M13 44.5h1m3 0h1m3 0h1m1 0h1m7 0h1m1 0h1m7 0h1m18 0h2m2 0h1M9 45.5h2m5 0h1m3 0h1m2 0h1m5 0h1m1 0h1m9 0h1m10 0h1m6 0h1m1 0h1m13 0h1"/><path stroke="#dce1e4" d="M3 0.5h1m5 0h1m3 0h2m3 0h2m3 0h1m7 0h1m16 0h2m1 0h1m20 0h1M0 1.5h1m4 0h1m3 0h1m1 0h1m5 0h1m1 0h1m5 0h1m19 0h1M9 2.5h2m6 0h1m27 0h1m5 0h1M4 3.5h5m2 0h1m1 0h2m29 0h2m6 0h1m17 0h1m7 0h1M3 4.5h1m1 0h1m4 0h1m32 0h1m33 0h1m2 0h1M8 5.5h1m3 0h1m2 0h1m29 0h2m5 0h1m24 0h1M8 6.5h1m6 0h1m31 0h1m3 0h1m1 0h1M0 7.5h1m2 0h1m4 0h1m8 0h1m12 0h1m20 0h1m2 0h1M0 8.5h1m3 0h1m33 0h2m4 0h1m3 0h1m1 0h1m2 0h2M9 9.5h1m28 0h1m4 0h1m4 0h1m8 0h1m13 0h2M3 10.5h1m5 0h1m17 0h2m13 0h1m6 0h1m8 0h1M8 11.5h1m3 0h1m15 0h2m5 0h3m11 0h1m2 0h1m18 0h1M11 12.5h2m17 0h1m3 0h2m4 0h1m6 0h1m3 0h1M9 13.5h2m17 0h2m2 0h1m8 0h1m12 0h1M44 14.5h1m1 0h1m7 0h1M53 15.5h1M8 16.5h1m32 0h2m2 0h1m3 0h2m1 0h2m20 0h1m4 0h1M44 17.5h1m4 0h2m5 0h1m2 0h1m20 0h1M44 18.5h1m8 0h1m2 0h1m2 0h3m2 0h1m12 0h2m2 0h1M11 19.5h1m14 0h2m19 0h1m2 0h1m2 0h2M22 20.5h1m4 0h1m3 0h1m8 0h1m13 0h2m2 0h1m4 0h1M18 21.5h1m1 0h1m4 0h1m6 0h1m1 0h2m7 0h8m4 0h1m2 0h1m2 0h3M14 22.5h1m17 0h1m9 0h2m11 0h1m1 0h1m6 0h2M23 23.5h1m21 0h1m1 0h1m2 0h1m2 0h1m2 0h1m7 0h1m14 0h2M14 24.5h1m2 0h1m1 0h1m12 0h1m2 0h1m9 0h1m1 0h1m2 0h1m2 0h1m1 0h1m25 0h1M5 25.5h3m3 0h1m3 0h2m2 0h4m1 0h3m1 0h1m1 0h1m5 0h1m1 0h1m8 0h1m2 0h1m14 0h1M4 26.5h1m3 0h1m6 0h3m2 0h2m1 0h1m26 0h1m2 0h2m7 0h2m1 0h2m13 0h2M1 27.5h1m4 0h1m13 0h2m6 0h3m6 0h1m4 0h2m6 0h2m9 0h1m1 0h1M1 28.5h1m1 0h1m2 0h1m6 0h2m3 0h1m11 0h1m1 0h2m3 0h1m11 0h1m5 0h1m1 0h1m2 0h1m17 0h2m1 0h2M1 29.5h1m2 0h2m7 0h1m1 0h1m16 0h2m6 0h1m8 0h1m7 0h2m4 0h1m13 0h1m2 0h1M1 30.5h1m2 0h1m2 0h1m10 0h1m4 0h1m7 0h1m21 0h2m2 0h1m1 0h1m2 0h2m13 0h1M16 31.5h2m7 0h2m2 0h1m3 0h1m3 0h2m40 0h1m3 0h1M3 32.5h1m2 0h1m8 0h1m1 0h1m2 0h2m5 0h2m4 0h1m2 0h1m4 0h1m8 0h1m3 0h1m2 0h1m20 0h1m4 0h3M2 33.5h1m3 0h1m11 0h1m2 0h1m5 0h1m11 0h1m4 0h1m14 0h1m5 0h1m12 0h4M0 34.5h2m9 0h2m5 0h1m5 0h2m3 0h2m4 0h1m1 0h1m11 0h1m2 0h1m24 0h1m4 0h1M2 35.5h1m3 0h1m3 0h2m6 0h1m4 0h1m1 0h1m3 0h1m1 0h1m4 0h1m11 0h1m12 0h1m15 0h1m2 0h1m2 0h1M7 36.5h1m4 0h1m18 0h1m6 0h1m1 0h2m6 0h2m2 0h1m2 0h1m2 0h1m7 0h1m14 0h2M2 37.5h1m10 0h1m19 0h1m2 0h1m1 0h1m11 0h1m6 0h1m1 0h1m5 0h1m4 0h1m1 0h1m1 0h1m4 0h1m1 0h2M2 38.5h2m4 0h1m8 0h1m12 0h1m5 0h1m1 0h1m4 0h1m11 0h1m15 0h1m6 0h1M2 39.5h3m5 0h2m1 0h1m6 0h1m1 0h2m14 0h1m3 0h2m3 0h1m3 0h2m27 0h1m1 0h1M4 40.5h1m3 0h2m14 0h1m9 0h1m1 0h2m4 0h2m4 0h2m1 0h1m7 0h1m20 0h1M1 41.5h1m20 0h1m3 0h1m3 0h1m4 0h1m7 0h1m4 0h1m2 0h1m9 0h1m8 0h1M3 42.5h1m7 0h1m1 0h1m1 0h1m1 0h2m1 0h1m1 0h1m10 0h1m9 0h1m12 0h1M1 43.5h2m10 0h1m7 0h2m5 0h1m4 0h1m8 0h2m2 0h1m18 0h1m9 0h2M0 44.5h2m26 0h1m1 0h1m9 0h1m9 0h1m8 0h1m5 0h1m8 0h1M1 45.5h1m10 0h1m17 0h1m3 0h3m8 0h1m1 0h1m15 0h1m20 0h1"/><path stroke="#eae9e9" d="M0 0.5h1m3 0h1m3 0h1m7 0h2m9 0h1m4 0h1m11 0h1m7 0h1m28 0h1M2 1.5h1m5 0h1m1 0h1m4 0h2m9 0h1m4 0h1m41 0h1M6 2.5h3m7 0h1m1 0h3M0 3.5h1m8 0h2m1 0h1m49 0h1m8 0h1m5 0h1m1 0h1M11 4.5h1m1 0h2m26 0h1m3 0h2m17 0h1m4 0h2M5 5.5h3m17 0h1m1 0h2m35 0h1m4 0h1M1 6.5h1m1 0h1m1 0h1m10 0h2m6 0h1m5 0h2m13 0h2m3 0h1m17 0h1M5 7.5h2m8 0h2m10 0h2m2 0h1m18 0h1M5 8.5h3m1 0h1m5 0h2m11 0h1m12 0h1m9 0h2m4 0h2M0 9.5h1m7 0h1m5 0h1m8 0h1m3 0h2m10 0h1m4 0h1m5 0h2m6 0h1m14 0h1m1 0h2M1 10.5h2m3 0h1m6 0h1m10 0h1m1 0h1m2 0h2m6 0h1m2 0h2m3 0h1m6 0h1m4 0h1M30 11.5h1m9 0h1m2 0h2m2 0h1m16 0h2m6 0h1M28 12.5h1m13 0h1m7 0h1m1 0h3m9 0h1m6 0h1M11 13.5h2m20 0h1m6 0h1m3 0h1M8 14.5h1m12 0h1m5 0h2m14 0h1m3 0h2m32 0h1M8 15.5h1m19 0h1m13 0h1m17 0h1M2 16.5h1m6 0h1m29 0h2m14 0h1m10 0h1m2 0h1m3 0h1m1 0h1m2 0h1m5 0h1M3 17.5h1m4 0h1m6 0h2m28 0h1m8 0h1m5 0h1m5 0h2m5 0h1m1 0h1m5 0h1M11 18.5h1m33 0h1m8 0h2m18 0h2m4 0h1M10 19.5h1m1 0h1m26 0h1m3 0h2m1 0h1m34 0h3M20 20.5h1m2 0h1m1 0h1m4 0h1m1 0h1m6 0h1m4 0h2m1 0h1m8 0h2m26 0h1M16 21.5h1m16 0h1m6 0h1m15 0h2m1 0h2m4 0h1M15 22.5h1m2 0h1m1 0h1m15 0h1m4 0h1m14 0h1m1 0h1m2 0h1m1 0h1m14 0h1M3 23.5h2m10 0h4m21 0h2m6 0h1m5 0h2m1 0h1m5 0h1m2 0h1m11 0h1m2 0h1M0 24.5h1m3 0h2m6 0h1m2 0h2m3 0h1m2 0h1m16 0h2m4 0h1m1 0h1m5 0h1m2 0h1m2 0h1m2 0h1m5 0h1m8 0h1M8 25.5h3m2 0h2m12 0h1m3 0h3m3 0h1m1 0h1m9 0h1m3 0h1m8 0h2m2 0h1m2 0h1m8 0h1m6 0h1M13 26.5h2m12 0h1m1 0h2m2 0h1m10 0h1m24 0h1m9 0h1m4 0h2M13 27.5h1m8 0h2m7 0h3m4 0h1m26 0h1m5 0h2m5 0h1m2 0h2M31 28.5h1m10 0h2m12 0h1m6 0h1m7 0h2m4 0h1m2 0h1m2 0h1M6 29.5h1m30 0h1m4 0h1m12 0h2m2 0h1m4 0h1m16 0h2M5 30.5h1m8 0h2m9 0h1m3 0h1m6 0h3m1 0h1m5 0h1m3 0h3m3 0h1m21 0h1m2 0h1M2 31.5h1m3 0h1m7 0h1m15 0h1m15 0h1m3 0h1m1 0h2m7 0h2m4 0h1m1 0h1m4 0h4m2 0h3m2 0h1M19 32.5h1m27 0h1m12 0h1m4 0h1m14 0h2M0 33.5h2m18 0h1m7 0h1m7 0h1m3 0h2m5 0h1m1 0h1m3 0h1m2 0h1m3 0h1m3 0h1m12 0h1M19 34.5h1m8 0h1m7 0h1m8 0h4m4 0h1m1 0h1m4 0h2m16 0h1m4 0h1M1 35.5h1m6 0h2m2 0h1m28 0h1m2 0h1m7 0h1m6 0h2m5 0h2m10 0h2M2 36.5h1m1 0h1m4 0h2m19 0h1m1 0h1m3 0h1m2 0h1m2 0h2m17 0h1m3 0h1m5 0h2m3 0h1m2 0h2m2 0h1M1 37.5h1m3 0h3m2 0h1m1 0h1m18 0h1m12 0h1m1 0h1m11 0h1m1 0h1m2 0h1m2 0h1m2 0h1m3 0h1m1 0h1m2 0h1m1 0h1m2 0h1M9 38.5h4m18 0h1m3 0h1m6 0h1m7 0h1m6 0h3m5 0h1m6 0h1m10 0h1M12 39.5h1m1 0h1m1 0h1m1 0h1m7 0h1m3 0h2m2 0h2m17 0h1m11 0h1m13 0h1M12 40.5h1m8 0h1m8 0h1m1 0h2m4 0h4m2 0h1m5 0h1m1 0h1m4 0h2m9 0h5m6 0h1m1 0h1M0 41.5h1m9 0h1m2 0h1m3 0h1m5 0h2m8 0h2m1 0h1m7 0h1M1 42.5h1m12 0h1m4 0h1m7 0h1m16 0h1m3 0h1m1 0h1m9 0h2m2 0h1m5 0h1m3 0h2M3 43.5h1m3 0h1m4 0h1m5 0h1m8 0h1m6 0h1m4 0h1m7 0h3m7 0h1m2 0h2m12 0h1M2 44.5h2m4 0h2m2 0h1m5 0h1m15 0h1m4 0h1m3 0h1m1 0h1m1 0h1m3 0h2m22 0h2M2 45.5h3m12 0h1m1 0h1m8 0h1m11 0h1m2 0h2m4 0h1m5 0h4m5 0h1m7 0h1m10 0h1m1 0h1"/><path stroke="#efe8e6" d="M1 0.5h2m8 0h1m8 0h1m1 0h1m7 0h1m12 0h1m9 0h2m3 0h1m23 0h1M1 1.5h1m4 0h2m12 0h1m3 0h1m2 0h2m3 0h1m6 0h1m4 0h1m7 0h2m18 0h1m1 0h1m8 0h2M1 2.5h1m13 0h1m13 0h5m10 0h1m7 0h2m8 0h1m11 0h1m3 0h1m5 0h1M1 3.5h1m18 0h1m8 0h1m3 0h1m5 0h1m2 0h2m9 0h1m15 0h1m2 0h1M2 4.5h1m25 0h1m13 0h1m10 0h1m11 0h1m6 0h2M3 5.5h1m12 0h2m6 0h1m1 0h1m4 0h1m21 0h1m11 0h1m2 0h1m11 0h1M0 6.5h1m5 0h1m13 0h1m4 0h3m7 0h1m12 0h1m5 0h2m13 0h1m6 0h1M7 7.5h1m10 0h4m7 0h1m11 0h1m6 0h2m5 0h1m12 0h1m3 0h1M8 8.5h1m8 0h1m9 0h1m2 0h3m4 0h1m2 0h1m15 0h1m7 0h1m3 0h1m4 0h5M6 9.5h2m21 0h2m6 0h1m2 0h2m10 0h3m1 0h1m17 0h1m2 0h5M7 10.5h2m14 0h1m11 0h2m1 0h2m3 0h2m3 0h1m6 0h2m2 0h1m3 0h4m3 0h1m2 0h1m3 0h1m2 0h2M3 11.5h1m20 0h1m13 0h2m8 0h1m9 0h1m7 0h1M31 12.5h3m2 0h1m2 0h1m4 0h1m10 0h1m9 0h1m6 0h1M20 13.5h1m9 0h2m2 0h1m7 0h2m3 0h1m1 0h1m5 0h1m15 0h1M9 14.5h1m1 0h2m5 0h3m8 0h1m2 0h1m6 0h4m12 0h1m24 0h1M2 15.5h1m6 0h1m7 0h2m2 0h1m2 0h1m2 0h1m11 0h3m12 0h6m4 0h2m8 0h2m3 0h1M3 16.5h1m8 0h1m4 0h1m14 0h2m4 0h1m15 0h1m6 0h1m2 0h2m1 0h2m11 0h1m1 0h2m1 0h1M2 17.5h1m1 0h2m3 0h1m1 0h1m2 0h1m2 0h1m21 0h1m15 0h1m5 0h1m1 0h3m2 0h2m7 0h1m4 0h4M3 18.5h3m4 0h1m15 0h1m12 0h1m25 0h1m10 0h1m2 0h1m2 0h1M13 19.5h2m6 0h1m6 0h1m16 0h1m31 0h1m6 0h1M11 20.5h2m1 0h1m2 0h3m4 0h1m3 0h2m13 0h1m2 0h1m1 0h3m17 0h2m13 0h1M14 21.5h1m4 0h1m16 0h1m33 0h2M3 22.5h1m33 0h4m18 0h2m1 0h1m13 0h2m1 0h1m1 0h1M5 23.5h1m5 0h1m1 0h1m5 0h4m13 0h2m11 0h1m8 0h1m13 0h2m1 0h2m5 0h1m2 0h1M6 24.5h4m1 0h1m1 0h1m7 0h2m1 0h1m11 0h2m20 0h2m1 0h2m3 0h3m6 0h1m6 0h1M4 25.5h1m40 0h1m21 0h2m13 0h1M22 26.5h1m5 0h1m2 0h2m6 0h2m5 0h1m23 0h3m5 0h1m3 0h2M0 27.5h1m1 0h2m40 0h2m16 0h1m7 0h1m6 0h1m1 0h2m2 0h1M0 28.5h1m40 0h1m4 0h1m14 0h1m8 0h1M0 29.5h1m13 0h1m15 0h2m11 0h1m4 0h1m13 0h1m9 0h1m10 0h1M0 30.5h1m5 0h1m32 0h1m4 0h1m2 0h1m1 0h1m5 0h1m4 0h2m2 0h1m17 0h2m1 0h1M15 31.5h1m2 0h1m17 0h1m3 0h1m3 0h1m2 0h1m7 0h2m6 0h1m2 0h1m1 0h1m1 0h1m7 0h1m5 0h1M2 32.5h1m15 0h1m27 0h1m2 0h1m6 0h1m7 0h1m4 0h1m4 0h2m1 0h1m4 0h1M19 33.5h1m25 0h2m1 0h1m5 0h2m10 0h1m15 0h3M41 34.5h1m1 0h2m9 0h1m4 0h1m5 0h3m11 0h1M0 35.5h1m6 0h1m16 0h1m5 0h1m12 0h1m1 0h3m5 0h3m15 0h2m3 0h1M1 36.5h1m1 0h1m41 0h1m1 0h1m5 0h2m7 0h2m3 0h1m2 0h1m3 0h2m1 0h2M3 37.5h1m5 0h1m22 0h1m6 0h5m1 0h1m1 0h1m1 0h1m12 0h1m1 0h1m11 0h1M1 38.5h1m2 0h1m13 0h2m13 0h2m9 0h1m11 0h1m3 0h1m5 0h1m3 0h1m3 0h2m8 0h1M1 39.5h1m5 0h1m11 0h1m8 0h2m3 0h1m5 0h3m2 0h1m3 0h3m3 0h1m1 0h3m7 0h1m1 0h2m1 0h2m1 0h2m2 0h1m4 0h1M1 40.5h1m5 0h1m5 0h3m1 0h1m4 0h2m2 0h1m19 0h1m6 0h1m2 0h1m3 0h2m2 0h1M4 41.5h1m1 0h1m7 0h1m1 0h1m10 0h1m1 0h1m9 0h2m1 0h1m9 0h1m9 0h3m4 0h1m9 0h3M6 42.5h1m21 0h1m5 0h3m2 0h1m14 0h1m7 0h2m12 0h1m4 0h1M8 43.5h1m2 0h1m7 0h2m19 0h1m15 0h1m5 0h2m7 0h1m1 0h1M4 44.5h1m2 0h1m2 0h1m8 0h2m3 0h1m1 0h2m7 0h2m12 0h1m3 0h1m4 0h1m3 0h2m9 0h1m9 0h2M8 45.5h1m2 0h1m6 0h1m7 0h1m10 0h1m1 0h1m22 0h1m2 0h1m14 0h1m1 0h1"/><path stroke="#ecdeda" d="M5 0.5h1m1 0h1m2 0h1m10 0h1m6 0h1m12 0h1m13 0h3m1 0h2m2 0h3m8 0h1m4 0h2m2 0h2M23 1.5h1m5 0h2m7 0h1m4 0h1m10 0h1m8 0h2m16 0h2M21 2.5h1m3 0h2m1 0h1m9 0h1m4 0h1m10 0h1m8 0h1m6 0h4m1 0h1m1 0h1m5 0h1m1 0h1M17 3.5h1m3 0h1m6 0h1m1 0h1m1 0h1m1 0h2m2 0h1m2 0h1m12 0h2m5 0h1m1 0h1m9 0h1m6 0h1m3 0h1M12 4.5h1m2 0h1m4 0h1m6 0h1m4 0h4m2 0h3m22 0h1m4 0h1m2 0h1M1 5.5h1m28 0h1m1 0h1m3 0h1m33 0h1m1 0h1m3 0h1M2 6.5h1m4 0h1m10 0h2m8 0h2m4 0h1m1 0h1m5 0h1m6 0h1m10 0h1m3 0h1m5 0h3m4 0h3M26 7.5h1m5 0h1m1 0h2m2 0h1m6 0h1m1 0h1m23 0h1m1 0h1M21 8.5h3m5 0h1m6 0h1m18 0h1m6 0h2m8 0h1M15 9.5h1m6 0h1m1 0h1m1 0h1m7 0h3m8 0h1m9 0h1m8 0h2m4 0h1M14 10.5h1m10 0h1m20 0h1m7 0h1m6 0h2m4 0h1m6 0h3m1 0h2M1 11.5h2m20 0h1m1 0h3m6 0h1m19 0h2m3 0h1m1 0h1m1 0h1m6 0h1M5 12.5h1m7 0h2m22 0h2m4 0h1m4 0h2m13 0h1M6 13.5h1m6 0h1m4 0h2m1 0h1m5 0h1m7 0h1m3 0h1m8 0h1m7 0h2m14 0h1m2 0h1m5 0h1M2 14.5h2m3 0h1m2 0h1m11 0h1m2 0h2m29 0h1m15 0h1m2 0h1m2 0h1m3 0h1M1 15.5h1m1 0h2m7 0h1m9 0h1m6 0h1m2 0h2m27 0h1m11 0h1m4 0h1m1 0h5M1 16.5h1m2 0h1m6 0h1m1 0h4m1 0h1m5 0h1m45 0h1m10 0h1M7 17.5h1m4 0h2m4 0h1m4 0h1m38 0h1M2 18.5h1m4 0h2m3 0h3m1 0h3m8 0h1m38 0h2m5 0h1m9 0h1M4 19.5h2m12 0h3m1 0h1m6 0h3m6 0h1m26 0h2m8 0h2m1 0h1M5 20.5h1m4 0h1m2 0h1m1 0h2m20 0h2m28 0h1m14 0h1M3 21.5h1m6 0h2m3 0h1m21 0h1m1 0h1m38 0h1M4 22.5h1m5 0h2m7 0h1m51 0h2m7 0h1M0 23.5h1m5 0h1m3 0h1m1 0h1m46 0h4m4 0h1m6 0h1m2 0h1M10 24.5h1m38 0h1m20 0h5m10 0h1M0 25.5h1m39 0h2m4 0h1m23 0h3M41 26.5h1m3 0h1m21 0h2M39 27.5h1m1 0h1m24 0h1m2 0h1M40 28.5h1m3 0h1m20 0h1m3 0h1m3 0h1M39 29.5h1m7 0h1m13 0h1m8 0h2m1 0h1M30 30.5h1m17 0h1m18 0h1m1 0h3m1 0h2m1 0h1M1 31.5h1m37 0h1m5 0h1m2 0h2m14 0h2m7 0h1M39 32.5h1m4 0h1m3 0h1m6 0h1m10 0h1m3 0h1m5 0h1M61 33.5h1m11 0h1m11 0h1M42 34.5h1m19 0h1m1 0h1m7 0h2M42 35.5h1m19 0h1m2 0h1m4 0h1m13 0h1M0 36.5h1m45 0h1m17 0h1m4 0h1m3 0h1M0 37.5h1m47 0h1m12 0h1m22 0h1M7 38.5h1m24 0h1m6 0h3m4 0h2m1 0h1m11 0h4m4 0h1m3 0h1m2 0h2m7 0h1M5 39.5h1m11 0h1m9 0h1m4 0h1m13 0h1m8 0h1m3 0h3m1 0h2m2 0h1m2 0h1m2 0h1M5 40.5h2m21 0h2m15 0h1m9 0h1m6 0h2m9 0h1m1 0h1m9 0h1M9 41.5h1m5 0h1m12 0h1m8 0h2m8 0h1m6 0h1M4 42.5h1m2 0h1m2 0h1m29 0h1m1 0h1m8 0h1m13 0h2m10 0h1m2 0h1m1 0h1M4 43.5h1m1 0h1m2 0h1m25 0h1m5 0h1m3 0h1m4 0h1m1 0h2m1 0h1m10 0h2m4 0h1m4 0h1m2 0h2M6 44.5h1m18 0h1m12 0h1m5 0h1m3 0h1m5 0h3M5 45.5h2m17 0h2m1 0h1m10 0h1m14 0h2m16 0h1m4 0h1m4 0h1"/><path stroke="#e9d4cf" d="M6 0.5h1m22 0h1m3 0h1m4 0h1m3 0h1m18 0h2m15 0h1M21 1.5h2m10 0h3m1 0h1m19 0h1m2 0h1m4 0h2m4 0h1m13 0h1M24 2.5h1m2 0h1m6 0h2m3 0h1m2 0h1m18 0h1m2 0h2m3 0h1m6 0h1m2 0h1M15 3.5h2m1 0h2m2 0h1m4 0h1m3 0h1m8 0h1m15 0h1m7 0h2m8 0h1m1 0h1m8 0h1M0 4.5h2m14 0h2m3 0h1m2 0h3m2 0h1m1 0h1m4 0h1m17 0h1m3 0h2m1 0h2m13 0h1M2 5.5h1m20 0h1m9 0h3m1 0h2m2 0h2m11 0h1m18 0h1M21 6.5h1m1 0h1m8 0h1m4 0h2m20 0h1m5 0h1m1 0h1m5 0h1m1 0h1M36 7.5h2m1 0h2m5 0h1m12 0h1m4 0h1m2 0h1m1 0h2m3 0h3m6 0h2M18 8.5h1m1 0h1m5 0h1m6 0h1m1 0h1m9 0h1m1 0h1m11 0h1m5 0h1m1 0h1m1 0h1m1 0h1m6 0h1M21 9.5h1m9 0h3m13 0h1m11 0h1m3 0h1m2 0h2m14 0h1M0 10.5h1m14 0h1m5 0h2m11 0h1m18 0h1m6 0h1m21 0h1M0 11.5h1m12 0h1m7 0h1m9 0h1m21 0h1m3 0h1m2 0h1m1 0h1m4 0h1m7 0h3M1 12.5h2m17 0h1m1 0h3m32 0h1m4 0h1m3 0h1m3 0h1m4 0h1M1 13.5h2m11 0h4m7 0h2m9 0h3m19 0h1m2 0h2m4 0h2m8 0h1m2 0h1M1 14.5h1m2 0h1m12 0h1m6 0h1m5 0h2m1 0h1m1 0h4m18 0h2m2 0h1m3 0h1m5 0h1m1 0h2m2 0h1m1 0h1m3 0h2M7 15.5h1m3 0h1m1 0h1m5 0h2m2 0h1m1 0h1m12 0h1m27 0h1m2 0h2m1 0h1m4 0h1M5 16.5h1m1 0h1m2 0h1m10 0h1m1 0h1m1 0h4m5 0h1m2 0h1m39 0h1M10 17.5h1m8 0h4m1 0h3m4 0h2m37 0h1m1 0h1m3 0h1M6 18.5h1m2 0h1m5 0h1m3 0h4m45 0h1m3 0h1m11 0h1M0 19.5h4m3 0h1m7 0h3m7 0h1m6 0h1m4 0h1m29 0h2m5 0h1m5 0h1M1 20.5h3m2 0h1m26 0h1m1 0h2m28 0h1m4 0h1M5 21.5h1m3 0h1m3 0h1m24 0h1m28 0h3m2 0h1m3 0h2M5 22.5h1m3 0h1m3 0h1m52 0h2m2 0h1m4 0h1m6 0h1m2 0h1M1 23.5h2m4 0h1m1 0h1m58 0h2m1 0h1M1 24.5h1m1 0h1m72 0h2M84 25.5h1M1 26.5h1m1 0h1m73 0h1M40 27.5h1m32 0h1m10 0h2M38 28.5h2m5 0h1m16 0h1m21 0h1M38 29.5h1m5 0h1m1 0h1m13 0h1m7 0h2m4 0h1m9 0h2M45 30.5h1m19 0h1m2 0h1m3 0h1m2 0h1m8 0h1M0 31.5h1m70 0h2M0 32.5h2m38 0h1m4 0h1m15 0h3m3 0h2m4 0h1M62 33.5h2m3 0h1M71 34.5h1m4 0h1m7 0h1M63 35.5h1m4 0h1m4 0h1m1 0h1M68 36.5h1m15 0h1M4 37.5h1m72 0h1m7 0h1M5 38.5h1m39 0h1m2 0h1M45 39.5h1m16 0h1m13 0h2m6 0h2M0 40.5h1m15 0h1m10 0h1m26 0h1m10 0h1m1 0h1m10 0h1m3 0h1m1 0h1M5 41.5h1m1 0h2m32 0h1m3 0h1m7 0h1m11 0h1m8 0h2m2 0h1m3 0h1m2 0h1M5 42.5h1m31 0h2m6 0h1m1 0h1m4 0h2m13 0h1m1 0h1m8 0h2M5 43.5h1m4 0h1m27 0h1m5 0h1m6 0h1m2 0h1m13 0h3m7 0h2m2 0h3M5 44.5h1m5 0h1m25 0h1m19 0h1m8 0h1m1 0h2m1 0h2m4 0h1m1 0h4m2 0h1M7 45.5h1m40 0h1m17 0h1m2 0h2m8 0h1"/><path stroke="#e6c9c3" d="M34 0.5h2m30 0h1m4 0h1m13 0h1M36 1.5h1m3 0h1m14 0h2m1 0h1m2 0h2m4 0h1m7 0h1m2 0h1m1 0h1M22 2.5h1m13 0h2m3 0h1m13 0h2m3 0h1m5 0h3m11 0h3M23 3.5h4m9 0h2m28 0h1m1 0h1m6 0h1m7 0h1M18 4.5h2m2 0h2m6 0h1m6 0h1m17 0h1m1 0h1m8 0h1m7 0h1m6 0h1m2 0h1M0 5.5h1m17 0h4m7 0h1m9 0h2m14 0h1m3 0h2m5 0h2m3 0h1M33 6.5h1m7 0h1m19 0h1m12 0h1m5 0h1M22 7.5h4m7 0h1m22 0h3m1 0h1m4 0h1m14 0h1m1 0h1m2 0h1M19 8.5h1m14 0h1m35 0h1m8 0h5m1 0h1M16 9.5h1m8 0h1m20 0h1m15 0h1m5 0h2m15 0h1M20 10.5h1m10 0h1m1 0h1m13 0h1m21 0h1m13 0h3M14 11.5h1m2 0h2m1 0h1m1 0h1m10 0h1m35 0h1m3 0h1m6 0h6M0 12.5h1m2 0h2m10 0h1m1 0h3m1 0h1m3 0h3m28 0h1m1 0h1m2 0h1m5 0h2m7 0h2m7 0h1M0 13.5h1m4 0h1m16 0h3m35 0h1m2 0h4m3 0h1m2 0h2m1 0h1m1 0h1M13 14.5h1m1 0h2m6 0h1m10 0h1m24 0h2m3 0h1m1 0h3m1 0h1m5 0h1M5 15.5h1m4 0h1m3 0h1m11 0h1m3 0h1m3 0h1m27 0h2m3 0h2m2 0h1m4 0h1m8 0h1M0 16.5h1m18 0h2m1 0h1m6 0h1m1 0h1m3 0h2m26 0h1m8 0h1m3 0h1M1 17.5h1m4 0h1m20 0h1m2 0h1m2 0h4m1 0h1m32 0h1M1 18.5h1m23 0h1m2 0h1m2 0h1m37 0h1m1 0h1M6 19.5h1m1 0h2m13 0h1m9 0h1m1 0h2m32 0h1m9 0h1m5 0h1M0 20.5h1m3 0h1m29 0h1m31 0h1m4 0h1m3 0h4m2 0h1m3 0h1M2 21.5h1m1 0h1m1 0h1m5 0h1m62 0h1m3 0h1m4 0h2M6 22.5h1m5 0h1m55 0h2m3 0h1M8 23.5h1m61 0h1m12 0h2M1 25.5h1m1 0h1m69 0h1m1 0h1m1 0h1m5 0h1M0 26.5h1m1 0h1m70 0h1M76 27.5h1M85 28.5h1M45 29.5h1m19 0h1M66 30.5h1M72 32.5h1M68 33.5h1m3 0h1m1 0h1m1 0h1M63 34.5h1m4 0h1m1 0h1m3 0h1m10 0h1M64 35.5h1m4 0h1m4 0h1M67 37.5h2M6 38.5h1m61 0h1M6 39.5h1M66 40.5h1m7 0h1m1 0h1m6 0h1M46 41.5h1m19 0h1m1 0h1m7 0h1M8 42.5h1m37 0h1m36 0h1M36 43.5h2M67 44.5h1m2 0h1m7 0h1M67 45.5h2"/><path stroke="#e3bfb7" d="M36 0.5h2m29 0h2m8 0h1M42 1.5h1m16 0h1m8 0h3m5 0h2m1 0h1M23 2.5h1m16 0h1m16 0h1M57 3.5h1m1 0h2m6 0h1m13 0h1M56 4.5h1m3 0h1m6 0h1m7 0h1m7 0h1m1 0h1M22 5.5h1m35 0h1m2 0h1m12 0h2m5 0h1M22 6.5h1m33 0h1m9 0h1m17 0h2M61 7.5h3m13 0h1m1 0h1M24 8.5h1m21 0h1m14 0h1m22 0h1M17 9.5h4m39 0h2m21 0h1M18 10.5h2m12 0h1m35 0h1M15 11.5h1m3 0h1m12 0h1m23 0h1m11 0h1m5 0h1m3 0h1M16 12.5h1m43 0h1m8 0h1m3 0h2m5 0h2m2 0h1M3 13.5h2m54 0h1m9 0h1m9 0h1m2 0h1m1 0h1M0 14.5h1m4 0h1m8 0h1m47 0h1m6 0h1M0 15.5h1m14 0h2m14 0h1m3 0h3M30 16.5h1m31 0h1m8 0h1M0 17.5h1m27 0h2m7 0h1M0 18.5h1m22 0h1m6 0h1m1 0h7m31 0h1m14 0h1M24 19.5h1m9 0h1m35 0h1m2 0h1M9 20.5h1M1 21.5h1m64 0h1m13 0h2M0 22.5h3m5 0h1m65 0h1m8 0h2M2 24.5h1m80 0h2M2 25.5h1m71 0h1M74 26.5h1M67 27.5h2m5 0h1M68 28.5h1m5 0h1m1 0h1M67 29.5h1m7 0h2M71 32.5h1M69 33.5h3M85 35.5h1M85 36.5h1M0 38.5h1m66 0h1M0 39.5h1M77 40.5h1M67 41.5h1m9 0h1m5 0h2M9 42.5h1m31 0h1m26 0h1m15 0h2M85 43.5h1M77 45.5h2"/><path stroke="#e0b5ab" d="M75 0.5h2M41 1.5h1M58 2.5h2M58 3.5h1m23 0h1M82 4.5h1M63 5.5h1m20 0h2M39 6.5h2m17 0h1m4 0h1m17 0h3M66 7.5h1m11 0h1m2 0h1M25 8.5h1m34 0h1m5 0h1M84 9.5h1M16 10.5h2M16 11.5h1m62 0h1M59 12.5h1m22 0h2M83 13.5h1m1 0h1M6 14.5h1m56 0h1M6 15.5h1M6 16.5h1M24 18.5h1m4 0h1M71 19.5h2M74 20.5h1m4 0h2M8 21.5h1m64 0h1m9 0h1M7 22.5h1M76 25.5h1M75 26.5h2M75 27.5h1M66 28.5h1M75 33.5h1M69 34.5h1m5 0h1"/><path stroke="#ddaba0" d="M56 5.5h2m4 0h1m19 0h2M57 6.5h1m4 0h1M78 12.5h2M85 14.5h1M7 20.5h2m63 0h2M0 21.5h1m73 0h1m7 0h1M67 28.5h1m7 0h1M66 29.5h1"/><path stroke="#dba394" d="M69 0.5h2M7 21.5h1"/></g></g>
<g clip-path="url(#ocf)"><g filter="url(#blB)"><g transform="matrix(6.2210,0,0,11.3366,1223.06,1227.33)" fill="none" stroke-width="1.04"><path stroke="#273f9a" d="M37 35.5h1M35 36.5h2"/><path stroke="#2546a1" d="M35 35.5h2M34 36.5h1m2 0h1"/><path stroke="#234ea7" d="M34 35.5h1"/><path stroke="#2155ad" d="M37 34.5h1M38 35.5h1M34 37.5h2"/><path stroke="#1f5cb4" d="M38 34.5h1M33 35.5h1M33 36.5h1m4 0h1M36 37.5h1"/><path stroke="#1d64ba" d="M35 34.5h2M37 37.5h1"/><path stroke="#1e6bbe" d="M38 33.5h1M34 34.5h1M32 35.5h1"/><path stroke="#2471be" d="M36 33.5h2M33 34.5h1m5 0h1M32 36.5h1M33 37.5h1m4 0h1"/><path stroke="#2a78bf" d="M35 33.5h1m3 0h1M31 35.5h1m7 0h1M39 36.5h1M34 38.5h2"/><path stroke="#317fbf" d="M34 33.5h1M39 37.5h1"/><path stroke="#3785bf" d="M32 34.5h1M31 36.5h1M32 37.5h1m7 0h1M36 38.5h1"/><path stroke="#3d8cc0" d="M36 32.5h1m1 0h1M40 33.5h1M31 34.5h1m8 0h1M40 36.5h3M41 37.5h1m28 0h2M37 38.5h1m33 0h1"/><path stroke="#4393c0" d="M37 32.5h1m1 0h1M33 33.5h1M30 35.5h1m9 0h1m1 0h1M70 36.5h2M38 38.5h1m31 0h1"/><path stroke="#5199c2" d="M35 32.5h1M30 34.5h1m10 0h2m2 0h2M29 35.5h1m11 0h1M69 37.5h1m2 0h1M33 38.5h1"/><path stroke="#5fa0c4" d="M32 33.5h1m8 0h1M29 34.5h1M43 35.5h1m1 0h1m4 0h1m19 0h1M50 36.5h1m18 0h1M42 37.5h1M41 38.5h1m27 0h1m2 0h1M41 39.5h1"/><path stroke="#6da7c6" d="M23 10.5h1M23 11.5h1M35 17.5h1M33 19.5h1M35 21.5h1M35 22.5h1M45 33.5h2M43 34.5h2M46 35.5h1m24 0h1M30 36.5h1m12 0h1m28 0h1M28 37.5h1m2 0h1m16 0h1M32 38.5h1m6 0h2M33 39.5h3m4 0h1m1 0h3m26 0h1M41 40.5h1"/><path stroke="#7badc8" d="M21 7.5h2M21 8.5h3M22 9.5h2M22 10.5h1M24 11.5h1M36 17.5h1M33 18.5h3m2 0h1M32 19.5h1m1 0h1m3 0h1M32 20.5h3m4 0h1M31 21.5h2m1 0h1m5 0h1M31 22.5h1m2 0h1m4 0h2m26 0h1M43 33.5h2M28 34.5h1m18 0h1m2 0h1M28 35.5h1m15 0h1m4 0h1m1 0h1m17 0h1M28 36.5h2m16 0h1m2 0h1m1 0h1M47 37.5h1m1 0h1M28 38.5h1m2 0h1m10 0h1m5 0h1m19 0h1M36 39.5h3m6 0h1m24 0h1M33 40.5h3m4 0h1m1 0h3M40 41.5h2m4 0h2"/><path stroke="#88b4ca" d="M18 0.5h2m3 0h2M19 1.5h1m4 0h1M24 3.5h1M24 4.5h2M25 6.5h1M20 7.5h1m2 0h2M20 8.5h1M21 9.5h1m5 0h1M24 12.5h1M32 15.5h1M36 16.5h1M34 17.5h1m2 0h1M32 18.5h1m3 0h2M39 19.5h1M31 20.5h1m3 0h1m2 0h1m1 0h1M33 21.5h1m5 0h1m1 0h1m25 0h2M32 22.5h2m2 0h1m1 0h1m2 0h1m19 0h1M30 23.5h2m2 0h2m2 0h2m22 0h2m3 0h1M63 24.5h2M40 32.5h1m5 0h2M29 33.5h1m12 0h1m4 0h1M49 34.5h1m1 0h1M47 35.5h1M45 36.5h1m1 0h2m19 0h1M27 37.5h1m1 0h2m12 0h1m2 0h1m3 0h1m17 0h1m4 0h1M27 38.5h1m15 0h5M32 39.5h1m6 0h1m6 0h3m19 0h2m2 0h1M36 40.5h4m5 0h4M32 41.5h4m3 0h1m2 0h1m2 0h1m2 0h1M31 42.5h1M38 43.5h1M38 44.5h2"/><path stroke="#96bbcc" d="M8 0.5h2m15 0h1M18 1.5h1m6 0h1M24 2.5h2M9 3.5h2m14 0h1M22 4.5h2M24 5.5h3M21 6.5h4m1 0h1M25 7.5h1M24 8.5h1m2 0h2M28 9.5h1M21 10.5h1m2 0h1M22 11.5h1m2 0h1M35 14.5h1M31 15.5h1m1 0h1m1 0h2M32 16.5h1m2 0h1m1 0h1M38 17.5h1M31 18.5h1m29 0h1M31 19.5h1m3 0h1m1 0h1m21 0h3M27 20.5h1m40 0h1M27 21.5h1m2 0h1m5 0h1m1 0h1m22 0h1m4 0h1m2 0h1M30 22.5h1m6 0h1m18 0h1m3 0h1m5 0h1m1 0h1M32 23.5h2m2 0h2m2 0h2m13 0h1m4 0h2m2 0h1M30 24.5h1m3 0h2m26 0h1m2 0h3M34 32.5h1m10 0h1m2 0h1M28 33.5h1m1 0h1m17 0h3M27 34.5h1m20 0h1M48 35.5h1m3 0h1m15 0h1m3 0h1M44 36.5h1m7 0h1m20 0h1M45 37.5h1m5 0h1M29 38.5h2m18 0h1m5 0h1m11 0h1m5 0h1M28 39.5h1m2 0h1m21 0h1m13 0h1M27 40.5h2m3 0h1m16 0h1m21 0h1M31 41.5h1m6 0h1m4 0h2m4 0h1M32 42.5h1m1 0h1m4 0h2m7 0h1M39 43.5h1m38 0h1M22 44.5h1m11 0h1M22 45.5h2m10 0h1m4 0h1m7 0h1"/><path stroke="#a4c2d0" d="M20 0.5h1m1 0h1M8 1.5h2m10 0h1m2 0h1M8 2.5h3m7 0h2m3 0h1M8 3.5h1m2 0h3m7 0h3M26 4.5h2M22 5.5h2M19 6.5h2M19 7.5h1m6 0h1M19 8.5h1m9 0h1M20 9.5h1m3 0h1m4 0h3M27 10.5h1m3 0h2M26 11.5h1M23 12.5h1m1 0h1m7 0h1M37 13.5h1m36 0h1M3 14.5h1m27 0h4m1 0h2M3 15.5h1m24 0h1m5 0h1m2 0h1m19 0h1M28 16.5h1m2 0h1m1 0h2m3 0h1m18 0h3M32 17.5h2m23 0h2M39 18.5h1m5 0h1m12 0h3m1 0h1M30 19.5h1m5 0h1m3 0h1m3 0h1m13 0h1M26 20.5h1m3 0h1m5 0h2m3 0h1m1 0h2m13 0h3m3 0h1m2 0h1m1 0h1M26 21.5h1m1 0h1m8 0h1m10 0h3m5 0h2m2 0h1m3 0h2m4 0h1M55 22.5h1m1 0h1m4 0h3m4 0h1M29 23.5h1m26 0h4m6 0h1m1 0h1M17 24.5h1m11 0h1m1 0h3m2 0h1m18 0h5M56 25.5h3m5 0h2M28 31.5h1m17 0h2M25 32.5h4m4 0h1m7 0h4m4 0h1M26 33.5h2m3 0h1m19 0h1M25 34.5h2m25 0h1m17 0h1M25 35.5h3M22 36.5h1m4 0h1m48 0h1M4 37.5h1m10 0h1m5 0h2m21 0h1m10 0h2m10 0h1m6 0h3M65 38.5h2m7 0h2M27 39.5h1m1 0h2m18 0h1m2 0h1m1 0h1m10 0h2M31 40.5h1m20 0h2m4 0h1m8 0h4m1 0h1M28 41.5h3m5 0h2m32 0h3m2 0h1M30 42.5h1m2 0h1m1 0h1m2 0h1m2 0h3m2 0h2m1 0h1m20 0h2m3 0h1M31 43.5h1m2 0h2m1 0h1m2 0h1m30 0h1m7 0h1M21 44.5h1m1 0h1m4 0h1m6 0h1m1 0h1m2 0h1m7 0h1m19 0h1m9 0h1M21 45.5h1m6 0h2m3 0h1m1 0h1m2 0h1m7 0h1m1 0h1m18 0h2"/><path stroke="#b2cad5" d="M10 0.5h1m6 0h1m3 0h1m43 0h2M10 1.5h1m4 0h1m1 0h1m4 0h1m3 0h1m6 0h1M11 2.5h1m2 0h2m4 0h1m5 0h1m3 0h1M14 3.5h2m10 0h5m42 0h1M10 4.5h4m7 0h1m6 0h1M18 5.5h2m1 0h1m5 0h1M27 6.5h1M10 7.5h1m16 0h1m43 0h1M25 8.5h2m3 0h1m40 0h1M26 9.5h1m5 0h1m8 0h2M25 10.5h2m1 0h3m43 0h1M2 11.5h2m28 0h2m19 0h2m19 0h1m8 0h1M32 12.5h1m4 0h1m6 0h1m8 0h2m18 0h2M0 13.5h1m23 0h2m6 0h2m2 0h1m16 0h1m19 0h1M2 14.5h1m1 0h1m19 0h2m30 0h3m15 0h1M2 15.5h1m1 0h1m20 0h3m1 0h2m7 0h1m17 0h1m1 0h3m13 0h1M27 16.5h1m28 0h1m3 0h1m8 0h3M31 17.5h1m7 0h1m16 0h1m2 0h1m5 0h2m3 0h2M30 18.5h1m13 0h1m12 0h1m5 0h1m2 0h2M43 19.5h1m1 0h1m3 0h1m12 0h1m4 0h3M25 20.5h1m2 0h2m12 0h1m2 0h1m2 0h2m6 0h2m3 0h1m3 0h2m3 0h1M25 21.5h1m3 0h1m12 0h1m1 0h1m6 0h1m3 0h1m2 0h1m3 0h2M27 22.5h3m18 0h4m2 0h1m3 0h1m6 0h1m4 0h1M28 23.5h1m13 0h1m11 0h1m10 0h1m3 0h1M18 24.5h1m8 0h2m8 0h2m2 0h2m17 0h2m6 0h3M22 25.5h1m11 0h2m19 0h1m3 0h1m3 0h1m2 0h1M11 26.5h1m10 0h1m33 0h1M11 27.5h2m3 0h2M70 28.5h1M70 29.5h1M9 30.5h1m18 0h1m53 0h1M1 31.5h1m7 0h1m17 0h1m1 0h1m8 0h2m8 0h1m28 0h1M29 32.5h1m20 0h1M25 33.5h1m32 0h2m17 0h2M16 34.5h1m41 0h1m10 0h1m1 0h1m6 0h1M64 35.5h1m8 0h1m4 0h2M15 36.5h2m6 0h1m1 0h1m29 0h1m8 0h1m2 0h1m6 0h2m1 0h1M3 37.5h1m10 0h1m1 0h1m9 0h1m25 0h1m4 0h1m6 0h2m11 0h1M21 38.5h2m27 0h1m3 0h1m1 0h1m7 0h1m11 0h1M50 39.5h1m4 0h1m2 0h1m23 0h2M5 40.5h2m8 0h1m2 0h1m6 0h2m2 0h2m19 0h2m5 0h1m8 0h1m9 0h1m5 0h2M5 41.5h1m9 0h1m10 0h2m22 0h1m18 0h1m4 0h1m1 0h1M28 42.5h2m7 0h1m7 0h1m23 0h1m2 0h3m1 0h1m1 0h1M21 43.5h1m6 0h1m1 0h1m2 0h1m2 0h1m4 0h3m4 0h1m19 0h3m1 0h1m4 0h1m6 0h1M20 44.5h1m8 0h1m3 0h1m2 0h1m4 0h1m4 0h2m19 0h1m3 0h1m5 0h1m1 0h1m4 0h1M10 45.5h1m29 0h1m8 0h1m6 0h2m11 0h1m7 0h1m5 0h1"/><path stroke="#c0d2da" d="M4 0.5h2m8 0h3m9 0h1m6 0h2m1 0h1m5 0h1m1 0h1m8 0h1m23 0h1m4 0h1M7 1.5h1m3 0h1m2 0h1m1 0h1m4 0h1m12 0h1m9 0h1M7 2.5h1m4 0h2m2 0h2m3 0h2m4 0h3m3 0h1m38 0h2M7 3.5h1m8 0h1m1 0h3m51 0h1M9 4.5h1m4 0h1m2 0h4m8 0h2m14 0h2m15 0h1M16 5.5h2m2 0h1m9 0h1m9 0h1m4 0h1M3 6.5h1m7 0h1m6 0h1m11 0h2m9 0h2m7 0h1m20 0h2M9 7.5h1m1 0h2m15 0h4m8 0h2m30 0h1M0 8.5h1m8 0h2m20 0h1m8 0h3m6 0h2m9 0h1m11 0h1M19 9.5h1m5 0h1m14 0h1m8 0h4m1 0h2m4 0h2m14 0h1M2 10.5h2m2 0h2m12 0h1m12 0h1m5 0h4m9 0h4m19 0h1m7 0h1M7 11.5h2m1 0h1m10 0h1m5 0h1m2 0h2m6 0h2m21 0h2m10 0h1M0 12.5h1m2 0h1m2 0h3m4 0h1m12 0h1m11 0h1m4 0h1m1 0h1m6 0h1m8 0h1M2 13.5h1m2 0h2m19 0h1m4 0h1m2 0h2m2 0h1m13 0h1m1 0h3M1 14.5h1m3 0h1m20 0h3m1 0h1m7 0h1m20 0h1m13 0h1M1 15.5h1m13 0h2m7 0h1m44 0h1m3 0h1M0 16.5h5m21 0h1m2 0h2m8 0h3m30 0h3M8 17.5h1m17 0h2m2 0h1m9 0h2m18 0h5m2 0h1m1 0h1m2 0h1M56 18.5h1m7 0h2m2 0h2m14 0h1M0 19.5h1m2 0h1m21 0h3m1 0h1m11 0h1m6 0h1m7 0h2m5 0h2m1 0h1m3 0h1M24 20.5h1m25 0h1m11 0h2m9 0h1M43 21.5h1m1 0h1m1 0h1m6 0h1m4 0h1m11 0h1M26 22.5h1m15 0h1m9 0h1m6 0h1M27 23.5h1m21 0h1m1 0h3m16 0h1M25 24.5h2m12 0h2m2 0h1m1 0h1m8 0h1m16 0h1M17 25.5h1m7 0h1m1 0h5m1 0h1m2 0h1m7 0h3m14 0h2m4 0h1M10 26.5h1m1 0h1m4 0h1m17 0h1m19 0h1m1 0h2M10 27.5h1m2 0h2m7 0h1m12 0h2m18 0h3M10 28.5h2m4 0h2m4 0h1m12 0h3m18 0h2M10 29.5h1M10 30.5h1m16 0h1m1 0h1m46 0h2m5 0h1M8 31.5h1m16 0h2m9 0h1m3 0h1m4 0h1m3 0h1m28 0h1m3 0h2M5 32.5h1m26 0h1m44 0h2M14 33.5h2m36 0h1m7 0h1m15 0h1m2 0h1M15 34.5h1m1 0h1m35 0h1m2 0h2m1 0h2m7 0h1m8 0h1m1 0h1M16 35.5h2m4 0h1m1 0h1m28 0h1m9 0h1m3 0h1m6 0h1m1 0h2M3 36.5h2m9 0h1m2 0h1m3 0h1m2 0h1m1 0h1m26 0h2m1 0h2m4 0h2m1 0h1m12 0h2M13 37.5h1m3 0h1m5 0h1m1 0h1m28 0h1m3 0h1m3 0h2m2 0h1M4 38.5h1m8 0h3m10 0h1m24 0h3m4 0h1m18 0h1m4 0h1M17 39.5h2m2 0h2m3 0h1m24 0h1m4 0h2m15 0h5M4 40.5h1m11 0h2m1 0h3m2 0h1m29 0h1m4 0h1m5 0h1m7 0h1m1 0h1m1 0h1M4 41.5h1m1 0h1m9 0h5m4 0h1m25 0h1m10 0h1m5 0h1m4 0h1m3 0h1m5 0h1M26 42.5h2m8 0h1m7 0h1m5 0h2m10 0h1m14 0h1m5 0h3M2 43.5h1m17 0h1m1 0h1m6 0h1m2 0h1m13 0h2m1 0h1m23 0h4m6 0h1m1 0h1M2 44.5h1m16 0h1m4 0h1m5 0h3m9 0h1m6 0h1m19 0h2m5 0h1m3 0h1m2 0h1M9 45.5h1m1 0h1m5 0h2m1 0h1m9 0h1m1 0h1m3 0h2m3 0h2m2 0h1m20 0h1m3 0h1m5 0h1m1 0h1m3 0h1m1 0h1"/><path stroke="#cedadf" d="M3 0.5h1m3 0h1m20 0h2m5 0h1m1 0h1m3 0h1m1 0h1m13 0h1m4 0h3m2 0h1m8 0h1m4 0h1M3 1.5h3m7 0h1m13 0h4m1 0h1m2 0h1m7 0h1m13 0h1m4 0h1m14 0h1M2 2.5h3m26 0h2m1 0h1m8 0h2m17 0h1m11 0h1m2 0h1M6 3.5h1m10 0h1m13 0h1m3 0h1m10 0h3m4 0h1m8 0h1m11 0h1m2 0h1M6 4.5h3m6 0h2m17 0h2m4 0h1m6 0h1m15 0h1m6 0h1m1 0h2M4 5.5h3m4 0h2m15 0h2m1 0h1m2 0h2m5 0h2m1 0h1m1 0h1m2 0h2m7 0h2m10 0h4M4 6.5h1m5 0h1m1 0h1m3 0h2m11 0h1m4 0h2m4 0h1m2 0h1m5 0h1m23 0h2m6 0h1M0 7.5h1m12 0h1m2 0h3m13 0h1m6 0h1m2 0h2m4 0h3m5 0h1M1 8.5h1m9 0h2m2 0h2m1 0h1m13 0h1m3 0h4m8 0h1m2 0h1m2 0h3m4 0h1m8 0h1M1 9.5h2m3 0h1m2 0h2m4 0h1m17 0h1m2 0h4m8 0h1m4 0h1m2 0h1m2 0h1m11 0h1m3 0h1m1 0h1M8 10.5h4m25 0h2m7 0h3m2 0h1m4 0h1m4 0h2m10 0h1m2 0h2M1 11.5h1m2 0h1m1 0h1m2 0h1m1 0h1m2 0h1m5 0h1m7 0h2m6 0h2m2 0h1m1 0h4m5 0h2m2 0h1m7 0h3m16 0h1m1 0h1M1 12.5h2m1 0h2m4 0h3m1 0h1m16 0h1m2 0h1m1 0h1m2 0h1m11 0h1m3 0h1m6 0h1m3 0h2m4 0h1m10 0h1M1 13.5h1m1 0h2m2 0h1m2 0h4m9 0h1m3 0h1m2 0h1m12 0h2m6 0h1m5 0h3m1 0h1m4 0h2m7 0h1M0 14.5h1m5 0h1m3 0h2m3 0h2m6 0h1m5 0h1m12 0h1m9 0h4m4 0h1m14 0h1M0 15.5h1m4 0h1m17 0h1m15 0h1m1 0h1m7 0h1m5 0h1m8 0h1m5 0h1m4 0h1m3 0h2M5 16.5h1m9 0h1m9 0h1m16 0h1m12 0h1m5 0h1m2 0h3m1 0h1m6 0h1M0 17.5h1m3 0h2m3 0h1m2 0h1m12 0h1m2 0h2m12 0h1m1 0h2m5 0h2m15 0h1m4 0h3m9 0h1M0 18.5h1m2 0h2m3 0h1m2 0h1m13 0h2m2 0h1m10 0h2m1 0h1m2 0h1m1 0h2m2 0h2m16 0h3m12 0h1M2 19.5h1m1 0h2m18 0h1m3 0h1m13 0h1m12 0h1m9 0h1m5 0h3m10 0h1M0 20.5h4m1 0h1m17 0h1m23 0h1m7 0h1m15 0h2m1 0h1M0 21.5h1m1 0h1m19 0h3m27 0h2m18 0h2M0 22.5h1m43 0h1m8 0h1m17 0h1m10 0h1M16 23.5h3m7 0h1m16 0h1m4 0h1m1 0h1m20 0h1m11 0h1M16 24.5h1m5 0h1m1 0h1m19 0h1m1 0h1m1 0h2m1 0h3M18 25.5h1m2 0h1m1 0h2m1 0h1m5 0h1m8 0h1m5 0h2m11 0h1m7 0h3M13 26.5h1m2 0h1m4 0h1m1 0h1m1 0h1m2 0h1m5 0h1m9 0h1m1 0h1m12 0h7m7 0h2M15 27.5h1m18 0h1m2 0h1m36 0h1M7 28.5h1m4 0h2m7 0h1m1 0h1m45 0h1m1 0h1M6 29.5h4m1 0h2m7 0h4m2 0h3m6 0h3m31 0h1m1 0h1m10 0h1M1 30.5h2m3 0h3m2 0h2m13 0h1m19 0h1m31 0h1m2 0h1M2 31.5h1m2 0h3m2 0h1m24 0h1m1 0h1m3 0h3m32 0h1m2 0h3M6 32.5h4m14 0h1m5 0h2m47 0h2M5 33.5h2m6 0h1m2 0h1m4 0h1m2 0h1m32 0h1m17 0h1m4 0h1M12 34.5h3m3 0h1m2 0h1m2 0h1m29 0h2m7 0h2m2 0h1m7 0h2M3 35.5h1m5 0h1m4 0h2m2 0h4m1 0h1m30 0h5m2 0h2m2 0h1m9 0h1m4 0h1M9 36.5h2m8 0h2m37 0h1m2 0h1m4 0h1m13 0h1m3 0h2M10 37.5h1m9 0h1m3 0h1m28 0h1m5 0h1m18 0h4M3 38.5h1m8 0h1m3 0h2m5 0h1m1 0h1m31 0h1m1 0h1m2 0h2m14 0h1m2 0h1m1 0h1M15 39.5h2m2 0h2m2 0h3m33 0h1m4 0h1M7 40.5h1m14 0h2m32 0h1m17 0h1M3 41.5h1m17 0h1m1 0h2m27 0h1m4 0h3m1 0h1m1 0h1m1 0h3m14 0h1m1 0h2M1 42.5h3m17 0h2m2 0h1m26 0h1m10 0h1m4 0h1m10 0h1M1 43.5h1m1 0h1m15 0h1m3 0h1m2 0h2m16 0h2m8 0h1m7 0h2m3 0h1m12 0h1M1 44.5h1m4 0h6m2 0h1m12 0h1m15 0h1m1 0h1m10 0h3m7 0h1m5 0h1m1 0h2m6 0h1M5 45.5h2m1 0h1m6 0h2m2 0h1m4 0h1m2 0h1m3 0h1m11 0h1m11 0h1m2 0h1m12 0h1m3 0h1m5 0h1"/><path stroke="#dce1e4" d="M2 0.5h1m3 0h1m4 0h1m1 0h1m13 0h1m4 0h1m19 0h1m8 0h1m10 0h4m7 0h1M2 1.5h1m3 0h1m5 0h1m18 0h1m4 0h2m4 0h1m2 0h1m6 0h2m2 0h1m4 0h1m3 0h2m5 0h5M1 2.5h1m3 0h2m28 0h1m16 0h2m3 0h1m3 0h1m13 0h1m2 0h1M0 3.5h3m2 0h1m26 0h3m1 0h1m2 0h1m4 0h2m3 0h1m2 0h1m1 0h1m6 0h1m16 0h1M5 4.5h1m25 0h1m12 0h1m3 0h3m1 0h1m8 0h1m4 0h1m2 0h1m1 0h1m2 0h1M3 5.5h1m3 0h1m2 0h1m2 0h3m20 0h1m2 0h1m3 0h1m3 0h2m2 0h1m8 0h1m1 0h2m2 0h2m1 0h1m4 0h1m5 0h2M2 6.5h1m2 0h1m3 0h1m3 0h1m1 0h1m12 0h1m3 0h2m2 0h1m2 0h1m4 0h1m3 0h1m2 0h1m3 0h5m8 0h1m1 0h1m4 0h1m4 0h1M1 7.5h3m4 0h1m6 0h1m17 0h4m7 0h1m2 0h1m7 0h1m1 0h1m2 0h1m7 0h3m10 0h1M2 8.5h1m5 0h1m8 0h1m15 0h1m9 0h1m8 0h2m3 0h1m1 0h1m8 0h2m13 0h1M3 9.5h1m1 0h1m1 0h2m2 0h2m1 0h1m1 0h1m1 0h1m24 0h1m3 0h1m9 0h2m3 0h1m9 0h1m5 0h1m4 0h1M1 10.5h1m3 0h1m6 0h1m1 0h3m2 0h1m14 0h1m1 0h1m6 0h1m1 0h1m3 0h2m6 0h4m2 0h3m1 0h1m10 0h1m3 0h1m1 0h1M5 11.5h1m7 0h1m3 0h3m14 0h1m6 0h1m4 0h3m1 0h1m7 0h3m5 0h2m4 0h1m2 0h1M9 12.5h1m8 0h2m2 0h1m4 0h1m2 0h1m11 0h1m3 0h1m3 0h1m5 0h1m2 0h2m2 0h3m9 0h1m8 0h1M8 13.5h2m4 0h6m8 0h2m11 0h2m2 0h1m14 0h1m1 0h2m1 0h1m2 0h1m1 0h3M12 14.5h2m27 0h1m7 0h1m13 0h2m1 0h1m1 0h3m1 0h1m6 0h1M6 15.5h1m7 0h1m25 0h1m1 0h1m4 0h2m1 0h1m1 0h3m6 0h1m1 0h1m4 0h1m2 0h2M8 16.5h1m5 0h1m1 0h1m7 0h1m22 0h6m10 0h1m3 0h1M3 17.5h1m2 0h2m2 0h2m1 0h1m29 0h1m2 0h5m25 0h1m7 0h1M5 18.5h1m1 0h1m1 0h2m1 0h1m5 0h2m4 0h1m2 0h1m14 0h1m7 0h2m3 0h1m17 0h4m6 0h1M1 19.5h1m4 0h3m1 0h2m34 0h1m3 0h1m1 0h2m20 0h1m10 0h1M4 20.5h1m1 0h1m15 0h1m23 0h1m4 0h4m22 0h1M1 21.5h1m1 0h1m1 0h1m40 0h1m27 0h1M1 22.5h1m20 0h1m2 0h1m17 0h1m1 0h1m1 0h1m33 0h1m1 0h1M0 23.5h1m21 0h4m18 0h1m37 0h1m1 0h1M5 24.5h1m15 0h1m1 0h1m23 0h1m24 0h1M10 25.5h1m5 0h1m20 0h4m1 0h2m5 0h1m4 0h1m16 0h1M9 26.5h1m4 0h2m8 0h1m1 0h2m8 0h1m8 0h1m1 0h2m5 0h1m11 0h1M5 27.5h5m8 0h1m2 0h1m1 0h1m1 0h1m12 0h1m5 0h1m13 0h1m11 0h4M6 28.5h1m1 0h2m4 0h2m2 0h1m1 0h1m3 0h4m6 0h1m3 0h1m16 0h1m19 0h1m3 0h2M13 29.5h1m2 0h1m7 0h2m3 0h1m1 0h2m1 0h1m3 0h1m6 0h1m11 0h1m17 0h3m2 0h2m1 0h1M5 30.5h1m14 0h4m1 0h1m4 0h1m4 0h5m2 0h1m2 0h1m1 0h1m27 0h1m3 0h2m3 0h1M0 31.5h1m10 0h2m6 0h2m3 0h1m5 0h1m13 0h1m5 0h1m33 0h2M1 32.5h1m2 0h1m5 0h1m2 0h2m4 0h3m29 0h1m19 0h3m2 0h1m4 0h1m1 0h2M3 33.5h2m2 0h2m3 0h1m7 0h1m1 0h1m30 0h4m13 0h1m3 0h1M3 34.5h5m3 0h1m7 0h2m1 0h2m37 0h2m2 0h2m5 0h1m1 0h1m5 0h1M0 35.5h3m1 0h1m3 0h1m1 0h4m45 0h2m5 0h1m17 0h2M0 36.5h3m10 0h1m4 0h1m62 0h1M2 37.5h1m2 0h1m5 0h2m5 0h1m63 0h1m1 0h2M5 38.5h1m5 0h1m6 0h1m1 0h1m3 0h1m54 0h2m3 0h2M4 39.5h2m6 0h1m1 0h1m47 0h1m15 0h1m2 0h1m2 0h1M8 40.5h1m5 0h1m40 0h1m4 0h1m1 0h1m1 0h1m13 0h1m2 0h1m2 0h1M2 41.5h1m4 0h3m4 0h1m7 0h1m30 0h2m1 0h1m3 0h1m3 0h1m13 0h1M4 42.5h3m8 0h2m2 0h2m2 0h1m29 0h2m6 0h1m2 0h1m17 0h1M0 43.5h1m3 0h1m1 0h3m15 0h2m24 0h4m10 0h2M0 44.5h1m2 0h3m9 0h4m6 0h2m17 0h1m8 0h3m3 0h1m2 0h4m7 0h1m7 0h1M1 45.5h4m2 0h1m6 0h1m29 0h1m5 0h1m8 0h3m12 0h1m4 0h2"/><path stroke="#eae9e9" d="M1 0.5h1m10 0h1m32 0h1m2 0h2m4 0h1m1 0h1m11 0h1m9 0h1M1 1.5h1m39 0h1m12 0h1m8 0h2m2 0h1m3 0h1m10 0h2m1 0h1M0 2.5h1m35 0h4m2 0h1m2 0h7m2 0h1m1 0h1m8 0h2m4 0h1m4 0h1M3 3.5h2m33 0h1m1 0h1m2 0h1m6 0h2m11 0h1m1 0h2m2 0h1m1 0h1M33 4.5h1m2 0h1m2 0h1m1 0h1m9 0h1m1 0h1m4 0h3m3 0h2m1 0h2m8 0h1M2 5.5h1m30 0h1m23 0h1m3 0h1m2 0h1m3 0h1m6 0h2M0 6.5h1m5 0h3m5 0h1m30 0h3m12 0h2m4 0h2m1 0h1m6 0h2m4 0h1M14 7.5h1m22 0h2m6 0h2m4 0h1m2 0h1m3 0h2m1 0h1m5 0h1m5 0h1m1 0h2m3 0h1m1 0h1M3 8.5h1m3 0h1m5 0h2m19 0h2m8 0h2m1 0h1m10 0h1m3 0h1m13 0h1m5 0h1M0 9.5h1m3 0h1m12 0h1m16 0h2m9 0h2m16 0h3m1 0h2m1 0h1m2 0h2M4 10.5h1m8 0h1m3 0h2m16 0h1m8 0h1m21 0h1M0 11.5h1m11 0h1m2 0h2m18 0h1m20 0h2m19 0h2m2 0h1M15 12.5h1m1 0h1m2 0h1m7 0h2m5 0h1m4 0h2m5 0h1m9 0h2m9 0h1m2 0h1m10 0h1M20 13.5h1m18 0h2m9 0h1m13 0h1m4 0h1M7 14.5h1m1 0h1m4 0h1m2 0h1m4 0h1m16 0h2m2 0h2m5 0h2m9 0h2m2 0h1m1 0h1m3 0h1m8 0h1M7 15.5h5m1 0h1m8 0h1m20 0h1m7 0h1m13 0h3M6 16.5h2m1 0h1m2 0h2m8 0h2m19 0h1m2 0h1m6 0h2m7 0h1m13 0h1m2 0h2M1 17.5h2m11 0h2m3 0h2m2 0h2m28 0h1m1 0h1m21 0h1M1 18.5h2m3 0h1m10 0h1m10 0h1m18 0h1m29 0h1M9 19.5h1m8 0h3m2 0h1m23 0h1m6 0h1m20 0h1m1 0h1m5 0h1M7 20.5h1m12 0h2m53 0h1m2 0h1M4 21.5h1m1 0h1m14 0h1m55 0h2M5 22.5h2m8 0h1m7 0h2m47 0h2m6 0h1M1 23.5h1m2 0h2m9 0h1m29 0h1m26 0h1m8 0h1M4 24.5h1m14 0h1m30 0h1m32 0h1M5 25.5h2m2 0h1m1 0h2m38 0h3m18 0h3M18 26.5h1m10 0h5m4 0h4m1 0h1m5 0h1m2 0h2m13 0h1m2 0h1m1 0h1m2 0h1M3 27.5h2m19 0h1m1 0h3m10 0h1m3 0h1m1 0h4m5 0h1m9 0h1m4 0h1m5 0h1m3 0h2M5 28.5h1m13 0h1m8 0h1m3 0h1m10 0h3m26 0h1m1 0h1M2 29.5h1m2 0h1m8 0h2m1 0h3m10 0h1m2 0h1m10 0h1m1 0h1m6 0h1m2 0h1m21 0h2M0 30.5h1m2 0h2m8 0h1m10 0h1m6 0h2m1 0h1m5 0h2m1 0h2m3 0h1m3 0h2m16 0h1m14 0h1M3 31.5h2m8 0h1m4 0h1m2 0h3m7 0h3m17 0h3m17 0h3m1 0h1M0 32.5h1m1 0h2m7 0h2m2 0h1m2 0h1m3 0h2m28 0h2m3 0h2m11 0h1m3 0h2m6 0h1m2 0h1M2 33.5h1m6 0h3m5 0h1m5 0h1m37 0h1m1 0h4m2 0h1m1 0h1m11 0h3M2 34.5h1m5 0h3m73 0h2M5 35.5h1m77 0h1M5 36.5h1m5 0h2m46 0h2m21 0h2M0 37.5h2m7 0h1m9 0h1m40 0h2m21 0h1M2 38.5h1m7 0h1m8 0h1m40 0h1M3 39.5h1m2 0h1m4 0h1m1 0h1m46 0h2m1 0h1m15 0h2m4 0h1M3 40.5h1m5 0h3m49 0h1m1 0h1m15 0h1m5 0h1M10 41.5h1m44 0h1m25 0h1M8 42.5h1m5 0h1m2 0h2m5 0h1m30 0h6m4 0h3m12 0h2M5 43.5h1m3 0h2m3 0h2m39 0h1m1 0h3m1 0h1m4 0h1m14 0h2M12 44.5h2m36 0h1m1 0h1m8 0h1m23 0h1M0 45.5h1m11 0h1m12 0h2m26 0h2m7 0h1m2 0h1m6 0h1"/><path stroke="#efe8e6" d="M30 0.5h2m6 0h1m8 0h1m10 0h1m12 0h1m12 0h2M0 1.5h1m37 0h1m8 0h3m1 0h1m3 0h1m2 0h1m19 0h1m2 0h1m2 0h1M40 2.5h2m13 0h1m7 0h1m21 0h1M37 3.5h1m4 0h1m14 0h2m5 0h1m2 0h1m2 0h1m4 0h2M0 4.5h5m27 0h1m4 0h2m3 0h2m10 0h1m21 0h1m1 0h1M8 5.5h2m22 0h1m4 0h1m14 0h1m1 0h3m8 0h1m11 0h1m4 0h3M1 6.5h1m36 0h1m15 0h1m7 0h1m2 0h1m18 0h1M4 7.5h1m2 0h1m45 0h1m8 0h1m2 0h2m7 0h1m2 0h1m5 0h1M4 8.5h3m39 0h1m18 0h1m1 0h1m5 0h1m1 0h1m1 0h1m3 0h1m2 0h1M13 9.5h1m30 0h1m21 0h1m2 0h1m9 0h1m2 0h1m1 0h1M68 10.5h1m2 0h2M49 11.5h1m18 0h1m2 0h1m4 0h1m2 0h1m5 0h1M16 12.5h1m4 0h1m26 0h2m20 0h1m5 0h1m1 0h2m1 0h1m3 0h1M22 13.5h1m23 0h4m26 0h1m6 0h2M8 14.5h1m9 0h2m25 0h1m2 0h1M12 15.5h1m4 0h1m26 0h3m15 0h1m13 0h1m1 0h1m2 0h1M10 16.5h2m7 0h3m22 0h2m39 0h1M16 17.5h1m4 0h2m60 0h1M13 18.5h1m2 0h1m3 0h1m2 0h1m30 0h1m27 0h1M17 19.5h1m33 0h1m24 0h1m1 0h1m3 0h1M8 20.5h3m8 0h1m56 0h1m7 0h2M19 21.5h2m58 0h5M2 22.5h1m1 0h1m9 0h1m1 0h1m4 0h1m24 0h1m27 0h1m4 0h1m4 0h1M19 23.5h1m1 0h1m24 0h2m32 0h1m4 0h1M6 24.5h1m2 0h1m10 0h1m52 0h1m6 0h1m3 0h1M4 25.5h1m8 0h1m5 0h2m29 0h1M0 26.5h9m28 0h1m4 0h1m7 0h2m16 0h2m1 0h1M0 27.5h3m28 0h3m6 0h3m6 0h2m2 0h1m5 0h1m3 0h1m1 0h1M1 28.5h2m26 0h1m1 0h1m1 0h1m8 0h1m3 0h5m3 0h1m3 0h1m17 0h3m2 0h2M1 29.5h1m37 0h1m2 0h2m3 0h3m2 0h1m1 0h2m18 0h1m9 0h2M14 30.5h3m1 0h2m13 0h1m15 0h3m4 0h2m11 0h1m1 0h1m2 0h1M14 31.5h1m19 0h1m22 0h1m12 0h1m3 0h1M16 32.5h2m38 0h1m2 0h1M1 33.5h1m16 0h2m42 0h1m4 0h2m3 0h2m7 0h1M1 34.5h1m71 0h1m9 0h1M6 35.5h2m73 0h1M8 36.5h1M0 38.5h2m59 0h1M0 39.5h3m4 0h1m2 0h1M2 40.5h1m77 0h1M1 41.5h1m77 0h1M0 42.5h1m6 0h1m1 0h1M11 43.5h1m1 0h1m2 0h1m1 0h1m37 0h1m3 0h1M51 44.5h1m8 0h1M13 45.5h1m38 0h1m11 0h1m8 0h1m11 0h1"/><path stroke="#ecdeda" d="M0 0.5h1m39 0h1m5 0h1m3 0h2m3 0h1m4 0h1m8 0h2m9 0h1M39 1.5h2m5 0h1m3 0h1m9 0h1m7 0h1M58 2.5h1m1 0h1m3 0h1m2 0h1m16 0h1M41 3.5h1m13 0h2m3 0h1m7 0h1m16 0h1M55 4.5h1m1 0h1m17 0h1m4 0h2M0 5.5h2m36 0h1m14 0h1m24 0h2m5 0h1M37 6.5h1m14 0h2m9 0h2m13 0h2m3 0h1m1 0h1M6 7.5h1m45 0h1m26 0h1m4 0h1M64 8.5h1m1 0h1m7 0h1m3 0h3M0 10.5h1m69 0h1m8 0h1m1 0h1M80 11.5h1M69 12.5h1m7 0h1m2 0h1M21 13.5h1m57 0h1m5 0h1M20 14.5h2m24 0h2m28 0h1m1 0h1m2 0h1m1 0h1m1 0h1M19 15.5h3M77 16.5h2m2 0h1m2 0h1M17 17.5h2m35 0h1m23 0h1m2 0h2M14 18.5h2m62 0h1m2 0h1M12 19.5h1m3 0h1m4 0h2m58 0h1M11 20.5h1m5 0h2m60 0h5M7 21.5h1m7 0h1m59 0h2m7 0h2M3 22.5h1m14 0h2m57 0h2m6 0h1M6 23.5h1m7 0h1m5 0h1m52 0h1m5 0h1M0 24.5h1m2 0h1m3 0h1m2 0h1m4 0h1m58 0h1m6 0h2m2 0h1M3 25.5h1m3 0h2m5 0h2m59 0h1m4 0h1M19 26.5h2m59 0h1M19 27.5h2m8 0h1m21 0h2m7 0h1m1 0h1m3 0h1m9 0h1m1 0h1M4 28.5h1m25 0h1m8 0h1m12 0h2m10 0h1m3 0h1m4 0h1m11 0h1M3 29.5h2m36 0h1m8 0h2m6 0h1m13 0h1M17 30.5h1m36 0h1m17 0h2M15 31.5h3m38 0h1M54 32.5h2m4 0h1m4 0h2M82 33.5h1M0 34.5h1m80 0h1M82 35.5h1M6 36.5h1M6 37.5h1m1 0h1M8 39.5h1M1 40.5h1m10 0h2M11 41.5h1m1 0h1m66 0h1M10 42.5h1m2 0h1M12 43.5h1m4 0h1M51 45.5h1m11 0h1"/><path stroke="#e9d4cf" d="M59 0.5h1m19 0h1M69 1.5h2M68 2.5h3m8 0h1m3 0h1M59 3.5h1m19 0h1m4 0h1M56 4.5h1m22 0h1m2 0h4M5 7.5h1m57 0h2m13 0h1M63 8.5h1M80 9.5h2M69 10.5h1m10 0h1m4 0h1M69 11.5h2M77 13.5h2m1 0h3M77 14.5h1m4 0h1m1 0h1M18 15.5h1m58 0h1m4 0h1m1 0h2M17 16.5h2M79 17.5h2M21 18.5h2M80 19.5h1M15 20.5h2M8 21.5h2m4 0h1m1 0h1m1 0h1M7 22.5h1m4 0h2m3 0h1m2 0h1m54 0h2M2 23.5h2m5 0h2m1 0h2m60 0h1m3 0h1M1 24.5h1m6 0h1m2 0h4m60 0h1m3 0h1M0 25.5h3m73 0h1m6 0h3M76 26.5h2m1 0h1m3 0h1m1 0h1M30 27.5h1m30 0h1m5 0h2m8 0h1m3 0h2M0 28.5h1m2 0h1m37 0h1m9 0h1m13 0h1m17 0h1M0 29.5h1m39 0h1m27 0h1m4 0h1M55 30.5h1m2 0h1M54 31.5h1m11 0h1m2 0h1M63 32.5h2m2 0h1m1 0h1M0 33.5h1M82 34.5h1M7 36.5h1M7 37.5h1M6 38.5h2m1 0h1M9 39.5h1M0 40.5h1M0 41.5h1m11 0h1M11 42.5h2"/><path stroke="#e6c9c3" d="M39 0.5h1M59 1.5h1m19 0h2M59 2.5h1m20 0h3M80 3.5h2m1 0h1M85 7.5h1M83 15.5h1M82 16.5h2M79 18.5h2M15 19.5h1m63 0h1M14 20.5h1M10 21.5h4m3 0h1M8 22.5h2m1 0h1M7 23.5h2m2 0h1m63 0h3M2 24.5h1m73 0h1M77 25.5h1m1 0h1m1 0h2M78 26.5h1m2 0h2m1 0h1M83 27.5h1m1 0h1M40 28.5h1m22 0h1m2 0h1m17 0h1M66 29.5h1M66 30.5h3M55 31.5h1m2 0h1m6 0h1m1 0h2M61 32.5h2m5 0h1M8 38.5h1"/><path stroke="#e3bfb7" d="M82 3.5h1M85 8.5h1M85 9.5h1M13 19.5h2M12 20.5h1M10 22.5h1M77 24.5h2M78 25.5h1M84 27.5h1M59 28.5h1m7 0h1M65 29.5h1m1 0h1M65 30.5h1M64 31.5h1"/><path stroke="#e0b5ab" d="M13 20.5h1M62 28.5h1"/><path stroke="#ddaba0" d="M60 28.5h2M59 29.5h1m4 0h1M64 30.5h1M59 31.5h1m3 0h1"/><path stroke="#dba394" d="M59 30.5h1M60 31.5h3"/><path stroke="#d89a89" d="M63 29.5h1"/><path stroke="#d5917d" d="M60 29.5h3M63 30.5h1"/><path stroke="#d28872" d="M60 30.5h3"/></g></g></g>
<use href="#coast" transform="matrix(0.62210,0,0,-1.13366,1073.754,1590.098)" fill="none" stroke="#333" stroke-width="1.1"/>
<path d="M1429.8 1605.2h0M1441.2 1605.2h0M1521.4 1605.2h0M1412.6 1615.6h0M1424.1 1615.6h0M1435.5 1615.6h0M1447.0 1615.6h0M1458.4 1615.6h0M1469.9 1615.6h0M1481.3 1615.6h0M1492.8 1615.6h0M1504.2 1615.6h0M1515.7 1615.6h0M1527.1 1615.6h0M1538.6 1615.6h0M1406.9 1626.0h0M1418.4 1626.0h0M1429.8 1626.0h0M1441.2 1626.0h0M1452.7 1626.0h0M1464.2 1626.0h0M1475.6 1626.0h0M1487.1 1626.0h0M1498.5 1626.0h0M1510.0 1626.0h0M1521.4 1626.0h0M1532.9 1626.0h0M1544.3 1626.0h0M1412.6 1636.4h0M1424.1 1636.4h0M1435.5 1636.4h0M1447.0 1636.4h0M1458.4 1636.4h0M1469.9 1636.4h0M1481.3 1636.4h0M1492.8 1636.4h0M1504.2 1636.4h0M1515.7 1636.4h0M1527.1 1636.4h0M1538.6 1636.4h0M1550.0 1636.4h0M1561.5 1636.4h0M1406.9 1646.8h0M1418.4 1646.8h0M1429.8 1646.8h0M1441.2 1646.8h0M1452.7 1646.8h0M1464.2 1646.8h0M1475.6 1646.8h0M1487.1 1646.8h0M1498.5 1646.8h0M1510.0 1646.8h0M1521.4 1646.8h0M1532.9 1646.8h0M1544.3 1646.8h0M1555.8 1646.8h0M1567.2 1646.8h0M1412.6 1657.2h0M1424.1 1657.2h0M1435.5 1657.2h0M1447.0 1657.2h0M1458.4 1657.2h0M1469.9 1657.2h0M1481.3 1657.2h0M1492.8 1657.2h0M1504.2 1657.2h0M1515.7 1657.2h0M1527.1 1657.2h0M1538.6 1657.2h0M1550.0 1657.2h0M1418.4 1667.6h0M1429.8 1667.6h0M1441.2 1667.6h0M1452.7 1667.6h0M1464.2 1667.6h0M1475.6 1667.6h0M1487.1 1667.6h0M1498.5 1667.6h0M1526.6 1263.6h0M1523.5 1272.7h0M1531.6 1272.7h0M1521.7 1282.9h0M1529.1 1282.9h0M1725.1 1254.5h0M1731.9 1254.5h0M1735.7 1263.6h0M1392.3 1294.2h0M1396.0 1305.5h0M1392.3 1314.6h0M1369.3 1251.1h0M1287.8 1357.7h0M1367.4 1398.5h0M1571.4 1315.8h0M1543.4 1346.4h0M1656.7 1366.8h0M1663.5 1377.0h0M1672.8 1377.0h0M1668.5 1388.3h0M1664.1 1397.4h0M1577.0 1408.7h0M1575.2 1439.3h0M1316.4 1449.5h0M1327.6 1449.5h0M1288.4 1460.9h0M1288.4 1482.4h0M1397.2 1471.1h0M1406.6 1482.4h0M1412.8 1462.0h0M1417.2 1472.2h0M1420.9 1482.4h0M1429.6 1462.0h0M1433.3 1450.7h0M1433.3 1428.0h0M1444.5 1439.3h0M1448.3 1428.0h0M1452.0 1439.3h0M1448.3 1450.7h0M1444.5 1462.0h0M1599.4 1450.7h0M1607.5 1472.2h0M1611.2 1462.0h0M1607.5 1482.4h0M1607.5 1492.6h0M1603.8 1482.4h0M1702.7 1574.2h0M1240.5 1562.9h0M1236.7 1574.2h0M1244.8 1574.2h0M1240.5 1585.6h0M1236.7 1596.9h0M1244.8 1596.9h0M1240.5 1607.1h0M1236.7 1617.3h0M1272.2 1655.8h0M1277.8 1667.2h0M1318.2 1710.3h0M1519.2 1710.3h0" stroke="#000" stroke-width="3.5" stroke-linecap="round" fill="none"/>
</g>
<rect x="1235.5" y="1250.0" width="503.9" height="464.8" fill="none" stroke="#555" stroke-width="1.3"/>
<text x="1260.4" y="1738.3" font-family="'Liberation Sans', Arial, sans-serif" font-size="16.5" font-weight="normal" text-anchor="middle" >30</text>
<text x="1322.6" y="1738.3" font-family="'Liberation Sans', Arial, sans-serif" font-size="16.5" font-weight="normal" text-anchor="middle" >40</text>
<text x="1384.8" y="1738.3" font-family="'Liberation Sans', Arial, sans-serif" font-size="16.5" font-weight="normal" text-anchor="middle" >50</text>
<text x="1447.0" y="1738.3" font-family="'Liberation Sans', Arial, sans-serif" font-size="16.5" font-weight="normal" text-anchor="middle" >60</text>
<text x="1509.2" y="1738.3" font-family="'Liberation Sans', Arial, sans-serif" font-size="16.5" font-weight="normal" text-anchor="middle" >70</text>
<text x="1571.4" y="1738.3" font-family="'Liberation Sans', Arial, sans-serif" font-size="16.5" font-weight="normal" text-anchor="middle" >80</text>
<text x="1633.6" y="1738.3" font-family="'Liberation Sans', Arial, sans-serif" font-size="16.5" font-weight="normal" text-anchor="middle" >90</text>
<text x="1695.9" y="1738.3" font-family="'Liberation Sans', Arial, sans-serif" font-size="16.5" font-weight="normal" text-anchor="middle" >100</text>
<text x="1229.5" y="1709.5" font-family="'Liberation Sans', Arial, sans-serif" font-size="16.5" font-weight="normal" text-anchor="end" >-10</text>
<text x="1229.5" y="1652.8" font-family="'Liberation Sans', Arial, sans-serif" font-size="16.5" font-weight="normal" text-anchor="end" >-5</text>
<text x="1229.5" y="1596.1" font-family="'Liberation Sans', Arial, sans-serif" font-size="16.5" font-weight="normal" text-anchor="end" >0</text>
<text x="1229.5" y="1539.4" font-family="'Liberation Sans', Arial, sans-serif" font-size="16.5" font-weight="normal" text-anchor="end" >5</text>
<text x="1229.5" y="1482.7" font-family="'Liberation Sans', Arial, sans-serif" font-size="16.5" font-weight="normal" text-anchor="end" >10</text>
<text x="1229.5" y="1426.0" font-family="'Liberation Sans', Arial, sans-serif" font-size="16.5" font-weight="normal" text-anchor="end" >15</text>
<text x="1229.5" y="1369.4" font-family="'Liberation Sans', Arial, sans-serif" font-size="16.5" font-weight="normal" text-anchor="end" >20</text>
<text x="1229.5" y="1312.7" font-family="'Liberation Sans', Arial, sans-serif" font-size="16.5" font-weight="normal" text-anchor="end" >25</text>
<text x="1229.5" y="1256.0" font-family="'Liberation Sans', Arial, sans-serif" font-size="16.5" font-weight="normal" text-anchor="end" >30</text>
<linearGradient id="cb1247" x1="0" y1="0" x2="0" y2="1"><stop offset="0.0000" stop-color="#800000"/><stop offset="0.0079" stop-color="#880000"/><stop offset="0.0157" stop-color="#900000"/><stop offset="0.0236" stop-color="#980000"/><stop offset="0.0315" stop-color="#a00000"/><stop offset="0.0394" stop-color="#a80000"/><stop offset="0.0472" stop-color="#b00000"/><stop offset="0.0551" stop-color="#b80000"/><stop offset="0.0630" stop-color="#c00000"/><stop offset="0.0709" stop-color="#c80000"/><stop offset="0.0787" stop-color="#d00000"/><stop offset="0.0866" stop-color="#d80000"/><stop offset="0.0945" stop-color="#e00000"/><stop offset="0.1024" stop-color="#e80000"/><stop offset="0.1102" stop-color="#f00000"/><stop offset="0.1181" stop-color="#f80000"/><stop offset="0.1260" stop-color="#ff0100"/><stop offset="0.1339" stop-color="#ff0900"/><stop offset="0.1417" stop-color="#ff1100"/><stop offset="0.1496" stop-color="#ff1900"/><stop offset="0.1575" stop-color="#ff2100"/><stop offset="0.1654" stop-color="#ff2900"/><stop offset="0.1732" stop-color="#ff3100"/><stop offset="0.1811" stop-color="#ff3900"/><stop offset="0.1890" stop-color="#ff4100"/><stop offset="0.1969" stop-color="#ff4900"/><stop offset="0.2047" stop-color="#ff5100"/><stop offset="0.2126" stop-color="#ff5900"/><stop offset="0.2205" stop-color="#ff6100"/><stop offset="0.2283" stop-color="#ff6900"/><stop offset="0.2362" stop-color="#ff7100"/><stop offset="0.2441" stop-color="#ff7900"/><stop offset="0.2520" stop-color="#ff8200"/><stop offset="0.2598" stop-color="#ff8a00"/><stop offset="0.2677" stop-color="#ff9200"/><stop offset="0.2756" stop-color="#ff9a00"/><stop offset="0.2835" stop-color="#ffa200"/><stop offset="0.2913" stop-color="#ffaa00"/><stop offset="0.2992" stop-color="#ffb200"/><stop offset="0.3071" stop-color="#ffba00"/><stop offset="0.3150" stop-color="#ffc200"/><stop offset="0.3228" stop-color="#ffca00"/><stop offset="0.3307" stop-color="#ffd200"/><stop offset="0.3386" stop-color="#ffda00"/><stop offset="0.3465" stop-color="#ffe200"/><stop offset="0.3543" stop-color="#ffea00"/><stop offset="0.3622" stop-color="#fff200"/><stop offset="0.3701" stop-color="#fffa00"/><stop offset="0.3780" stop-color="#fcff03"/><stop offset="0.3858" stop-color="#f4ff0b"/><stop offset="0.3937" stop-color="#ecff13"/><stop offset="0.4016" stop-color="#e4ff1b"/><stop offset="0.4094" stop-color="#dcff23"/><stop offset="0.4173" stop-color="#d4ff2b"/><stop offset="0.4252" stop-color="#ccff33"/><stop offset="0.4331" stop-color="#c4ff3b"/><stop offset="0.4409" stop-color="#bcff43"/><stop offset="0.4488" stop-color="#b4ff4b"/><stop offset="0.4567" stop-color="#acff53"/><stop offset="0.4646" stop-color="#a4ff5b"/><stop offset="0.4724" stop-color="#9cff63"/><stop offset="0.4803" stop-color="#94ff6b"/><stop offset="0.4882" stop-color="#8cff73"/><stop offset="0.4961" stop-color="#84ff7b"/><stop offset="0.5039" stop-color="#7bff84"/><stop offset="0.5118" stop-color="#73ff8c"/><stop offset="0.5197" stop-color="#6bff94"/><stop offset="0.5276" stop-color="#63ff9c"/><stop offset="0.5354" stop-color="#5bffa4"/><stop offset="0.5433" stop-color="#53ffac"/><stop offset="0.5512" stop-color="#4bffb4"/><stop offset="0.5591" stop-color="#43ffbc"/><stop offset="0.5669" stop-color="#3bffc4"/><stop offset="0.5748" stop-color="#33ffcc"/><stop offset="0.5827" stop-color="#2bffd4"/><stop offset="0.5906" stop-color="#23ffdc"/><stop offset="0.5984" stop-color="#1bffe4"/><stop offset="0.6063" stop-color="#13ffec"/><stop offset="0.6142" stop-color="#0bfff4"/><stop offset="0.6220" stop-color="#03fffc"/><stop offset="0.6299" stop-color="#00faff"/><stop offset="0.6378" stop-color="#00f2ff"/><stop offset="0.6457" stop-color="#00eaff"/><stop offset="0.6535" stop-color="#00e2ff"/><stop offset="0.6614" stop-color="#00daff"/><stop offset="0.6693" stop-color="#00d2ff"/><stop offset="0.6772" stop-color="#00caff"/><stop offset="0.6850" stop-color="#00c2ff"/><stop offset="0.6929" stop-color="#00baff"/><stop offset="0.7008" stop-color="#00b2ff"/><stop offset="0.7087" stop-color="#00aaff"/><stop offset="0.7165" stop-color="#00a2ff"/><stop offset="0.7244" stop-color="#009aff"/><stop offset="0.7323" stop-color="#0092ff"/><stop offset="0.7402" stop-color="#008aff"/><stop offset="0.7480" stop-color="#0082ff"/><stop offset="0.7559" stop-color="#0079ff"/><stop offset="0.7638" stop-color="#0071ff"/><stop offset="0.7717" stop-color="#0069ff"/><stop offset="0.7795" stop-color="#0061ff"/><stop offset="0.7874" stop-color="#0059ff"/><stop offset="0.7953" stop-color="#0051ff"/><stop offset="0.8031" stop-color="#0049ff"/><stop offset="0.8110" stop-color="#0041ff"/><stop offset="0.8189" stop-color="#0039ff"/><stop offset="0.8268" stop-color="#0031ff"/><stop offset="0.8346" stop-color="#0029ff"/><stop offset="0.8425" stop-color="#0021ff"/><stop offset="0.8504" stop-color="#0019ff"/><stop offset="0.8583" stop-color="#0011ff"/><stop offset="0.8661" stop-color="#0009ff"/><stop offset="0.8740" stop-color="#0001ff"/><stop offset="0.8819" stop-color="#0000f8"/><stop offset="0.8898" stop-color="#0000f0"/><stop offset="0.8976" stop-color="#0000e8"/><stop offset="0.9055" stop-color="#0000e0"/><stop offset="0.9134" stop-color="#0000d8"/><stop offset="0.9213" stop-color="#0000d0"/><stop offset="0.9291" stop-color="#0000c8"/><stop offset="0.9370" stop-color="#0000c0"/><stop offset="0.9449" stop-color="#0000b8"/><stop offset="0.9528" stop-color="#0000b0"/><stop offset="0.9606" stop-color="#0000a8"/><stop offset="0.9685" stop-color="#0000a0"/><stop offset="0.9764" stop-color="#000098"/><stop offset="0.9843" stop-color="#000090"/><stop offset="0.9921" stop-color="#000088"/><stop offset="1.0000" stop-color="#000080"/></linearGradient>
<rect x="1247.9" y="74.5" width="36.2" height="463.2" fill="url(#cb1247)" stroke="#333" stroke-width="1.2"/>
<text x="1290.1" y="543.7" font-family="'Liberation Sans', Arial, sans-serif" font-size="17" font-weight="normal" text-anchor="start" >0</text>
<path d="M1247.9,495.6h4M1284.1,495.6h-4" stroke="#222" stroke-width="1.4"/>
<text x="1290.1" y="501.6" font-family="'Liberation Sans', Arial, sans-serif" font-size="17" font-weight="normal" text-anchor="start" >1</text>
<path d="M1247.9,453.5h4M1284.1,453.5h-4" stroke="#222" stroke-width="1.4"/>
<text x="1290.1" y="459.5" font-family="'Liberation Sans', Arial, sans-serif" font-size="17" font-weight="normal" text-anchor="start" >2</text>
<path d="M1247.9,411.4h4M1284.1,411.4h-4" stroke="#222" stroke-width="1.4"/>
<text x="1290.1" y="417.4" font-family="'Liberation Sans', Arial, sans-serif" font-size="17" font-weight="normal" text-anchor="start" >3</text>
<path d="M1247.9,369.3h4M1284.1,369.3h-4" stroke="#222" stroke-width="1.4"/>
<text x="1290.1" y="375.3" font-family="'Liberation Sans', Arial, sans-serif" font-size="17" font-weight="normal" text-anchor="start" >4</text>
<path d="M1247.9,327.2h4M1284.1,327.2h-4" stroke="#222" stroke-width="1.4"/>
<text x="1290.1" y="333.2" font-family="'Liberation Sans', Arial, sans-serif" font-size="17" font-weight="normal" text-anchor="start" >5</text>
<path d="M1247.9,285.0h4M1284.1,285.0h-4" stroke="#222" stroke-width="1.4"/>
<text x="1290.1" y="291.0" font-family="'Liberation Sans', Arial, sans-serif" font-size="17" font-weight="normal" text-anchor="start" >6</text>
<path d="M1247.9,242.9h4M1284.1,242.9h-4" stroke="#222" stroke-width="1.4"/>
<text x="1290.1" y="248.9" font-family="'Liberation Sans', Arial, sans-serif" font-size="17" font-weight="normal" text-anchor="start" >7</text>
<path d="M1247.9,200.8h4M1284.1,200.8h-4" stroke="#222" stroke-width="1.4"/>
<text x="1290.1" y="206.8" font-family="'Liberation Sans', Arial, sans-serif" font-size="17" font-weight="normal" text-anchor="start" >8</text>
<path d="M1247.9,158.7h4M1284.1,158.7h-4" stroke="#222" stroke-width="1.4"/>
<text x="1290.1" y="164.7" font-family="'Liberation Sans', Arial, sans-serif" font-size="17" font-weight="normal" text-anchor="start" >9</text>
<path d="M1247.9,116.6h4M1284.1,116.6h-4" stroke="#222" stroke-width="1.4"/>
<text x="1290.1" y="122.6" font-family="'Liberation Sans', Arial, sans-serif" font-size="17" font-weight="normal" text-anchor="start" >10</text>
<linearGradient id="cb1951" x1="0" y1="0" x2="0" y2="1"><stop offset="0.0000" stop-color="#3c0912"/><stop offset="0.0079" stop-color="#420914"/><stop offset="0.0157" stop-color="#480a16"/><stop offset="0.0236" stop-color="#4e0a19"/><stop offset="0.0315" stop-color="#540b1b"/><stop offset="0.0394" stop-color="#5a0b1d"/><stop offset="0.0472" stop-color="#600b1f"/><stop offset="0.0551" stop-color="#660c21"/><stop offset="0.0630" stop-color="#6c0c24"/><stop offset="0.0709" stop-color="#720d26"/><stop offset="0.0787" stop-color="#780d28"/><stop offset="0.0866" stop-color="#7e0d2a"/><stop offset="0.0945" stop-color="#840e2c"/><stop offset="0.1024" stop-color="#890f2e"/><stop offset="0.1102" stop-color="#8d132d"/><stop offset="0.1181" stop-color="#90162d"/><stop offset="0.1260" stop-color="#941a2c"/><stop offset="0.1339" stop-color="#981e2b"/><stop offset="0.1417" stop-color="#9b212b"/><stop offset="0.1496" stop-color="#9f252a"/><stop offset="0.1575" stop-color="#a22829"/><stop offset="0.1654" stop-color="#a62c29"/><stop offset="0.1732" stop-color="#aa3028"/><stop offset="0.1811" stop-color="#ad3328"/><stop offset="0.1890" stop-color="#b13727"/><stop offset="0.1969" stop-color="#b53b26"/><stop offset="0.2047" stop-color="#b73f28"/><stop offset="0.2126" stop-color="#b9432d"/><stop offset="0.2205" stop-color="#bb4831"/><stop offset="0.2283" stop-color="#bc4c35"/><stop offset="0.2362" stop-color="#be5139"/><stop offset="0.2441" stop-color="#c0563d"/><stop offset="0.2520" stop-color="#c15a41"/><stop offset="0.2598" stop-color="#c35f45"/><stop offset="0.2677" stop-color="#c56349"/><stop offset="0.2756" stop-color="#c7684d"/><stop offset="0.2835" stop-color="#c86c51"/><stop offset="0.2913" stop-color="#ca7155"/><stop offset="0.2992" stop-color="#cc765a"/><stop offset="0.3071" stop-color="#cd7a5f"/><stop offset="0.3150" stop-color="#cf7e65"/><stop offset="0.3228" stop-color="#d0836a"/><stop offset="0.3307" stop-color="#d28770"/><stop offset="0.3386" stop-color="#d38b76"/><stop offset="0.3465" stop-color="#d4907b"/><stop offset="0.3543" stop-color="#d69481"/><stop offset="0.3622" stop-color="#d79887"/><stop offset="0.3701" stop-color="#d99d8c"/><stop offset="0.3780" stop-color="#daa192"/><stop offset="0.3858" stop-color="#dba598"/><stop offset="0.3937" stop-color="#ddaa9d"/><stop offset="0.4016" stop-color="#deaea3"/><stop offset="0.4094" stop-color="#e0b3a9"/><stop offset="0.4173" stop-color="#e1b8af"/><stop offset="0.4252" stop-color="#e3bdb5"/><stop offset="0.4331" stop-color="#e4c2ba"/><stop offset="0.4409" stop-color="#e6c7c0"/><stop offset="0.4488" stop-color="#e7ccc6"/><stop offset="0.4567" stop-color="#e9d1cc"/><stop offset="0.4646" stop-color="#ead6d2"/><stop offset="0.4724" stop-color="#ecdbd8"/><stop offset="0.4803" stop-color="#ede0dd"/><stop offset="0.4882" stop-color="#efe5e3"/><stop offset="0.4961" stop-color="#f0eae9"/><stop offset="0.5039" stop-color="#eeebeb"/><stop offset="0.5118" stop-color="#e7e7e8"/><stop offset="0.5197" stop-color="#e0e3e6"/><stop offset="0.5276" stop-color="#d9dfe3"/><stop offset="0.5354" stop-color="#d2dce1"/><stop offset="0.5433" stop-color="#cbd8de"/><stop offset="0.5512" stop-color="#c4d4dc"/><stop offset="0.5591" stop-color="#bdd0d9"/><stop offset="0.5669" stop-color="#b6ccd7"/><stop offset="0.5748" stop-color="#afc8d4"/><stop offset="0.5827" stop-color="#a8c4d2"/><stop offset="0.5906" stop-color="#a1c1cf"/><stop offset="0.5984" stop-color="#9abdcd"/><stop offset="0.6063" stop-color="#94b9cb"/><stop offset="0.6142" stop-color="#8db6ca"/><stop offset="0.6220" stop-color="#86b3c9"/><stop offset="0.6299" stop-color="#7fafc8"/><stop offset="0.6378" stop-color="#78acc7"/><stop offset="0.6457" stop-color="#71a9c7"/><stop offset="0.6535" stop-color="#6aa6c6"/><stop offset="0.6614" stop-color="#64a2c5"/><stop offset="0.6693" stop-color="#5d9fc4"/><stop offset="0.6772" stop-color="#569cc3"/><stop offset="0.6850" stop-color="#4f98c2"/><stop offset="0.6929" stop-color="#4895c1"/><stop offset="0.7008" stop-color="#4292c0"/><stop offset="0.7087" stop-color="#3f8ec0"/><stop offset="0.7165" stop-color="#3c8bc0"/><stop offset="0.7244" stop-color="#3988c0"/><stop offset="0.7323" stop-color="#3684bf"/><stop offset="0.7402" stop-color="#3381bf"/><stop offset="0.7480" stop-color="#307ebf"/><stop offset="0.7559" stop-color="#2d7bbf"/><stop offset="0.7638" stop-color="#2a77bf"/><stop offset="0.7717" stop-color="#2774bf"/><stop offset="0.7795" stop-color="#2471be"/><stop offset="0.7874" stop-color="#216dbe"/><stop offset="0.7953" stop-color="#1e6abe"/><stop offset="0.8031" stop-color="#1c67bd"/><stop offset="0.8110" stop-color="#1d63ba"/><stop offset="0.8189" stop-color="#1e5fb6"/><stop offset="0.8268" stop-color="#1f5cb3"/><stop offset="0.8346" stop-color="#2058b0"/><stop offset="0.8425" stop-color="#2154ad"/><stop offset="0.8504" stop-color="#2251aa"/><stop offset="0.8583" stop-color="#234da7"/><stop offset="0.8661" stop-color="#244aa4"/><stop offset="0.8740" stop-color="#2546a0"/><stop offset="0.8819" stop-color="#26429d"/><stop offset="0.8898" stop-color="#273f9a"/><stop offset="0.8976" stop-color="#283b97"/><stop offset="0.9055" stop-color="#273891"/><stop offset="0.9134" stop-color="#26368b"/><stop offset="0.9213" stop-color="#253484"/><stop offset="0.9291" stop-color="#23317e"/><stop offset="0.9370" stop-color="#222f77"/><stop offset="0.9449" stop-color="#212d71"/><stop offset="0.9528" stop-color="#202a6a"/><stop offset="0.9606" stop-color="#1e2864"/><stop offset="0.9685" stop-color="#1d255d"/><stop offset="0.9764" stop-color="#1c2357"/><stop offset="0.9843" stop-color="#1b2150"/><stop offset="0.9921" stop-color="#191e4a"/><stop offset="1.0000" stop-color="#181c43"/></linearGradient>
<rect x="1951.0" y="79.0" width="36.3" height="464.5" fill="url(#cb1951)" stroke="#333" stroke-width="1.2"/>
<path d="M1951.0,497.1h4M1987.3,497.1h-4" stroke="#222" stroke-width="1.4"/>
<text x="1993.3" y="503.1" font-family="'Liberation Sans', Arial, sans-serif" font-size="17" font-weight="normal" text-anchor="start" >-20</text>
<path d="M1951.0,450.6h4M1987.3,450.6h-4" stroke="#222" stroke-width="1.4"/>
<text x="1993.3" y="456.6" font-family="'Liberation Sans', Arial, sans-serif" font-size="17" font-weight="normal" text-anchor="start" >-15</text>
<path d="M1951.0,404.1h4M1987.3,404.1h-4" stroke="#222" stroke-width="1.4"/>
<text x="1993.3" y="410.1" font-family="'Liberation Sans', Arial, sans-serif" font-size="17" font-weight="normal" text-anchor="start" >-10</text>
<path d="M1951.0,357.7h4M1987.3,357.7h-4" stroke="#222" stroke-width="1.4"/>
<text x="1993.3" y="363.7" font-family="'Liberation Sans', Arial, sans-serif" font-size="17" font-weight="normal" text-anchor="start" >-5</text>
<path d="M1951.0,311.2h4M1987.3,311.2h-4" stroke="#222" stroke-width="1.4"/>
<text x="1993.3" y="317.2" font-family="'Liberation Sans', Arial, sans-serif" font-size="17" font-weight="normal" text-anchor="start" >0</text>
<path d="M1951.0,264.8h4M1987.3,264.8h-4" stroke="#222" stroke-width="1.4"/>
<text x="1993.3" y="270.8" font-family="'Liberation Sans', Arial, sans-serif" font-size="17" font-weight="normal" text-anchor="start" >5</text>
<path d="M1951.0,218.4h4M1987.3,218.4h-4" stroke="#222" stroke-width="1.4"/>
<text x="1993.3" y="224.4" font-family="'Liberation Sans', Arial, sans-serif" font-size="17" font-weight="normal" text-anchor="start" >10</text>
<path d="M1951.0,171.9h4M1987.3,171.9h-4" stroke="#222" stroke-width="1.4"/>
<text x="1993.3" y="177.9" font-family="'Liberation Sans', Arial, sans-serif" font-size="17" font-weight="normal" text-anchor="start" >15</text>
<path d="M1951.0,125.4h4M1987.3,125.4h-4" stroke="#222" stroke-width="1.4"/>
<text x="1993.3" y="131.4" font-family="'Liberation Sans', Arial, sans-serif" font-size="17" font-weight="normal" text-anchor="start" >20</text>
<linearGradient id="cb764" x1="0" y1="0" x2="0" y2="1"><stop offset="0.0000" stop-color="#3c0912"/><stop offset="0.0079" stop-color="#420914"/><stop offset="0.0157" stop-color="#480a16"/><stop offset="0.0236" stop-color="#4e0a19"/><stop offset="0.0315" stop-color="#540b1b"/><stop offset="0.0394" stop-color="#5a0b1d"/><stop offset="0.0472" stop-color="#600b1f"/><stop offset="0.0551" stop-color="#660c21"/><stop offset="0.0630" stop-color="#6c0c24"/><stop offset="0.0709" stop-color="#720d26"/><stop offset="0.0787" stop-color="#780d28"/><stop offset="0.0866" stop-color="#7e0d2a"/><stop offset="0.0945" stop-color="#840e2c"/><stop offset="0.1024" stop-color="#890f2e"/><stop offset="0.1102" stop-color="#8d132d"/><stop offset="0.1181" stop-color="#90162d"/><stop offset="0.1260" stop-color="#941a2c"/><stop offset="0.1339" stop-color="#981e2b"/><stop offset="0.1417" stop-color="#9b212b"/><stop offset="0.1496" stop-color="#9f252a"/><stop offset="0.1575" stop-color="#a22829"/><stop offset="0.1654" stop-color="#a62c29"/><stop offset="0.1732" stop-color="#aa3028"/><stop offset="0.1811" stop-color="#ad3328"/><stop offset="0.1890" stop-color="#b13727"/><stop offset="0.1969" stop-color="#b53b26"/><stop offset="0.2047" stop-color="#b73f28"/><stop offset="0.2126" stop-color="#b9432d"/><stop offset="0.2205" stop-color="#bb4831"/><stop offset="0.2283" stop-color="#bc4c35"/><stop offset="0.2362" stop-color="#be5139"/><stop offset="0.2441" stop-color="#c0563d"/><stop offset="0.2520" stop-color="#c15a41"/><stop offset="0.2598" stop-color="#c35f45"/><stop offset="0.2677" stop-color="#c56349"/><stop offset="0.2756" stop-color="#c7684d"/><stop offset="0.2835" stop-color="#c86c51"/><stop offset="0.2913" stop-color="#ca7155"/><stop offset="0.2992" stop-color="#cc765a"/><stop offset="0.3071" stop-color="#cd7a5f"/><stop offset="0.3150" stop-color="#cf7e65"/><stop offset="0.3228" stop-color="#d0836a"/><stop offset="0.3307" stop-color="#d28770"/><stop offset="0.3386" stop-color="#d38b76"/><stop offset="0.3465" stop-color="#d4907b"/><stop offset="0.3543" stop-color="#d69481"/><stop offset="0.3622" stop-color="#d79887"/><stop offset="0.3701" stop-color="#d99d8c"/><stop offset="0.3780" stop-color="#daa192"/><stop offset="0.3858" stop-color="#dba598"/><stop offset="0.3937" stop-color="#ddaa9d"/><stop offset="0.4016" stop-color="#deaea3"/><stop offset="0.4094" stop-color="#e0b3a9"/><stop offset="0.4173" stop-color="#e1b8af"/><stop offset="0.4252" stop-color="#e3bdb5"/><stop offset="0.4331" stop-color="#e4c2ba"/><stop offset="0.4409" stop-color="#e6c7c0"/><stop offset="0.4488" stop-color="#e7ccc6"/><stop offset="0.4567" stop-color="#e9d1cc"/><stop offset="0.4646" stop-color="#ead6d2"/><stop offset="0.4724" stop-color="#ecdbd8"/><stop offset="0.4803" stop-color="#ede0dd"/><stop offset="0.4882" stop-color="#efe5e3"/><stop offset="0.4961" stop-color="#f0eae9"/><stop offset="0.5039" stop-color="#eeebeb"/><stop offset="0.5118" stop-color="#e7e7e8"/><stop offset="0.5197" stop-color="#e0e3e6"/><stop offset="0.5276" stop-color="#d9dfe3"/><stop offset="0.5354" stop-color="#d2dce1"/><stop offset="0.5433" stop-color="#cbd8de"/><stop offset="0.5512" stop-color="#c4d4dc"/><stop offset="0.5591" stop-color="#bdd0d9"/><stop offset="0.5669" stop-color="#b6ccd7"/><stop offset="0.5748" stop-color="#afc8d4"/><stop offset="0.5827" stop-color="#a8c4d2"/><stop offset="0.5906" stop-color="#a1c1cf"/><stop offset="0.5984" stop-color="#9abdcd"/><stop offset="0.6063" stop-color="#94b9cb"/><stop offset="0.6142" stop-color="#8db6ca"/><stop offset="0.6220" stop-color="#86b3c9"/><stop offset="0.6299" stop-color="#7fafc8"/><stop offset="0.6378" stop-color="#78acc7"/><stop offset="0.6457" stop-color="#71a9c7"/><stop offset="0.6535" stop-color="#6aa6c6"/><stop offset="0.6614" stop-color="#64a2c5"/><stop offset="0.6693" stop-color="#5d9fc4"/><stop offset="0.6772" stop-color="#569cc3"/><stop offset="0.6850" stop-color="#4f98c2"/><stop offset="0.6929" stop-color="#4895c1"/><stop offset="0.7008" stop-color="#4292c0"/><stop offset="0.7087" stop-color="#3f8ec0"/><stop offset="0.7165" stop-color="#3c8bc0"/><stop offset="0.7244" stop-color="#3988c0"/><stop offset="0.7323" stop-color="#3684bf"/><stop offset="0.7402" stop-color="#3381bf"/><stop offset="0.7480" stop-color="#307ebf"/><stop offset="0.7559" stop-color="#2d7bbf"/><stop offset="0.7638" stop-color="#2a77bf"/><stop offset="0.7717" stop-color="#2774bf"/><stop offset="0.7795" stop-color="#2471be"/><stop offset="0.7874" stop-color="#216dbe"/><stop offset="0.7953" stop-color="#1e6abe"/><stop offset="0.8031" stop-color="#1c67bd"/><stop offset="0.8110" stop-color="#1d63ba"/><stop offset="0.8189" stop-color="#1e5fb6"/><stop offset="0.8268" stop-color="#1f5cb3"/><stop offset="0.8346" stop-color="#2058b0"/><stop offset="0.8425" stop-color="#2154ad"/><stop offset="0.8504" stop-color="#2251aa"/><stop offset="0.8583" stop-color="#234da7"/><stop offset="0.8661" stop-color="#244aa4"/><stop offset="0.8740" stop-color="#2546a0"/><stop offset="0.8819" stop-color="#26429d"/><stop offset="0.8898" stop-color="#273f9a"/><stop offset="0.8976" stop-color="#283b97"/><stop offset="0.9055" stop-color="#273891"/><stop offset="0.9134" stop-color="#26368b"/><stop offset="0.9213" stop-color="#253484"/><stop offset="0.9291" stop-color="#23317e"/><stop offset="0.9370" stop-color="#222f77"/><stop offset="0.9449" stop-color="#212d71"/><stop offset="0.9528" stop-color="#202a6a"/><stop offset="0.9606" stop-color="#1e2864"/><stop offset="0.9685" stop-color="#1d255d"/><stop offset="0.9764" stop-color="#1c2357"/><stop offset="0.9843" stop-color="#1b2150"/><stop offset="0.9921" stop-color="#191e4a"/><stop offset="1.0000" stop-color="#181c43"/></linearGradient>
<rect x="764.2" y="1253.0" width="38.3" height="465.0" fill="url(#cb764)" stroke="#333" stroke-width="1.2"/>
<path d="M764.2,1671.5h4M802.5,1671.5h-4" stroke="#222" stroke-width="1.4"/>
<text x="808.5" y="1677.5" font-family="'Liberation Sans', Arial, sans-serif" font-size="17" font-weight="normal" text-anchor="start" >-8</text>
<path d="M764.2,1625.0h4M802.5,1625.0h-4" stroke="#222" stroke-width="1.4"/>
<text x="808.5" y="1631.0" font-family="'Liberation Sans', Arial, sans-serif" font-size="17" font-weight="normal" text-anchor="start" >-6</text>
<path d="M764.2,1578.5h4M802.5,1578.5h-4" stroke="#222" stroke-width="1.4"/>
<text x="808.5" y="1584.5" font-family="'Liberation Sans', Arial, sans-serif" font-size="17" font-weight="normal" text-anchor="start" >-4</text>
<path d="M764.2,1532.0h4M802.5,1532.0h-4" stroke="#222" stroke-width="1.4"/>
<text x="808.5" y="1538.0" font-family="'Liberation Sans', Arial, sans-serif" font-size="17" font-weight="normal" text-anchor="start" >-2</text>
<path d="M764.2,1485.5h4M802.5,1485.5h-4" stroke="#222" stroke-width="1.4"/>
<text x="808.5" y="1491.5" font-family="'Liberation Sans', Arial, sans-serif" font-size="17" font-weight="normal" text-anchor="start" >0</text>
<path d="M764.2,1439.0h4M802.5,1439.0h-4" stroke="#222" stroke-width="1.4"/>
<text x="808.5" y="1445.0" font-family="'Liberation Sans', Arial, sans-serif" font-size="17" font-weight="normal" text-anchor="start" >2</text>
<path d="M764.2,1392.5h4M802.5,1392.5h-4" stroke="#222" stroke-width="1.4"/>
<text x="808.5" y="1398.5" font-family="'Liberation Sans', Arial, sans-serif" font-size="17" font-weight="normal" text-anchor="start" >4</text>
<path d="M764.2,1346.0h4M802.5,1346.0h-4" stroke="#222" stroke-width="1.4"/>
<text x="808.5" y="1352.0" font-family="'Liberation Sans', Arial, sans-serif" font-size="17" font-weight="normal" text-anchor="start" >6</text>
<path d="M764.2,1299.5h4M802.5,1299.5h-4" stroke="#222" stroke-width="1.4"/>
<text x="808.5" y="1305.5" font-family="'Liberation Sans', Arial, sans-serif" font-size="17" font-weight="normal" text-anchor="start" >8</text>
<linearGradient id="cb1767" x1="0" y1="0" x2="0" y2="1"><stop offset="0.0000" stop-color="#3c0912"/><stop offset="0.0079" stop-color="#420914"/><stop offset="0.0157" stop-color="#480a16"/><stop offset="0.0236" stop-color="#4e0a19"/><stop offset="0.0315" stop-color="#540b1b"/><stop offset="0.0394" stop-color="#5a0b1d"/><stop offset="0.0472" stop-color="#600b1f"/><stop offset="0.0551" stop-color="#660c21"/><stop offset="0.0630" stop-color="#6c0c24"/><stop offset="0.0709" stop-color="#720d26"/><stop offset="0.0787" stop-color="#780d28"/><stop offset="0.0866" stop-color="#7e0d2a"/><stop offset="0.0945" stop-color="#840e2c"/><stop offset="0.1024" stop-color="#890f2e"/><stop offset="0.1102" stop-color="#8d132d"/><stop offset="0.1181" stop-color="#90162d"/><stop offset="0.1260" stop-color="#941a2c"/><stop offset="0.1339" stop-color="#981e2b"/><stop offset="0.1417" stop-color="#9b212b"/><stop offset="0.1496" stop-color="#9f252a"/><stop offset="0.1575" stop-color="#a22829"/><stop offset="0.1654" stop-color="#a62c29"/><stop offset="0.1732" stop-color="#aa3028"/><stop offset="0.1811" stop-color="#ad3328"/><stop offset="0.1890" stop-color="#b13727"/><stop offset="0.1969" stop-color="#b53b26"/><stop offset="0.2047" stop-color="#b73f28"/><stop offset="0.2126" stop-color="#b9432d"/><stop offset="0.2205" stop-color="#bb4831"/><stop offset="0.2283" stop-color="#bc4c35"/><stop offset="0.2362" stop-color="#be5139"/><stop offset="0.2441" stop-color="#c0563d"/><stop offset="0.2520" stop-color="#c15a41"/><stop offset="0.2598" stop-color="#c35f45"/><stop offset="0.2677" stop-color="#c56349"/><stop offset="0.2756" stop-color="#c7684d"/><stop offset="0.2835" stop-color="#c86c51"/><stop offset="0.2913" stop-color="#ca7155"/><stop offset="0.2992" stop-color="#cc765a"/><stop offset="0.3071" stop-color="#cd7a5f"/><stop offset="0.3150" stop-color="#cf7e65"/><stop offset="0.3228" stop-color="#d0836a"/><stop offset="0.3307" stop-color="#d28770"/><stop offset="0.3386" stop-color="#d38b76"/><stop offset="0.3465" stop-color="#d4907b"/><stop offset="0.3543" stop-color="#d69481"/><stop offset="0.3622" stop-color="#d79887"/><stop offset="0.3701" stop-color="#d99d8c"/><stop offset="0.3780" stop-color="#daa192"/><stop offset="0.3858" stop-color="#dba598"/><stop offset="0.3937" stop-color="#ddaa9d"/><stop offset="0.4016" stop-color="#deaea3"/><stop offset="0.4094" stop-color="#e0b3a9"/><stop offset="0.4173" stop-color="#e1b8af"/><stop offset="0.4252" stop-color="#e3bdb5"/><stop offset="0.4331" stop-color="#e4c2ba"/><stop offset="0.4409" stop-color="#e6c7c0"/><stop offset="0.4488" stop-color="#e7ccc6"/><stop offset="0.4567" stop-color="#e9d1cc"/><stop offset="0.4646" stop-color="#ead6d2"/><stop offset="0.4724" stop-color="#ecdbd8"/><stop offset="0.4803" stop-color="#ede0dd"/><stop offset="0.4882" stop-color="#efe5e3"/><stop offset="0.4961" stop-color="#f0eae9"/><stop offset="0.5039" stop-color="#eeebeb"/><stop offset="0.5118" stop-color="#e7e7e8"/><stop offset="0.5197" stop-color="#e0e3e6"/><stop offset="0.5276" stop-color="#d9dfe3"/><stop offset="0.5354" stop-color="#d2dce1"/><stop offset="0.5433" stop-color="#cbd8de"/><stop offset="0.5512" stop-color="#c4d4dc"/><stop offset="0.5591" stop-color="#bdd0d9"/><stop offset="0.5669" stop-color="#b6ccd7"/><stop offset="0.5748" stop-color="#afc8d4"/><stop offset="0.5827" stop-color="#a8c4d2"/><stop offset="0.5906" stop-color="#a1c1cf"/><stop offset="0.5984" stop-color="#9abdcd"/><stop offset="0.6063" stop-color="#94b9cb"/><stop offset="0.6142" stop-color="#8db6ca"/><stop offset="0.6220" stop-color="#86b3c9"/><stop offset="0.6299" stop-color="#7fafc8"/><stop offset="0.6378" stop-color="#78acc7"/><stop offset="0.6457" stop-color="#71a9c7"/><stop offset="0.6535" stop-color="#6aa6c6"/><stop offset="0.6614" stop-color="#64a2c5"/><stop offset="0.6693" stop-color="#5d9fc4"/><stop offset="0.6772" stop-color="#569cc3"/><stop offset="0.6850" stop-color="#4f98c2"/><stop offset="0.6929" stop-color="#4895c1"/><stop offset="0.7008" stop-color="#4292c0"/><stop offset="0.7087" stop-color="#3f8ec0"/><stop offset="0.7165" stop-color="#3c8bc0"/><stop offset="0.7244" stop-color="#3988c0"/><stop offset="0.7323" stop-color="#3684bf"/><stop offset="0.7402" stop-color="#3381bf"/><stop offset="0.7480" stop-color="#307ebf"/><stop offset="0.7559" stop-color="#2d7bbf"/><stop offset="0.7638" stop-color="#2a77bf"/><stop offset="0.7717" stop-color="#2774bf"/><stop offset="0.7795" stop-color="#2471be"/><stop offset="0.7874" stop-color="#216dbe"/><stop offset="0.7953" stop-color="#1e6abe"/><stop offset="0.8031" stop-color="#1c67bd"/><stop offset="0.8110" stop-color="#1d63ba"/><stop offset="0.8189" stop-color="#1e5fb6"/><stop offset="0.8268" stop-color="#1f5cb3"/><stop offset="0.8346" stop-color="#2058b0"/><stop offset="0.8425" stop-color="#2154ad"/><stop offset="0.8504" stop-color="#2251aa"/><stop offset="0.8583" stop-color="#234da7"/><stop offset="0.8661" stop-color="#244aa4"/><stop offset="0.8740" stop-color="#2546a0"/><stop offset="0.8819" stop-color="#26429d"/><stop offset="0.8898" stop-color="#273f9a"/><stop offset="0.8976" stop-color="#283b97"/><stop offset="0.9055" stop-color="#273891"/><stop offset="0.9134" stop-color="#26368b"/><stop offset="0.9213" stop-color="#253484"/><stop offset="0.9291" stop-color="#23317e"/><stop offset="0.9370" stop-color="#222f77"/><stop offset="0.9449" stop-color="#212d71"/><stop offset="0.9528" stop-color="#202a6a"/><stop offset="0.9606" stop-color="#1e2864"/><stop offset="0.9685" stop-color="#1d255d"/><stop offset="0.9764" stop-color="#1c2357"/><stop offset="0.9843" stop-color="#1b2150"/><stop offset="0.9921" stop-color="#191e4a"/><stop offset="1.0000" stop-color="#181c43"/></linearGradient>
<rect x="1767.4" y="1250.0" width="36.5" height="465.7" fill="url(#cb1767)" stroke="#333" stroke-width="1.2"/>
<path d="M1767.4,1669.1h4M1803.9,1669.1h-4" stroke="#222" stroke-width="1.4"/>
<text x="1809.9" y="1675.1" font-family="'Liberation Sans', Arial, sans-serif" font-size="17" font-weight="normal" text-anchor="start" >-8</text>
<path d="M1767.4,1622.6h4M1803.9,1622.6h-4" stroke="#222" stroke-width="1.4"/>
<text x="1809.9" y="1628.6" font-family="'Liberation Sans', Arial, sans-serif" font-size="17" font-weight="normal" text-anchor="start" >-6</text>
<path d="M1767.4,1576.0h4M1803.9,1576.0h-4" stroke="#222" stroke-width="1.4"/>
<text x="1809.9" y="1582.0" font-family="'Liberation Sans', Arial, sans-serif" font-size="17" font-weight="normal" text-anchor="start" >-4</text>
<path d="M1767.4,1529.4h4M1803.9,1529.4h-4" stroke="#222" stroke-width="1.4"/>
<text x="1809.9" y="1535.4" font-family="'Liberation Sans', Arial, sans-serif" font-size="17" font-weight="normal" text-anchor="start" >-2</text>
<path d="M1767.4,1482.8h4M1803.9,1482.8h-4" stroke="#222" stroke-width="1.4"/>
<text x="1809.9" y="1488.8" font-family="'Liberation Sans', Arial, sans-serif" font-size="17" font-weight="normal" text-anchor="start" >0</text>
<path d="M1767.4,1436.3h4M1803.9,1436.3h-4" stroke="#222" stroke-width="1.4"/>
<text x="1809.9" y="1442.3" font-family="'Liberation Sans', Arial, sans-serif" font-size="17" font-weight="normal" text-anchor="start" >2</text>
<path d="M1767.4,1389.7h4M1803.9,1389.7h-4" stroke="#222" stroke-width="1.4"/>
<text x="1809.9" y="1395.7" font-family="'Liberation Sans', Arial, sans-serif" font-size="17" font-weight="normal" text-anchor="start" >4</text>
<path d="M1767.4,1343.1h4M1803.9,1343.1h-4" stroke="#222" stroke-width="1.4"/>
<text x="1809.9" y="1349.1" font-family="'Liberation Sans', Arial, sans-serif" font-size="17" font-weight="normal" text-anchor="start" >6</text>
<path d="M1767.4,1296.6h4M1803.9,1296.6h-4" stroke="#222" stroke-width="1.4"/>
<text x="1809.9" y="1302.6" font-family="'Liberation Sans', Arial, sans-serif" font-size="17" font-weight="normal" text-anchor="start" >8</text>
<text x="360.0" y="63.5" font-family="Carlito, 'Liberation Sans', sans-serif" font-size="38" font-weight="bold" text-anchor="middle" textLength="320" lengthAdjust="spacingAndGlyphs" >(a) ERA5: 1979-2005</text>
<text x="955.0" y="62.9" font-family="Carlito, 'Liberation Sans', sans-serif" font-size="38" font-weight="bold" text-anchor="middle" textLength="321" lengthAdjust="spacingAndGlyphs" >(b) ERA5: 2006-2019</text>
<text x="1667.5" y="63.6" font-family="Carlito, 'Liberation Sans', sans-serif" font-size="38" font-weight="bold" text-anchor="middle" textLength="318" lengthAdjust="spacingAndGlyphs" >(c) Δ = (b – a)*100/a</text>
<text x="496.0" y="1224.4" font-family="Carlito, 'Liberation Sans', sans-serif" font-size="38" font-weight="bold" text-anchor="middle" textLength="320" lengthAdjust="spacingAndGlyphs" >(e) ERA5: 1979-2005</text>
<text x="1501.0" y="1226.7" font-family="Carlito, 'Liberation Sans', sans-serif" font-size="38" font-weight="bold" text-anchor="middle" textLength="311.5" lengthAdjust="spacingAndGlyphs" >(f) ERA5: 2006-2019</text>
<text transform="translate(60.7,312.0) rotate(-90)" font-family="'Liberation Sans', Arial, sans-serif" font-size="21.5" font-weight="bold" text-anchor="middle" textLength="83" lengthAdjust="spacingAndGlyphs">Latitude</text>
<text transform="translate(669.5,306.6) rotate(-90)" font-family="'Liberation Sans', Arial, sans-serif" font-size="21.5" font-weight="bold" text-anchor="middle" textLength="83" lengthAdjust="spacingAndGlyphs">Latitude</text>
<text transform="translate(1373.2,311.2) rotate(-90)" font-family="'Liberation Sans', Arial, sans-serif" font-size="21.5" font-weight="bold" text-anchor="middle" textLength="83" lengthAdjust="spacingAndGlyphs">Latitude</text>
<text transform="translate(182.2,1486.0) rotate(-90)" font-family="'Liberation Sans', Arial, sans-serif" font-size="21.5" font-weight="bold" text-anchor="middle" textLength="83" lengthAdjust="spacingAndGlyphs">Latitude</text>
<text transform="translate(1190.6,1482.4) rotate(-90)" font-family="'Liberation Sans', Arial, sans-serif" font-size="21.5" font-weight="bold" text-anchor="middle" textLength="83" lengthAdjust="spacingAndGlyphs">Latitude</text>
<text x="359.0" y="591.2" font-family="'Liberation Sans', Arial, sans-serif" font-size="21.5" font-weight="bold" text-anchor="middle" textLength="104" lengthAdjust="spacingAndGlyphs" >Longitude</text>
<text x="966.6" y="586.8" font-family="'Liberation Sans', Arial, sans-serif" font-size="21.5" font-weight="bold" text-anchor="middle" textLength="104" lengthAdjust="spacingAndGlyphs" >Longitude</text>
<text x="1671.0" y="590.2" font-family="'Liberation Sans', Arial, sans-serif" font-size="21.5" font-weight="bold" text-anchor="middle" textLength="104" lengthAdjust="spacingAndGlyphs" >Longitude</text>
<text x="481.6" y="1766.0" font-family="'Liberation Sans', Arial, sans-serif" font-size="21.5" font-weight="bold" text-anchor="middle" textLength="104" lengthAdjust="spacingAndGlyphs" >Longitude</text>
<text x="1487.5" y="1763.8" font-family="'Liberation Sans', Arial, sans-serif" font-size="21.5" font-weight="bold" text-anchor="middle" textLength="104" lengthAdjust="spacingAndGlyphs" >Longitude</text>
<text x="1247.0" y="59.3" font-family="Carlito, 'Liberation Sans', sans-serif" font-size="25" font-weight="normal" text-anchor="start" textLength="43" lengthAdjust="spacingAndGlyphs" >m/s</text>
<text x="1291.0" y="80.8" font-family="Carlito, 'Liberation Sans', sans-serif" font-size="24" font-weight="normal" text-anchor="start" textLength="41" lengthAdjust="spacingAndGlyphs" >&gt; 11</text>
<text x="1959.0" y="62.7" font-family="Carlito, 'Liberation Sans', sans-serif" font-size="24" font-weight="normal" text-anchor="start" >%</text>
<text x="1994.0" y="87.6" font-family="Carlito, 'Liberation Sans', sans-serif" font-size="24" font-weight="normal" text-anchor="start" textLength="41" lengthAdjust="spacingAndGlyphs" >&gt; 25</text>
<text x="1994.0" y="542.5" font-family="Carlito, 'Liberation Sans', sans-serif" font-size="24" font-weight="normal" text-anchor="start" textLength="50" lengthAdjust="spacingAndGlyphs" >&lt; -25</text>
<text x="813" y="1264" font-family="'Liberation Sans', Arial, sans-serif" font-size="19"><tspan text-decoration="underline">&gt;</tspan>10</text>
<text x="811" y="1714.7" font-family="'Liberation Sans', Arial, sans-serif" font-size="19"><tspan text-decoration="underline">&lt;</tspan> -10</text>
<text x="1817" y="1261" font-family="'Liberation Sans', Arial, sans-serif" font-size="19"><tspan text-decoration="underline">&gt;</tspan>10</text>
<text x="1815" y="1714" font-family="'Liberation Sans', Arial, sans-serif" font-size="19"><tspan text-decoration="underline">&lt;</tspan> -10</text>
<text transform="translate(868.8,1489.5) rotate(-90)" font-family="'Liberation Sans', Arial, sans-serif" font-size="22" font-weight="bold" text-anchor="middle">wind speed trend&#160; cm s<tspan font-size="15.0" dy="-9.2">-1</tspan><tspan dy="9.2"> yr</tspan><tspan font-size="15.0" dy="-9.2">-1</tspan></text>
<text transform="translate(1864.8,1484.7) rotate(-90)" font-family="'Liberation Sans', Arial, sans-serif" font-size="19" font-weight="bold" text-anchor="middle">wind speed trend&#160; cm s<tspan font-size="12.9" dy="-8.0">-1</tspan><tspan dy="8.0"> yr</tspan><tspan font-size="12.9" dy="-8.0">-1</tspan></text>
<text x="956.5" y="661.5" font-family="Carlito, 'Liberation Sans', sans-serif" font-size="38" font-weight="bold" text-anchor="middle" textLength="1231" lengthAdjust="spacingAndGlyphs" >(d) ACS Summary of&#160; climate models in representing annual mean wind speed</text>
<line x1="146.9" y1="960.4" x2="1684.3" y2="960.4" stroke="#D0D0D0" stroke-width="2.2"/>
<line x1="146.9" y1="915.2" x2="1684.3" y2="915.2" stroke="#D0D0D0" stroke-width="2.2"/>
<line x1="146.9" y1="870.1" x2="1684.3" y2="870.1" stroke="#D0D0D0" stroke-width="2.2"/>
<line x1="146.9" y1="824.9" x2="1684.3" y2="824.9" stroke="#D0D0D0" stroke-width="2.2"/>
<line x1="146.9" y1="779.8" x2="1684.3" y2="779.8" stroke="#D0D0D0" stroke-width="2.2"/>
<line x1="146.9" y1="734.6" x2="1684.3" y2="734.6" stroke="#D0D0D0" stroke-width="2.2"/>
<text x="117.0" y="1015.7" font-family="Carlito, 'Liberation Sans', sans-serif" font-size="31" font-weight="bold" text-anchor="end" >0</text>
<text x="117.0" y="970.6" font-family="Carlito, 'Liberation Sans', sans-serif" font-size="31" font-weight="bold" text-anchor="end" >10</text>
<text x="117.0" y="925.4" font-family="Carlito, 'Liberation Sans', sans-serif" font-size="31" font-weight="bold" text-anchor="end" >20</text>
<text x="117.0" y="880.3" font-family="Carlito, 'Liberation Sans', sans-serif" font-size="31" font-weight="bold" text-anchor="end" >30</text>
<text x="117.0" y="835.2" font-family="Carlito, 'Liberation Sans', sans-serif" font-size="31" font-weight="bold" text-anchor="end" >40</text>
<text x="117.0" y="790.0" font-family="Carlito, 'Liberation Sans', sans-serif" font-size="31" font-weight="bold" text-anchor="end" >50</text>
<text x="117.0" y="744.9" font-family="Carlito, 'Liberation Sans', sans-serif" font-size="31" font-weight="bold" text-anchor="end" >60</text>
<text x="117.0" y="699.7" font-family="Carlito, 'Liberation Sans', sans-serif" font-size="31" font-weight="bold" text-anchor="end" >70</text>
<polyline points="163.6,930.1 197.0,937.3 230.5,943.2 263.9,950.9 297.3,964.9 330.7,969.8 364.1,973.0 397.6,975.3 431.0,977.5 464.4,969.4 497.8,959.0 531.2,977.5 564.7,969.4 598.1,920.2 631.5,970.7 664.9,975.3 698.4,952.2 731.8,970.7 765.2,938.7 798.6,950.0 832.0,977.5 865.5,940.9 898.9,968.5 932.3,969.8 965.7,961.7 999.2,969.8 1032.6,954.5 1066.0,964.0 1099.4,968.5 1132.8,972.1 1166.3,975.3 1199.7,961.7 1233.1,972.1 1266.5,977.5 1300.0,984.7 1333.4,961.7 1366.8,959.5 1400.2,973.0 1433.6,978.9 1467.1,981.6 1500.5,969.4 1533.9,963.5 1567.3,911.6 1600.7,948.2 1634.2,963.5 1667.6,973.0" fill="none" stroke="#00B050" stroke-width="8.5" stroke-linejoin="round" stroke-linecap="round" />














































<polyline points="163.6,974.4 197.0,933.7 230.5,937.3 263.9,927.9 297.3,956.7 330.7,960.4 364.1,960.4 397.6,958.1 431.0,959.0 464.4,958.1 497.8,937.3 531.2,952.2 564.7,872.3 598.1,928.8 631.5,964.9 664.9,971.6 698.4,910.7 731.8,962.6 765.2,935.5 798.6,930.6 832.0,973.9 865.5,933.3 898.9,962.6 932.3,955.8 965.7,935.5 999.2,940.0 1032.6,951.3 1066.0,955.8 1099.4,956.7 1132.8,946.8 1166.3,947.7 1199.7,949.1 1233.1,940.9 1266.5,953.6 1300.0,971.6 1333.4,917.9 1366.8,922.4 1400.2,957.6 1433.6,962.6 1467.1,963.5 1500.5,946.4 1533.9,942.3 1567.3,919.3 1600.7,925.1 1634.2,922.9 1667.6,967.1" fill="none" stroke="#00B050" stroke-width="8.5" stroke-linejoin="round" stroke-linecap="round" stroke-dasharray="17 20"/>














































<polyline points="163.6,992.9 197.0,953.6 230.5,964.9 263.9,985.6 297.3,991.5 330.7,990.6 364.1,997.4 397.6,1003.2 431.0,1001.0 464.4,999.6 497.8,1004.6 531.2,1004.6 564.7,990.2 598.1,987.9 631.5,1003.2 664.9,1004.6 698.4,983.4 731.8,991.5 765.2,987.0 798.6,997.4 832.0,1004.6 865.5,956.7 898.9,1004.6 932.3,998.3 965.7,991.5 999.2,993.8 1032.6,993.8 1066.0,1001.0 1099.4,998.3 1132.8,1003.2 1166.3,993.8 1199.7,997.4 1233.1,1004.6 1266.5,1004.6 1300.0,1003.2 1333.4,976.6 1366.8,974.8 1400.2,1000.1 1433.6,1001.0 1467.1,994.2 1500.5,1001.0 1533.9,985.6 1567.3,934.6 1600.7,999.2 1634.2,996.9 1667.6,982.9" fill="none" stroke="#4472C4" stroke-width="8.5" stroke-linejoin="round" stroke-linecap="round" />
<path d="M163.6,980.9 L173.6,1001.9 L153.6,1001.9 Z" fill="#5B9BD5" stroke="#000" stroke-width="2.5" stroke-linejoin="miter"/>
<path d="M197.0,941.6 L207.0,962.6 L187.0,962.6 Z" fill="#5B9BD5" stroke="#000" stroke-width="2.5" stroke-linejoin="miter"/>
<path d="M230.5,952.9 L240.5,973.9 L220.5,973.9 Z" fill="#5B9BD5" stroke="#000" stroke-width="2.5" stroke-linejoin="miter"/>
<path d="M263.9,973.6 L273.9,994.6 L253.9,994.6 Z" fill="#5B9BD5" stroke="#000" stroke-width="2.5" stroke-linejoin="miter"/>
<path d="M297.3,979.5 L307.3,1000.5 L287.3,1000.5 Z" fill="#5B9BD5" stroke="#000" stroke-width="2.5" stroke-linejoin="miter"/>
<path d="M330.7,978.6 L340.7,999.6 L320.7,999.6 Z" fill="#5B9BD5" stroke="#000" stroke-width="2.5" stroke-linejoin="miter"/>
<path d="M364.1,985.4 L374.1,1006.4 L354.1,1006.4 Z" fill="#5B9BD5" stroke="#000" stroke-width="2.5" stroke-linejoin="miter"/>
<path d="M397.6,991.2 L407.6,1012.2 L387.6,1012.2 Z" fill="#5B9BD5" stroke="#000" stroke-width="2.5" stroke-linejoin="miter"/>
<path d="M431.0,989.0 L441.0,1010.0 L421.0,1010.0 Z" fill="#5B9BD5" stroke="#000" stroke-width="2.5" stroke-linejoin="miter"/>
<path d="M464.4,987.6 L474.4,1008.6 L454.4,1008.6 Z" fill="#5B9BD5" stroke="#000" stroke-width="2.5" stroke-linejoin="miter"/>
<path d="M497.8,992.6 L507.8,1013.6 L487.8,1013.6 Z" fill="#5B9BD5" stroke="#000" stroke-width="2.5" stroke-linejoin="miter"/>
<path d="M531.2,992.6 L541.2,1013.6 L521.2,1013.6 Z" fill="#5B9BD5" stroke="#000" stroke-width="2.5" stroke-linejoin="miter"/>
<path d="M564.7,978.2 L574.7,999.2 L554.7,999.2 Z" fill="#5B9BD5" stroke="#000" stroke-width="2.5" stroke-linejoin="miter"/>
<path d="M598.1,975.9 L608.1,996.9 L588.1,996.9 Z" fill="#5B9BD5" stroke="#000" stroke-width="2.5" stroke-linejoin="miter"/>
<path d="M631.5,991.2 L641.5,1012.2 L621.5,1012.2 Z" fill="#5B9BD5" stroke="#000" stroke-width="2.5" stroke-linejoin="miter"/>
<path d="M664.9,992.6 L674.9,1013.6 L654.9,1013.6 Z" fill="#5B9BD5" stroke="#000" stroke-width="2.5" stroke-linejoin="miter"/>
<path d="M698.4,971.4 L708.4,992.4 L688.4,992.4 Z" fill="#5B9BD5" stroke="#000" stroke-width="2.5" stroke-linejoin="miter"/>
<path d="M731.8,979.5 L741.8,1000.5 L721.8,1000.5 Z" fill="#5B9BD5" stroke="#000" stroke-width="2.5" stroke-linejoin="miter"/>
<path d="M765.2,975.0 L775.2,996.0 L755.2,996.0 Z" fill="#5B9BD5" stroke="#000" stroke-width="2.5" stroke-linejoin="miter"/>
<path d="M798.6,985.4 L808.6,1006.4 L788.6,1006.4 Z" fill="#5B9BD5" stroke="#000" stroke-width="2.5" stroke-linejoin="miter"/>
<path d="M832.0,992.6 L842.0,1013.6 L822.0,1013.6 Z" fill="#5B9BD5" stroke="#000" stroke-width="2.5" stroke-linejoin="miter"/>
<path d="M865.5,944.7 L875.5,965.7 L855.5,965.7 Z" fill="#5B9BD5" stroke="#000" stroke-width="2.5" stroke-linejoin="miter"/>
<path d="M898.9,992.6 L908.9,1013.6 L888.9,1013.6 Z" fill="#5B9BD5" stroke="#000" stroke-width="2.5" stroke-linejoin="miter"/>
<path d="M932.3,986.3 L942.3,1007.3 L922.3,1007.3 Z" fill="#5B9BD5" stroke="#000" stroke-width="2.5" stroke-linejoin="miter"/>
<path d="M965.7,979.5 L975.7,1000.5 L955.7,1000.5 Z" fill="#5B9BD5" stroke="#000" stroke-width="2.5" stroke-linejoin="miter"/>
<path d="M999.2,981.8 L1009.2,1002.8 L989.2,1002.8 Z" fill="#5B9BD5" stroke="#000" stroke-width="2.5" stroke-linejoin="miter"/>
<path d="M1032.6,981.8 L1042.6,1002.8 L1022.6,1002.8 Z" fill="#5B9BD5" stroke="#000" stroke-width="2.5" stroke-linejoin="miter"/>
<path d="M1066.0,989.0 L1076.0,1010.0 L1056.0,1010.0 Z" fill="#5B9BD5" stroke="#000" stroke-width="2.5" stroke-linejoin="miter"/>
<path d="M1099.4,986.3 L1109.4,1007.3 L1089.4,1007.3 Z" fill="#5B9BD5" stroke="#000" stroke-width="2.5" stroke-linejoin="miter"/>
<path d="M1132.8,991.2 L1142.8,1012.2 L1122.8,1012.2 Z" fill="#5B9BD5" stroke="#000" stroke-width="2.5" stroke-linejoin="miter"/>
<path d="M1166.3,981.8 L1176.3,1002.8 L1156.3,1002.8 Z" fill="#5B9BD5" stroke="#000" stroke-width="2.5" stroke-linejoin="miter"/>
<path d="M1199.7,985.4 L1209.7,1006.4 L1189.7,1006.4 Z" fill="#5B9BD5" stroke="#000" stroke-width="2.5" stroke-linejoin="miter"/>
<path d="M1233.1,992.6 L1243.1,1013.6 L1223.1,1013.6 Z" fill="#5B9BD5" stroke="#000" stroke-width="2.5" stroke-linejoin="miter"/>
<path d="M1266.5,992.6 L1276.5,1013.6 L1256.5,1013.6 Z" fill="#5B9BD5" stroke="#000" stroke-width="2.5" stroke-linejoin="miter"/>
<path d="M1300.0,991.2 L1310.0,1012.2 L1290.0,1012.2 Z" fill="#5B9BD5" stroke="#000" stroke-width="2.5" stroke-linejoin="miter"/>
<path d="M1333.4,964.6 L1343.4,985.6 L1323.4,985.6 Z" fill="#5B9BD5" stroke="#000" stroke-width="2.5" stroke-linejoin="miter"/>
<path d="M1366.8,962.8 L1376.8,983.8 L1356.8,983.8 Z" fill="#5B9BD5" stroke="#000" stroke-width="2.5" stroke-linejoin="miter"/>
<path d="M1400.2,988.1 L1410.2,1009.1 L1390.2,1009.1 Z" fill="#5B9BD5" stroke="#000" stroke-width="2.5" stroke-linejoin="miter"/>
<path d="M1433.6,989.0 L1443.6,1010.0 L1423.6,1010.0 Z" fill="#5B9BD5" stroke="#000" stroke-width="2.5" stroke-linejoin="miter"/>
<path d="M1467.1,982.2 L1477.1,1003.2 L1457.1,1003.2 Z" fill="#5B9BD5" stroke="#000" stroke-width="2.5" stroke-linejoin="miter"/>
<path d="M1500.5,989.0 L1510.5,1010.0 L1490.5,1010.0 Z" fill="#5B9BD5" stroke="#000" stroke-width="2.5" stroke-linejoin="miter"/>
<path d="M1533.9,973.6 L1543.9,994.6 L1523.9,994.6 Z" fill="#5B9BD5" stroke="#000" stroke-width="2.5" stroke-linejoin="miter"/>
<path d="M1567.3,922.6 L1577.3,943.6 L1557.3,943.6 Z" fill="#5B9BD5" stroke="#000" stroke-width="2.5" stroke-linejoin="miter"/>
<path d="M1600.7,987.2 L1610.7,1008.2 L1590.7,1008.2 Z" fill="#5B9BD5" stroke="#000" stroke-width="2.5" stroke-linejoin="miter"/>
<path d="M1634.2,984.9 L1644.2,1005.9 L1624.2,1005.9 Z" fill="#5B9BD5" stroke="#000" stroke-width="2.5" stroke-linejoin="miter"/>
<path d="M1667.6,970.9 L1677.6,991.9 L1657.6,991.9 Z" fill="#5B9BD5" stroke="#000" stroke-width="2.5" stroke-linejoin="miter"/>
<polyline points="163.6,943.2 197.0,974.4 230.5,982.5 263.9,953.6 297.3,997.4 330.7,996.0 364.1,981.1 397.6,991.5 431.0,977.5 464.4,977.1 497.8,991.5 531.2,998.7 564.7,827.6 598.1,1001.0 631.5,996.0 664.9,989.2 698.4,945.5 731.8,1001.9 765.2,987.0 798.6,980.2 832.0,992.9 865.5,935.1 898.9,995.1 932.3,985.6 965.7,952.2 999.2,976.6 1032.6,992.9 1066.0,987.9 1099.4,987.0 1132.8,987.0 1166.3,978.9 1199.7,989.2 1233.1,985.6 1266.5,991.5 1300.0,1001.9 1333.4,948.6 1366.8,958.6 1400.2,995.1 1433.6,993.3 1467.1,1001.0 1500.5,986.5 1533.9,942.3 1567.3,941.4 1600.7,967.1 1634.2,966.2 1667.6,991.5" fill="none" stroke="#4472C4" stroke-width="8.5" stroke-linejoin="round" stroke-linecap="round" stroke-dasharray="17 20"/>
<circle cx="163.6" cy="943.2" r="8.2" fill="#5B9BD5" stroke="#000" stroke-width="2.5"/>
<circle cx="197.0" cy="974.4" r="8.2" fill="#5B9BD5" stroke="#000" stroke-width="2.5"/>
<circle cx="230.5" cy="982.5" r="8.2" fill="#5B9BD5" stroke="#000" stroke-width="2.5"/>
<circle cx="263.9" cy="953.6" r="8.2" fill="#5B9BD5" stroke="#000" stroke-width="2.5"/>
<circle cx="297.3" cy="997.4" r="8.2" fill="#5B9BD5" stroke="#000" stroke-width="2.5"/>
<circle cx="330.7" cy="996.0" r="8.2" fill="#5B9BD5" stroke="#000" stroke-width="2.5"/>
<circle cx="364.1" cy="981.1" r="8.2" fill="#5B9BD5" stroke="#000" stroke-width="2.5"/>
<circle cx="397.6" cy="991.5" r="8.2" fill="#5B9BD5" stroke="#000" stroke-width="2.5"/>
<circle cx="431.0" cy="977.5" r="8.2" fill="#5B9BD5" stroke="#000" stroke-width="2.5"/>
<circle cx="464.4" cy="977.1" r="8.2" fill="#5B9BD5" stroke="#000" stroke-width="2.5"/>
<circle cx="497.8" cy="991.5" r="8.2" fill="#5B9BD5" stroke="#000" stroke-width="2.5"/>
<circle cx="531.2" cy="998.7" r="8.2" fill="#5B9BD5" stroke="#000" stroke-width="2.5"/>
<circle cx="564.7" cy="827.6" r="8.2" fill="#5B9BD5" stroke="#000" stroke-width="2.5"/>
<circle cx="598.1" cy="1001.0" r="8.2" fill="#5B9BD5" stroke="#000" stroke-width="2.5"/>
<circle cx="631.5" cy="996.0" r="8.2" fill="#5B9BD5" stroke="#000" stroke-width="2.5"/>
<circle cx="664.9" cy="989.2" r="8.2" fill="#5B9BD5" stroke="#000" stroke-width="2.5"/>
<circle cx="698.4" cy="945.5" r="8.2" fill="#5B9BD5" stroke="#000" stroke-width="2.5"/>
<circle cx="731.8" cy="1001.9" r="8.2" fill="#5B9BD5" stroke="#000" stroke-width="2.5"/>
<circle cx="765.2" cy="987.0" r="8.2" fill="#5B9BD5" stroke="#000" stroke-width="2.5"/>
<circle cx="798.6" cy="980.2" r="8.2" fill="#5B9BD5" stroke="#000" stroke-width="2.5"/>
<circle cx="832.0" cy="992.9" r="8.2" fill="#5B9BD5" stroke="#000" stroke-width="2.5"/>
<circle cx="865.5" cy="935.1" r="8.2" fill="#5B9BD5" stroke="#000" stroke-width="2.5"/>
<circle cx="898.9" cy="995.1" r="8.2" fill="#5B9BD5" stroke="#000" stroke-width="2.5"/>
<circle cx="932.3" cy="985.6" r="8.2" fill="#5B9BD5" stroke="#000" stroke-width="2.5"/>
<circle cx="965.7" cy="952.2" r="8.2" fill="#5B9BD5" stroke="#000" stroke-width="2.5"/>
<circle cx="999.2" cy="976.6" r="8.2" fill="#5B9BD5" stroke="#000" stroke-width="2.5"/>
<circle cx="1032.6" cy="992.9" r="8.2" fill="#5B9BD5" stroke="#000" stroke-width="2.5"/>
<circle cx="1066.0" cy="987.9" r="8.2" fill="#5B9BD5" stroke="#000" stroke-width="2.5"/>
<circle cx="1099.4" cy="987.0" r="8.2" fill="#5B9BD5" stroke="#000" stroke-width="2.5"/>
<circle cx="1132.8" cy="987.0" r="8.2" fill="#5B9BD5" stroke="#000" stroke-width="2.5"/>
<circle cx="1166.3" cy="978.9" r="8.2" fill="#5B9BD5" stroke="#000" stroke-width="2.5"/>
<circle cx="1199.7" cy="989.2" r="8.2" fill="#5B9BD5" stroke="#000" stroke-width="2.5"/>
<circle cx="1233.1" cy="985.6" r="8.2" fill="#5B9BD5" stroke="#000" stroke-width="2.5"/>
<circle cx="1266.5" cy="991.5" r="8.2" fill="#5B9BD5" stroke="#000" stroke-width="2.5"/>
<circle cx="1300.0" cy="1001.9" r="8.2" fill="#5B9BD5" stroke="#000" stroke-width="2.5"/>
<circle cx="1333.4" cy="948.6" r="8.2" fill="#5B9BD5" stroke="#000" stroke-width="2.5"/>
<circle cx="1366.8" cy="958.6" r="8.2" fill="#5B9BD5" stroke="#000" stroke-width="2.5"/>
<circle cx="1400.2" cy="995.1" r="8.2" fill="#5B9BD5" stroke="#000" stroke-width="2.5"/>
<circle cx="1433.6" cy="993.3" r="8.2" fill="#5B9BD5" stroke="#000" stroke-width="2.5"/>
<circle cx="1467.1" cy="1001.0" r="8.2" fill="#5B9BD5" stroke="#000" stroke-width="2.5"/>
<circle cx="1500.5" cy="986.5" r="8.2" fill="#5B9BD5" stroke="#000" stroke-width="2.5"/>
<circle cx="1533.9" cy="942.3" r="8.2" fill="#5B9BD5" stroke="#000" stroke-width="2.5"/>
<circle cx="1567.3" cy="941.4" r="8.2" fill="#5B9BD5" stroke="#000" stroke-width="2.5"/>
<circle cx="1600.7" cy="967.1" r="8.2" fill="#5B9BD5" stroke="#000" stroke-width="2.5"/>
<circle cx="1634.2" cy="966.2" r="8.2" fill="#5B9BD5" stroke="#000" stroke-width="2.5"/>
<circle cx="1667.6" cy="991.5" r="8.2" fill="#5B9BD5" stroke="#000" stroke-width="2.5"/>
<polyline points="163.6,958.1 197.0,925.6 230.5,923.3 263.9,919.7 297.3,940.5 330.7,947.7 364.1,952.2 397.6,950.4 431.0,959.0 464.4,947.7 497.8,909.3 531.2,953.6 564.7,949.1 598.1,856.5 631.5,947.7 664.9,953.6 698.4,923.3 731.8,947.7 765.2,894.9 798.6,903.9 832.0,961.7 865.5,943.2 898.9,937.8 932.3,942.3 965.7,935.5 999.2,948.6 1032.6,922.0 1066.0,933.3 1099.4,943.2 1132.8,944.1 1166.3,959.5 1199.7,932.8 1233.1,940.9 1266.5,952.2 1300.0,969.8 1333.4,941.8 1366.8,941.4 1400.2,934.2 1433.6,960.4 1467.1,969.4 1500.5,934.6 1533.9,940.0 1567.3,884.5 1600.7,903.9 1634.2,934.6 1667.6,966.2" fill="none" stroke="#ED7D31" stroke-width="8.5" stroke-linejoin="round" stroke-linecap="round" />
<rect x="155.4" y="949.9" width="16.4" height="16.4" fill="#ED7D31" stroke="#000" stroke-width="2.5"/>
<rect x="188.8" y="917.4" width="16.4" height="16.4" fill="#ED7D31" stroke="#000" stroke-width="2.5"/>
<rect x="222.3" y="915.1" width="16.4" height="16.4" fill="#ED7D31" stroke="#000" stroke-width="2.5"/>
<rect x="255.7" y="911.5" width="16.4" height="16.4" fill="#ED7D31" stroke="#000" stroke-width="2.5"/>
<rect x="289.1" y="932.3" width="16.4" height="16.4" fill="#ED7D31" stroke="#000" stroke-width="2.5"/>
<rect x="322.5" y="939.5" width="16.4" height="16.4" fill="#ED7D31" stroke="#000" stroke-width="2.5"/>
<rect x="355.9" y="944.0" width="16.4" height="16.4" fill="#ED7D31" stroke="#000" stroke-width="2.5"/>
<rect x="389.4" y="942.2" width="16.4" height="16.4" fill="#ED7D31" stroke="#000" stroke-width="2.5"/>
<rect x="422.8" y="950.8" width="16.4" height="16.4" fill="#ED7D31" stroke="#000" stroke-width="2.5"/>
<rect x="456.2" y="939.5" width="16.4" height="16.4" fill="#ED7D31" stroke="#000" stroke-width="2.5"/>
<rect x="489.6" y="901.1" width="16.4" height="16.4" fill="#ED7D31" stroke="#000" stroke-width="2.5"/>
<rect x="523.0" y="945.4" width="16.4" height="16.4" fill="#ED7D31" stroke="#000" stroke-width="2.5"/>
<rect x="556.5" y="940.9" width="16.4" height="16.4" fill="#ED7D31" stroke="#000" stroke-width="2.5"/>
<rect x="589.9" y="848.3" width="16.4" height="16.4" fill="#ED7D31" stroke="#000" stroke-width="2.5"/>
<rect x="623.3" y="939.5" width="16.4" height="16.4" fill="#ED7D31" stroke="#000" stroke-width="2.5"/>
<rect x="656.7" y="945.4" width="16.4" height="16.4" fill="#ED7D31" stroke="#000" stroke-width="2.5"/>
<rect x="690.2" y="915.1" width="16.4" height="16.4" fill="#ED7D31" stroke="#000" stroke-width="2.5"/>
<rect x="723.6" y="939.5" width="16.4" height="16.4" fill="#ED7D31" stroke="#000" stroke-width="2.5"/>
<rect x="757.0" y="886.7" width="16.4" height="16.4" fill="#ED7D31" stroke="#000" stroke-width="2.5"/>
<rect x="790.4" y="895.7" width="16.4" height="16.4" fill="#ED7D31" stroke="#000" stroke-width="2.5"/>
<rect x="823.8" y="953.5" width="16.4" height="16.4" fill="#ED7D31" stroke="#000" stroke-width="2.5"/>
<rect x="857.3" y="935.0" width="16.4" height="16.4" fill="#ED7D31" stroke="#000" stroke-width="2.5"/>
<rect x="890.7" y="929.6" width="16.4" height="16.4" fill="#ED7D31" stroke="#000" stroke-width="2.5"/>
<rect x="924.1" y="934.1" width="16.4" height="16.4" fill="#ED7D31" stroke="#000" stroke-width="2.5"/>
<rect x="957.5" y="927.3" width="16.4" height="16.4" fill="#ED7D31" stroke="#000" stroke-width="2.5"/>
<rect x="991.0" y="940.4" width="16.4" height="16.4" fill="#ED7D31" stroke="#000" stroke-width="2.5"/>
<rect x="1024.4" y="913.8" width="16.4" height="16.4" fill="#ED7D31" stroke="#000" stroke-width="2.5"/>
<rect x="1057.8" y="925.1" width="16.4" height="16.4" fill="#ED7D31" stroke="#000" stroke-width="2.5"/>
<rect x="1091.2" y="935.0" width="16.4" height="16.4" fill="#ED7D31" stroke="#000" stroke-width="2.5"/>
<rect x="1124.6" y="935.9" width="16.4" height="16.4" fill="#ED7D31" stroke="#000" stroke-width="2.5"/>
<rect x="1158.1" y="951.3" width="16.4" height="16.4" fill="#ED7D31" stroke="#000" stroke-width="2.5"/>
<rect x="1191.5" y="924.6" width="16.4" height="16.4" fill="#ED7D31" stroke="#000" stroke-width="2.5"/>
<rect x="1224.9" y="932.7" width="16.4" height="16.4" fill="#ED7D31" stroke="#000" stroke-width="2.5"/>
<rect x="1258.3" y="944.0" width="16.4" height="16.4" fill="#ED7D31" stroke="#000" stroke-width="2.5"/>
<rect x="1291.8" y="961.6" width="16.4" height="16.4" fill="#ED7D31" stroke="#000" stroke-width="2.5"/>
<rect x="1325.2" y="933.6" width="16.4" height="16.4" fill="#ED7D31" stroke="#000" stroke-width="2.5"/>
<rect x="1358.6" y="933.2" width="16.4" height="16.4" fill="#ED7D31" stroke="#000" stroke-width="2.5"/>
<rect x="1392.0" y="926.0" width="16.4" height="16.4" fill="#ED7D31" stroke="#000" stroke-width="2.5"/>
<rect x="1425.4" y="952.2" width="16.4" height="16.4" fill="#ED7D31" stroke="#000" stroke-width="2.5"/>
<rect x="1458.9" y="961.2" width="16.4" height="16.4" fill="#ED7D31" stroke="#000" stroke-width="2.5"/>
<rect x="1492.3" y="926.4" width="16.4" height="16.4" fill="#ED7D31" stroke="#000" stroke-width="2.5"/>
<rect x="1525.7" y="931.8" width="16.4" height="16.4" fill="#ED7D31" stroke="#000" stroke-width="2.5"/>
<rect x="1559.1" y="876.3" width="16.4" height="16.4" fill="#ED7D31" stroke="#000" stroke-width="2.5"/>
<rect x="1592.5" y="895.7" width="16.4" height="16.4" fill="#ED7D31" stroke="#000" stroke-width="2.5"/>
<rect x="1626.0" y="926.4" width="16.4" height="16.4" fill="#ED7D31" stroke="#000" stroke-width="2.5"/>
<rect x="1659.4" y="958.0" width="16.4" height="16.4" fill="#ED7D31" stroke="#000" stroke-width="2.5"/>
<polyline points="163.6,918.4 197.0,919.7 230.5,897.2 263.9,896.3 297.3,931.5 330.7,925.1 364.1,938.2 397.6,930.1 431.0,931.9 464.4,948.6 497.8,878.2 531.2,900.8 564.7,917.9 598.1,899.9 631.5,938.7 664.9,945.5 698.4,859.7 731.8,947.7 765.2,889.0 798.6,877.3 832.0,924.7 865.5,914.3 898.9,936.0 932.3,917.9 965.7,924.7 999.2,887.7 1032.6,920.2 1066.0,927.0 1099.4,932.8 1132.8,908.4 1166.3,908.4 1199.7,914.3 1233.1,900.3 1266.5,930.6 1300.0,941.8 1333.4,887.7 1366.8,891.3 1400.2,932.8 1433.6,927.0 1467.1,949.1 1500.5,912.5 1533.9,939.6 1567.3,890.4 1600.7,892.2 1634.2,874.1 1667.6,912.5" fill="none" stroke="#ED7D31" stroke-width="8.5" stroke-linejoin="round" stroke-linecap="round" stroke-dasharray="17 20"/>
<rect x="153.1" y="907.9" width="21" height="21" fill="#ED7D31"/><path d="M154.6,918.4H172.6M163.6,909.4V927.4" stroke="#000" stroke-width="2.8"/>
<rect x="186.5" y="909.2" width="21" height="21" fill="#ED7D31"/><path d="M188.0,919.7H206.0M197.0,910.7V928.7" stroke="#000" stroke-width="2.8"/>
<rect x="220.0" y="886.7" width="21" height="21" fill="#ED7D31"/><path d="M221.5,897.2H239.5M230.5,888.2V906.2" stroke="#000" stroke-width="2.8"/>
<rect x="253.4" y="885.8" width="21" height="21" fill="#ED7D31"/><path d="M254.9,896.3H272.9M263.9,887.3V905.3" stroke="#000" stroke-width="2.8"/>
<rect x="286.8" y="921.0" width="21" height="21" fill="#ED7D31"/><path d="M288.3,931.5H306.3M297.3,922.5V940.5" stroke="#000" stroke-width="2.8"/>
<rect x="320.2" y="914.6" width="21" height="21" fill="#ED7D31"/><path d="M321.7,925.1H339.7M330.7,916.1V934.1" stroke="#000" stroke-width="2.8"/>
<rect x="353.6" y="927.7" width="21" height="21" fill="#ED7D31"/><path d="M355.1,938.2H373.1M364.1,929.2V947.2" stroke="#000" stroke-width="2.8"/>
<rect x="387.1" y="919.6" width="21" height="21" fill="#ED7D31"/><path d="M388.6,930.1H406.6M397.6,921.1V939.1" stroke="#000" stroke-width="2.8"/>
<rect x="420.5" y="921.4" width="21" height="21" fill="#ED7D31"/><path d="M422.0,931.9H440.0M431.0,922.9V940.9" stroke="#000" stroke-width="2.8"/>
<rect x="453.9" y="938.1" width="21" height="21" fill="#ED7D31"/><path d="M455.4,948.6H473.4M464.4,939.6V957.6" stroke="#000" stroke-width="2.8"/>
<rect x="487.3" y="867.7" width="21" height="21" fill="#ED7D31"/><path d="M488.8,878.2H506.8M497.8,869.2V887.2" stroke="#000" stroke-width="2.8"/>
<rect x="520.8" y="890.3" width="21" height="21" fill="#ED7D31"/><path d="M522.2,900.8H540.2M531.2,891.8V909.8" stroke="#000" stroke-width="2.8"/>
<rect x="554.2" y="907.4" width="21" height="21" fill="#ED7D31"/><path d="M555.7,917.9H573.7M564.7,908.9V926.9" stroke="#000" stroke-width="2.8"/>
<rect x="587.6" y="889.4" width="21" height="21" fill="#ED7D31"/><path d="M589.1,899.9H607.1M598.1,890.9V908.9" stroke="#000" stroke-width="2.8"/>
<rect x="621.0" y="928.2" width="21" height="21" fill="#ED7D31"/><path d="M622.5,938.7H640.5M631.5,929.7V947.7" stroke="#000" stroke-width="2.8"/>
<rect x="654.4" y="935.0" width="21" height="21" fill="#ED7D31"/><path d="M655.9,945.5H673.9M664.9,936.5V954.5" stroke="#000" stroke-width="2.8"/>
<rect x="687.9" y="849.2" width="21" height="21" fill="#ED7D31"/><path d="M689.4,859.7H707.4M698.4,850.7V868.7" stroke="#000" stroke-width="2.8"/>
<rect x="721.3" y="937.2" width="21" height="21" fill="#ED7D31"/><path d="M722.8,947.7H740.8M731.8,938.7V956.7" stroke="#000" stroke-width="2.8"/>
<rect x="754.7" y="878.5" width="21" height="21" fill="#ED7D31"/><path d="M756.2,889.0H774.2M765.2,880.0V898.0" stroke="#000" stroke-width="2.8"/>
<rect x="788.1" y="866.8" width="21" height="21" fill="#ED7D31"/><path d="M789.6,877.3H807.6M798.6,868.3V886.3" stroke="#000" stroke-width="2.8"/>
<rect x="821.5" y="914.2" width="21" height="21" fill="#ED7D31"/><path d="M823.0,924.7H841.0M832.0,915.7V933.7" stroke="#000" stroke-width="2.8"/>
<rect x="855.0" y="903.8" width="21" height="21" fill="#ED7D31"/><path d="M856.5,914.3H874.5M865.5,905.3V923.3" stroke="#000" stroke-width="2.8"/>
<rect x="888.4" y="925.5" width="21" height="21" fill="#ED7D31"/><path d="M889.9,936.0H907.9M898.9,927.0V945.0" stroke="#000" stroke-width="2.8"/>
<rect x="921.8" y="907.4" width="21" height="21" fill="#ED7D31"/><path d="M923.3,917.9H941.3M932.3,908.9V926.9" stroke="#000" stroke-width="2.8"/>
<rect x="955.2" y="914.2" width="21" height="21" fill="#ED7D31"/><path d="M956.7,924.7H974.7M965.7,915.7V933.7" stroke="#000" stroke-width="2.8"/>
<rect x="988.7" y="877.2" width="21" height="21" fill="#ED7D31"/><path d="M990.2,887.7H1008.2M999.2,878.7V896.7" stroke="#000" stroke-width="2.8"/>
<rect x="1022.1" y="909.7" width="21" height="21" fill="#ED7D31"/><path d="M1023.6,920.2H1041.6M1032.6,911.2V929.2" stroke="#000" stroke-width="2.8"/>
<rect x="1055.5" y="916.5" width="21" height="21" fill="#ED7D31"/><path d="M1057.0,927.0H1075.0M1066.0,918.0V936.0" stroke="#000" stroke-width="2.8"/>
<rect x="1088.9" y="922.3" width="21" height="21" fill="#ED7D31"/><path d="M1090.4,932.8H1108.4M1099.4,923.8V941.8" stroke="#000" stroke-width="2.8"/>
<rect x="1122.3" y="897.9" width="21" height="21" fill="#ED7D31"/><path d="M1123.8,908.4H1141.8M1132.8,899.4V917.4" stroke="#000" stroke-width="2.8"/>
<rect x="1155.8" y="897.9" width="21" height="21" fill="#ED7D31"/><path d="M1157.3,908.4H1175.3M1166.3,899.4V917.4" stroke="#000" stroke-width="2.8"/>
<rect x="1189.2" y="903.8" width="21" height="21" fill="#ED7D31"/><path d="M1190.7,914.3H1208.7M1199.7,905.3V923.3" stroke="#000" stroke-width="2.8"/>
<rect x="1222.6" y="889.8" width="21" height="21" fill="#ED7D31"/><path d="M1224.1,900.3H1242.1M1233.1,891.3V909.3" stroke="#000" stroke-width="2.8"/>
<rect x="1256.0" y="920.1" width="21" height="21" fill="#ED7D31"/><path d="M1257.5,930.6H1275.5M1266.5,921.6V939.6" stroke="#000" stroke-width="2.8"/>
<rect x="1289.5" y="931.3" width="21" height="21" fill="#ED7D31"/><path d="M1291.0,941.8H1309.0M1300.0,932.8V950.8" stroke="#000" stroke-width="2.8"/>
<rect x="1322.9" y="877.2" width="21" height="21" fill="#ED7D31"/><path d="M1324.4,887.7H1342.4M1333.4,878.7V896.7" stroke="#000" stroke-width="2.8"/>
<rect x="1356.3" y="880.8" width="21" height="21" fill="#ED7D31"/><path d="M1357.8,891.3H1375.8M1366.8,882.3V900.3" stroke="#000" stroke-width="2.8"/>
<rect x="1389.7" y="922.3" width="21" height="21" fill="#ED7D31"/><path d="M1391.2,932.8H1409.2M1400.2,923.8V941.8" stroke="#000" stroke-width="2.8"/>
<rect x="1423.1" y="916.5" width="21" height="21" fill="#ED7D31"/><path d="M1424.6,927.0H1442.6M1433.6,918.0V936.0" stroke="#000" stroke-width="2.8"/>
<rect x="1456.6" y="938.6" width="21" height="21" fill="#ED7D31"/><path d="M1458.1,949.1H1476.1M1467.1,940.1V958.1" stroke="#000" stroke-width="2.8"/>
<rect x="1490.0" y="902.0" width="21" height="21" fill="#ED7D31"/><path d="M1491.5,912.5H1509.5M1500.5,903.5V921.5" stroke="#000" stroke-width="2.8"/>
<rect x="1523.4" y="929.1" width="21" height="21" fill="#ED7D31"/><path d="M1524.9,939.6H1542.9M1533.9,930.6V948.6" stroke="#000" stroke-width="2.8"/>
<rect x="1556.8" y="879.9" width="21" height="21" fill="#ED7D31"/><path d="M1558.3,890.4H1576.3M1567.3,881.4V899.4" stroke="#000" stroke-width="2.8"/>
<rect x="1590.2" y="881.7" width="21" height="21" fill="#ED7D31"/><path d="M1591.7,892.2H1609.7M1600.7,883.2V901.2" stroke="#000" stroke-width="2.8"/>
<rect x="1623.7" y="863.6" width="21" height="21" fill="#ED7D31"/><path d="M1625.2,874.1H1643.2M1634.2,865.1V883.1" stroke="#000" stroke-width="2.8"/>
<rect x="1657.1" y="902.0" width="21" height="21" fill="#ED7D31"/><path d="M1658.6,912.5H1676.6M1667.6,903.5V921.5" stroke="#000" stroke-width="2.8"/>
<rect x="146.9" y="689.5" width="1537.4" height="316.0" fill="none" stroke="#000" stroke-width="2.6"/>
<line x1="163.6" y1="1005.5" x2="163.6" y2="1014.5" stroke="#000" stroke-width="2.2"/>
<line x1="197.0" y1="1005.5" x2="197.0" y2="1014.5" stroke="#000" stroke-width="2.2"/>
<line x1="230.5" y1="1005.5" x2="230.5" y2="1014.5" stroke="#000" stroke-width="2.2"/>
<line x1="263.9" y1="1005.5" x2="263.9" y2="1014.5" stroke="#000" stroke-width="2.2"/>
<line x1="297.3" y1="1005.5" x2="297.3" y2="1014.5" stroke="#000" stroke-width="2.2"/>
<line x1="330.7" y1="1005.5" x2="330.7" y2="1014.5" stroke="#000" stroke-width="2.2"/>
<line x1="364.1" y1="1005.5" x2="364.1" y2="1014.5" stroke="#000" stroke-width="2.2"/>
<line x1="397.6" y1="1005.5" x2="397.6" y2="1014.5" stroke="#000" stroke-width="2.2"/>
<line x1="431.0" y1="1005.5" x2="431.0" y2="1014.5" stroke="#000" stroke-width="2.2"/>
<line x1="464.4" y1="1005.5" x2="464.4" y2="1014.5" stroke="#000" stroke-width="2.2"/>
<line x1="497.8" y1="1005.5" x2="497.8" y2="1014.5" stroke="#000" stroke-width="2.2"/>
<line x1="531.2" y1="1005.5" x2="531.2" y2="1014.5" stroke="#000" stroke-width="2.2"/>
<line x1="564.7" y1="1005.5" x2="564.7" y2="1014.5" stroke="#000" stroke-width="2.2"/>
<line x1="598.1" y1="1005.5" x2="598.1" y2="1014.5" stroke="#000" stroke-width="2.2"/>
<line x1="631.5" y1="1005.5" x2="631.5" y2="1014.5" stroke="#000" stroke-width="2.2"/>
<line x1="664.9" y1="1005.5" x2="664.9" y2="1014.5" stroke="#000" stroke-width="2.2"/>
<line x1="698.4" y1="1005.5" x2="698.4" y2="1014.5" stroke="#000" stroke-width="2.2"/>
<line x1="731.8" y1="1005.5" x2="731.8" y2="1014.5" stroke="#000" stroke-width="2.2"/>
<line x1="765.2" y1="1005.5" x2="765.2" y2="1014.5" stroke="#000" stroke-width="2.2"/>
<line x1="798.6" y1="1005.5" x2="798.6" y2="1014.5" stroke="#000" stroke-width="2.2"/>
<line x1="832.0" y1="1005.5" x2="832.0" y2="1014.5" stroke="#000" stroke-width="2.2"/>
<line x1="865.5" y1="1005.5" x2="865.5" y2="1014.5" stroke="#000" stroke-width="2.2"/>
<line x1="898.9" y1="1005.5" x2="898.9" y2="1014.5" stroke="#000" stroke-width="2.2"/>
<line x1="932.3" y1="1005.5" x2="932.3" y2="1014.5" stroke="#000" stroke-width="2.2"/>
<line x1="965.7" y1="1005.5" x2="965.7" y2="1014.5" stroke="#000" stroke-width="2.2"/>
<line x1="999.2" y1="1005.5" x2="999.2" y2="1014.5" stroke="#000" stroke-width="2.2"/>
<line x1="1032.6" y1="1005.5" x2="1032.6" y2="1014.5" stroke="#000" stroke-width="2.2"/>
<line x1="1066.0" y1="1005.5" x2="1066.0" y2="1014.5" stroke="#000" stroke-width="2.2"/>
<line x1="1099.4" y1="1005.5" x2="1099.4" y2="1014.5" stroke="#000" stroke-width="2.2"/>
<line x1="1132.8" y1="1005.5" x2="1132.8" y2="1014.5" stroke="#000" stroke-width="2.2"/>
<line x1="1166.3" y1="1005.5" x2="1166.3" y2="1014.5" stroke="#000" stroke-width="2.2"/>
<line x1="1199.7" y1="1005.5" x2="1199.7" y2="1014.5" stroke="#000" stroke-width="2.2"/>
<line x1="1233.1" y1="1005.5" x2="1233.1" y2="1014.5" stroke="#000" stroke-width="2.2"/>
<line x1="1266.5" y1="1005.5" x2="1266.5" y2="1014.5" stroke="#000" stroke-width="2.2"/>
<line x1="1300.0" y1="1005.5" x2="1300.0" y2="1014.5" stroke="#000" stroke-width="2.2"/>
<line x1="1333.4" y1="1005.5" x2="1333.4" y2="1014.5" stroke="#000" stroke-width="2.2"/>
<line x1="1366.8" y1="1005.5" x2="1366.8" y2="1014.5" stroke="#000" stroke-width="2.2"/>
<line x1="1400.2" y1="1005.5" x2="1400.2" y2="1014.5" stroke="#000" stroke-width="2.2"/>
<line x1="1433.6" y1="1005.5" x2="1433.6" y2="1014.5" stroke="#000" stroke-width="2.2"/>
<line x1="1467.1" y1="1005.5" x2="1467.1" y2="1014.5" stroke="#000" stroke-width="2.2"/>
<line x1="1500.5" y1="1005.5" x2="1500.5" y2="1014.5" stroke="#000" stroke-width="2.2"/>
<line x1="1533.9" y1="1005.5" x2="1533.9" y2="1014.5" stroke="#000" stroke-width="2.2"/>
<line x1="1567.3" y1="1005.5" x2="1567.3" y2="1014.5" stroke="#000" stroke-width="2.2"/>
<line x1="1600.7" y1="1005.5" x2="1600.7" y2="1014.5" stroke="#000" stroke-width="2.2"/>
<line x1="1634.2" y1="1005.5" x2="1634.2" y2="1014.5" stroke="#000" stroke-width="2.2"/>
<line x1="1667.6" y1="1005.5" x2="1667.6" y2="1014.5" stroke="#000" stroke-width="2.2"/>
<text transform="translate(171.7,1020.0) rotate(-90)" font-family="Carlito, 'Liberation Sans', sans-serif" font-size="24.5" font-weight="bold" text-anchor="end" textLength="12.42" lengthAdjust="spacingAndGlyphs">1</text>
<text transform="translate(205.1,1020.0) rotate(-90)" font-family="Carlito, 'Liberation Sans', sans-serif" font-size="24.5" font-weight="bold" text-anchor="end" textLength="12.42" lengthAdjust="spacingAndGlyphs">2</text>
<text transform="translate(238.5,1020.0) rotate(-90)" font-family="Carlito, 'Liberation Sans', sans-serif" font-size="24.5" font-weight="bold" text-anchor="end" textLength="12.42" lengthAdjust="spacingAndGlyphs">3</text>
<text transform="translate(272.0,1020.0) rotate(-90)" font-family="Carlito, 'Liberation Sans', sans-serif" font-size="24.5" font-weight="bold" text-anchor="end" textLength="12.42" lengthAdjust="spacingAndGlyphs">4</text>
<text transform="translate(305.4,1020.0) rotate(-90)" font-family="Carlito, 'Liberation Sans', sans-serif" font-size="24.5" font-weight="bold" text-anchor="end" textLength="12.42" lengthAdjust="spacingAndGlyphs">5</text>
<text transform="translate(338.8,1020.0) rotate(-90)" font-family="Carlito, 'Liberation Sans', sans-serif" font-size="24.5" font-weight="bold" text-anchor="end" textLength="12.42" lengthAdjust="spacingAndGlyphs">6</text>
<text transform="translate(372.2,1020.0) rotate(-90)" font-family="Carlito, 'Liberation Sans', sans-serif" font-size="24.5" font-weight="bold" text-anchor="end" textLength="66.06" lengthAdjust="spacingAndGlyphs">6_RCA</text>
<text transform="translate(405.6,1020.0) rotate(-90)" font-family="Carlito, 'Liberation Sans', sans-serif" font-size="24.5" font-weight="bold" text-anchor="end" textLength="96.39" lengthAdjust="spacingAndGlyphs">6_RegCM</text>
<text transform="translate(439.1,1020.0) rotate(-90)" font-family="Carlito, 'Liberation Sans', sans-serif" font-size="24.5" font-weight="bold" text-anchor="end" textLength="12.42" lengthAdjust="spacingAndGlyphs">7</text>
<text transform="translate(472.5,1020.0) rotate(-90)" font-family="Carlito, 'Liberation Sans', sans-serif" font-size="24.5" font-weight="bold" text-anchor="end" textLength="12.42" lengthAdjust="spacingAndGlyphs">8</text>
<text transform="translate(505.9,1020.0) rotate(-90)" font-family="Carlito, 'Liberation Sans', sans-serif" font-size="24.5" font-weight="bold" text-anchor="end" textLength="12.42" lengthAdjust="spacingAndGlyphs">9</text>
<text transform="translate(539.3,1020.0) rotate(-90)" font-family="Carlito, 'Liberation Sans', sans-serif" font-size="24.5" font-weight="bold" text-anchor="end" textLength="66.06" lengthAdjust="spacingAndGlyphs">9_RCA</text>
<text transform="translate(572.8,1020.0) rotate(-90)" font-family="Carlito, 'Liberation Sans', sans-serif" font-size="24.5" font-weight="bold" text-anchor="end" textLength="96.39" lengthAdjust="spacingAndGlyphs">9_RegCM</text>
<text transform="translate(606.2,1020.0) rotate(-90)" font-family="Carlito, 'Liberation Sans', sans-serif" font-size="24.5" font-weight="bold" text-anchor="end" textLength="24.84" lengthAdjust="spacingAndGlyphs">10</text>
<text transform="translate(639.6,1020.0) rotate(-90)" font-family="Carlito, 'Liberation Sans', sans-serif" font-size="24.5" font-weight="bold" text-anchor="end" textLength="78.47" lengthAdjust="spacingAndGlyphs">10_RCA</text>
<text transform="translate(673.0,1020.0) rotate(-90)" font-family="Carlito, 'Liberation Sans', sans-serif" font-size="24.5" font-weight="bold" text-anchor="end" textLength="108.81" lengthAdjust="spacingAndGlyphs">10_RegCM</text>
<text transform="translate(706.4,1020.0) rotate(-90)" font-family="Carlito, 'Liberation Sans', sans-serif" font-size="24.5" font-weight="bold" text-anchor="end" textLength="24.84" lengthAdjust="spacingAndGlyphs">11</text>
<text transform="translate(739.9,1020.0) rotate(-90)" font-family="Carlito, 'Liberation Sans', sans-serif" font-size="24.5" font-weight="bold" text-anchor="end" textLength="24.84" lengthAdjust="spacingAndGlyphs">12</text>
<text transform="translate(773.3,1020.0) rotate(-90)" font-family="Carlito, 'Liberation Sans', sans-serif" font-size="24.5" font-weight="bold" text-anchor="end" textLength="24.84" lengthAdjust="spacingAndGlyphs">13</text>
<text transform="translate(806.7,1020.0) rotate(-90)" font-family="Carlito, 'Liberation Sans', sans-serif" font-size="24.5" font-weight="bold" text-anchor="end" textLength="24.84" lengthAdjust="spacingAndGlyphs">14</text>
<text transform="translate(840.1,1020.0) rotate(-90)" font-family="Carlito, 'Liberation Sans', sans-serif" font-size="24.5" font-weight="bold" text-anchor="end" textLength="78.47" lengthAdjust="spacingAndGlyphs">14_RCA</text>
<text transform="translate(873.6,1020.0) rotate(-90)" font-family="Carlito, 'Liberation Sans', sans-serif" font-size="24.5" font-weight="bold" text-anchor="end" textLength="108.81" lengthAdjust="spacingAndGlyphs">14_RegCM</text>
<text transform="translate(907.0,1020.0) rotate(-90)" font-family="Carlito, 'Liberation Sans', sans-serif" font-size="24.5" font-weight="bold" text-anchor="end" textLength="24.84" lengthAdjust="spacingAndGlyphs">15</text>
<text transform="translate(940.4,1020.0) rotate(-90)" font-family="Carlito, 'Liberation Sans', sans-serif" font-size="24.5" font-weight="bold" text-anchor="end" textLength="24.84" lengthAdjust="spacingAndGlyphs">16</text>
<text transform="translate(973.8,1020.0) rotate(-90)" font-family="Carlito, 'Liberation Sans', sans-serif" font-size="24.5" font-weight="bold" text-anchor="end" textLength="24.84" lengthAdjust="spacingAndGlyphs">17</text>
<text transform="translate(1007.2,1020.0) rotate(-90)" font-family="Carlito, 'Liberation Sans', sans-serif" font-size="24.5" font-weight="bold" text-anchor="end" textLength="78.47" lengthAdjust="spacingAndGlyphs">17_RCA</text>
<text transform="translate(1040.7,1020.0) rotate(-90)" font-family="Carlito, 'Liberation Sans', sans-serif" font-size="24.5" font-weight="bold" text-anchor="end" textLength="24.84" lengthAdjust="spacingAndGlyphs">18</text>
<text transform="translate(1074.1,1020.0) rotate(-90)" font-family="Carlito, 'Liberation Sans', sans-serif" font-size="24.5" font-weight="bold" text-anchor="end" textLength="24.84" lengthAdjust="spacingAndGlyphs">19</text>
<text transform="translate(1107.5,1020.0) rotate(-90)" font-family="Carlito, 'Liberation Sans', sans-serif" font-size="24.5" font-weight="bold" text-anchor="end" textLength="108.81" lengthAdjust="spacingAndGlyphs">19_RegCM</text>
<text transform="translate(1140.9,1020.0) rotate(-90)" font-family="Carlito, 'Liberation Sans', sans-serif" font-size="24.5" font-weight="bold" text-anchor="end" textLength="24.84" lengthAdjust="spacingAndGlyphs">20</text>
<text transform="translate(1174.3,1020.0) rotate(-90)" font-family="Carlito, 'Liberation Sans', sans-serif" font-size="24.5" font-weight="bold" text-anchor="end" textLength="78.47" lengthAdjust="spacingAndGlyphs">20_RCA</text>
<text transform="translate(1207.8,1020.0) rotate(-90)" font-family="Carlito, 'Liberation Sans', sans-serif" font-size="24.5" font-weight="bold" text-anchor="end" textLength="24.84" lengthAdjust="spacingAndGlyphs">21</text>
<text transform="translate(1241.2,1020.0) rotate(-90)" font-family="Carlito, 'Liberation Sans', sans-serif" font-size="24.5" font-weight="bold" text-anchor="end" textLength="24.84" lengthAdjust="spacingAndGlyphs">22</text>
<text transform="translate(1274.6,1020.0) rotate(-90)" font-family="Carlito, 'Liberation Sans', sans-serif" font-size="24.5" font-weight="bold" text-anchor="end" textLength="24.84" lengthAdjust="spacingAndGlyphs">23</text>
<text transform="translate(1308.0,1020.0) rotate(-90)" font-family="Carlito, 'Liberation Sans', sans-serif" font-size="24.5" font-weight="bold" text-anchor="end" textLength="78.47" lengthAdjust="spacingAndGlyphs">23_RCA</text>
<text transform="translate(1341.5,1020.0) rotate(-90)" font-family="Carlito, 'Liberation Sans', sans-serif" font-size="24.5" font-weight="bold" text-anchor="end" textLength="24.84" lengthAdjust="spacingAndGlyphs">24</text>
<text transform="translate(1374.9,1020.0) rotate(-90)" font-family="Carlito, 'Liberation Sans', sans-serif" font-size="24.5" font-weight="bold" text-anchor="end" textLength="24.84" lengthAdjust="spacingAndGlyphs">25</text>
<text transform="translate(1408.3,1020.0) rotate(-90)" font-family="Carlito, 'Liberation Sans', sans-serif" font-size="24.5" font-weight="bold" text-anchor="end" textLength="24.84" lengthAdjust="spacingAndGlyphs">26</text>
<text transform="translate(1441.7,1020.0) rotate(-90)" font-family="Carlito, 'Liberation Sans', sans-serif" font-size="24.5" font-weight="bold" text-anchor="end" textLength="78.47" lengthAdjust="spacingAndGlyphs">26_RCA</text>
<text transform="translate(1475.1,1020.0) rotate(-90)" font-family="Carlito, 'Liberation Sans', sans-serif" font-size="24.5" font-weight="bold" text-anchor="end" textLength="100.77" lengthAdjust="spacingAndGlyphs">26_REMO</text>
<text transform="translate(1508.6,1020.0) rotate(-90)" font-family="Carlito, 'Liberation Sans', sans-serif" font-size="24.5" font-weight="bold" text-anchor="end" textLength="24.84" lengthAdjust="spacingAndGlyphs">27</text>
<text transform="translate(1542.0,1020.0) rotate(-90)" font-family="Carlito, 'Liberation Sans', sans-serif" font-size="24.5" font-weight="bold" text-anchor="end" textLength="108.81" lengthAdjust="spacingAndGlyphs">27_RegCM</text>
<text transform="translate(1575.4,1020.0) rotate(-90)" font-family="Carlito, 'Liberation Sans', sans-serif" font-size="24.5" font-weight="bold" text-anchor="end" textLength="24.84" lengthAdjust="spacingAndGlyphs">28</text>
<text transform="translate(1608.8,1020.0) rotate(-90)" font-family="Carlito, 'Liberation Sans', sans-serif" font-size="24.5" font-weight="bold" text-anchor="end" textLength="24.84" lengthAdjust="spacingAndGlyphs">29</text>
<text transform="translate(1642.3,1020.0) rotate(-90)" font-family="Carlito, 'Liberation Sans', sans-serif" font-size="24.5" font-weight="bold" text-anchor="end" textLength="24.84" lengthAdjust="spacingAndGlyphs">32</text>
<text transform="translate(1675.7,1020.0) rotate(-90)" font-family="Carlito, 'Liberation Sans', sans-serif" font-size="24.5" font-weight="bold" text-anchor="end" textLength="78.47" lengthAdjust="spacingAndGlyphs">31_RCA</text>
<text transform="translate(58,888) rotate(-90)" font-family="'Liberation Serif', serif" font-weight="bold" font-size="44"><tspan font-style="italic">P</tspan><tspan font-style="italic" font-size="32" dy="7">b</tspan><tspan dy="-7">(%)</tspan></text>
<text x="951.6" y="1174.0" font-family="Carlito, 'Liberation Sans', sans-serif" font-size="39.5" font-weight="bold" text-anchor="middle" textLength="151.5" lengthAdjust="spacingAndGlyphs" >Model ID</text>
<line x1="1720.8" y1="703.5" x2="1821.4" y2="703.5" stroke="#00B050" stroke-width="9" stroke-linecap="round"/>
<text x="1834.3" y="712.7" font-family="Carlito, 'Liberation Sans', sans-serif" font-size="28" font-weight="bold" text-anchor="start" textLength="245.05" lengthAdjust="spacingAndGlyphs" >SA domain_historical</text>
<line x1="1720.8" y1="761.7" x2="1821.4" y2="761.7" stroke="#00B050" stroke-width="9" stroke-linecap="round" stroke-dasharray="18.5 18.5"/>
<text x="1834.3" y="770.9" font-family="Carlito, 'Liberation Sans', sans-serif" font-size="28" font-weight="bold" text-anchor="start" textLength="227.22" lengthAdjust="spacingAndGlyphs" >SA domain_present</text>
<line x1="1720.8" y1="819.9" x2="1821.4" y2="819.9" stroke="#4472C4" stroke-width="9" stroke-linecap="round"/>
<path d="M1771.1,807.9 L1781.1,828.9 L1761.1,828.9 Z" fill="#5B9BD5" stroke="#000" stroke-width="2.5" stroke-linejoin="miter"/>
<text x="1834.3" y="829.1" font-family="Carlito, 'Liberation Sans', sans-serif" font-size="28" font-weight="bold" text-anchor="start" textLength="193.88" lengthAdjust="spacingAndGlyphs" >Ocean_historical</text>
<line x1="1720.8" y1="878.1" x2="1821.4" y2="878.1" stroke="#4472C4" stroke-width="9" stroke-linecap="round" stroke-dasharray="18.5 18.5"/>
<circle cx="1771.1" cy="878.1" r="8.2" fill="#5B9BD5" stroke="#000" stroke-width="2.5"/>
<text x="1834.3" y="887.3" font-family="Carlito, 'Liberation Sans', sans-serif" font-size="28" font-weight="bold" text-anchor="start" textLength="176.05" lengthAdjust="spacingAndGlyphs" >Ocean_present</text>
<line x1="1720.8" y1="936.3" x2="1821.4" y2="936.3" stroke="#ED7D31" stroke-width="9" stroke-linecap="round"/>
<rect x="1762.9" y="928.1" width="16.4" height="16.4" fill="#ED7D31" stroke="#000" stroke-width="2.5"/>
<text x="1834.3" y="945.5" font-family="Carlito, 'Liberation Sans', sans-serif" font-size="28" font-weight="bold" text-anchor="start" textLength="175.98" lengthAdjust="spacingAndGlyphs" >Land_historical</text>
<line x1="1720.8" y1="994.5" x2="1821.4" y2="994.5" stroke="#ED7D31" stroke-width="9" stroke-linecap="round" stroke-dasharray="18.5 18.5"/>
<rect x="1760.6" y="984.0" width="21" height="21" fill="#ED7D31"/><path d="M1762.1,994.5H1780.1M1771.1,985.5V1003.5" stroke="#000" stroke-width="2.8"/>
<text x="1834.3" y="1003.7" font-family="Carlito, 'Liberation Sans', sans-serif" font-size="28" font-weight="bold" text-anchor="start" textLength="158.16" lengthAdjust="spacingAndGlyphs" >Land_present</text>
<text x="993.0" y="1840.0" font-family="Carlito, 'Liberation Sans', sans-serif" font-size="38" font-weight="bold" text-anchor="middle" textLength="1326" lengthAdjust="spacingAndGlyphs" >(g) ACS Summary of&#160; climate models in representing annual mean wind speed trend</text>
<line x1="108.8" y1="2132.3" x2="1701.6" y2="2132.3" stroke="#D0D0D0" stroke-width="2.2"/>
<line x1="108.8" y1="2088.0" x2="1701.6" y2="2088.0" stroke="#D0D0D0" stroke-width="2.2"/>
<line x1="108.8" y1="2043.7" x2="1701.6" y2="2043.7" stroke="#D0D0D0" stroke-width="2.2"/>
<line x1="108.8" y1="1999.4" x2="1701.6" y2="1999.4" stroke="#D0D0D0" stroke-width="2.2"/>
<line x1="108.8" y1="1955.1" x2="1701.6" y2="1955.1" stroke="#D0D0D0" stroke-width="2.2"/>
<line x1="108.8" y1="1910.8" x2="1701.6" y2="1910.8" stroke="#D0D0D0" stroke-width="2.2"/>
<text x="79.0" y="2186.8" font-family="Carlito, 'Liberation Sans', sans-serif" font-size="31" font-weight="bold" text-anchor="end" >0</text>
<text x="79.0" y="2142.5" font-family="Carlito, 'Liberation Sans', sans-serif" font-size="31" font-weight="bold" text-anchor="end" >1</text>
<text x="79.0" y="2098.2" font-family="Carlito, 'Liberation Sans', sans-serif" font-size="31" font-weight="bold" text-anchor="end" >2</text>
<text x="79.0" y="2053.9" font-family="Carlito, 'Liberation Sans', sans-serif" font-size="31" font-weight="bold" text-anchor="end" >3</text>
<text x="79.0" y="2009.6" font-family="Carlito, 'Liberation Sans', sans-serif" font-size="31" font-weight="bold" text-anchor="end" >4</text>
<text x="79.0" y="1965.3" font-family="Carlito, 'Liberation Sans', sans-serif" font-size="31" font-weight="bold" text-anchor="end" >5</text>
<text x="79.0" y="1921.0" font-family="Carlito, 'Liberation Sans', sans-serif" font-size="31" font-weight="bold" text-anchor="end" >6</text>
<text x="79.0" y="1876.7" font-family="Carlito, 'Liberation Sans', sans-serif" font-size="31" font-weight="bold" text-anchor="end" >7</text>
<polyline points="126.1,2125.7 160.7,2132.3 195.4,2130.1 230.0,2132.3 264.6,2127.9 299.2,2130.1 333.9,2134.5 368.5,2138.9 403.1,2138.9 437.7,2141.2 472.4,2136.7 507.0,2134.5 541.6,2133.2 576.3,2133.2 610.9,2136.7 645.5,2132.3 680.1,2129.6 714.8,2133.2 749.4,2134.5 784.0,2138.9 818.6,2146.0 853.3,2141.2 887.9,2132.3 922.5,2123.0 957.1,2119.5 991.8,2114.6 1026.4,2120.3 1061.0,2118.1 1095.6,2133.2 1130.3,2127.4 1164.9,2132.3 1199.5,2120.3 1234.1,2118.1 1268.8,2112.4 1303.4,2120.3 1338.0,2114.6 1372.7,2113.7 1407.3,2128.8 1441.9,2129.6 1476.5,2136.7 1511.2,2129.6 1545.8,2123.0 1580.4,2127.4 1615.0,2131.0 1649.7,2129.6 1684.3,2127.4" fill="none" stroke="#00B050" stroke-width="8.5" stroke-linejoin="round" stroke-linecap="round" />














































<polyline points="126.1,2119.0 160.7,2110.2 195.4,2119.0 230.0,2102.2 264.6,2109.3 299.2,2109.3 333.9,2115.0 368.5,2097.7 403.1,2107.9 437.7,2109.3 472.4,2123.4 507.0,2105.7 541.6,2105.7 576.3,2105.7 610.9,2100.8 645.5,2095.1 680.1,2065.0 714.8,2111.5 749.4,2118.1 784.0,2125.2 818.6,2092.9 853.3,2100.8 887.9,2114.6 922.5,2099.1 957.1,2112.4 991.8,2110.2 1026.4,2116.8 1061.0,2119.0 1095.6,2081.4 1130.3,2107.9 1164.9,2107.9 1199.5,2116.8 1234.1,2116.8 1268.8,2112.4 1303.4,2089.3 1338.0,2105.7 1372.7,2107.9 1407.3,2119.0 1441.9,2107.9 1476.5,2090.7 1511.2,2114.6 1545.8,2121.2 1580.4,2130.1 1615.0,2127.9 1649.7,2125.7 1684.3,2123.4" fill="none" stroke="#00B050" stroke-width="8.5" stroke-linejoin="round" stroke-linecap="round" stroke-dasharray="17 20"/>














































<polyline points="126.1,2113.7 160.7,2125.2 195.4,2121.7 230.0,2123.9 264.6,2118.1 299.2,2119.5 333.9,2131.0 368.5,2131.0 403.1,2118.1 437.7,2127.4 472.4,2123.0 507.0,2125.2 541.6,2119.5 576.3,2123.9 610.9,2127.4 645.5,2125.2 680.1,2113.7 714.8,2125.2 749.4,2127.4 784.0,2129.6 818.6,2133.2 853.3,2123.9 887.9,2119.5 922.5,2107.9 957.1,2115.9 991.8,2100.0 1026.4,2114.6 1061.0,2097.3 1095.6,2131.0 1130.3,2119.5 1164.9,2126.1 1199.5,2117.2 1234.1,2105.7 1268.8,2100.0 1303.4,2113.7 1338.0,2097.3 1372.7,2102.2 1407.3,2123.0 1441.9,2114.6 1476.5,2129.6 1511.2,2123.0 1545.8,2115.9 1580.4,2125.2 1615.0,2118.1 1649.7,2120.3 1684.3,2113.7" fill="none" stroke="#4472C4" stroke-width="8.5" stroke-linejoin="round" stroke-linecap="round" />
<path d="M126.1,2101.7 L136.1,2122.7 L116.1,2122.7 Z" fill="#5B9BD5" stroke="#000" stroke-width="2.5" stroke-linejoin="miter"/>
<path d="M160.7,2113.2 L170.7,2134.2 L150.7,2134.2 Z" fill="#5B9BD5" stroke="#000" stroke-width="2.5" stroke-linejoin="miter"/>
<path d="M195.4,2109.7 L205.4,2130.7 L185.4,2130.7 Z" fill="#5B9BD5" stroke="#000" stroke-width="2.5" stroke-linejoin="miter"/>
<path d="M230.0,2111.9 L240.0,2132.9 L220.0,2132.9 Z" fill="#5B9BD5" stroke="#000" stroke-width="2.5" stroke-linejoin="miter"/>
<path d="M264.6,2106.1 L274.6,2127.1 L254.6,2127.1 Z" fill="#5B9BD5" stroke="#000" stroke-width="2.5" stroke-linejoin="miter"/>
<path d="M299.2,2107.5 L309.2,2128.5 L289.2,2128.5 Z" fill="#5B9BD5" stroke="#000" stroke-width="2.5" stroke-linejoin="miter"/>
<path d="M333.9,2119.0 L343.9,2140.0 L323.9,2140.0 Z" fill="#5B9BD5" stroke="#000" stroke-width="2.5" stroke-linejoin="miter"/>
<path d="M368.5,2119.0 L378.5,2140.0 L358.5,2140.0 Z" fill="#5B9BD5" stroke="#000" stroke-width="2.5" stroke-linejoin="miter"/>
<path d="M403.1,2106.1 L413.1,2127.1 L393.1,2127.1 Z" fill="#5B9BD5" stroke="#000" stroke-width="2.5" stroke-linejoin="miter"/>
<path d="M437.7,2115.4 L447.7,2136.4 L427.7,2136.4 Z" fill="#5B9BD5" stroke="#000" stroke-width="2.5" stroke-linejoin="miter"/>
<path d="M472.4,2111.0 L482.4,2132.0 L462.4,2132.0 Z" fill="#5B9BD5" stroke="#000" stroke-width="2.5" stroke-linejoin="miter"/>
<path d="M507.0,2113.2 L517.0,2134.2 L497.0,2134.2 Z" fill="#5B9BD5" stroke="#000" stroke-width="2.5" stroke-linejoin="miter"/>
<path d="M541.6,2107.5 L551.6,2128.5 L531.6,2128.5 Z" fill="#5B9BD5" stroke="#000" stroke-width="2.5" stroke-linejoin="miter"/>
<path d="M576.3,2111.9 L586.3,2132.9 L566.3,2132.9 Z" fill="#5B9BD5" stroke="#000" stroke-width="2.5" stroke-linejoin="miter"/>
<path d="M610.9,2115.4 L620.9,2136.4 L600.9,2136.4 Z" fill="#5B9BD5" stroke="#000" stroke-width="2.5" stroke-linejoin="miter"/>
<path d="M645.5,2113.2 L655.5,2134.2 L635.5,2134.2 Z" fill="#5B9BD5" stroke="#000" stroke-width="2.5" stroke-linejoin="miter"/>
<path d="M680.1,2101.7 L690.1,2122.7 L670.1,2122.7 Z" fill="#5B9BD5" stroke="#000" stroke-width="2.5" stroke-linejoin="miter"/>
<path d="M714.8,2113.2 L724.8,2134.2 L704.8,2134.2 Z" fill="#5B9BD5" stroke="#000" stroke-width="2.5" stroke-linejoin="miter"/>
<path d="M749.4,2115.4 L759.4,2136.4 L739.4,2136.4 Z" fill="#5B9BD5" stroke="#000" stroke-width="2.5" stroke-linejoin="miter"/>
<path d="M784.0,2117.6 L794.0,2138.6 L774.0,2138.6 Z" fill="#5B9BD5" stroke="#000" stroke-width="2.5" stroke-linejoin="miter"/>
<path d="M818.6,2121.2 L828.6,2142.2 L808.6,2142.2 Z" fill="#5B9BD5" stroke="#000" stroke-width="2.5" stroke-linejoin="miter"/>
<path d="M853.3,2111.9 L863.3,2132.9 L843.3,2132.9 Z" fill="#5B9BD5" stroke="#000" stroke-width="2.5" stroke-linejoin="miter"/>
<path d="M887.9,2107.5 L897.9,2128.5 L877.9,2128.5 Z" fill="#5B9BD5" stroke="#000" stroke-width="2.5" stroke-linejoin="miter"/>
<path d="M922.5,2095.9 L932.5,2116.9 L912.5,2116.9 Z" fill="#5B9BD5" stroke="#000" stroke-width="2.5" stroke-linejoin="miter"/>
<path d="M957.1,2103.9 L967.1,2124.9 L947.1,2124.9 Z" fill="#5B9BD5" stroke="#000" stroke-width="2.5" stroke-linejoin="miter"/>
<path d="M991.8,2088.0 L1001.8,2109.0 L981.8,2109.0 Z" fill="#5B9BD5" stroke="#000" stroke-width="2.5" stroke-linejoin="miter"/>
<path d="M1026.4,2102.6 L1036.4,2123.6 L1016.4,2123.6 Z" fill="#5B9BD5" stroke="#000" stroke-width="2.5" stroke-linejoin="miter"/>
<path d="M1061.0,2085.3 L1071.0,2106.3 L1051.0,2106.3 Z" fill="#5B9BD5" stroke="#000" stroke-width="2.5" stroke-linejoin="miter"/>
<path d="M1095.6,2119.0 L1105.6,2140.0 L1085.6,2140.0 Z" fill="#5B9BD5" stroke="#000" stroke-width="2.5" stroke-linejoin="miter"/>
<path d="M1130.3,2107.5 L1140.3,2128.5 L1120.3,2128.5 Z" fill="#5B9BD5" stroke="#000" stroke-width="2.5" stroke-linejoin="miter"/>
<path d="M1164.9,2114.1 L1174.9,2135.1 L1154.9,2135.1 Z" fill="#5B9BD5" stroke="#000" stroke-width="2.5" stroke-linejoin="miter"/>
<path d="M1199.5,2105.2 L1209.5,2126.2 L1189.5,2126.2 Z" fill="#5B9BD5" stroke="#000" stroke-width="2.5" stroke-linejoin="miter"/>
<path d="M1234.1,2093.7 L1244.1,2114.7 L1224.1,2114.7 Z" fill="#5B9BD5" stroke="#000" stroke-width="2.5" stroke-linejoin="miter"/>
<path d="M1268.8,2088.0 L1278.8,2109.0 L1258.8,2109.0 Z" fill="#5B9BD5" stroke="#000" stroke-width="2.5" stroke-linejoin="miter"/>
<path d="M1303.4,2101.7 L1313.4,2122.7 L1293.4,2122.7 Z" fill="#5B9BD5" stroke="#000" stroke-width="2.5" stroke-linejoin="miter"/>
<path d="M1338.0,2085.3 L1348.0,2106.3 L1328.0,2106.3 Z" fill="#5B9BD5" stroke="#000" stroke-width="2.5" stroke-linejoin="miter"/>
<path d="M1372.7,2090.2 L1382.7,2111.2 L1362.7,2111.2 Z" fill="#5B9BD5" stroke="#000" stroke-width="2.5" stroke-linejoin="miter"/>
<path d="M1407.3,2111.0 L1417.3,2132.0 L1397.3,2132.0 Z" fill="#5B9BD5" stroke="#000" stroke-width="2.5" stroke-linejoin="miter"/>
<path d="M1441.9,2102.6 L1451.9,2123.6 L1431.9,2123.6 Z" fill="#5B9BD5" stroke="#000" stroke-width="2.5" stroke-linejoin="miter"/>
<path d="M1476.5,2117.6 L1486.5,2138.6 L1466.5,2138.6 Z" fill="#5B9BD5" stroke="#000" stroke-width="2.5" stroke-linejoin="miter"/>
<path d="M1511.2,2111.0 L1521.2,2132.0 L1501.2,2132.0 Z" fill="#5B9BD5" stroke="#000" stroke-width="2.5" stroke-linejoin="miter"/>
<path d="M1545.8,2103.9 L1555.8,2124.9 L1535.8,2124.9 Z" fill="#5B9BD5" stroke="#000" stroke-width="2.5" stroke-linejoin="miter"/>
<path d="M1580.4,2113.2 L1590.4,2134.2 L1570.4,2134.2 Z" fill="#5B9BD5" stroke="#000" stroke-width="2.5" stroke-linejoin="miter"/>
<path d="M1615.0,2106.1 L1625.0,2127.1 L1605.0,2127.1 Z" fill="#5B9BD5" stroke="#000" stroke-width="2.5" stroke-linejoin="miter"/>
<path d="M1649.7,2108.3 L1659.7,2129.3 L1639.7,2129.3 Z" fill="#5B9BD5" stroke="#000" stroke-width="2.5" stroke-linejoin="miter"/>
<path d="M1684.3,2101.7 L1694.3,2122.7 L1674.3,2122.7 Z" fill="#5B9BD5" stroke="#000" stroke-width="2.5" stroke-linejoin="miter"/>
<polyline points="126.1,2115.9 160.7,2080.9 195.4,2115.0 230.0,2082.2 264.6,2085.8 299.2,2090.7 333.9,2091.5 368.5,2062.7 403.1,2095.1 437.7,2076.9 472.4,2118.1 507.0,2083.6 541.6,2080.9 576.3,2092.9 610.9,2084.9 645.5,2080.0 680.1,2024.7 714.8,2094.2 749.4,2114.6 784.0,2111.5 818.6,2059.2 853.3,2070.7 887.9,2105.7 922.5,2083.6 957.1,2103.1 991.8,2085.8 1026.4,2085.3 1061.0,2104.4 1095.6,2044.6 1130.3,2096.4 1164.9,2084.9 1199.5,2105.7 1234.1,2107.9 1268.8,2105.7 1303.4,2057.9 1338.0,2107.9 1372.7,2102.2 1407.3,2110.2 1441.9,2087.1 1476.5,2048.6 1511.2,2104.4 1545.8,2088.9 1580.4,2118.1 1615.0,2122.6 1649.7,2111.0 1684.3,2092.9" fill="none" stroke="#4472C4" stroke-width="8.5" stroke-linejoin="round" stroke-linecap="round" stroke-dasharray="17 20"/>
<circle cx="126.1" cy="2115.9" r="8.2" fill="#5B9BD5" stroke="#000" stroke-width="2.5"/>
<circle cx="160.7" cy="2080.9" r="8.2" fill="#5B9BD5" stroke="#000" stroke-width="2.5"/>
<circle cx="195.4" cy="2115.0" r="8.2" fill="#5B9BD5" stroke="#000" stroke-width="2.5"/>
<circle cx="230.0" cy="2082.2" r="8.2" fill="#5B9BD5" stroke="#000" stroke-width="2.5"/>
<circle cx="264.6" cy="2085.8" r="8.2" fill="#5B9BD5" stroke="#000" stroke-width="2.5"/>
<circle cx="299.2" cy="2090.7" r="8.2" fill="#5B9BD5" stroke="#000" stroke-width="2.5"/>
<circle cx="333.9" cy="2091.5" r="8.2" fill="#5B9BD5" stroke="#000" stroke-width="2.5"/>
<circle cx="368.5" cy="2062.7" r="8.2" fill="#5B9BD5" stroke="#000" stroke-width="2.5"/>
<circle cx="403.1" cy="2095.1" r="8.2" fill="#5B9BD5" stroke="#000" stroke-width="2.5"/>
<circle cx="437.7" cy="2076.9" r="8.2" fill="#5B9BD5" stroke="#000" stroke-width="2.5"/>
<circle cx="472.4" cy="2118.1" r="8.2" fill="#5B9BD5" stroke="#000" stroke-width="2.5"/>
<circle cx="507.0" cy="2083.6" r="8.2" fill="#5B9BD5" stroke="#000" stroke-width="2.5"/>
<circle cx="541.6" cy="2080.9" r="8.2" fill="#5B9BD5" stroke="#000" stroke-width="2.5"/>
<circle cx="576.3" cy="2092.9" r="8.2" fill="#5B9BD5" stroke="#000" stroke-width="2.5"/>
<circle cx="610.9" cy="2084.9" r="8.2" fill="#5B9BD5" stroke="#000" stroke-width="2.5"/>
<circle cx="645.5" cy="2080.0" r="8.2" fill="#5B9BD5" stroke="#000" stroke-width="2.5"/>
<circle cx="680.1" cy="2024.7" r="8.2" fill="#5B9BD5" stroke="#000" stroke-width="2.5"/>
<circle cx="714.8" cy="2094.2" r="8.2" fill="#5B9BD5" stroke="#000" stroke-width="2.5"/>
<circle cx="749.4" cy="2114.6" r="8.2" fill="#5B9BD5" stroke="#000" stroke-width="2.5"/>
<circle cx="784.0" cy="2111.5" r="8.2" fill="#5B9BD5" stroke="#000" stroke-width="2.5"/>
<circle cx="818.6" cy="2059.2" r="8.2" fill="#5B9BD5" stroke="#000" stroke-width="2.5"/>
<circle cx="853.3" cy="2070.7" r="8.2" fill="#5B9BD5" stroke="#000" stroke-width="2.5"/>
<circle cx="887.9" cy="2105.7" r="8.2" fill="#5B9BD5" stroke="#000" stroke-width="2.5"/>
<circle cx="922.5" cy="2083.6" r="8.2" fill="#5B9BD5" stroke="#000" stroke-width="2.5"/>
<circle cx="957.1" cy="2103.1" r="8.2" fill="#5B9BD5" stroke="#000" stroke-width="2.5"/>
<circle cx="991.8" cy="2085.8" r="8.2" fill="#5B9BD5" stroke="#000" stroke-width="2.5"/>
<circle cx="1026.4" cy="2085.3" r="8.2" fill="#5B9BD5" stroke="#000" stroke-width="2.5"/>
<circle cx="1061.0" cy="2104.4" r="8.2" fill="#5B9BD5" stroke="#000" stroke-width="2.5"/>
<circle cx="1095.6" cy="2044.6" r="8.2" fill="#5B9BD5" stroke="#000" stroke-width="2.5"/>
<circle cx="1130.3" cy="2096.4" r="8.2" fill="#5B9BD5" stroke="#000" stroke-width="2.5"/>
<circle cx="1164.9" cy="2084.9" r="8.2" fill="#5B9BD5" stroke="#000" stroke-width="2.5"/>
<circle cx="1199.5" cy="2105.7" r="8.2" fill="#5B9BD5" stroke="#000" stroke-width="2.5"/>
<circle cx="1234.1" cy="2107.9" r="8.2" fill="#5B9BD5" stroke="#000" stroke-width="2.5"/>
<circle cx="1268.8" cy="2105.7" r="8.2" fill="#5B9BD5" stroke="#000" stroke-width="2.5"/>
<circle cx="1303.4" cy="2057.9" r="8.2" fill="#5B9BD5" stroke="#000" stroke-width="2.5"/>
<circle cx="1338.0" cy="2107.9" r="8.2" fill="#5B9BD5" stroke="#000" stroke-width="2.5"/>
<circle cx="1372.7" cy="2102.2" r="8.2" fill="#5B9BD5" stroke="#000" stroke-width="2.5"/>
<circle cx="1407.3" cy="2110.2" r="8.2" fill="#5B9BD5" stroke="#000" stroke-width="2.5"/>
<circle cx="1441.9" cy="2087.1" r="8.2" fill="#5B9BD5" stroke="#000" stroke-width="2.5"/>
<circle cx="1476.5" cy="2048.6" r="8.2" fill="#5B9BD5" stroke="#000" stroke-width="2.5"/>
<circle cx="1511.2" cy="2104.4" r="8.2" fill="#5B9BD5" stroke="#000" stroke-width="2.5"/>
<circle cx="1545.8" cy="2088.9" r="8.2" fill="#5B9BD5" stroke="#000" stroke-width="2.5"/>
<circle cx="1580.4" cy="2118.1" r="8.2" fill="#5B9BD5" stroke="#000" stroke-width="2.5"/>
<circle cx="1615.0" cy="2122.6" r="8.2" fill="#5B9BD5" stroke="#000" stroke-width="2.5"/>
<circle cx="1649.7" cy="2111.0" r="8.2" fill="#5B9BD5" stroke="#000" stroke-width="2.5"/>
<circle cx="1684.3" cy="2092.9" r="8.2" fill="#5B9BD5" stroke="#000" stroke-width="2.5"/>
<polyline points="126.1,2154.4 160.7,2158.9 195.4,2153.1 230.0,2156.7 264.6,2153.1 299.2,2154.4 333.9,2154.4 368.5,2154.4 403.1,2158.9 437.7,2158.9 472.4,2157.6 507.0,2158.4 541.6,2155.3 576.3,2154.0 610.9,2155.3 645.5,2151.8 680.1,2151.8 714.8,2157.6 749.4,2158.4 784.0,2161.1 818.6,2161.1 853.3,2161.1 887.9,2155.3 922.5,2148.2 957.1,2155.3 991.8,2154.0 1026.4,2150.5 1061.0,2149.6 1095.6,2154.0 1130.3,2151.8 1164.9,2155.3 1199.5,2151.8 1234.1,2148.2 1268.8,2148.2 1303.4,2150.5 1338.0,2140.3 1372.7,2138.9 1407.3,2158.4 1441.9,2156.2 1476.5,2158.4 1511.2,2159.8 1545.8,2159.8 1580.4,2150.5 1615.0,2155.3 1649.7,2155.3 1684.3,2155.3" fill="none" stroke="#ED7D31" stroke-width="8.5" stroke-linejoin="round" stroke-linecap="round" />
<rect x="117.9" y="2146.2" width="16.4" height="16.4" fill="#ED7D31" stroke="#000" stroke-width="2.5"/>
<rect x="152.5" y="2150.7" width="16.4" height="16.4" fill="#ED7D31" stroke="#000" stroke-width="2.5"/>
<rect x="187.2" y="2144.9" width="16.4" height="16.4" fill="#ED7D31" stroke="#000" stroke-width="2.5"/>
<rect x="221.8" y="2148.5" width="16.4" height="16.4" fill="#ED7D31" stroke="#000" stroke-width="2.5"/>
<rect x="256.4" y="2144.9" width="16.4" height="16.4" fill="#ED7D31" stroke="#000" stroke-width="2.5"/>
<rect x="291.0" y="2146.2" width="16.4" height="16.4" fill="#ED7D31" stroke="#000" stroke-width="2.5"/>
<rect x="325.7" y="2146.2" width="16.4" height="16.4" fill="#ED7D31" stroke="#000" stroke-width="2.5"/>
<rect x="360.3" y="2146.2" width="16.4" height="16.4" fill="#ED7D31" stroke="#000" stroke-width="2.5"/>
<rect x="394.9" y="2150.7" width="16.4" height="16.4" fill="#ED7D31" stroke="#000" stroke-width="2.5"/>
<rect x="429.5" y="2150.7" width="16.4" height="16.4" fill="#ED7D31" stroke="#000" stroke-width="2.5"/>
<rect x="464.2" y="2149.4" width="16.4" height="16.4" fill="#ED7D31" stroke="#000" stroke-width="2.5"/>
<rect x="498.8" y="2150.2" width="16.4" height="16.4" fill="#ED7D31" stroke="#000" stroke-width="2.5"/>
<rect x="533.4" y="2147.1" width="16.4" height="16.4" fill="#ED7D31" stroke="#000" stroke-width="2.5"/>
<rect x="568.1" y="2145.8" width="16.4" height="16.4" fill="#ED7D31" stroke="#000" stroke-width="2.5"/>
<rect x="602.7" y="2147.1" width="16.4" height="16.4" fill="#ED7D31" stroke="#000" stroke-width="2.5"/>
<rect x="637.3" y="2143.6" width="16.4" height="16.4" fill="#ED7D31" stroke="#000" stroke-width="2.5"/>
<rect x="671.9" y="2143.6" width="16.4" height="16.4" fill="#ED7D31" stroke="#000" stroke-width="2.5"/>
<rect x="706.6" y="2149.4" width="16.4" height="16.4" fill="#ED7D31" stroke="#000" stroke-width="2.5"/>
<rect x="741.2" y="2150.2" width="16.4" height="16.4" fill="#ED7D31" stroke="#000" stroke-width="2.5"/>
<rect x="775.8" y="2152.9" width="16.4" height="16.4" fill="#ED7D31" stroke="#000" stroke-width="2.5"/>
<rect x="810.4" y="2152.9" width="16.4" height="16.4" fill="#ED7D31" stroke="#000" stroke-width="2.5"/>
<rect x="845.1" y="2152.9" width="16.4" height="16.4" fill="#ED7D31" stroke="#000" stroke-width="2.5"/>
<rect x="879.7" y="2147.1" width="16.4" height="16.4" fill="#ED7D31" stroke="#000" stroke-width="2.5"/>
<rect x="914.3" y="2140.0" width="16.4" height="16.4" fill="#ED7D31" stroke="#000" stroke-width="2.5"/>
<rect x="948.9" y="2147.1" width="16.4" height="16.4" fill="#ED7D31" stroke="#000" stroke-width="2.5"/>
<rect x="983.6" y="2145.8" width="16.4" height="16.4" fill="#ED7D31" stroke="#000" stroke-width="2.5"/>
<rect x="1018.2" y="2142.3" width="16.4" height="16.4" fill="#ED7D31" stroke="#000" stroke-width="2.5"/>
<rect x="1052.8" y="2141.4" width="16.4" height="16.4" fill="#ED7D31" stroke="#000" stroke-width="2.5"/>
<rect x="1087.4" y="2145.8" width="16.4" height="16.4" fill="#ED7D31" stroke="#000" stroke-width="2.5"/>
<rect x="1122.1" y="2143.6" width="16.4" height="16.4" fill="#ED7D31" stroke="#000" stroke-width="2.5"/>
<rect x="1156.7" y="2147.1" width="16.4" height="16.4" fill="#ED7D31" stroke="#000" stroke-width="2.5"/>
<rect x="1191.3" y="2143.6" width="16.4" height="16.4" fill="#ED7D31" stroke="#000" stroke-width="2.5"/>
<rect x="1225.9" y="2140.0" width="16.4" height="16.4" fill="#ED7D31" stroke="#000" stroke-width="2.5"/>
<rect x="1260.6" y="2140.0" width="16.4" height="16.4" fill="#ED7D31" stroke="#000" stroke-width="2.5"/>
<rect x="1295.2" y="2142.3" width="16.4" height="16.4" fill="#ED7D31" stroke="#000" stroke-width="2.5"/>
<rect x="1329.8" y="2132.1" width="16.4" height="16.4" fill="#ED7D31" stroke="#000" stroke-width="2.5"/>
<rect x="1364.5" y="2130.7" width="16.4" height="16.4" fill="#ED7D31" stroke="#000" stroke-width="2.5"/>
<rect x="1399.1" y="2150.2" width="16.4" height="16.4" fill="#ED7D31" stroke="#000" stroke-width="2.5"/>
<rect x="1433.7" y="2148.0" width="16.4" height="16.4" fill="#ED7D31" stroke="#000" stroke-width="2.5"/>
<rect x="1468.3" y="2150.2" width="16.4" height="16.4" fill="#ED7D31" stroke="#000" stroke-width="2.5"/>
<rect x="1503.0" y="2151.6" width="16.4" height="16.4" fill="#ED7D31" stroke="#000" stroke-width="2.5"/>
<rect x="1537.6" y="2151.6" width="16.4" height="16.4" fill="#ED7D31" stroke="#000" stroke-width="2.5"/>
<rect x="1572.2" y="2142.3" width="16.4" height="16.4" fill="#ED7D31" stroke="#000" stroke-width="2.5"/>
<rect x="1606.8" y="2147.1" width="16.4" height="16.4" fill="#ED7D31" stroke="#000" stroke-width="2.5"/>
<rect x="1641.5" y="2147.1" width="16.4" height="16.4" fill="#ED7D31" stroke="#000" stroke-width="2.5"/>
<rect x="1676.1" y="2147.1" width="16.4" height="16.4" fill="#ED7D31" stroke="#000" stroke-width="2.5"/>
<polyline points="126.1,2140.3 160.7,2142.5 195.4,2140.3 230.0,2143.4 264.6,2129.6 299.2,2141.2 333.9,2144.7 368.5,2144.7 403.1,2128.8 437.7,2129.6 472.4,2142.5 507.0,2143.8 541.6,2138.9 576.3,2138.9 610.9,2138.9 645.5,2127.0 680.1,2133.2 714.8,2133.2 749.4,2133.2 784.0,2141.2 818.6,2136.7 853.3,2140.3 887.9,2140.3 922.5,2132.3 957.1,2133.2 991.8,2137.6 1026.4,2128.8 1061.0,2137.6 1095.6,2141.2 1130.3,2138.9 1164.9,2141.2 1199.5,2135.4 1234.1,2134.5 1268.8,2137.6 1303.4,2133.2 1338.0,2120.3 1372.7,2133.2 1407.3,2141.2 1441.9,2144.7 1476.5,2140.3 1511.2,2140.3 1545.8,2138.9 1580.4,2141.2 1615.0,2150.5 1649.7,2149.6 1684.3,2121.7" fill="none" stroke="#ED7D31" stroke-width="8.5" stroke-linejoin="round" stroke-linecap="round" stroke-dasharray="17 20"/>
<rect x="115.6" y="2129.8" width="21" height="21" fill="#ED7D31"/><path d="M117.1,2140.3H135.1M126.1,2131.3V2149.3" stroke="#000" stroke-width="2.8"/>
<rect x="150.2" y="2132.0" width="21" height="21" fill="#ED7D31"/><path d="M151.7,2142.5H169.7M160.7,2133.5V2151.5" stroke="#000" stroke-width="2.8"/>
<rect x="184.9" y="2129.8" width="21" height="21" fill="#ED7D31"/><path d="M186.4,2140.3H204.4M195.4,2131.3V2149.3" stroke="#000" stroke-width="2.8"/>
<rect x="219.5" y="2132.9" width="21" height="21" fill="#ED7D31"/><path d="M221.0,2143.4H239.0M230.0,2134.4V2152.4" stroke="#000" stroke-width="2.8"/>
<rect x="254.1" y="2119.1" width="21" height="21" fill="#ED7D31"/><path d="M255.6,2129.6H273.6M264.6,2120.6V2138.6" stroke="#000" stroke-width="2.8"/>
<rect x="288.7" y="2130.7" width="21" height="21" fill="#ED7D31"/><path d="M290.2,2141.2H308.2M299.2,2132.2V2150.2" stroke="#000" stroke-width="2.8"/>
<rect x="323.4" y="2134.2" width="21" height="21" fill="#ED7D31"/><path d="M324.9,2144.7H342.9M333.9,2135.7V2153.7" stroke="#000" stroke-width="2.8"/>
<rect x="358.0" y="2134.2" width="21" height="21" fill="#ED7D31"/><path d="M359.5,2144.7H377.5M368.5,2135.7V2153.7" stroke="#000" stroke-width="2.8"/>
<rect x="392.6" y="2118.3" width="21" height="21" fill="#ED7D31"/><path d="M394.1,2128.8H412.1M403.1,2119.8V2137.8" stroke="#000" stroke-width="2.8"/>
<rect x="427.2" y="2119.1" width="21" height="21" fill="#ED7D31"/><path d="M428.7,2129.6H446.7M437.7,2120.6V2138.6" stroke="#000" stroke-width="2.8"/>
<rect x="461.9" y="2132.0" width="21" height="21" fill="#ED7D31"/><path d="M463.4,2142.5H481.4M472.4,2133.5V2151.5" stroke="#000" stroke-width="2.8"/>
<rect x="496.5" y="2133.3" width="21" height="21" fill="#ED7D31"/><path d="M498.0,2143.8H516.0M507.0,2134.8V2152.8" stroke="#000" stroke-width="2.8"/>
<rect x="531.1" y="2128.4" width="21" height="21" fill="#ED7D31"/><path d="M532.6,2138.9H550.6M541.6,2129.9V2147.9" stroke="#000" stroke-width="2.8"/>
<rect x="565.8" y="2128.4" width="21" height="21" fill="#ED7D31"/><path d="M567.3,2138.9H585.3M576.3,2129.9V2147.9" stroke="#000" stroke-width="2.8"/>
<rect x="600.4" y="2128.4" width="21" height="21" fill="#ED7D31"/><path d="M601.9,2138.9H619.9M610.9,2129.9V2147.9" stroke="#000" stroke-width="2.8"/>
<rect x="635.0" y="2116.5" width="21" height="21" fill="#ED7D31"/><path d="M636.5,2127.0H654.5M645.5,2118.0V2136.0" stroke="#000" stroke-width="2.8"/>
<rect x="669.6" y="2122.7" width="21" height="21" fill="#ED7D31"/><path d="M671.1,2133.2H689.1M680.1,2124.2V2142.2" stroke="#000" stroke-width="2.8"/>
<rect x="704.3" y="2122.7" width="21" height="21" fill="#ED7D31"/><path d="M705.8,2133.2H723.8M714.8,2124.2V2142.2" stroke="#000" stroke-width="2.8"/>
<rect x="738.9" y="2122.7" width="21" height="21" fill="#ED7D31"/><path d="M740.4,2133.2H758.4M749.4,2124.2V2142.2" stroke="#000" stroke-width="2.8"/>
<rect x="773.5" y="2130.7" width="21" height="21" fill="#ED7D31"/><path d="M775.0,2141.2H793.0M784.0,2132.2V2150.2" stroke="#000" stroke-width="2.8"/>
<rect x="808.1" y="2126.2" width="21" height="21" fill="#ED7D31"/><path d="M809.6,2136.7H827.6M818.6,2127.7V2145.7" stroke="#000" stroke-width="2.8"/>
<rect x="842.8" y="2129.8" width="21" height="21" fill="#ED7D31"/><path d="M844.3,2140.3H862.3M853.3,2131.3V2149.3" stroke="#000" stroke-width="2.8"/>
<rect x="877.4" y="2129.8" width="21" height="21" fill="#ED7D31"/><path d="M878.9,2140.3H896.9M887.9,2131.3V2149.3" stroke="#000" stroke-width="2.8"/>
<rect x="912.0" y="2121.8" width="21" height="21" fill="#ED7D31"/><path d="M913.5,2132.3H931.5M922.5,2123.3V2141.3" stroke="#000" stroke-width="2.8"/>
<rect x="946.6" y="2122.7" width="21" height="21" fill="#ED7D31"/><path d="M948.1,2133.2H966.1M957.1,2124.2V2142.2" stroke="#000" stroke-width="2.8"/>
<rect x="981.3" y="2127.1" width="21" height="21" fill="#ED7D31"/><path d="M982.8,2137.6H1000.8M991.8,2128.6V2146.6" stroke="#000" stroke-width="2.8"/>
<rect x="1015.9" y="2118.3" width="21" height="21" fill="#ED7D31"/><path d="M1017.4,2128.8H1035.4M1026.4,2119.8V2137.8" stroke="#000" stroke-width="2.8"/>
<rect x="1050.5" y="2127.1" width="21" height="21" fill="#ED7D31"/><path d="M1052.0,2137.6H1070.0M1061.0,2128.6V2146.6" stroke="#000" stroke-width="2.8"/>
<rect x="1085.1" y="2130.7" width="21" height="21" fill="#ED7D31"/><path d="M1086.6,2141.2H1104.6M1095.6,2132.2V2150.2" stroke="#000" stroke-width="2.8"/>
<rect x="1119.8" y="2128.4" width="21" height="21" fill="#ED7D31"/><path d="M1121.3,2138.9H1139.3M1130.3,2129.9V2147.9" stroke="#000" stroke-width="2.8"/>
<rect x="1154.4" y="2130.7" width="21" height="21" fill="#ED7D31"/><path d="M1155.9,2141.2H1173.9M1164.9,2132.2V2150.2" stroke="#000" stroke-width="2.8"/>
<rect x="1189.0" y="2124.9" width="21" height="21" fill="#ED7D31"/><path d="M1190.5,2135.4H1208.5M1199.5,2126.4V2144.4" stroke="#000" stroke-width="2.8"/>
<rect x="1223.6" y="2124.0" width="21" height="21" fill="#ED7D31"/><path d="M1225.1,2134.5H1243.1M1234.1,2125.5V2143.5" stroke="#000" stroke-width="2.8"/>
<rect x="1258.3" y="2127.1" width="21" height="21" fill="#ED7D31"/><path d="M1259.8,2137.6H1277.8M1268.8,2128.6V2146.6" stroke="#000" stroke-width="2.8"/>
<rect x="1292.9" y="2122.7" width="21" height="21" fill="#ED7D31"/><path d="M1294.4,2133.2H1312.4M1303.4,2124.2V2142.2" stroke="#000" stroke-width="2.8"/>
<rect x="1327.5" y="2109.8" width="21" height="21" fill="#ED7D31"/><path d="M1329.0,2120.3H1347.0M1338.0,2111.3V2129.3" stroke="#000" stroke-width="2.8"/>
<rect x="1362.2" y="2122.7" width="21" height="21" fill="#ED7D31"/><path d="M1363.7,2133.2H1381.7M1372.7,2124.2V2142.2" stroke="#000" stroke-width="2.8"/>
<rect x="1396.8" y="2130.7" width="21" height="21" fill="#ED7D31"/><path d="M1398.3,2141.2H1416.3M1407.3,2132.2V2150.2" stroke="#000" stroke-width="2.8"/>
<rect x="1431.4" y="2134.2" width="21" height="21" fill="#ED7D31"/><path d="M1432.9,2144.7H1450.9M1441.9,2135.7V2153.7" stroke="#000" stroke-width="2.8"/>
<rect x="1466.0" y="2129.8" width="21" height="21" fill="#ED7D31"/><path d="M1467.5,2140.3H1485.5M1476.5,2131.3V2149.3" stroke="#000" stroke-width="2.8"/>
<rect x="1500.7" y="2129.8" width="21" height="21" fill="#ED7D31"/><path d="M1502.2,2140.3H1520.2M1511.2,2131.3V2149.3" stroke="#000" stroke-width="2.8"/>
<rect x="1535.3" y="2128.4" width="21" height="21" fill="#ED7D31"/><path d="M1536.8,2138.9H1554.8M1545.8,2129.9V2147.9" stroke="#000" stroke-width="2.8"/>
<rect x="1569.9" y="2130.7" width="21" height="21" fill="#ED7D31"/><path d="M1571.4,2141.2H1589.4M1580.4,2132.2V2150.2" stroke="#000" stroke-width="2.8"/>
<rect x="1604.5" y="2140.0" width="21" height="21" fill="#ED7D31"/><path d="M1606.0,2150.5H1624.0M1615.0,2141.5V2159.5" stroke="#000" stroke-width="2.8"/>
<rect x="1639.2" y="2139.1" width="21" height="21" fill="#ED7D31"/><path d="M1640.7,2149.6H1658.7M1649.7,2140.6V2158.6" stroke="#000" stroke-width="2.8"/>
<rect x="1673.8" y="2111.2" width="21" height="21" fill="#ED7D31"/><path d="M1675.3,2121.7H1693.3M1684.3,2112.7V2130.7" stroke="#000" stroke-width="2.8"/>
<rect x="108.8" y="1866.5" width="1592.8" height="310.1" fill="none" stroke="#000" stroke-width="2.6"/>
<line x1="126.1" y1="2176.6" x2="126.1" y2="2185.6" stroke="#000" stroke-width="2.2"/>
<line x1="160.7" y1="2176.6" x2="160.7" y2="2185.6" stroke="#000" stroke-width="2.2"/>
<line x1="195.4" y1="2176.6" x2="195.4" y2="2185.6" stroke="#000" stroke-width="2.2"/>
<line x1="230.0" y1="2176.6" x2="230.0" y2="2185.6" stroke="#000" stroke-width="2.2"/>
<line x1="264.6" y1="2176.6" x2="264.6" y2="2185.6" stroke="#000" stroke-width="2.2"/>
<line x1="299.2" y1="2176.6" x2="299.2" y2="2185.6" stroke="#000" stroke-width="2.2"/>
<line x1="333.9" y1="2176.6" x2="333.9" y2="2185.6" stroke="#000" stroke-width="2.2"/>
<line x1="368.5" y1="2176.6" x2="368.5" y2="2185.6" stroke="#000" stroke-width="2.2"/>
<line x1="403.1" y1="2176.6" x2="403.1" y2="2185.6" stroke="#000" stroke-width="2.2"/>
<line x1="437.7" y1="2176.6" x2="437.7" y2="2185.6" stroke="#000" stroke-width="2.2"/>
<line x1="472.4" y1="2176.6" x2="472.4" y2="2185.6" stroke="#000" stroke-width="2.2"/>
<line x1="507.0" y1="2176.6" x2="507.0" y2="2185.6" stroke="#000" stroke-width="2.2"/>
<line x1="541.6" y1="2176.6" x2="541.6" y2="2185.6" stroke="#000" stroke-width="2.2"/>
<line x1="576.3" y1="2176.6" x2="576.3" y2="2185.6" stroke="#000" stroke-width="2.2"/>
<line x1="610.9" y1="2176.6" x2="610.9" y2="2185.6" stroke="#000" stroke-width="2.2"/>
<line x1="645.5" y1="2176.6" x2="645.5" y2="2185.6" stroke="#000" stroke-width="2.2"/>
<line x1="680.1" y1="2176.6" x2="680.1" y2="2185.6" stroke="#000" stroke-width="2.2"/>
<line x1="714.8" y1="2176.6" x2="714.8" y2="2185.6" stroke="#000" stroke-width="2.2"/>
<line x1="749.4" y1="2176.6" x2="749.4" y2="2185.6" stroke="#000" stroke-width="2.2"/>
<line x1="784.0" y1="2176.6" x2="784.0" y2="2185.6" stroke="#000" stroke-width="2.2"/>
<line x1="818.6" y1="2176.6" x2="818.6" y2="2185.6" stroke="#000" stroke-width="2.2"/>
<line x1="853.3" y1="2176.6" x2="853.3" y2="2185.6" stroke="#000" stroke-width="2.2"/>
<line x1="887.9" y1="2176.6" x2="887.9" y2="2185.6" stroke="#000" stroke-width="2.2"/>
<line x1="922.5" y1="2176.6" x2="922.5" y2="2185.6" stroke="#000" stroke-width="2.2"/>
<line x1="957.1" y1="2176.6" x2="957.1" y2="2185.6" stroke="#000" stroke-width="2.2"/>
<line x1="991.8" y1="2176.6" x2="991.8" y2="2185.6" stroke="#000" stroke-width="2.2"/>
<line x1="1026.4" y1="2176.6" x2="1026.4" y2="2185.6" stroke="#000" stroke-width="2.2"/>
<line x1="1061.0" y1="2176.6" x2="1061.0" y2="2185.6" stroke="#000" stroke-width="2.2"/>
<line x1="1095.6" y1="2176.6" x2="1095.6" y2="2185.6" stroke="#000" stroke-width="2.2"/>
<line x1="1130.3" y1="2176.6" x2="1130.3" y2="2185.6" stroke="#000" stroke-width="2.2"/>
<line x1="1164.9" y1="2176.6" x2="1164.9" y2="2185.6" stroke="#000" stroke-width="2.2"/>
<line x1="1199.5" y1="2176.6" x2="1199.5" y2="2185.6" stroke="#000" stroke-width="2.2"/>
<line x1="1234.1" y1="2176.6" x2="1234.1" y2="2185.6" stroke="#000" stroke-width="2.2"/>
<line x1="1268.8" y1="2176.6" x2="1268.8" y2="2185.6" stroke="#000" stroke-width="2.2"/>
<line x1="1303.4" y1="2176.6" x2="1303.4" y2="2185.6" stroke="#000" stroke-width="2.2"/>
<line x1="1338.0" y1="2176.6" x2="1338.0" y2="2185.6" stroke="#000" stroke-width="2.2"/>
<line x1="1372.7" y1="2176.6" x2="1372.7" y2="2185.6" stroke="#000" stroke-width="2.2"/>
<line x1="1407.3" y1="2176.6" x2="1407.3" y2="2185.6" stroke="#000" stroke-width="2.2"/>
<line x1="1441.9" y1="2176.6" x2="1441.9" y2="2185.6" stroke="#000" stroke-width="2.2"/>
<line x1="1476.5" y1="2176.6" x2="1476.5" y2="2185.6" stroke="#000" stroke-width="2.2"/>
<line x1="1511.2" y1="2176.6" x2="1511.2" y2="2185.6" stroke="#000" stroke-width="2.2"/>
<line x1="1545.8" y1="2176.6" x2="1545.8" y2="2185.6" stroke="#000" stroke-width="2.2"/>
<line x1="1580.4" y1="2176.6" x2="1580.4" y2="2185.6" stroke="#000" stroke-width="2.2"/>
<line x1="1615.0" y1="2176.6" x2="1615.0" y2="2185.6" stroke="#000" stroke-width="2.2"/>
<line x1="1649.7" y1="2176.6" x2="1649.7" y2="2185.6" stroke="#000" stroke-width="2.2"/>
<line x1="1684.3" y1="2176.6" x2="1684.3" y2="2185.6" stroke="#000" stroke-width="2.2"/>
<text transform="translate(134.0,2191.0) rotate(-90)" font-family="Carlito, 'Liberation Sans', sans-serif" font-size="24" font-weight="bold" text-anchor="end" textLength="12.17" lengthAdjust="spacingAndGlyphs">1</text>
<text transform="translate(168.7,2191.0) rotate(-90)" font-family="Carlito, 'Liberation Sans', sans-serif" font-size="24" font-weight="bold" text-anchor="end" textLength="12.17" lengthAdjust="spacingAndGlyphs">2</text>
<text transform="translate(203.3,2191.0) rotate(-90)" font-family="Carlito, 'Liberation Sans', sans-serif" font-size="24" font-weight="bold" text-anchor="end" textLength="12.17" lengthAdjust="spacingAndGlyphs">3</text>
<text transform="translate(237.9,2191.0) rotate(-90)" font-family="Carlito, 'Liberation Sans', sans-serif" font-size="24" font-weight="bold" text-anchor="end" textLength="12.17" lengthAdjust="spacingAndGlyphs">4</text>
<text transform="translate(272.5,2191.0) rotate(-90)" font-family="Carlito, 'Liberation Sans', sans-serif" font-size="24" font-weight="bold" text-anchor="end" textLength="12.17" lengthAdjust="spacingAndGlyphs">5</text>
<text transform="translate(307.2,2191.0) rotate(-90)" font-family="Carlito, 'Liberation Sans', sans-serif" font-size="24" font-weight="bold" text-anchor="end" textLength="12.17" lengthAdjust="spacingAndGlyphs">6</text>
<text transform="translate(341.8,2191.0) rotate(-90)" font-family="Carlito, 'Liberation Sans', sans-serif" font-size="24" font-weight="bold" text-anchor="end" textLength="64.7" lengthAdjust="spacingAndGlyphs">6_RCA</text>
<text transform="translate(376.4,2191.0) rotate(-90)" font-family="Carlito, 'Liberation Sans', sans-serif" font-size="24" font-weight="bold" text-anchor="end" textLength="94.42" lengthAdjust="spacingAndGlyphs">6_RegCM</text>
<text transform="translate(411.0,2191.0) rotate(-90)" font-family="Carlito, 'Liberation Sans', sans-serif" font-size="24" font-weight="bold" text-anchor="end" textLength="12.17" lengthAdjust="spacingAndGlyphs">7</text>
<text transform="translate(445.7,2191.0) rotate(-90)" font-family="Carlito, 'Liberation Sans', sans-serif" font-size="24" font-weight="bold" text-anchor="end" textLength="12.17" lengthAdjust="spacingAndGlyphs">8</text>
<text transform="translate(480.3,2191.0) rotate(-90)" font-family="Carlito, 'Liberation Sans', sans-serif" font-size="24" font-weight="bold" text-anchor="end" textLength="12.17" lengthAdjust="spacingAndGlyphs">9</text>
<text transform="translate(514.9,2191.0) rotate(-90)" font-family="Carlito, 'Liberation Sans', sans-serif" font-size="24" font-weight="bold" text-anchor="end" textLength="64.7" lengthAdjust="spacingAndGlyphs">9_RCA</text>
<text transform="translate(549.5,2191.0) rotate(-90)" font-family="Carlito, 'Liberation Sans', sans-serif" font-size="24" font-weight="bold" text-anchor="end" textLength="94.42" lengthAdjust="spacingAndGlyphs">9_RegCM</text>
<text transform="translate(584.2,2191.0) rotate(-90)" font-family="Carlito, 'Liberation Sans', sans-serif" font-size="24" font-weight="bold" text-anchor="end" textLength="24.33" lengthAdjust="spacingAndGlyphs">10</text>
<text transform="translate(618.8,2191.0) rotate(-90)" font-family="Carlito, 'Liberation Sans', sans-serif" font-size="24" font-weight="bold" text-anchor="end" textLength="76.88" lengthAdjust="spacingAndGlyphs">10_RCA</text>
<text transform="translate(653.4,2191.0) rotate(-90)" font-family="Carlito, 'Liberation Sans', sans-serif" font-size="24" font-weight="bold" text-anchor="end" textLength="106.59" lengthAdjust="spacingAndGlyphs">10_RegCM</text>
<text transform="translate(688.1,2191.0) rotate(-90)" font-family="Carlito, 'Liberation Sans', sans-serif" font-size="24" font-weight="bold" text-anchor="end" textLength="24.33" lengthAdjust="spacingAndGlyphs">11</text>
<text transform="translate(722.7,2191.0) rotate(-90)" font-family="Carlito, 'Liberation Sans', sans-serif" font-size="24" font-weight="bold" text-anchor="end" textLength="24.33" lengthAdjust="spacingAndGlyphs">12</text>
<text transform="translate(757.3,2191.0) rotate(-90)" font-family="Carlito, 'Liberation Sans', sans-serif" font-size="24" font-weight="bold" text-anchor="end" textLength="24.33" lengthAdjust="spacingAndGlyphs">13</text>
<text transform="translate(791.9,2191.0) rotate(-90)" font-family="Carlito, 'Liberation Sans', sans-serif" font-size="24" font-weight="bold" text-anchor="end" textLength="24.33" lengthAdjust="spacingAndGlyphs">14</text>
<text transform="translate(826.6,2191.0) rotate(-90)" font-family="Carlito, 'Liberation Sans', sans-serif" font-size="24" font-weight="bold" text-anchor="end" textLength="76.88" lengthAdjust="spacingAndGlyphs">14_RCA</text>
<text transform="translate(861.2,2191.0) rotate(-90)" font-family="Carlito, 'Liberation Sans', sans-serif" font-size="24" font-weight="bold" text-anchor="end" textLength="106.59" lengthAdjust="spacingAndGlyphs">14_RegCM</text>
<text transform="translate(895.8,2191.0) rotate(-90)" font-family="Carlito, 'Liberation Sans', sans-serif" font-size="24" font-weight="bold" text-anchor="end" textLength="24.33" lengthAdjust="spacingAndGlyphs">15</text>
<text transform="translate(930.4,2191.0) rotate(-90)" font-family="Carlito, 'Liberation Sans', sans-serif" font-size="24" font-weight="bold" text-anchor="end" textLength="24.33" lengthAdjust="spacingAndGlyphs">16</text>
<text transform="translate(965.1,2191.0) rotate(-90)" font-family="Carlito, 'Liberation Sans', sans-serif" font-size="24" font-weight="bold" text-anchor="end" textLength="24.33" lengthAdjust="spacingAndGlyphs">17</text>
<text transform="translate(999.7,2191.0) rotate(-90)" font-family="Carlito, 'Liberation Sans', sans-serif" font-size="24" font-weight="bold" text-anchor="end" textLength="76.88" lengthAdjust="spacingAndGlyphs">17_RCA</text>
<text transform="translate(1034.3,2191.0) rotate(-90)" font-family="Carlito, 'Liberation Sans', sans-serif" font-size="24" font-weight="bold" text-anchor="end" textLength="24.33" lengthAdjust="spacingAndGlyphs">18</text>
<text transform="translate(1068.9,2191.0) rotate(-90)" font-family="Carlito, 'Liberation Sans', sans-serif" font-size="24" font-weight="bold" text-anchor="end" textLength="24.33" lengthAdjust="spacingAndGlyphs">19</text>
<text transform="translate(1103.6,2191.0) rotate(-90)" font-family="Carlito, 'Liberation Sans', sans-serif" font-size="24" font-weight="bold" text-anchor="end" textLength="106.59" lengthAdjust="spacingAndGlyphs">19_RegCM</text>
<text transform="translate(1138.2,2191.0) rotate(-90)" font-family="Carlito, 'Liberation Sans', sans-serif" font-size="24" font-weight="bold" text-anchor="end" textLength="24.33" lengthAdjust="spacingAndGlyphs">20</text>
<text transform="translate(1172.8,2191.0) rotate(-90)" font-family="Carlito, 'Liberation Sans', sans-serif" font-size="24" font-weight="bold" text-anchor="end" textLength="76.88" lengthAdjust="spacingAndGlyphs">20_RCA</text>
<text transform="translate(1207.4,2191.0) rotate(-90)" font-family="Carlito, 'Liberation Sans', sans-serif" font-size="24" font-weight="bold" text-anchor="end" textLength="24.33" lengthAdjust="spacingAndGlyphs">21</text>
<text transform="translate(1242.1,2191.0) rotate(-90)" font-family="Carlito, 'Liberation Sans', sans-serif" font-size="24" font-weight="bold" text-anchor="end" textLength="24.33" lengthAdjust="spacingAndGlyphs">22</text>
<text transform="translate(1276.7,2191.0) rotate(-90)" font-family="Carlito, 'Liberation Sans', sans-serif" font-size="24" font-weight="bold" text-anchor="end" textLength="24.33" lengthAdjust="spacingAndGlyphs">23</text>
<text transform="translate(1311.3,2191.0) rotate(-90)" font-family="Carlito, 'Liberation Sans', sans-serif" font-size="24" font-weight="bold" text-anchor="end" textLength="76.88" lengthAdjust="spacingAndGlyphs">23_RCA</text>
<text transform="translate(1345.9,2191.0) rotate(-90)" font-family="Carlito, 'Liberation Sans', sans-serif" font-size="24" font-weight="bold" text-anchor="end" textLength="24.33" lengthAdjust="spacingAndGlyphs">24</text>
<text transform="translate(1380.6,2191.0) rotate(-90)" font-family="Carlito, 'Liberation Sans', sans-serif" font-size="24" font-weight="bold" text-anchor="end" textLength="24.33" lengthAdjust="spacingAndGlyphs">25</text>
<text transform="translate(1415.2,2191.0) rotate(-90)" font-family="Carlito, 'Liberation Sans', sans-serif" font-size="24" font-weight="bold" text-anchor="end" textLength="24.33" lengthAdjust="spacingAndGlyphs">26</text>
<text transform="translate(1449.8,2191.0) rotate(-90)" font-family="Carlito, 'Liberation Sans', sans-serif" font-size="24" font-weight="bold" text-anchor="end" textLength="76.88" lengthAdjust="spacingAndGlyphs">26_RCA</text>
<text transform="translate(1484.5,2191.0) rotate(-90)" font-family="Carlito, 'Liberation Sans', sans-serif" font-size="24" font-weight="bold" text-anchor="end" textLength="98.72" lengthAdjust="spacingAndGlyphs">26_REMO</text>
<text transform="translate(1519.1,2191.0) rotate(-90)" font-family="Carlito, 'Liberation Sans', sans-serif" font-size="24" font-weight="bold" text-anchor="end" textLength="24.33" lengthAdjust="spacingAndGlyphs">27</text>
<text transform="translate(1553.7,2191.0) rotate(-90)" font-family="Carlito, 'Liberation Sans', sans-serif" font-size="24" font-weight="bold" text-anchor="end" textLength="106.59" lengthAdjust="spacingAndGlyphs">27_RegCM</text>
<text transform="translate(1588.3,2191.0) rotate(-90)" font-family="Carlito, 'Liberation Sans', sans-serif" font-size="24" font-weight="bold" text-anchor="end" textLength="24.33" lengthAdjust="spacingAndGlyphs">28</text>
<text transform="translate(1623.0,2191.0) rotate(-90)" font-family="Carlito, 'Liberation Sans', sans-serif" font-size="24" font-weight="bold" text-anchor="end" textLength="24.33" lengthAdjust="spacingAndGlyphs">29</text>
<text transform="translate(1657.6,2191.0) rotate(-90)" font-family="Carlito, 'Liberation Sans', sans-serif" font-size="24" font-weight="bold" text-anchor="end" textLength="24.33" lengthAdjust="spacingAndGlyphs">32</text>
<text transform="translate(1692.2,2191.0) rotate(-90)" font-family="Carlito, 'Liberation Sans', sans-serif" font-size="24" font-weight="bold" text-anchor="end" textLength="76.88" lengthAdjust="spacingAndGlyphs">31_RCA</text>
<text transform="translate(39,2023) rotate(-90)" font-family="Carlito, 'Liberation Sans', sans-serif" font-weight="bold" font-size="40" text-anchor="middle" textLength="81.62" lengthAdjust="spacingAndGlyphs">MAB</text>
<text x="905.0" y="2351.0" font-family="Carlito, 'Liberation Sans', sans-serif" font-size="39.5" font-weight="bold" text-anchor="middle" textLength="151.2" lengthAdjust="spacingAndGlyphs" >Model ID</text>
<line x1="1742.7" y1="1901.0" x2="1844.3" y2="1901.0" stroke="#00B050" stroke-width="9" stroke-linecap="round"/>
<text x="1856.7" y="1910.2" font-family="Carlito, 'Liberation Sans', sans-serif" font-size="28" font-weight="bold" text-anchor="start" textLength="245.05" lengthAdjust="spacingAndGlyphs" >SA domain_historical</text>
<line x1="1742.7" y1="1964.8" x2="1844.3" y2="1964.8" stroke="#00B050" stroke-width="9" stroke-linecap="round" stroke-dasharray="18.5 18.5"/>
<text x="1856.7" y="1974.0" font-family="Carlito, 'Liberation Sans', sans-serif" font-size="28" font-weight="bold" text-anchor="start" textLength="227.22" lengthAdjust="spacingAndGlyphs" >SA domain_present</text>
<line x1="1742.7" y1="2028.6" x2="1844.3" y2="2028.6" stroke="#4472C4" stroke-width="9" stroke-linecap="round"/>
<path d="M1793.5,2016.6 L1803.5,2037.6 L1783.5,2037.6 Z" fill="#5B9BD5" stroke="#000" stroke-width="2.5" stroke-linejoin="miter"/>
<text x="1856.7" y="2037.8" font-family="Carlito, 'Liberation Sans', sans-serif" font-size="28" font-weight="bold" text-anchor="start" textLength="193.88" lengthAdjust="spacingAndGlyphs" >Ocean_historical</text>
<line x1="1742.7" y1="2092.4" x2="1844.3" y2="2092.4" stroke="#4472C4" stroke-width="9" stroke-linecap="round" stroke-dasharray="18.5 18.5"/>
<circle cx="1793.5" cy="2092.4" r="8.2" fill="#5B9BD5" stroke="#000" stroke-width="2.5"/>
<text x="1856.7" y="2101.6" font-family="Carlito, 'Liberation Sans', sans-serif" font-size="28" font-weight="bold" text-anchor="start" textLength="176.05" lengthAdjust="spacingAndGlyphs" >Ocean_present</text>
<line x1="1742.7" y1="2156.2" x2="1844.3" y2="2156.2" stroke="#ED7D31" stroke-width="9" stroke-linecap="round"/>
<rect x="1785.3" y="2148.0" width="16.4" height="16.4" fill="#ED7D31" stroke="#000" stroke-width="2.5"/>
<text x="1856.7" y="2165.4" font-family="Carlito, 'Liberation Sans', sans-serif" font-size="28" font-weight="bold" text-anchor="start" textLength="175.98" lengthAdjust="spacingAndGlyphs" >Land_historical</text>
<line x1="1742.7" y1="2220.0" x2="1844.3" y2="2220.0" stroke="#ED7D31" stroke-width="9" stroke-linecap="round" stroke-dasharray="18.5 18.5"/>
<rect x="1783.0" y="2209.5" width="21" height="21" fill="#ED7D31"/><path d="M1784.5,2220.0H1802.5M1793.5,2211.0V2229.0" stroke="#000" stroke-width="2.8"/>
<text x="1856.7" y="2229.2" font-family="Carlito, 'Liberation Sans', sans-serif" font-size="28" font-weight="bold" text-anchor="start" textLength="158.16" lengthAdjust="spacingAndGlyphs" >Land_present</text>
</svg></body></html>
